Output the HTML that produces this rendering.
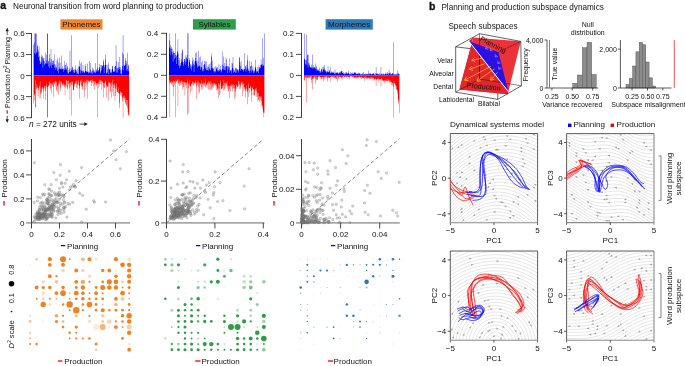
<!DOCTYPE html>
<html><head><meta charset="utf-8"><style>
html,body{margin:0;padding:0;background:#fff;width:685px;height:366px;overflow:hidden}
svg{display:block;will-change:transform}
text{font-family:"Liberation Sans",sans-serif}
</style></head><body>
<svg width="685" height="366" viewBox="0 0 685 366">
<text x="0.20" y="9.40" font-size="10.5" text-anchor="start" fill="#141414" font-weight="bold" stroke="#141414" stroke-width="0.35">a</text>
<text x="13.00" y="9.30" font-size="8.2" text-anchor="start" fill="#141414" >Neuronal transition from word planning to production</text>
<g>
<line x1="31.50" y1="33.10" x2="31.50" y2="118.10" stroke="#2a2a2a" stroke-width="0.9" />
<line x1="26.00" y1="33.50" x2="31.50" y2="33.50" stroke="#2a2a2a" stroke-width="0.85" />
<text x="24.70" y="36.40" font-size="8" text-anchor="end" fill="#141414" >0.6</text>
<line x1="26.00" y1="54.55" x2="31.50" y2="54.55" stroke="#2a2a2a" stroke-width="0.85" />
<text x="24.70" y="57.45" font-size="8" text-anchor="end" fill="#141414" >0.3</text>
<line x1="26.00" y1="75.60" x2="31.50" y2="75.60" stroke="#2a2a2a" stroke-width="0.85" />
<text x="24.70" y="78.50" font-size="8" text-anchor="end" fill="#141414" >0</text>
<line x1="26.00" y1="96.65" x2="31.50" y2="96.65" stroke="#2a2a2a" stroke-width="0.85" />
<text x="24.70" y="99.55" font-size="8" text-anchor="end" fill="#141414" >0.3</text>
<line x1="26.00" y1="117.70" x2="31.50" y2="117.70" stroke="#2a2a2a" stroke-width="0.85" />
<text x="24.70" y="120.60" font-size="8" text-anchor="end" fill="#141414" >0.6</text>
<rect x="60.4" y="19.3" width="42.10" height="10.20" fill="#f0852d"/>
<text x="81.45" y="26.90" font-size="8" text-anchor="middle" fill="#141414" >Phonemes</text>
<path d="M33.60 75.6h0.351v-30.8h-0.351zM33.95 75.6h0.351v-33.2h-0.351zM34.30 75.6h0.351v-42.0h-0.351zM34.65 75.6h0.351v-22.5h-0.351zM35.01 75.6h0.351v-42.0h-0.351zM35.36 75.6h0.351v-21.2h-0.351zM35.71 75.6h0.351v-42.0h-0.351zM36.06 75.6h0.351v-42.1h-0.351zM36.41 75.6h0.351v-23.6h-0.351zM36.76 75.6h0.351v-22.3h-0.351zM37.11 75.6h0.351v-30.9h-0.351zM37.47 75.6h0.351v-29.0h-0.351zM37.82 75.6h0.351v-26.2h-0.351zM38.17 75.6h0.351v-18.5h-0.351zM38.52 75.6h0.351v-24.0h-0.351zM38.87 75.6h0.351v-29.4h-0.351zM39.22 75.6h0.351v-15.0h-0.351zM39.58 75.6h0.351v-19.4h-0.351zM39.93 75.6h0.351v-11.9h-0.351zM40.28 75.6h0.351v-14.1h-0.351zM40.63 75.6h0.351v-11.5h-0.351zM40.98 75.6h0.351v-18.8h-0.351zM41.33 75.6h0.351v-13.1h-0.351zM41.68 75.6h0.351v-21.0h-0.351zM42.04 75.6h0.351v-19.8h-0.351zM42.39 75.6h0.351v-17.4h-0.351zM42.74 75.6h0.351v-8.0h-0.351zM43.09 75.6h0.351v-15.0h-0.351zM43.44 75.6h0.351v-17.4h-0.351zM43.79 75.6h0.351v-18.0h-0.351zM44.14 75.6h0.351v-10.3h-0.351zM44.50 75.6h0.351v-14.3h-0.351zM44.85 75.6h0.351v-11.9h-0.351zM45.20 75.6h0.351v-12.4h-0.351zM45.55 75.6h0.351v-22.8h-0.351zM45.90 75.6h0.351v-11.9h-0.351zM46.25 75.6h0.351v-15.3h-0.351zM46.60 75.6h0.351v-20.5h-0.351zM46.96 75.6h0.351v-12.2h-0.351zM47.31 75.6h0.351v-42.0h-0.351zM47.66 75.6h0.351v-42.0h-0.351zM48.01 75.6h0.351v-14.5h-0.351zM48.36 75.6h0.351v-9.2h-0.351zM48.71 75.6h0.351v-14.1h-0.351zM49.06 75.6h0.351v-21.7h-0.351zM49.42 75.6h0.351v-7.7h-0.351zM49.77 75.6h0.351v-17.6h-0.351zM50.12 75.6h0.351v-13.4h-0.351zM50.47 75.6h0.351v-10.0h-0.351zM50.82 75.6h0.351v-26.5h-0.351zM51.17 75.6h0.351v-16.5h-0.351zM51.52 75.6h0.351v-7.6h-0.351zM51.88 75.6h0.351v-12.3h-0.351zM52.23 75.6h0.351v-14.9h-0.351zM52.58 75.6h0.351v-10.7h-0.351zM52.93 75.6h0.351v-15.3h-0.351zM53.28 75.6h0.351v-10.9h-0.351zM53.63 75.6h0.351v-14.9h-0.351zM53.99 75.6h0.351v-21.0h-0.351zM54.34 75.6h0.351v-7.9h-0.351zM54.69 75.6h0.351v-11.6h-0.351zM55.04 75.6h0.351v-8.3h-0.351zM55.39 75.6h0.351v-10.9h-0.351zM55.74 75.6h0.351v-5.6h-0.351zM56.09 75.6h0.351v-7.4h-0.351zM56.45 75.6h0.351v-8.8h-0.351zM56.80 75.6h0.351v-15.2h-0.351zM57.15 75.6h0.351v-17.3h-0.351zM57.50 75.6h0.351v-4.5h-0.351zM57.85 75.6h0.351v-5.9h-0.351zM58.20 75.6h0.351v-13.0h-0.351zM58.55 75.6h0.351v-2.9h-0.351zM58.91 75.6h0.351v-6.7h-0.351zM59.26 75.6h0.351v-8.2h-0.351zM59.61 75.6h0.351v-18.1h-0.351zM59.96 75.6h0.351v-12.8h-0.351zM60.31 75.6h0.351v-6.8h-0.351zM60.66 75.6h0.351v-6.6h-0.351zM61.01 75.6h0.351v-7.0h-0.351zM61.37 75.6h0.351v-20.0h-0.351zM61.72 75.6h0.351v-6.1h-0.351zM62.07 75.6h0.351v-6.5h-0.351zM62.42 75.6h0.351v-9.4h-0.351zM62.77 75.6h0.351v-7.0h-0.351zM63.12 75.6h0.351v-6.6h-0.351zM63.47 75.6h0.351v-3.8h-0.351zM63.83 75.6h0.351v-7.3h-0.351zM64.18 75.6h0.351v-5.6h-0.351zM64.53 75.6h0.351v-14.6h-0.351zM64.88 75.6h0.351v-10.6h-0.351zM65.23 75.6h0.351v-7.0h-0.351zM65.58 75.6h0.351v-10.6h-0.351zM65.94 75.6h0.351v-5.7h-0.351zM66.29 75.6h0.351v-13.1h-0.351zM66.64 75.6h0.351v-6.8h-0.351zM66.99 75.6h0.351v-9.7h-0.351zM67.34 75.6h0.351v-3.1h-0.351zM67.69 75.6h0.351v-8.3h-0.351zM68.04 75.6h0.351v-2.4h-0.351zM68.40 75.6h0.351v-1.9h-0.351zM68.75 75.6h0.351v-5.4h-0.351zM69.10 75.6h0.351v-3.7h-0.351zM69.45 75.6h0.351v-7.1h-0.351zM69.80 75.6h0.351v-25.2h-0.351zM70.15 75.6h0.351v-3.8h-0.351zM70.50 75.6h0.351v-4.2h-0.351zM70.86 75.6h0.351v-7.0h-0.351zM71.21 75.6h0.351v-40.5h-0.351zM71.56 75.6h0.351v-5.4h-0.351zM71.91 75.6h0.351v-5.3h-0.351zM72.26 75.6h0.351v-9.1h-0.351zM72.61 75.6h0.351v-8.1h-0.351zM72.96 75.6h0.351v-3.1h-0.351zM73.32 75.6h0.351v-5.5h-0.351zM73.67 75.6h0.351v-5.8h-0.351zM74.02 75.6h0.351v-2.9h-0.351zM74.37 75.6h0.351v-6.6h-0.351zM74.72 75.6h0.351v-3.2h-0.351zM75.07 75.6h0.351v-10.1h-0.351zM75.42 75.6h0.351v-6.2h-0.351zM75.78 75.6h0.351v-5.8h-0.351zM76.13 75.6h0.351v-3.8h-0.351zM76.48 75.6h0.351v-5.1h-0.351zM76.83 75.6h0.351v-1.6h-0.351zM77.18 75.6h0.351v-2.7h-0.351zM77.53 75.6h0.351v-6.9h-0.351zM77.89 75.6h0.351v-1.5h-0.351zM78.24 75.6h0.351v-9.3h-0.351zM78.59 75.6h0.351v-1.8h-0.351zM78.94 75.6h0.351v-8.8h-0.351zM79.29 75.6h0.351v-15.0h-0.351zM79.64 75.6h0.351v-9.0h-0.351zM79.99 75.6h0.351v-6.0h-0.351zM80.35 75.6h0.351v-2.1h-0.351zM80.70 75.6h0.351v-12.0h-0.351zM81.05 75.6h0.351v-13.5h-0.351zM81.40 75.6h0.351v-5.2h-0.351zM81.75 75.6h0.351v-4.5h-0.351zM82.10 75.6h0.351v-4.9h-0.351zM82.45 75.6h0.351v-2.9h-0.351zM82.81 75.6h0.351v-10.7h-0.351zM83.16 75.6h0.351v-3.8h-0.351zM83.51 75.6h0.351v-5.1h-0.351zM83.86 75.6h0.351v-3.2h-0.351zM84.21 75.6h0.351v-3.5h-0.351zM84.56 75.6h0.351v-2.3h-0.351zM84.91 75.6h0.351v-11.7h-0.351zM85.27 75.6h0.351v-4.7h-0.351zM85.62 75.6h0.351v-9.6h-0.351zM85.97 75.6h0.351v-5.2h-0.351zM86.32 75.6h0.351v-3.3h-0.351zM86.67 75.6h0.351v-4.2h-0.351zM87.02 75.6h0.351v-3.6h-0.351zM87.38 75.6h0.351v-12.0h-0.351zM87.73 75.6h0.351v-4.0h-0.351zM88.08 75.6h0.351v-4.2h-0.351zM88.43 75.6h0.351v-2.1h-0.351zM88.78 75.6h0.351v-3.0h-0.351zM89.13 75.6h0.351v-14.6h-0.351zM89.48 75.6h0.351v-3.3h-0.351zM89.84 75.6h0.351v-2.5h-0.351zM90.19 75.6h0.351v-6.2h-0.351zM90.54 75.6h0.351v-12.5h-0.351zM90.89 75.6h0.351v-2.0h-0.351zM91.24 75.6h0.351v-4.4h-0.351zM91.59 75.6h0.351v-3.4h-0.351zM91.94 75.6h0.351v-1.6h-0.351zM92.30 75.6h0.351v-8.2h-0.351zM92.65 75.6h0.351v-5.1h-0.351zM93.00 75.6h0.351v-5.4h-0.351zM93.35 75.6h0.351v-3.2h-0.351zM93.70 75.6h0.351v-7.0h-0.351zM94.05 75.6h0.351v-3.7h-0.351zM94.40 75.6h0.351v-4.8h-0.351zM94.76 75.6h0.351v-2.6h-0.351zM95.11 75.6h0.351v-2.4h-0.351zM95.46 75.6h0.351v-12.6h-0.351zM95.81 75.6h0.351v-3.8h-0.351zM96.16 75.6h0.351v-6.4h-0.351zM96.51 75.6h0.351v-5.2h-0.351zM96.86 75.6h0.351v-4.0h-0.351zM97.22 75.6h0.351v-42.0h-0.351zM97.57 75.6h0.351v-8.1h-0.351zM97.92 75.6h0.351v-4.4h-0.351zM98.27 75.6h0.351v-4.9h-0.351zM98.62 75.6h0.351v-5.5h-0.351zM98.97 75.6h0.351v-11.8h-0.351zM99.32 75.6h0.351v-8.6h-0.351zM99.68 75.6h0.351v-7.1h-0.351zM100.03 75.6h0.351v-3.8h-0.351zM100.38 75.6h0.351v-2.2h-0.351zM100.73 75.6h0.351v-10.5h-0.351zM101.08 75.6h0.351v-10.6h-0.351zM101.43 75.6h0.351v-5.2h-0.351zM101.79 75.6h0.351v-8.1h-0.351zM102.14 75.6h0.351v-9.6h-0.351zM102.49 75.6h0.351v-10.0h-0.351zM102.84 75.6h0.351v-10.7h-0.351zM103.19 75.6h0.351v-14.0h-0.351zM103.54 75.6h0.351v-16.0h-0.351zM103.89 75.6h0.351v-2.6h-0.351zM104.25 75.6h0.351v-10.5h-0.351zM104.60 75.6h0.351v-8.3h-0.351zM104.95 75.6h0.351v-10.8h-0.351zM105.30 75.6h0.351v-21.1h-0.351zM105.65 75.6h0.351v-16.4h-0.351zM106.00 75.6h0.351v-2.9h-0.351zM106.35 75.6h0.351v-2.0h-0.351zM106.71 75.6h0.351v-10.7h-0.351zM107.06 75.6h0.351v-3.2h-0.351zM107.41 75.6h0.351v-6.2h-0.351zM107.76 75.6h0.351v-11.0h-0.351zM108.11 75.6h0.351v-13.0h-0.351zM108.46 75.6h0.351v-1.5h-0.351zM108.81 75.6h0.351v-7.6h-0.351zM109.17 75.6h0.351v-6.6h-0.351zM109.52 75.6h0.351v-5.5h-0.351zM109.87 75.6h0.351v-6.7h-0.351zM110.22 75.6h0.351v-3.7h-0.351zM110.57 75.6h0.351v-2.4h-0.351zM110.92 75.6h0.351v-6.0h-0.351zM111.28 75.6h0.351v-3.5h-0.351zM111.63 75.6h0.351v-2.3h-0.351zM111.98 75.6h0.351v-9.8h-0.351zM112.33 75.6h0.351v-6.7h-0.351zM112.68 75.6h0.351v-9.3h-0.351zM113.03 75.6h0.351v-3.7h-0.351zM113.38 75.6h0.351v-4.6h-0.351zM113.74 75.6h0.351v-3.7h-0.351zM114.09 75.6h0.351v-4.0h-0.351zM114.44 75.6h0.351v-8.5h-0.351zM114.79 75.6h0.351v-4.4h-0.351zM115.14 75.6h0.351v-9.6h-0.351zM115.49 75.6h0.351v-9.6h-0.351zM115.84 75.6h0.351v-30.6h-0.351zM116.20 75.6h0.351v-3.0h-0.351zM116.55 75.6h0.351v-14.4h-0.351zM116.90 75.6h0.351v-7.4h-0.351zM117.25 75.6h0.351v-7.9h-0.351zM117.60 75.6h0.351v-3.0h-0.351zM117.95 75.6h0.351v-5.9h-0.351zM118.30 75.6h0.351v-13.6h-0.351zM118.66 75.6h0.351v-7.8h-0.351zM119.01 75.6h0.351v-8.8h-0.351zM119.36 75.6h0.351v-6.9h-0.351zM119.71 75.6h0.351v-18.7h-0.351zM120.06 75.6h0.351v-8.4h-0.351zM120.41 75.6h0.351v-1.9h-0.351zM120.76 75.6h0.351v-5.5h-0.351zM121.12 75.6h0.351v-2.3h-0.351zM121.47 75.6h0.351v-1.0h-0.351zM121.82 75.6h0.351v-6.3h-0.351zM122.17 75.6h0.351v-23.1h-0.351zM122.52 75.6h0.351v-9.6h-0.351zM122.87 75.6h0.351v-40.6h-0.351zM123.22 75.6h0.351v-5.0h-0.351zM123.58 75.6h0.351v-21.1h-0.351zM123.93 75.6h0.351v-10.9h-0.351zM124.28 75.6h0.351v-10.2h-0.351zM124.63 75.6h0.351v-9.6h-0.351zM124.98 75.6h0.351v-10.3h-0.351zM125.33 75.6h0.351v-17.7h-0.351zM125.69 75.6h0.351v-15.0h-0.351zM126.04 75.6h0.351v-12.0h-0.351zM126.39 75.6h0.351v-5.0h-0.351zM126.74 75.6h0.351v-14.9h-0.351zM127.09 75.6h0.351v-6.5h-0.351zM127.44 75.6h0.351v-22.8h-0.351zM127.79 75.6h0.351v-4.4h-0.351zM128.15 75.6h0.351v-9.8h-0.351zM128.50 75.6h0.351v-10.8h-0.351zM128.85 75.6h0.351v-4.3h-0.351z" fill="#0000ff"/>
<path d="M33.60 75.6h0.351v27.8h-0.351zM33.95 75.6h0.351v24.8h-0.351zM34.30 75.6h0.351v20.0h-0.351zM34.65 75.6h0.351v18.5h-0.351zM35.01 75.6h0.351v32.0h-0.351zM35.36 75.6h0.351v4.7h-0.351zM35.71 75.6h0.351v32.0h-0.351zM36.06 75.6h0.351v12.9h-0.351zM36.41 75.6h0.351v13.5h-0.351zM36.76 75.6h0.351v8.4h-0.351zM37.11 75.6h0.351v11.5h-0.351zM37.47 75.6h0.351v11.9h-0.351zM37.82 75.6h0.351v20.3h-0.351zM38.17 75.6h0.351v14.3h-0.351zM38.52 75.6h0.351v12.4h-0.351zM38.87 75.6h0.351v22.7h-0.351zM39.22 75.6h0.351v9.8h-0.351zM39.58 75.6h0.351v10.3h-0.351zM39.93 75.6h0.351v5.8h-0.351zM40.28 75.6h0.351v22.6h-0.351zM40.63 75.6h0.351v17.9h-0.351zM40.98 75.6h0.351v17.7h-0.351zM41.33 75.6h0.351v16.1h-0.351zM41.68 75.6h0.351v12.9h-0.351zM42.04 75.6h0.351v13.6h-0.351zM42.39 75.6h0.351v11.3h-0.351zM42.74 75.6h0.351v11.6h-0.351zM43.09 75.6h0.351v12.9h-0.351zM43.44 75.6h0.351v23.3h-0.351zM43.79 75.6h0.351v16.0h-0.351zM44.14 75.6h0.351v12.6h-0.351zM44.50 75.6h0.351v10.3h-0.351zM44.85 75.6h0.351v10.1h-0.351zM45.20 75.6h0.351v24.3h-0.351zM45.55 75.6h0.351v15.4h-0.351zM45.90 75.6h0.351v12.7h-0.351zM46.25 75.6h0.351v10.6h-0.351zM46.60 75.6h0.351v7.7h-0.351zM46.96 75.6h0.351v11.4h-0.351zM47.31 75.6h0.351v42.0h-0.351zM47.66 75.6h0.351v42.0h-0.351zM48.01 75.6h0.351v10.1h-0.351zM48.36 75.6h0.351v10.0h-0.351zM48.71 75.6h0.351v11.1h-0.351zM49.06 75.6h0.351v5.5h-0.351zM49.42 75.6h0.351v9.3h-0.351zM49.77 75.6h0.351v7.1h-0.351zM50.12 75.6h0.351v14.2h-0.351zM50.47 75.6h0.351v7.3h-0.351zM50.82 75.6h0.351v12.4h-0.351zM51.17 75.6h0.351v18.0h-0.351zM51.52 75.6h0.351v8.6h-0.351zM51.88 75.6h0.351v7.6h-0.351zM52.23 75.6h0.351v10.4h-0.351zM52.58 75.6h0.351v9.6h-0.351zM52.93 75.6h0.351v6.4h-0.351zM53.28 75.6h0.351v11.4h-0.351zM53.63 75.6h0.351v21.1h-0.351zM53.99 75.6h0.351v8.5h-0.351zM54.34 75.6h0.351v8.6h-0.351zM54.69 75.6h0.351v6.1h-0.351zM55.04 75.6h0.351v10.5h-0.351zM55.39 75.6h0.351v5.6h-0.351zM55.74 75.6h0.351v5.9h-0.351zM56.09 75.6h0.351v15.1h-0.351zM56.45 75.6h0.351v6.3h-0.351zM56.80 75.6h0.351v13.8h-0.351zM57.15 75.6h0.351v16.4h-0.351zM57.50 75.6h0.351v9.8h-0.351zM57.85 75.6h0.351v11.0h-0.351zM58.20 75.6h0.351v19.1h-0.351zM58.55 75.6h0.351v8.0h-0.351zM58.91 75.6h0.351v6.8h-0.351zM59.26 75.6h0.351v5.0h-0.351zM59.61 75.6h0.351v8.7h-0.351zM59.96 75.6h0.351v15.4h-0.351zM60.31 75.6h0.351v12.6h-0.351zM60.66 75.6h0.351v5.9h-0.351zM61.01 75.6h0.351v6.2h-0.351zM61.37 75.6h0.351v7.1h-0.351zM61.72 75.6h0.351v9.9h-0.351zM62.07 75.6h0.351v8.1h-0.351zM62.42 75.6h0.351v9.7h-0.351zM62.77 75.6h0.351v10.1h-0.351zM63.12 75.6h0.351v8.0h-0.351zM63.47 75.6h0.351v8.9h-0.351zM63.83 75.6h0.351v9.9h-0.351zM64.18 75.6h0.351v8.9h-0.351zM64.53 75.6h0.351v11.3h-0.351zM64.88 75.6h0.351v19.6h-0.351zM65.23 75.6h0.351v11.8h-0.351zM65.58 75.6h0.351v9.6h-0.351zM65.94 75.6h0.351v4.8h-0.351zM66.29 75.6h0.351v11.1h-0.351zM66.64 75.6h0.351v4.4h-0.351zM66.99 75.6h0.351v5.4h-0.351zM67.34 75.6h0.351v13.6h-0.351zM67.69 75.6h0.351v12.8h-0.351zM68.04 75.6h0.351v9.2h-0.351zM68.40 75.6h0.351v4.9h-0.351zM68.75 75.6h0.351v8.5h-0.351zM69.10 75.6h0.351v7.5h-0.351zM69.45 75.6h0.351v12.8h-0.351zM69.80 75.6h0.351v24.7h-0.351zM70.15 75.6h0.351v10.9h-0.351zM70.50 75.6h0.351v7.2h-0.351zM70.86 75.6h0.351v6.2h-0.351zM71.21 75.6h0.351v40.0h-0.351zM71.56 75.6h0.351v9.1h-0.351zM71.91 75.6h0.351v6.1h-0.351zM72.26 75.6h0.351v10.1h-0.351zM72.61 75.6h0.351v6.0h-0.351zM72.96 75.6h0.351v14.9h-0.351zM73.32 75.6h0.351v14.5h-0.351zM73.67 75.6h0.351v14.5h-0.351zM74.02 75.6h0.351v7.8h-0.351zM74.37 75.6h0.351v11.4h-0.351zM74.72 75.6h0.351v8.8h-0.351zM75.07 75.6h0.351v7.9h-0.351zM75.42 75.6h0.351v8.0h-0.351zM75.78 75.6h0.351v5.4h-0.351zM76.13 75.6h0.351v5.1h-0.351zM76.48 75.6h0.351v12.4h-0.351zM76.83 75.6h0.351v8.3h-0.351zM77.18 75.6h0.351v9.7h-0.351zM77.53 75.6h0.351v13.2h-0.351zM77.89 75.6h0.351v4.4h-0.351zM78.24 75.6h0.351v6.4h-0.351zM78.59 75.6h0.351v9.3h-0.351zM78.94 75.6h0.351v10.1h-0.351zM79.29 75.6h0.351v23.0h-0.351zM79.64 75.6h0.351v12.9h-0.351zM79.99 75.6h0.351v9.2h-0.351zM80.35 75.6h0.351v5.2h-0.351zM80.70 75.6h0.351v5.8h-0.351zM81.05 75.6h0.351v11.5h-0.351zM81.40 75.6h0.351v9.9h-0.351zM81.75 75.6h0.351v3.8h-0.351zM82.10 75.6h0.351v14.0h-0.351zM82.45 75.6h0.351v10.3h-0.351zM82.81 75.6h0.351v13.8h-0.351zM83.16 75.6h0.351v6.9h-0.351zM83.51 75.6h0.351v7.1h-0.351zM83.86 75.6h0.351v5.0h-0.351zM84.21 75.6h0.351v21.6h-0.351zM84.56 75.6h0.351v7.3h-0.351zM84.91 75.6h0.351v14.6h-0.351zM85.27 75.6h0.351v5.9h-0.351zM85.62 75.6h0.351v8.1h-0.351zM85.97 75.6h0.351v3.9h-0.351zM86.32 75.6h0.351v6.5h-0.351zM86.67 75.6h0.351v11.1h-0.351zM87.02 75.6h0.351v4.5h-0.351zM87.38 75.6h0.351v23.0h-0.351zM87.73 75.6h0.351v8.4h-0.351zM88.08 75.6h0.351v4.8h-0.351zM88.43 75.6h0.351v5.9h-0.351zM88.78 75.6h0.351v6.0h-0.351zM89.13 75.6h0.351v7.0h-0.351zM89.48 75.6h0.351v5.7h-0.351zM89.84 75.6h0.351v5.0h-0.351zM90.19 75.6h0.351v6.2h-0.351zM90.54 75.6h0.351v4.7h-0.351zM90.89 75.6h0.351v4.3h-0.351zM91.24 75.6h0.351v7.1h-0.351zM91.59 75.6h0.351v10.3h-0.351zM91.94 75.6h0.351v4.0h-0.351zM92.30 75.6h0.351v7.4h-0.351zM92.65 75.6h0.351v5.7h-0.351zM93.00 75.6h0.351v5.1h-0.351zM93.35 75.6h0.351v10.6h-0.351zM93.70 75.6h0.351v6.2h-0.351zM94.05 75.6h0.351v13.9h-0.351zM94.40 75.6h0.351v5.6h-0.351zM94.76 75.6h0.351v9.0h-0.351zM95.11 75.6h0.351v7.1h-0.351zM95.46 75.6h0.351v5.8h-0.351zM95.81 75.6h0.351v10.0h-0.351zM96.16 75.6h0.351v7.5h-0.351zM96.51 75.6h0.351v10.2h-0.351zM96.86 75.6h0.351v7.9h-0.351zM97.22 75.6h0.351v42.0h-0.351zM97.57 75.6h0.351v7.8h-0.351zM97.92 75.6h0.351v8.4h-0.351zM98.27 75.6h0.351v12.1h-0.351zM98.62 75.6h0.351v5.8h-0.351zM98.97 75.6h0.351v8.2h-0.351zM99.32 75.6h0.351v4.2h-0.351zM99.68 75.6h0.351v11.0h-0.351zM100.03 75.6h0.351v5.6h-0.351zM100.38 75.6h0.351v4.2h-0.351zM100.73 75.6h0.351v8.6h-0.351zM101.08 75.6h0.351v13.8h-0.351zM101.43 75.6h0.351v4.9h-0.351zM101.79 75.6h0.351v5.9h-0.351zM102.14 75.6h0.351v6.8h-0.351zM102.49 75.6h0.351v5.9h-0.351zM102.84 75.6h0.351v10.9h-0.351zM103.19 75.6h0.351v22.0h-0.351zM103.54 75.6h0.351v7.2h-0.351zM103.89 75.6h0.351v12.3h-0.351zM104.25 75.6h0.351v7.3h-0.351zM104.60 75.6h0.351v11.8h-0.351zM104.95 75.6h0.351v6.8h-0.351zM105.30 75.6h0.351v6.2h-0.351zM105.65 75.6h0.351v4.9h-0.351zM106.00 75.6h0.351v21.8h-0.351zM106.35 75.6h0.351v9.2h-0.351zM106.71 75.6h0.351v11.6h-0.351zM107.06 75.6h0.351v10.5h-0.351zM107.41 75.6h0.351v11.5h-0.351zM107.76 75.6h0.351v11.1h-0.351zM108.11 75.6h0.351v25.0h-0.351zM108.46 75.6h0.351v7.3h-0.351zM108.81 75.6h0.351v6.0h-0.351zM109.17 75.6h0.351v7.5h-0.351zM109.52 75.6h0.351v6.7h-0.351zM109.87 75.6h0.351v15.5h-0.351zM110.22 75.6h0.351v16.3h-0.351zM110.57 75.6h0.351v8.1h-0.351zM110.92 75.6h0.351v7.0h-0.351zM111.28 75.6h0.351v10.7h-0.351zM111.63 75.6h0.351v21.9h-0.351zM111.98 75.6h0.351v4.1h-0.351zM112.33 75.6h0.351v16.1h-0.351zM112.68 75.6h0.351v8.6h-0.351zM113.03 75.6h0.351v20.4h-0.351zM113.38 75.6h0.351v8.9h-0.351zM113.74 75.6h0.351v12.4h-0.351zM114.09 75.6h0.351v7.7h-0.351zM114.44 75.6h0.351v9.7h-0.351zM114.79 75.6h0.351v25.2h-0.351zM115.14 75.6h0.351v20.4h-0.351zM115.49 75.6h0.351v12.9h-0.351zM115.84 75.6h0.351v11.1h-0.351zM116.20 75.6h0.351v7.8h-0.351zM116.55 75.6h0.351v13.9h-0.351zM116.90 75.6h0.351v16.2h-0.351zM117.25 75.6h0.351v16.2h-0.351zM117.60 75.6h0.351v16.5h-0.351zM117.95 75.6h0.351v11.9h-0.351zM118.30 75.6h0.351v17.3h-0.351zM118.66 75.6h0.351v17.7h-0.351zM119.01 75.6h0.351v27.3h-0.351zM119.36 75.6h0.351v32.7h-0.351zM119.71 75.6h0.351v18.1h-0.351zM120.06 75.6h0.351v15.5h-0.351zM120.41 75.6h0.351v19.5h-0.351zM120.76 75.6h0.351v17.2h-0.351zM121.12 75.6h0.351v17.1h-0.351zM121.47 75.6h0.351v21.0h-0.351zM121.82 75.6h0.351v16.8h-0.351zM122.17 75.6h0.351v25.9h-0.351zM122.52 75.6h0.351v22.2h-0.351zM122.87 75.6h0.351v42.0h-0.351zM123.22 75.6h0.351v22.8h-0.351zM123.58 75.6h0.351v20.6h-0.351zM123.93 75.6h0.351v20.1h-0.351zM124.28 75.6h0.351v24.0h-0.351zM124.63 75.6h0.351v22.9h-0.351zM124.98 75.6h0.351v27.8h-0.351zM125.33 75.6h0.351v27.7h-0.351zM125.69 75.6h0.351v22.1h-0.351zM126.04 75.6h0.351v30.4h-0.351zM126.39 75.6h0.351v24.3h-0.351zM126.74 75.6h0.351v29.0h-0.351zM127.09 75.6h0.351v31.9h-0.351zM127.44 75.6h0.351v24.3h-0.351zM127.79 75.6h0.351v36.5h-0.351zM128.15 75.6h0.351v39.1h-0.351zM128.50 75.6h0.351v39.5h-0.351zM128.85 75.6h0.351v40.1h-0.351z" fill="#ff0000"/>
<line x1="166.50" y1="32.90" x2="166.50" y2="117.70" stroke="#2a2a2a" stroke-width="0.9" />
<line x1="161.00" y1="33.30" x2="166.50" y2="33.30" stroke="#2a2a2a" stroke-width="0.85" />
<text x="158.10" y="36.20" font-size="8" text-anchor="end" fill="#141414" >0.4</text>
<line x1="161.00" y1="54.30" x2="166.50" y2="54.30" stroke="#2a2a2a" stroke-width="0.85" />
<text x="158.10" y="57.20" font-size="8" text-anchor="end" fill="#141414" >0.2</text>
<line x1="161.00" y1="75.30" x2="166.50" y2="75.30" stroke="#2a2a2a" stroke-width="0.85" />
<text x="158.10" y="78.20" font-size="8" text-anchor="end" fill="#141414" >0</text>
<line x1="161.00" y1="96.30" x2="166.50" y2="96.30" stroke="#2a2a2a" stroke-width="0.85" />
<text x="158.10" y="99.20" font-size="8" text-anchor="end" fill="#141414" >0.2</text>
<line x1="161.00" y1="117.30" x2="166.50" y2="117.30" stroke="#2a2a2a" stroke-width="0.85" />
<text x="158.10" y="120.20" font-size="8" text-anchor="end" fill="#141414" >0.4</text>
<rect x="193" y="19.2" width="42.80" height="10.40" fill="#2f9e4a"/>
<text x="214.40" y="27.00" font-size="8" text-anchor="middle" fill="#141414" >Syllables</text>
<path d="M169.00 75.3h0.351v-35.1h-0.351zM169.35 75.3h0.351v-27.9h-0.351zM169.70 75.3h0.351v-42.0h-0.351zM170.05 75.3h0.351v-27.0h-0.351zM170.40 75.3h0.351v-30.4h-0.351zM170.75 75.3h0.351v-20.6h-0.351zM171.10 75.3h0.351v-28.6h-0.351zM171.46 75.3h0.351v-26.5h-0.351zM171.81 75.3h0.351v-23.2h-0.351zM172.16 75.3h0.351v-20.8h-0.351zM172.51 75.3h0.351v-26.6h-0.351zM172.86 75.3h0.351v-14.1h-0.351zM173.21 75.3h0.351v-24.6h-0.351zM173.56 75.3h0.351v-22.6h-0.351zM173.91 75.3h0.351v-22.2h-0.351zM174.26 75.3h0.351v-22.2h-0.351zM174.61 75.3h0.351v-16.1h-0.351zM174.96 75.3h0.351v-17.5h-0.351zM175.31 75.3h0.351v-42.0h-0.351zM175.66 75.3h0.351v-20.8h-0.351zM176.01 75.3h0.351v-19.2h-0.351zM176.37 75.3h0.351v-11.3h-0.351zM176.72 75.3h0.351v-20.5h-0.351zM177.07 75.3h0.351v-24.5h-0.351zM177.42 75.3h0.351v-23.0h-0.351zM177.77 75.3h0.351v-36.0h-0.351zM178.12 75.3h0.351v-10.1h-0.351zM178.47 75.3h0.351v-21.5h-0.351zM178.82 75.3h0.351v-15.1h-0.351zM179.17 75.3h0.351v-7.0h-0.351zM179.52 75.3h0.351v-17.2h-0.351zM179.87 75.3h0.351v-9.3h-0.351zM180.22 75.3h0.351v-9.8h-0.351zM180.57 75.3h0.351v-12.1h-0.351zM180.93 75.3h0.351v-22.4h-0.351zM181.28 75.3h0.351v-13.0h-0.351zM181.63 75.3h0.351v-16.0h-0.351zM181.98 75.3h0.351v-26.0h-0.351zM182.33 75.3h0.351v-24.7h-0.351zM182.68 75.3h0.351v-13.9h-0.351zM183.03 75.3h0.351v-13.2h-0.351zM183.38 75.3h0.351v-9.3h-0.351zM183.73 75.3h0.351v-11.2h-0.351zM184.08 75.3h0.351v-16.4h-0.351zM184.43 75.3h0.351v-16.2h-0.351zM184.78 75.3h0.351v-14.6h-0.351zM185.13 75.3h0.351v-19.8h-0.351zM185.48 75.3h0.351v-10.6h-0.351zM185.84 75.3h0.351v-13.6h-0.351zM186.19 75.3h0.351v-18.1h-0.351zM186.54 75.3h0.351v-17.1h-0.351zM186.89 75.3h0.351v-20.5h-0.351zM187.24 75.3h0.351v-16.0h-0.351zM187.59 75.3h0.351v-42.0h-0.351zM187.94 75.3h0.351v-42.0h-0.351zM188.29 75.3h0.351v-9.3h-0.351zM188.64 75.3h0.351v-7.2h-0.351zM188.99 75.3h0.351v-17.1h-0.351zM189.34 75.3h0.351v-13.3h-0.351zM189.69 75.3h0.351v-15.3h-0.351zM190.04 75.3h0.351v-6.8h-0.351zM190.39 75.3h0.351v-11.3h-0.351zM190.75 75.3h0.351v-10.1h-0.351zM191.10 75.3h0.351v-8.9h-0.351zM191.45 75.3h0.351v-4.9h-0.351zM191.80 75.3h0.351v-10.7h-0.351zM192.15 75.3h0.351v-17.7h-0.351zM192.50 75.3h0.351v-14.0h-0.351zM192.85 75.3h0.351v-9.0h-0.351zM193.20 75.3h0.351v-11.4h-0.351zM193.55 75.3h0.351v-15.7h-0.351zM193.90 75.3h0.351v-3.3h-0.351zM194.25 75.3h0.351v-10.3h-0.351zM194.60 75.3h0.351v-13.6h-0.351zM194.95 75.3h0.351v-14.2h-0.351zM195.31 75.3h0.351v-22.4h-0.351zM195.66 75.3h0.351v-17.2h-0.351zM196.01 75.3h0.351v-11.7h-0.351zM196.36 75.3h0.351v-23.0h-0.351zM196.71 75.3h0.351v-14.4h-0.351zM197.06 75.3h0.351v-7.6h-0.351zM197.41 75.3h0.351v-9.5h-0.351zM197.76 75.3h0.351v-14.9h-0.351zM198.11 75.3h0.351v-24.5h-0.351zM198.46 75.3h0.351v-8.7h-0.351zM198.81 75.3h0.351v-9.1h-0.351zM199.16 75.3h0.351v-10.1h-0.351zM199.51 75.3h0.351v-17.7h-0.351zM199.86 75.3h0.351v-8.9h-0.351zM200.22 75.3h0.351v-18.7h-0.351zM200.57 75.3h0.351v-5.5h-0.351zM200.92 75.3h0.351v-8.1h-0.351zM201.27 75.3h0.351v-8.0h-0.351zM201.62 75.3h0.351v-13.1h-0.351zM201.97 75.3h0.351v-14.8h-0.351zM202.32 75.3h0.351v-4.1h-0.351zM202.67 75.3h0.351v-5.5h-0.351zM203.02 75.3h0.351v-10.3h-0.351zM203.37 75.3h0.351v-6.2h-0.351zM203.72 75.3h0.351v-4.0h-0.351zM204.07 75.3h0.351v-14.5h-0.351zM204.42 75.3h0.351v-11.0h-0.351zM204.77 75.3h0.351v-10.9h-0.351zM205.13 75.3h0.351v-6.6h-0.351zM205.48 75.3h0.351v-14.0h-0.351zM205.83 75.3h0.351v-7.3h-0.351zM206.18 75.3h0.351v-14.1h-0.351zM206.53 75.3h0.351v-5.0h-0.351zM206.88 75.3h0.351v-5.1h-0.351zM207.23 75.3h0.351v-8.6h-0.351zM207.58 75.3h0.351v-5.4h-0.351zM207.93 75.3h0.351v-10.7h-0.351zM208.28 75.3h0.351v-8.5h-0.351zM208.63 75.3h0.351v-4.6h-0.351zM208.98 75.3h0.351v-7.5h-0.351zM209.33 75.3h0.351v-6.0h-0.351zM209.69 75.3h0.351v-11.2h-0.351zM210.04 75.3h0.351v-5.1h-0.351zM210.39 75.3h0.351v-5.6h-0.351zM210.74 75.3h0.351v-12.8h-0.351zM211.09 75.3h0.351v-21.5h-0.351zM211.44 75.3h0.351v-18.9h-0.351zM211.79 75.3h0.351v-7.0h-0.351zM212.14 75.3h0.351v-7.6h-0.351zM212.49 75.3h0.351v-14.7h-0.351zM212.84 75.3h0.351v-6.3h-0.351zM213.19 75.3h0.351v-4.0h-0.351zM213.54 75.3h0.351v-7.0h-0.351zM213.89 75.3h0.351v-8.3h-0.351zM214.24 75.3h0.351v-4.3h-0.351zM214.60 75.3h0.351v-2.8h-0.351zM214.95 75.3h0.351v-3.1h-0.351zM215.30 75.3h0.351v-9.1h-0.351zM215.65 75.3h0.351v-4.4h-0.351zM216.00 75.3h0.351v-6.0h-0.351zM216.35 75.3h0.351v-7.2h-0.351zM216.70 75.3h0.351v-8.9h-0.351zM217.05 75.3h0.351v-5.5h-0.351zM217.40 75.3h0.351v-8.4h-0.351zM217.75 75.3h0.351v-4.1h-0.351zM218.10 75.3h0.351v-5.4h-0.351zM218.45 75.3h0.351v-3.8h-0.351zM218.80 75.3h0.351v-11.6h-0.351zM219.16 75.3h0.351v-6.4h-0.351zM219.51 75.3h0.351v-4.4h-0.351zM219.86 75.3h0.351v-5.4h-0.351zM220.21 75.3h0.351v-5.8h-0.351zM220.56 75.3h0.351v-9.3h-0.351zM220.91 75.3h0.351v-2.9h-0.351zM221.26 75.3h0.351v-3.8h-0.351zM221.61 75.3h0.351v-5.3h-0.351zM221.96 75.3h0.351v-24.1h-0.351zM222.31 75.3h0.351v-10.7h-0.351zM222.66 75.3h0.351v-6.1h-0.351zM223.01 75.3h0.351v-9.4h-0.351zM223.36 75.3h0.351v-18.9h-0.351zM223.71 75.3h0.351v-5.8h-0.351zM224.07 75.3h0.351v-5.4h-0.351zM224.42 75.3h0.351v-12.2h-0.351zM224.77 75.3h0.351v-8.4h-0.351zM225.12 75.3h0.351v-9.2h-0.351zM225.47 75.3h0.351v-5.0h-0.351zM225.82 75.3h0.351v-17.7h-0.351zM226.17 75.3h0.351v-15.8h-0.351zM226.52 75.3h0.351v-8.7h-0.351zM226.87 75.3h0.351v-9.3h-0.351zM227.22 75.3h0.351v-2.3h-0.351zM227.57 75.3h0.351v-9.1h-0.351zM227.92 75.3h0.351v-5.9h-0.351zM228.27 75.3h0.351v-8.2h-0.351zM228.62 75.3h0.351v-9.3h-0.351zM228.98 75.3h0.351v-17.0h-0.351zM229.33 75.3h0.351v-2.7h-0.351zM229.68 75.3h0.351v-7.9h-0.351zM230.03 75.3h0.351v-4.4h-0.351zM230.38 75.3h0.351v-5.5h-0.351zM230.73 75.3h0.351v-4.7h-0.351zM231.08 75.3h0.351v-5.4h-0.351zM231.43 75.3h0.351v-1.9h-0.351zM231.78 75.3h0.351v-12.3h-0.351zM232.13 75.3h0.351v-7.4h-0.351zM232.48 75.3h0.351v-11.7h-0.351zM232.83 75.3h0.351v-18.4h-0.351zM233.18 75.3h0.351v-6.6h-0.351zM233.54 75.3h0.351v-2.5h-0.351zM233.89 75.3h0.351v-4.1h-0.351zM234.24 75.3h0.351v-3.4h-0.351zM234.59 75.3h0.351v-5.0h-0.351zM234.94 75.3h0.351v-6.8h-0.351zM235.29 75.3h0.351v-2.3h-0.351zM235.64 75.3h0.351v-7.8h-0.351zM235.99 75.3h0.351v-2.9h-0.351zM236.34 75.3h0.351v-7.6h-0.351zM236.69 75.3h0.351v-6.1h-0.351zM237.04 75.3h0.351v-5.5h-0.351zM237.39 75.3h0.351v-6.3h-0.351zM237.74 75.3h0.351v-4.9h-0.351zM238.09 75.3h0.351v-4.7h-0.351zM238.45 75.3h0.351v-2.7h-0.351zM238.80 75.3h0.351v-6.4h-0.351zM239.15 75.3h0.351v-17.3h-0.351zM239.50 75.3h0.351v-18.6h-0.351zM239.85 75.3h0.351v-13.1h-0.351zM240.20 75.3h0.351v-9.5h-0.351zM240.55 75.3h0.351v-4.5h-0.351zM240.90 75.3h0.351v-14.0h-0.351zM241.25 75.3h0.351v-6.3h-0.351zM241.60 75.3h0.351v-6.3h-0.351zM241.95 75.3h0.351v-5.6h-0.351zM242.30 75.3h0.351v-6.8h-0.351zM242.65 75.3h0.351v-5.2h-0.351zM243.01 75.3h0.351v-6.2h-0.351zM243.36 75.3h0.351v-3.6h-0.351zM243.71 75.3h0.351v-5.3h-0.351zM244.06 75.3h0.351v-22.0h-0.351zM244.41 75.3h0.351v-6.3h-0.351zM244.76 75.3h0.351v-5.7h-0.351zM245.11 75.3h0.351v-8.6h-0.351zM245.46 75.3h0.351v-9.5h-0.351zM245.81 75.3h0.351v-3.6h-0.351zM246.16 75.3h0.351v-5.8h-0.351zM246.51 75.3h0.351v-10.6h-0.351zM246.86 75.3h0.351v-7.5h-0.351zM247.21 75.3h0.351v-20.0h-0.351zM247.56 75.3h0.351v-15.0h-0.351zM247.92 75.3h0.351v-4.5h-0.351zM248.27 75.3h0.351v-6.8h-0.351zM248.62 75.3h0.351v-4.9h-0.351zM248.97 75.3h0.351v-14.5h-0.351zM249.32 75.3h0.351v-2.3h-0.351zM249.67 75.3h0.351v-4.5h-0.351zM250.02 75.3h0.351v-4.9h-0.351zM250.37 75.3h0.351v-9.3h-0.351zM250.72 75.3h0.351v-9.0h-0.351zM251.07 75.3h0.351v-13.8h-0.351zM251.42 75.3h0.351v-2.8h-0.351zM251.77 75.3h0.351v-9.8h-0.351zM252.12 75.3h0.351v-5.5h-0.351zM252.47 75.3h0.351v-4.5h-0.351zM252.83 75.3h0.351v-8.7h-0.351zM253.18 75.3h0.351v-3.9h-0.351zM253.53 75.3h0.351v-2.1h-0.351zM253.88 75.3h0.351v-5.3h-0.351zM254.23 75.3h0.351v-2.9h-0.351zM254.58 75.3h0.351v-4.6h-0.351zM254.93 75.3h0.351v-8.0h-0.351zM255.28 75.3h0.351v-7.8h-0.351zM255.63 75.3h0.351v-15.6h-0.351zM255.98 75.3h0.351v-5.9h-0.351zM256.33 75.3h0.351v-2.9h-0.351zM256.68 75.3h0.351v-4.4h-0.351zM257.03 75.3h0.351v-4.1h-0.351zM257.39 75.3h0.351v-3.5h-0.351zM257.74 75.3h0.351v-8.6h-0.351zM258.09 75.3h0.351v-4.8h-0.351zM258.44 75.3h0.351v-2.3h-0.351zM258.79 75.3h0.351v-10.1h-0.351zM259.14 75.3h0.351v-6.5h-0.351zM259.49 75.3h0.351v-8.5h-0.351zM259.84 75.3h0.351v-7.4h-0.351zM260.19 75.3h0.351v-10.4h-0.351zM260.54 75.3h0.351v-7.9h-0.351zM260.89 75.3h0.351v-15.9h-0.351zM261.24 75.3h0.351v-10.6h-0.351zM261.59 75.3h0.351v-10.9h-0.351zM261.94 75.3h0.351v-11.4h-0.351zM262.30 75.3h0.351v-37.0h-0.351zM262.65 75.3h0.351v-9.0h-0.351zM263.00 75.3h0.351v-10.3h-0.351zM263.35 75.3h0.351v-17.5h-0.351zM263.70 75.3h0.351v-9.2h-0.351zM264.05 75.3h0.351v-42.0h-0.351z" fill="#0000ff"/>
<path d="M169.00 75.3h0.351v8.3h-0.351zM169.35 75.3h0.351v5.1h-0.351zM169.70 75.3h0.351v42.0h-0.351zM170.05 75.3h0.351v7.2h-0.351zM170.40 75.3h0.351v7.7h-0.351zM170.75 75.3h0.351v6.1h-0.351zM171.10 75.3h0.351v8.3h-0.351zM171.46 75.3h0.351v6.3h-0.351zM171.81 75.3h0.351v9.9h-0.351zM172.16 75.3h0.351v6.1h-0.351zM172.51 75.3h0.351v7.9h-0.351zM172.86 75.3h0.351v11.6h-0.351zM173.21 75.3h0.351v21.2h-0.351zM173.56 75.3h0.351v5.5h-0.351zM173.91 75.3h0.351v6.7h-0.351zM174.26 75.3h0.351v5.8h-0.351zM174.61 75.3h0.351v10.8h-0.351zM174.96 75.3h0.351v5.2h-0.351zM175.31 75.3h0.351v42.0h-0.351zM175.66 75.3h0.351v7.9h-0.351zM176.01 75.3h0.351v5.5h-0.351zM176.37 75.3h0.351v5.6h-0.351zM176.72 75.3h0.351v6.7h-0.351zM177.07 75.3h0.351v3.6h-0.351zM177.42 75.3h0.351v4.6h-0.351zM177.77 75.3h0.351v31.0h-0.351zM178.12 75.3h0.351v8.5h-0.351zM178.47 75.3h0.351v7.5h-0.351zM178.82 75.3h0.351v4.1h-0.351zM179.17 75.3h0.351v6.7h-0.351zM179.52 75.3h0.351v10.8h-0.351zM179.87 75.3h0.351v9.9h-0.351zM180.22 75.3h0.351v7.8h-0.351zM180.57 75.3h0.351v5.7h-0.351zM180.93 75.3h0.351v10.1h-0.351zM181.28 75.3h0.351v6.4h-0.351zM181.63 75.3h0.351v5.2h-0.351zM181.98 75.3h0.351v5.9h-0.351zM182.33 75.3h0.351v13.8h-0.351zM182.68 75.3h0.351v8.7h-0.351zM183.03 75.3h0.351v12.3h-0.351zM183.38 75.3h0.351v6.7h-0.351zM183.73 75.3h0.351v11.4h-0.351zM184.08 75.3h0.351v6.4h-0.351zM184.43 75.3h0.351v7.5h-0.351zM184.78 75.3h0.351v20.2h-0.351zM185.13 75.3h0.351v10.7h-0.351zM185.48 75.3h0.351v6.6h-0.351zM185.84 75.3h0.351v7.8h-0.351zM186.19 75.3h0.351v9.0h-0.351zM186.54 75.3h0.351v12.6h-0.351zM186.89 75.3h0.351v6.7h-0.351zM187.24 75.3h0.351v4.2h-0.351zM187.59 75.3h0.351v40.0h-0.351zM187.94 75.3h0.351v38.0h-0.351zM188.29 75.3h0.351v8.3h-0.351zM188.64 75.3h0.351v13.0h-0.351zM188.99 75.3h0.351v9.0h-0.351zM189.34 75.3h0.351v10.8h-0.351zM189.69 75.3h0.351v5.3h-0.351zM190.04 75.3h0.351v11.0h-0.351zM190.39 75.3h0.351v17.4h-0.351zM190.75 75.3h0.351v10.7h-0.351zM191.10 75.3h0.351v8.8h-0.351zM191.45 75.3h0.351v8.5h-0.351zM191.80 75.3h0.351v15.5h-0.351zM192.15 75.3h0.351v5.7h-0.351zM192.50 75.3h0.351v7.7h-0.351zM192.85 75.3h0.351v9.5h-0.351zM193.20 75.3h0.351v10.5h-0.351zM193.55 75.3h0.351v6.8h-0.351zM193.90 75.3h0.351v9.0h-0.351zM194.25 75.3h0.351v7.2h-0.351zM194.60 75.3h0.351v8.4h-0.351zM194.95 75.3h0.351v7.6h-0.351zM195.31 75.3h0.351v5.3h-0.351zM195.66 75.3h0.351v7.9h-0.351zM196.01 75.3h0.351v11.1h-0.351zM196.36 75.3h0.351v24.0h-0.351zM196.71 75.3h0.351v7.3h-0.351zM197.06 75.3h0.351v10.2h-0.351zM197.41 75.3h0.351v5.4h-0.351zM197.76 75.3h0.351v8.6h-0.351zM198.11 75.3h0.351v5.4h-0.351zM198.46 75.3h0.351v12.1h-0.351zM198.81 75.3h0.351v18.7h-0.351zM199.16 75.3h0.351v16.8h-0.351zM199.51 75.3h0.351v7.4h-0.351zM199.86 75.3h0.351v10.5h-0.351zM200.22 75.3h0.351v8.4h-0.351zM200.57 75.3h0.351v8.4h-0.351zM200.92 75.3h0.351v14.4h-0.351zM201.27 75.3h0.351v5.1h-0.351zM201.62 75.3h0.351v12.2h-0.351zM201.97 75.3h0.351v8.2h-0.351zM202.32 75.3h0.351v14.0h-0.351zM202.67 75.3h0.351v9.0h-0.351zM203.02 75.3h0.351v6.6h-0.351zM203.37 75.3h0.351v9.4h-0.351zM203.72 75.3h0.351v11.2h-0.351zM204.07 75.3h0.351v8.8h-0.351zM204.42 75.3h0.351v10.4h-0.351zM204.77 75.3h0.351v7.2h-0.351zM205.13 75.3h0.351v4.0h-0.351zM205.48 75.3h0.351v12.3h-0.351zM205.83 75.3h0.351v11.5h-0.351zM206.18 75.3h0.351v9.4h-0.351zM206.53 75.3h0.351v9.2h-0.351zM206.88 75.3h0.351v13.2h-0.351zM207.23 75.3h0.351v7.7h-0.351zM207.58 75.3h0.351v7.1h-0.351zM207.93 75.3h0.351v8.6h-0.351zM208.28 75.3h0.351v14.3h-0.351zM208.63 75.3h0.351v5.6h-0.351zM208.98 75.3h0.351v14.4h-0.351zM209.33 75.3h0.351v7.5h-0.351zM209.69 75.3h0.351v6.4h-0.351zM210.04 75.3h0.351v15.0h-0.351zM210.39 75.3h0.351v9.2h-0.351zM210.74 75.3h0.351v6.0h-0.351zM211.09 75.3h0.351v8.4h-0.351zM211.44 75.3h0.351v13.5h-0.351zM211.79 75.3h0.351v14.9h-0.351zM212.14 75.3h0.351v8.3h-0.351zM212.49 75.3h0.351v11.3h-0.351zM212.84 75.3h0.351v12.6h-0.351zM213.19 75.3h0.351v7.7h-0.351zM213.54 75.3h0.351v11.2h-0.351zM213.89 75.3h0.351v9.7h-0.351zM214.24 75.3h0.351v8.1h-0.351zM214.60 75.3h0.351v8.3h-0.351zM214.95 75.3h0.351v10.2h-0.351zM215.30 75.3h0.351v10.1h-0.351zM215.65 75.3h0.351v8.1h-0.351zM216.00 75.3h0.351v8.6h-0.351zM216.35 75.3h0.351v15.0h-0.351zM216.70 75.3h0.351v10.9h-0.351zM217.05 75.3h0.351v13.9h-0.351zM217.40 75.3h0.351v15.6h-0.351zM217.75 75.3h0.351v12.6h-0.351zM218.10 75.3h0.351v23.0h-0.351zM218.45 75.3h0.351v7.6h-0.351zM218.80 75.3h0.351v13.7h-0.351zM219.16 75.3h0.351v9.2h-0.351zM219.51 75.3h0.351v20.1h-0.351zM219.86 75.3h0.351v19.0h-0.351zM220.21 75.3h0.351v5.1h-0.351zM220.56 75.3h0.351v7.3h-0.351zM220.91 75.3h0.351v13.2h-0.351zM221.26 75.3h0.351v13.9h-0.351zM221.61 75.3h0.351v13.6h-0.351zM221.96 75.3h0.351v10.2h-0.351zM222.31 75.3h0.351v12.4h-0.351zM222.66 75.3h0.351v13.3h-0.351zM223.01 75.3h0.351v10.3h-0.351zM223.36 75.3h0.351v15.3h-0.351zM223.71 75.3h0.351v4.8h-0.351zM224.07 75.3h0.351v13.4h-0.351zM224.42 75.3h0.351v7.4h-0.351zM224.77 75.3h0.351v15.1h-0.351zM225.12 75.3h0.351v9.9h-0.351zM225.47 75.3h0.351v7.9h-0.351zM225.82 75.3h0.351v12.4h-0.351zM226.17 75.3h0.351v7.9h-0.351zM226.52 75.3h0.351v7.9h-0.351zM226.87 75.3h0.351v6.3h-0.351zM227.22 75.3h0.351v10.8h-0.351zM227.57 75.3h0.351v13.1h-0.351zM227.92 75.3h0.351v15.8h-0.351zM228.27 75.3h0.351v10.5h-0.351zM228.62 75.3h0.351v16.0h-0.351zM228.98 75.3h0.351v23.0h-0.351zM229.33 75.3h0.351v10.8h-0.351zM229.68 75.3h0.351v13.7h-0.351zM230.03 75.3h0.351v16.3h-0.351zM230.38 75.3h0.351v9.9h-0.351zM230.73 75.3h0.351v10.3h-0.351zM231.08 75.3h0.351v10.6h-0.351zM231.43 75.3h0.351v11.6h-0.351zM231.78 75.3h0.351v8.2h-0.351zM232.13 75.3h0.351v16.3h-0.351zM232.48 75.3h0.351v9.9h-0.351zM232.83 75.3h0.351v13.4h-0.351zM233.18 75.3h0.351v8.6h-0.351zM233.54 75.3h0.351v13.0h-0.351zM233.89 75.3h0.351v13.2h-0.351zM234.24 75.3h0.351v9.9h-0.351zM234.59 75.3h0.351v23.6h-0.351zM234.94 75.3h0.351v13.2h-0.351zM235.29 75.3h0.351v21.7h-0.351zM235.64 75.3h0.351v16.3h-0.351zM235.99 75.3h0.351v9.3h-0.351zM236.34 75.3h0.351v10.2h-0.351zM236.69 75.3h0.351v13.7h-0.351zM237.04 75.3h0.351v12.0h-0.351zM237.39 75.3h0.351v12.0h-0.351zM237.74 75.3h0.351v10.7h-0.351zM238.09 75.3h0.351v6.3h-0.351zM238.45 75.3h0.351v11.0h-0.351zM238.80 75.3h0.351v5.5h-0.351zM239.15 75.3h0.351v13.6h-0.351zM239.50 75.3h0.351v9.3h-0.351zM239.85 75.3h0.351v9.3h-0.351zM240.20 75.3h0.351v11.2h-0.351zM240.55 75.3h0.351v13.3h-0.351zM240.90 75.3h0.351v7.5h-0.351zM241.25 75.3h0.351v6.8h-0.351zM241.60 75.3h0.351v8.7h-0.351zM241.95 75.3h0.351v6.4h-0.351zM242.30 75.3h0.351v9.1h-0.351zM242.65 75.3h0.351v21.0h-0.351zM243.01 75.3h0.351v9.0h-0.351zM243.36 75.3h0.351v15.6h-0.351zM243.71 75.3h0.351v8.3h-0.351zM244.06 75.3h0.351v14.1h-0.351zM244.41 75.3h0.351v11.7h-0.351zM244.76 75.3h0.351v12.8h-0.351zM245.11 75.3h0.351v15.5h-0.351zM245.46 75.3h0.351v22.0h-0.351zM245.81 75.3h0.351v14.0h-0.351zM246.16 75.3h0.351v13.7h-0.351zM246.51 75.3h0.351v10.1h-0.351zM246.86 75.3h0.351v15.8h-0.351zM247.21 75.3h0.351v29.0h-0.351zM247.56 75.3h0.351v17.0h-0.351zM247.92 75.3h0.351v13.5h-0.351zM248.27 75.3h0.351v21.7h-0.351zM248.62 75.3h0.351v8.2h-0.351zM248.97 75.3h0.351v12.8h-0.351zM249.32 75.3h0.351v17.4h-0.351zM249.67 75.3h0.351v12.8h-0.351zM250.02 75.3h0.351v11.6h-0.351zM250.37 75.3h0.351v13.4h-0.351zM250.72 75.3h0.351v10.4h-0.351zM251.07 75.3h0.351v15.2h-0.351zM251.42 75.3h0.351v26.5h-0.351zM251.77 75.3h0.351v19.8h-0.351zM252.12 75.3h0.351v12.0h-0.351zM252.47 75.3h0.351v12.8h-0.351zM252.83 75.3h0.351v14.5h-0.351zM253.18 75.3h0.351v19.9h-0.351zM253.53 75.3h0.351v13.6h-0.351zM253.88 75.3h0.351v14.2h-0.351zM254.23 75.3h0.351v20.0h-0.351zM254.58 75.3h0.351v20.1h-0.351zM254.93 75.3h0.351v15.9h-0.351zM255.28 75.3h0.351v14.1h-0.351zM255.63 75.3h0.351v13.3h-0.351zM255.98 75.3h0.351v16.0h-0.351zM256.33 75.3h0.351v12.5h-0.351zM256.68 75.3h0.351v21.4h-0.351zM257.03 75.3h0.351v17.3h-0.351zM257.39 75.3h0.351v21.1h-0.351zM257.74 75.3h0.351v26.5h-0.351zM258.09 75.3h0.351v24.4h-0.351zM258.44 75.3h0.351v18.0h-0.351zM258.79 75.3h0.351v24.7h-0.351zM259.14 75.3h0.351v26.3h-0.351zM259.49 75.3h0.351v21.2h-0.351zM259.84 75.3h0.351v21.4h-0.351zM260.19 75.3h0.351v24.4h-0.351zM260.54 75.3h0.351v21.2h-0.351zM260.89 75.3h0.351v30.9h-0.351zM261.24 75.3h0.351v21.4h-0.351zM261.59 75.3h0.351v25.9h-0.351zM261.94 75.3h0.351v29.7h-0.351zM262.30 75.3h0.351v31.2h-0.351zM262.65 75.3h0.351v33.8h-0.351zM263.00 75.3h0.351v36.4h-0.351zM263.35 75.3h0.351v37.8h-0.351zM263.70 75.3h0.351v42.0h-0.351zM264.05 75.3h0.351v37.4h-0.351z" fill="#ff0000"/>
<line x1="301.50" y1="33.00" x2="301.50" y2="117.80" stroke="#2a2a2a" stroke-width="0.9" />
<line x1="296.00" y1="33.40" x2="301.50" y2="33.40" stroke="#2a2a2a" stroke-width="0.85" />
<text x="294.00" y="36.30" font-size="8" text-anchor="end" fill="#141414" >0.2</text>
<line x1="296.00" y1="54.40" x2="301.50" y2="54.40" stroke="#2a2a2a" stroke-width="0.85" />
<text x="294.00" y="57.30" font-size="8" text-anchor="end" fill="#141414" >0.1</text>
<line x1="296.00" y1="75.40" x2="301.50" y2="75.40" stroke="#2a2a2a" stroke-width="0.85" />
<text x="294.00" y="78.30" font-size="8" text-anchor="end" fill="#141414" >0</text>
<line x1="296.00" y1="96.40" x2="301.50" y2="96.40" stroke="#2a2a2a" stroke-width="0.85" />
<text x="294.00" y="99.30" font-size="8" text-anchor="end" fill="#141414" >0.1</text>
<line x1="296.00" y1="117.40" x2="301.50" y2="117.40" stroke="#2a2a2a" stroke-width="0.85" />
<text x="294.00" y="120.30" font-size="8" text-anchor="end" fill="#141414" >0.2</text>
<rect x="325.6" y="19.2" width="47.20" height="10.40" fill="#2b7bba"/>
<text x="349.20" y="27.00" font-size="8" text-anchor="middle" fill="#141414" >Morphemes</text>
<path d="M304.00 75.4h0.351v-16.6h-0.351zM304.35 75.4h0.351v-42.0h-0.351zM304.70 75.4h0.351v-15.8h-0.351zM305.05 75.4h0.351v-15.4h-0.351zM305.40 75.4h0.351v-11.0h-0.351zM305.75 75.4h0.351v-11.2h-0.351zM306.10 75.4h0.351v-15.6h-0.351zM306.46 75.4h0.351v-41.0h-0.351zM306.81 75.4h0.351v-10.2h-0.351zM307.16 75.4h0.351v-20.1h-0.351zM307.51 75.4h0.351v-21.1h-0.351zM307.86 75.4h0.351v-7.6h-0.351zM308.21 75.4h0.351v-11.8h-0.351zM308.56 75.4h0.351v-20.6h-0.351zM308.91 75.4h0.351v-12.7h-0.351zM309.26 75.4h0.351v-10.6h-0.351zM309.61 75.4h0.351v-9.2h-0.351zM309.96 75.4h0.351v-8.2h-0.351zM310.31 75.4h0.351v-8.7h-0.351zM310.66 75.4h0.351v-7.8h-0.351zM311.01 75.4h0.351v-10.9h-0.351zM311.37 75.4h0.351v-7.8h-0.351zM311.72 75.4h0.351v-7.6h-0.351zM312.07 75.4h0.351v-21.0h-0.351zM312.42 75.4h0.351v-8.1h-0.351zM312.77 75.4h0.351v-6.3h-0.351zM313.12 75.4h0.351v-7.5h-0.351zM313.47 75.4h0.351v-10.3h-0.351zM313.82 75.4h0.351v-8.3h-0.351zM314.17 75.4h0.351v-8.4h-0.351zM314.52 75.4h0.351v-7.9h-0.351zM314.87 75.4h0.351v-7.1h-0.351zM315.22 75.4h0.351v-12.0h-0.351zM315.57 75.4h0.351v-6.2h-0.351zM315.93 75.4h0.351v-8.2h-0.351zM316.28 75.4h0.351v-4.8h-0.351zM316.63 75.4h0.351v-9.4h-0.351zM316.98 75.4h0.351v-6.3h-0.351zM317.33 75.4h0.351v-4.9h-0.351zM317.68 75.4h0.351v-5.2h-0.351zM318.03 75.4h0.351v-4.8h-0.351zM318.38 75.4h0.351v-6.1h-0.351zM318.73 75.4h0.351v-4.6h-0.351zM319.08 75.4h0.351v-7.8h-0.351zM319.43 75.4h0.351v-4.3h-0.351zM319.78 75.4h0.351v-2.7h-0.351zM320.13 75.4h0.351v-4.2h-0.351zM320.48 75.4h0.351v-2.8h-0.351zM320.84 75.4h0.351v-5.1h-0.351zM321.19 75.4h0.351v-7.0h-0.351zM321.54 75.4h0.351v-6.1h-0.351zM321.89 75.4h0.351v-3.2h-0.351zM322.24 75.4h0.351v-3.8h-0.351zM322.59 75.4h0.351v-8.5h-0.351zM322.94 75.4h0.351v-5.3h-0.351zM323.29 75.4h0.351v-9.0h-0.351zM323.64 75.4h0.351v-6.6h-0.351zM323.99 75.4h0.351v-10.3h-0.351zM324.34 75.4h0.351v-7.0h-0.351zM324.69 75.4h0.351v-4.7h-0.351zM325.04 75.4h0.351v-5.0h-0.351zM325.39 75.4h0.351v-5.4h-0.351zM325.75 75.4h0.351v-3.5h-0.351zM326.10 75.4h0.351v-2.9h-0.351zM326.45 75.4h0.351v-4.3h-0.351zM326.80 75.4h0.351v-2.9h-0.351zM327.15 75.4h0.351v-4.0h-0.351zM327.50 75.4h0.351v-4.1h-0.351zM327.85 75.4h0.351v-9.1h-0.351zM328.20 75.4h0.351v-2.8h-0.351zM328.55 75.4h0.351v-3.7h-0.351zM328.90 75.4h0.351v-3.5h-0.351zM329.25 75.4h0.351v-4.3h-0.351zM329.60 75.4h0.351v-5.4h-0.351zM329.95 75.4h0.351v-8.5h-0.351zM330.31 75.4h0.351v-2.6h-0.351zM330.66 75.4h0.351v-1.9h-0.351zM331.01 75.4h0.351v-2.4h-0.351zM331.36 75.4h0.351v-4.2h-0.351zM331.71 75.4h0.351v-3.5h-0.351zM332.06 75.4h0.351v-2.3h-0.351zM332.41 75.4h0.351v-2.9h-0.351zM332.76 75.4h0.351v-3.3h-0.351zM333.11 75.4h0.351v-4.0h-0.351zM333.46 75.4h0.351v-2.5h-0.351zM333.81 75.4h0.351v-2.9h-0.351zM334.16 75.4h0.351v-1.5h-0.351zM334.51 75.4h0.351v-2.0h-0.351zM334.86 75.4h0.351v-6.0h-0.351zM335.22 75.4h0.351v-1.2h-0.351zM335.57 75.4h0.351v-2.6h-0.351zM335.92 75.4h0.351v-3.3h-0.351zM336.27 75.4h0.351v-2.5h-0.351zM336.62 75.4h0.351v-2.1h-0.351zM336.97 75.4h0.351v-2.8h-0.351zM337.32 75.4h0.351v-2.8h-0.351zM337.67 75.4h0.351v-2.7h-0.351zM338.02 75.4h0.351v-1.2h-0.351zM338.37 75.4h0.351v-2.6h-0.351zM338.72 75.4h0.351v-1.9h-0.351zM339.07 75.4h0.351v-2.1h-0.351zM339.42 75.4h0.351v-2.9h-0.351zM339.77 75.4h0.351v-3.5h-0.351zM340.13 75.4h0.351v-3.9h-0.351zM340.48 75.4h0.351v-2.0h-0.351zM340.83 75.4h0.351v-3.8h-0.351zM341.18 75.4h0.351v-4.3h-0.351zM341.53 75.4h0.351v-4.2h-0.351zM341.88 75.4h0.351v-4.6h-0.351zM342.23 75.4h0.351v-2.3h-0.351zM342.58 75.4h0.351v-2.2h-0.351zM342.93 75.4h0.351v-3.5h-0.351zM343.28 75.4h0.351v-1.3h-0.351zM343.63 75.4h0.351v-2.6h-0.351zM343.98 75.4h0.351v-1.8h-0.351zM344.33 75.4h0.351v-1.9h-0.351zM344.69 75.4h0.351v-1.0h-0.351zM345.04 75.4h0.351v-1.5h-0.351zM345.39 75.4h0.351v-2.2h-0.351zM345.74 75.4h0.351v-3.3h-0.351zM346.09 75.4h0.351v-3.4h-0.351zM346.44 75.4h0.351v-2.1h-0.351zM346.79 75.4h0.351v-1.9h-0.351zM347.14 75.4h0.351v-1.4h-0.351zM347.49 75.4h0.351v-2.5h-0.351zM347.84 75.4h0.351v-1.8h-0.351zM348.19 75.4h0.351v-2.7h-0.351zM348.54 75.4h0.351v-4.5h-0.351zM348.89 75.4h0.351v-1.9h-0.351zM349.24 75.4h0.351v-1.0h-0.351zM349.60 75.4h0.351v-1.3h-0.351zM349.95 75.4h0.351v-1.0h-0.351zM350.30 75.4h0.351v-1.1h-0.351zM350.65 75.4h0.351v-3.4h-0.351zM351.00 75.4h0.351v-2.0h-0.351zM351.35 75.4h0.351v-0.9h-0.351zM351.70 75.4h0.351v-2.5h-0.351zM352.05 75.4h0.351v-3.2h-0.351zM352.40 75.4h0.351v-1.5h-0.351zM352.75 75.4h0.351v-1.3h-0.351zM353.10 75.4h0.351v-1.5h-0.351zM353.45 75.4h0.351v-2.0h-0.351zM353.80 75.4h0.351v-2.3h-0.351zM354.16 75.4h0.351v-2.9h-0.351zM354.51 75.4h0.351v-3.0h-0.351zM354.86 75.4h0.351v-2.9h-0.351zM355.21 75.4h0.351v-3.1h-0.351zM355.56 75.4h0.351v-2.2h-0.351zM355.91 75.4h0.351v-0.8h-0.351zM356.26 75.4h0.351v-1.5h-0.351zM356.61 75.4h0.351v-1.8h-0.351zM356.96 75.4h0.351v-1.3h-0.351zM357.31 75.4h0.351v-2.4h-0.351zM357.66 75.4h0.351v-1.3h-0.351zM358.01 75.4h0.351v-1.0h-0.351zM358.36 75.4h0.351v-3.0h-0.351zM358.71 75.4h0.351v-2.0h-0.351zM359.07 75.4h0.351v-1.6h-0.351zM359.42 75.4h0.351v-2.2h-0.351zM359.77 75.4h0.351v-2.3h-0.351zM360.12 75.4h0.351v-1.6h-0.351zM360.47 75.4h0.351v-0.4h-0.351zM360.82 75.4h0.351v-1.0h-0.351zM361.17 75.4h0.351v-1.1h-0.351zM361.52 75.4h0.351v-0.8h-0.351zM361.87 75.4h0.351v-1.5h-0.351zM362.22 75.4h0.351v-2.4h-0.351zM362.57 75.4h0.351v-1.0h-0.351zM362.92 75.4h0.351v-0.8h-0.351zM363.27 75.4h0.351v-3.5h-0.351zM363.62 75.4h0.351v-1.0h-0.351zM363.98 75.4h0.351v-0.7h-0.351zM364.33 75.4h0.351v-1.4h-0.351zM364.68 75.4h0.351v-1.5h-0.351zM365.03 75.4h0.351v-0.9h-0.351zM365.38 75.4h0.351v-1.8h-0.351zM365.73 75.4h0.351v-1.0h-0.351zM366.08 75.4h0.351v-0.8h-0.351zM366.43 75.4h0.351v-1.3h-0.351zM366.78 75.4h0.351v-1.7h-0.351zM367.13 75.4h0.351v-0.9h-0.351zM367.48 75.4h0.351v-1.4h-0.351zM367.83 75.4h0.351v-1.1h-0.351zM368.18 75.4h0.351v-4.7h-0.351zM368.54 75.4h0.351v-0.8h-0.351zM368.89 75.4h0.351v-2.3h-0.351zM369.24 75.4h0.351v-1.1h-0.351zM369.59 75.4h0.351v-1.0h-0.351zM369.94 75.4h0.351v-1.6h-0.351zM370.29 75.4h0.351v-1.7h-0.351zM370.64 75.4h0.351v-2.1h-0.351zM370.99 75.4h0.351v-1.3h-0.351zM371.34 75.4h0.351v-0.8h-0.351zM371.69 75.4h0.351v-0.8h-0.351zM372.04 75.4h0.351v-1.4h-0.351zM372.39 75.4h0.351v-1.4h-0.351zM372.74 75.4h0.351v-2.2h-0.351zM373.09 75.4h0.351v-1.3h-0.351zM373.45 75.4h0.351v-1.8h-0.351zM373.80 75.4h0.351v-2.3h-0.351zM374.15 75.4h0.351v-1.1h-0.351zM374.50 75.4h0.351v-0.5h-0.351zM374.85 75.4h0.351v-0.6h-0.351zM375.20 75.4h0.351v-0.5h-0.351zM375.55 75.4h0.351v-2.3h-0.351zM375.90 75.4h0.351v-8.5h-0.351zM376.25 75.4h0.351v-1.9h-0.351zM376.60 75.4h0.351v-1.4h-0.351zM376.95 75.4h0.351v-2.5h-0.351zM377.30 75.4h0.351v-1.7h-0.351zM377.65 75.4h0.351v-1.0h-0.351zM378.01 75.4h0.351v-0.9h-0.351zM378.36 75.4h0.351v-1.1h-0.351zM378.71 75.4h0.351v-1.1h-0.351zM379.06 75.4h0.351v-0.8h-0.351zM379.41 75.4h0.351v-1.0h-0.351zM379.76 75.4h0.351v-2.3h-0.351zM380.11 75.4h0.351v-0.4h-0.351zM380.46 75.4h0.351v-1.2h-0.351zM380.81 75.4h0.351v-8.5h-0.351zM381.16 75.4h0.351v-1.2h-0.351zM381.51 75.4h0.351v-1.7h-0.351zM381.86 75.4h0.351v-1.0h-0.351zM382.21 75.4h0.351v-1.6h-0.351zM382.56 75.4h0.351v-0.5h-0.351zM382.92 75.4h0.351v-2.0h-0.351zM383.27 75.4h0.351v-0.8h-0.351zM383.62 75.4h0.351v-1.6h-0.351zM383.97 75.4h0.351v-1.3h-0.351zM384.32 75.4h0.351v-0.3h-0.351zM384.67 75.4h0.351v-0.8h-0.351zM385.02 75.4h0.351v-1.4h-0.351zM385.37 75.4h0.351v-2.8h-0.351zM385.72 75.4h0.351v-1.4h-0.351zM386.07 75.4h0.351v-1.4h-0.351zM386.42 75.4h0.351v-0.6h-0.351zM386.77 75.4h0.351v-2.7h-0.351zM387.12 75.4h0.351v-3.4h-0.351zM387.47 75.4h0.351v-1.3h-0.351zM387.83 75.4h0.351v-1.2h-0.351zM388.18 75.4h0.351v-0.6h-0.351zM388.53 75.4h0.351v-2.2h-0.351zM388.88 75.4h0.351v-5.7h-0.351zM389.23 75.4h0.351v-2.0h-0.351zM389.58 75.4h0.351v-2.7h-0.351zM389.93 75.4h0.351v-1.9h-0.351zM390.28 75.4h0.351v-0.8h-0.351zM390.63 75.4h0.351v-2.9h-0.351zM390.98 75.4h0.351v-0.7h-0.351zM391.33 75.4h0.351v-1.3h-0.351zM391.68 75.4h0.351v-1.7h-0.351zM392.03 75.4h0.351v-2.3h-0.351zM392.39 75.4h0.351v-1.8h-0.351zM392.74 75.4h0.351v-1.8h-0.351zM393.09 75.4h0.351v-33.0h-0.351zM393.44 75.4h0.351v-0.7h-0.351zM393.79 75.4h0.351v-1.5h-0.351zM394.14 75.4h0.351v-1.0h-0.351zM394.49 75.4h0.351v-0.7h-0.351zM394.84 75.4h0.351v-0.8h-0.351zM395.19 75.4h0.351v-1.2h-0.351zM395.54 75.4h0.351v-0.6h-0.351zM395.89 75.4h0.351v-0.7h-0.351zM396.24 75.4h0.351v-0.6h-0.351zM396.59 75.4h0.351v-1.7h-0.351zM396.94 75.4h0.351v-1.9h-0.351zM397.30 75.4h0.351v-4.7h-0.351zM397.65 75.4h0.351v-0.7h-0.351zM398.00 75.4h0.351v-1.1h-0.351zM398.35 75.4h0.351v-2.6h-0.351zM398.70 75.4h0.351v-1.4h-0.351zM399.05 75.4h0.351v-1.3h-0.351z" fill="#0000ff"/>
<path d="M304.00 75.4h0.351v5.1h-0.351zM304.35 75.4h0.351v5.0h-0.351zM304.70 75.4h0.351v1.1h-0.351zM305.05 75.4h0.351v1.0h-0.351zM305.40 75.4h0.351v2.4h-0.351zM305.75 75.4h0.351v2.3h-0.351zM306.10 75.4h0.351v0.9h-0.351zM306.46 75.4h0.351v27.0h-0.351zM306.81 75.4h0.351v2.7h-0.351zM307.16 75.4h0.351v2.7h-0.351zM307.51 75.4h0.351v1.4h-0.351zM307.86 75.4h0.351v2.8h-0.351zM308.21 75.4h0.351v2.7h-0.351zM308.56 75.4h0.351v0.8h-0.351zM308.91 75.4h0.351v1.7h-0.351zM309.26 75.4h0.351v2.5h-0.351zM309.61 75.4h0.351v1.4h-0.351zM309.96 75.4h0.351v0.6h-0.351zM310.31 75.4h0.351v1.7h-0.351zM310.66 75.4h0.351v2.9h-0.351zM311.01 75.4h0.351v4.5h-0.351zM311.37 75.4h0.351v0.6h-0.351zM311.72 75.4h0.351v7.8h-0.351zM312.07 75.4h0.351v14.0h-0.351zM312.42 75.4h0.351v3.2h-0.351zM312.77 75.4h0.351v3.7h-0.351zM313.12 75.4h0.351v3.3h-0.351zM313.47 75.4h0.351v2.1h-0.351zM313.82 75.4h0.351v1.1h-0.351zM314.17 75.4h0.351v2.7h-0.351zM314.52 75.4h0.351v1.3h-0.351zM314.87 75.4h0.351v0.5h-0.351zM315.22 75.4h0.351v8.5h-0.351zM315.57 75.4h0.351v2.8h-0.351zM315.93 75.4h0.351v5.0h-0.351zM316.28 75.4h0.351v1.2h-0.351zM316.63 75.4h0.351v4.1h-0.351zM316.98 75.4h0.351v4.4h-0.351zM317.33 75.4h0.351v4.3h-0.351zM317.68 75.4h0.351v1.9h-0.351zM318.03 75.4h0.351v1.0h-0.351zM318.38 75.4h0.351v1.8h-0.351zM318.73 75.4h0.351v0.6h-0.351zM319.08 75.4h0.351v0.8h-0.351zM319.43 75.4h0.351v2.0h-0.351zM319.78 75.4h0.351v1.2h-0.351zM320.13 75.4h0.351v1.8h-0.351zM320.48 75.4h0.351v1.8h-0.351zM320.84 75.4h0.351v5.1h-0.351zM321.19 75.4h0.351v3.7h-0.351zM321.54 75.4h0.351v1.9h-0.351zM321.89 75.4h0.351v3.5h-0.351zM322.24 75.4h0.351v1.3h-0.351zM322.59 75.4h0.351v1.6h-0.351zM322.94 75.4h0.351v3.0h-0.351zM323.29 75.4h0.351v6.0h-0.351zM323.64 75.4h0.351v1.6h-0.351zM323.99 75.4h0.351v1.0h-0.351zM324.34 75.4h0.351v2.0h-0.351zM324.69 75.4h0.351v4.3h-0.351zM325.04 75.4h0.351v1.3h-0.351zM325.39 75.4h0.351v2.1h-0.351zM325.75 75.4h0.351v1.2h-0.351zM326.10 75.4h0.351v1.1h-0.351zM326.45 75.4h0.351v1.0h-0.351zM326.80 75.4h0.351v3.8h-0.351zM327.15 75.4h0.351v6.0h-0.351zM327.50 75.4h0.351v2.4h-0.351zM327.85 75.4h0.351v1.3h-0.351zM328.20 75.4h0.351v2.6h-0.351zM328.55 75.4h0.351v1.6h-0.351zM328.90 75.4h0.351v2.8h-0.351zM329.25 75.4h0.351v2.1h-0.351zM329.60 75.4h0.351v2.1h-0.351zM329.95 75.4h0.351v6.5h-0.351zM330.31 75.4h0.351v1.4h-0.351zM330.66 75.4h0.351v1.5h-0.351zM331.01 75.4h0.351v0.8h-0.351zM331.36 75.4h0.351v1.5h-0.351zM331.71 75.4h0.351v0.9h-0.351zM332.06 75.4h0.351v1.7h-0.351zM332.41 75.4h0.351v1.2h-0.351zM332.76 75.4h0.351v1.9h-0.351zM333.11 75.4h0.351v2.3h-0.351zM333.46 75.4h0.351v0.9h-0.351zM333.81 75.4h0.351v1.2h-0.351zM334.16 75.4h0.351v1.2h-0.351zM334.51 75.4h0.351v2.6h-0.351zM334.86 75.4h0.351v4.1h-0.351zM335.22 75.4h0.351v2.7h-0.351zM335.57 75.4h0.351v1.5h-0.351zM335.92 75.4h0.351v3.6h-0.351zM336.27 75.4h0.351v0.9h-0.351zM336.62 75.4h0.351v3.7h-0.351zM336.97 75.4h0.351v1.3h-0.351zM337.32 75.4h0.351v0.5h-0.351zM337.67 75.4h0.351v6.3h-0.351zM338.02 75.4h0.351v3.8h-0.351zM338.37 75.4h0.351v1.1h-0.351zM338.72 75.4h0.351v2.0h-0.351zM339.07 75.4h0.351v1.6h-0.351zM339.42 75.4h0.351v1.9h-0.351zM339.77 75.4h0.351v0.9h-0.351zM340.13 75.4h0.351v1.3h-0.351zM340.48 75.4h0.351v2.2h-0.351zM340.83 75.4h0.351v1.9h-0.351zM341.18 75.4h0.351v3.0h-0.351zM341.53 75.4h0.351v1.8h-0.351zM341.88 75.4h0.351v5.0h-0.351zM342.23 75.4h0.351v1.2h-0.351zM342.58 75.4h0.351v1.9h-0.351zM342.93 75.4h0.351v0.7h-0.351zM343.28 75.4h0.351v0.9h-0.351zM343.63 75.4h0.351v2.9h-0.351zM343.98 75.4h0.351v1.0h-0.351zM344.33 75.4h0.351v2.0h-0.351zM344.69 75.4h0.351v1.5h-0.351zM345.04 75.4h0.351v1.0h-0.351zM345.39 75.4h0.351v1.3h-0.351zM345.74 75.4h0.351v1.2h-0.351zM346.09 75.4h0.351v1.2h-0.351zM346.44 75.4h0.351v2.0h-0.351zM346.79 75.4h0.351v1.9h-0.351zM347.14 75.4h0.351v1.1h-0.351zM347.49 75.4h0.351v1.0h-0.351zM347.84 75.4h0.351v1.6h-0.351zM348.19 75.4h0.351v1.3h-0.351zM348.54 75.4h0.351v2.1h-0.351zM348.89 75.4h0.351v4.0h-0.351zM349.24 75.4h0.351v1.9h-0.351zM349.60 75.4h0.351v1.3h-0.351zM349.95 75.4h0.351v1.2h-0.351zM350.30 75.4h0.351v0.9h-0.351zM350.65 75.4h0.351v0.9h-0.351zM351.00 75.4h0.351v0.9h-0.351zM351.35 75.4h0.351v1.2h-0.351zM351.70 75.4h0.351v1.2h-0.351zM352.05 75.4h0.351v1.9h-0.351zM352.40 75.4h0.351v1.2h-0.351zM352.75 75.4h0.351v1.3h-0.351zM353.10 75.4h0.351v0.9h-0.351zM353.45 75.4h0.351v2.7h-0.351zM353.80 75.4h0.351v1.8h-0.351zM354.16 75.4h0.351v2.9h-0.351zM354.51 75.4h0.351v2.0h-0.351zM354.86 75.4h0.351v2.6h-0.351zM355.21 75.4h0.351v1.4h-0.351zM355.56 75.4h0.351v2.0h-0.351zM355.91 75.4h0.351v4.0h-0.351zM356.26 75.4h0.351v1.1h-0.351zM356.61 75.4h0.351v2.4h-0.351zM356.96 75.4h0.351v2.9h-0.351zM357.31 75.4h0.351v1.9h-0.351zM357.66 75.4h0.351v2.2h-0.351zM358.01 75.4h0.351v2.6h-0.351zM358.36 75.4h0.351v1.4h-0.351zM358.71 75.4h0.351v2.0h-0.351zM359.07 75.4h0.351v1.3h-0.351zM359.42 75.4h0.351v1.4h-0.351zM359.77 75.4h0.351v1.5h-0.351zM360.12 75.4h0.351v1.8h-0.351zM360.47 75.4h0.351v2.0h-0.351zM360.82 75.4h0.351v2.2h-0.351zM361.17 75.4h0.351v1.3h-0.351zM361.52 75.4h0.351v3.6h-0.351zM361.87 75.4h0.351v2.9h-0.351zM362.22 75.4h0.351v2.6h-0.351zM362.57 75.4h0.351v1.9h-0.351zM362.92 75.4h0.351v2.1h-0.351zM363.27 75.4h0.351v2.6h-0.351zM363.62 75.4h0.351v2.5h-0.351zM363.98 75.4h0.351v1.4h-0.351zM364.33 75.4h0.351v2.9h-0.351zM364.68 75.4h0.351v5.5h-0.351zM365.03 75.4h0.351v1.4h-0.351zM365.38 75.4h0.351v3.2h-0.351zM365.73 75.4h0.351v2.7h-0.351zM366.08 75.4h0.351v2.4h-0.351zM366.43 75.4h0.351v3.8h-0.351zM366.78 75.4h0.351v1.8h-0.351zM367.13 75.4h0.351v2.7h-0.351zM367.48 75.4h0.351v4.0h-0.351zM367.83 75.4h0.351v2.5h-0.351zM368.18 75.4h0.351v2.4h-0.351zM368.54 75.4h0.351v2.9h-0.351zM368.89 75.4h0.351v2.5h-0.351zM369.24 75.4h0.351v4.4h-0.351zM369.59 75.4h0.351v2.2h-0.351zM369.94 75.4h0.351v3.7h-0.351zM370.29 75.4h0.351v2.1h-0.351zM370.64 75.4h0.351v3.6h-0.351zM370.99 75.4h0.351v2.9h-0.351zM371.34 75.4h0.351v1.5h-0.351zM371.69 75.4h0.351v3.1h-0.351zM372.04 75.4h0.351v2.3h-0.351zM372.39 75.4h0.351v2.8h-0.351zM372.74 75.4h0.351v4.9h-0.351zM373.09 75.4h0.351v2.4h-0.351zM373.45 75.4h0.351v2.5h-0.351zM373.80 75.4h0.351v4.9h-0.351zM374.15 75.4h0.351v3.5h-0.351zM374.50 75.4h0.351v5.2h-0.351zM374.85 75.4h0.351v3.8h-0.351zM375.20 75.4h0.351v2.8h-0.351zM375.55 75.4h0.351v3.5h-0.351zM375.90 75.4h0.351v10.5h-0.351zM376.25 75.4h0.351v4.6h-0.351zM376.60 75.4h0.351v3.6h-0.351zM376.95 75.4h0.351v3.7h-0.351zM377.30 75.4h0.351v3.6h-0.351zM377.65 75.4h0.351v3.2h-0.351zM378.01 75.4h0.351v6.3h-0.351zM378.36 75.4h0.351v3.8h-0.351zM378.71 75.4h0.351v2.9h-0.351zM379.06 75.4h0.351v3.5h-0.351zM379.41 75.4h0.351v4.8h-0.351zM379.76 75.4h0.351v4.7h-0.351zM380.11 75.4h0.351v3.9h-0.351zM380.46 75.4h0.351v3.5h-0.351zM380.81 75.4h0.351v11.0h-0.351zM381.16 75.4h0.351v2.8h-0.351zM381.51 75.4h0.351v3.1h-0.351zM381.86 75.4h0.351v5.4h-0.351zM382.21 75.4h0.351v4.0h-0.351zM382.56 75.4h0.351v5.0h-0.351zM382.92 75.4h0.351v6.2h-0.351zM383.27 75.4h0.351v5.5h-0.351zM383.62 75.4h0.351v4.8h-0.351zM383.97 75.4h0.351v8.1h-0.351zM384.32 75.4h0.351v5.8h-0.351zM384.67 75.4h0.351v4.6h-0.351zM385.02 75.4h0.351v6.0h-0.351zM385.37 75.4h0.351v5.7h-0.351zM385.72 75.4h0.351v4.3h-0.351zM386.07 75.4h0.351v5.5h-0.351zM386.42 75.4h0.351v5.3h-0.351zM386.77 75.4h0.351v3.5h-0.351zM387.12 75.4h0.351v5.5h-0.351zM387.47 75.4h0.351v5.4h-0.351zM387.83 75.4h0.351v5.3h-0.351zM388.18 75.4h0.351v4.1h-0.351zM388.53 75.4h0.351v5.6h-0.351zM388.88 75.4h0.351v6.2h-0.351zM389.23 75.4h0.351v6.5h-0.351zM389.58 75.4h0.351v4.9h-0.351zM389.93 75.4h0.351v7.6h-0.351zM390.28 75.4h0.351v5.2h-0.351zM390.63 75.4h0.351v6.7h-0.351zM390.98 75.4h0.351v9.8h-0.351zM391.33 75.4h0.351v6.4h-0.351zM391.68 75.4h0.351v6.9h-0.351zM392.03 75.4h0.351v10.1h-0.351zM392.39 75.4h0.351v7.5h-0.351zM392.74 75.4h0.351v7.9h-0.351zM393.09 75.4h0.351v42.0h-0.351zM393.44 75.4h0.351v11.5h-0.351zM393.79 75.4h0.351v5.8h-0.351zM394.14 75.4h0.351v8.2h-0.351zM394.49 75.4h0.351v8.2h-0.351zM394.84 75.4h0.351v8.3h-0.351zM395.19 75.4h0.351v9.3h-0.351zM395.54 75.4h0.351v10.0h-0.351zM395.89 75.4h0.351v13.5h-0.351zM396.24 75.4h0.351v11.0h-0.351zM396.59 75.4h0.351v14.4h-0.351zM396.94 75.4h0.351v16.4h-0.351zM397.30 75.4h0.351v14.5h-0.351zM397.65 75.4h0.351v19.1h-0.351zM398.00 75.4h0.351v28.6h-0.351zM398.35 75.4h0.351v24.1h-0.351zM398.70 75.4h0.351v26.6h-0.351zM399.05 75.4h0.351v37.6h-0.351z" fill="#ff0000"/>
</g>
<text transform="translate(9.60,50.70) rotate(-90)" font-size="7" text-anchor="middle" fill="#141414" >Planning</text>
<text transform="translate(9.60,69.30) rotate(-90)" font-size="7" text-anchor="middle" fill="#141414" ><tspan font-style="italic">D</tspan><tspan font-size="4.5" dy="-2.6">2</tspan></text>
<text transform="translate(9.60,91.20) rotate(-90)" font-size="7" text-anchor="middle" fill="#141414" >Production</text>
<line x1="7.20" y1="110.30" x2="7.20" y2="113.70" stroke="#ff0000" stroke-width="1.2" />
<line x1="7.20" y1="35.20" x2="7.20" y2="30.00" stroke="#141414" stroke-width="0.7" />
<path d="M5.6 31.2 L7.2 27.5 L8.8 31.2 Z" fill="#231f20"/>
<line x1="7.20" y1="115.70" x2="7.20" y2="120.50" stroke="#141414" stroke-width="0.7" />
<path d="M5.6 119.3 L7.2 123 L8.8 119.3 Z" fill="#231f20"/>
<text x="29.00" y="126.90" font-size="8.3" text-anchor="start" fill="#141414" ><tspan font-style="italic">n</tspan> = 272 units</text>
<line x1="79.50" y1="124.10" x2="86.00" y2="124.10" stroke="#141414" stroke-width="0.75" />
<path d="M84.3 122.3 L87.8 124.1 L84.3 125.9 Z" fill="#231f20"/>
<line x1="26.00" y1="222.90" x2="130.10" y2="222.90" stroke="#a8a8a8" stroke-width="1.7" />
<line x1="31.50" y1="139.00" x2="31.50" y2="228.50" stroke="#2a2a2a" stroke-width="0.9" />
<text x="24.50" y="225.80" font-size="8" text-anchor="end" fill="#141414" >0</text>
<line x1="26.00" y1="198.90" x2="31.50" y2="198.90" stroke="#2a2a2a" stroke-width="0.85" />
<text x="24.50" y="201.80" font-size="8" text-anchor="end" fill="#141414" >0.2</text>
<line x1="26.00" y1="174.90" x2="31.50" y2="174.90" stroke="#2a2a2a" stroke-width="0.85" />
<text x="24.50" y="177.80" font-size="8" text-anchor="end" fill="#141414" >0.4</text>
<line x1="26.00" y1="150.90" x2="31.50" y2="150.90" stroke="#2a2a2a" stroke-width="0.85" />
<text x="24.50" y="153.80" font-size="8" text-anchor="end" fill="#141414" >0.6</text>
<text x="31.50" y="237.10" font-size="8" text-anchor="middle" fill="#141414" >0</text>
<line x1="59.50" y1="222.90" x2="59.50" y2="228.50" stroke="#2a2a2a" stroke-width="0.85" />
<text x="59.50" y="237.10" font-size="8" text-anchor="middle" fill="#141414" >0.2</text>
<line x1="87.50" y1="222.90" x2="87.50" y2="228.50" stroke="#2a2a2a" stroke-width="0.85" />
<text x="87.50" y="237.10" font-size="8" text-anchor="middle" fill="#141414" >0.4</text>
<line x1="115.50" y1="222.90" x2="115.50" y2="228.50" stroke="#2a2a2a" stroke-width="0.85" />
<text x="115.50" y="237.10" font-size="8" text-anchor="middle" fill="#141414" >0.6</text>
<line x1="31.50" y1="222.90" x2="129.50" y2="138.90" stroke="#767676" stroke-width="0.85" stroke-dasharray="3.6,2.5"/>
<g fill="#8a8a8a" fill-opacity="0.38" stroke="#555" stroke-opacity="0.45" stroke-width="0.35"><circle cx="53.8" cy="201.7" r="1.3"/><circle cx="62.6" cy="204.3" r="1.3"/><circle cx="53.6" cy="206.2" r="1.3"/><circle cx="38.5" cy="214.9" r="1.3"/><circle cx="64.5" cy="207.6" r="1.3"/><circle cx="55.4" cy="195.1" r="1.3"/><circle cx="43.5" cy="214.9" r="1.3"/><circle cx="57.8" cy="211.1" r="1.3"/><circle cx="54.1" cy="204.4" r="1.3"/><circle cx="53.0" cy="200.7" r="1.3"/><circle cx="49.4" cy="210.1" r="1.3"/><circle cx="57.2" cy="211.2" r="1.3"/><circle cx="42.0" cy="209.1" r="1.3"/><circle cx="47.1" cy="218.3" r="1.3"/><circle cx="44.0" cy="217.0" r="1.3"/><circle cx="58.1" cy="202.3" r="1.3"/><circle cx="49.5" cy="216.4" r="1.3"/><circle cx="45.8" cy="210.5" r="1.3"/><circle cx="41.6" cy="213.9" r="1.3"/><circle cx="46.1" cy="201.5" r="1.3"/><circle cx="49.1" cy="214.5" r="1.3"/><circle cx="45.9" cy="214.4" r="1.3"/><circle cx="74.8" cy="186.6" r="1.3"/><circle cx="66.9" cy="217.1" r="1.3"/><circle cx="34.1" cy="202.6" r="1.3"/><circle cx="36.2" cy="219.6" r="1.3"/><circle cx="47.0" cy="214.5" r="1.3"/><circle cx="44.5" cy="203.8" r="1.3"/><circle cx="51.8" cy="207.1" r="1.3"/><circle cx="51.9" cy="217.3" r="1.3"/><circle cx="39.5" cy="210.0" r="1.3"/><circle cx="44.9" cy="214.0" r="1.3"/><circle cx="59.0" cy="195.2" r="1.3"/><circle cx="59.3" cy="210.8" r="1.3"/><circle cx="43.7" cy="208.9" r="1.3"/><circle cx="37.0" cy="216.5" r="1.3"/><circle cx="51.2" cy="212.4" r="1.3"/><circle cx="50.4" cy="216.3" r="1.3"/><circle cx="38.9" cy="216.6" r="1.3"/><circle cx="42.3" cy="217.1" r="1.3"/><circle cx="48.1" cy="197.7" r="1.3"/><circle cx="40.5" cy="213.7" r="1.3"/><circle cx="47.8" cy="201.1" r="1.3"/><circle cx="50.2" cy="206.4" r="1.3"/><circle cx="49.4" cy="205.7" r="1.3"/><circle cx="43.8" cy="216.1" r="1.3"/><circle cx="58.0" cy="192.9" r="1.3"/><circle cx="53.4" cy="208.6" r="1.3"/><circle cx="41.4" cy="216.5" r="1.3"/><circle cx="60.7" cy="203.2" r="1.3"/><circle cx="43.8" cy="214.8" r="1.3"/><circle cx="63.9" cy="207.4" r="1.3"/><circle cx="39.8" cy="214.3" r="1.3"/><circle cx="64.7" cy="202.7" r="1.3"/><circle cx="48.8" cy="189.1" r="1.3"/><circle cx="38.8" cy="215.7" r="1.3"/><circle cx="45.5" cy="208.2" r="1.3"/><circle cx="49.7" cy="196.6" r="1.3"/><circle cx="52.7" cy="208.9" r="1.3"/><circle cx="40.3" cy="203.2" r="1.3"/><circle cx="39.6" cy="217.6" r="1.3"/><circle cx="51.6" cy="213.0" r="1.3"/><circle cx="44.1" cy="214.0" r="1.3"/><circle cx="52.1" cy="207.6" r="1.3"/><circle cx="61.3" cy="213.4" r="1.3"/><circle cx="37.0" cy="217.3" r="1.3"/><circle cx="52.4" cy="216.8" r="1.3"/><circle cx="45.7" cy="211.3" r="1.3"/><circle cx="41.4" cy="216.7" r="1.3"/><circle cx="61.1" cy="210.2" r="1.3"/><circle cx="52.4" cy="209.7" r="1.3"/><circle cx="64.3" cy="202.1" r="1.3"/><circle cx="45.2" cy="216.6" r="1.3"/><circle cx="37.7" cy="219.3" r="1.3"/><circle cx="47.7" cy="210.8" r="1.3"/><circle cx="44.3" cy="214.7" r="1.3"/><circle cx="61.6" cy="183.8" r="1.3"/><circle cx="51.5" cy="191.1" r="1.3"/><circle cx="37.1" cy="217.1" r="1.3"/><circle cx="39.1" cy="213.1" r="1.3"/><circle cx="64.0" cy="212.3" r="1.3"/><circle cx="59.7" cy="192.0" r="1.3"/><circle cx="42.7" cy="213.0" r="1.3"/><circle cx="49.0" cy="203.7" r="1.3"/><circle cx="55.8" cy="218.1" r="1.3"/><circle cx="63.8" cy="195.4" r="1.3"/><circle cx="52.4" cy="214.3" r="1.3"/><circle cx="47.9" cy="203.4" r="1.3"/><circle cx="46.1" cy="217.2" r="1.3"/><circle cx="68.1" cy="203.6" r="1.3"/><circle cx="35.1" cy="218.3" r="1.3"/><circle cx="47.4" cy="203.6" r="1.3"/><circle cx="49.4" cy="207.6" r="1.3"/><circle cx="38.0" cy="218.9" r="1.3"/><circle cx="53.6" cy="210.5" r="1.3"/><circle cx="42.6" cy="205.9" r="1.3"/><circle cx="63.5" cy="199.6" r="1.3"/><circle cx="47.5" cy="218.0" r="1.3"/><circle cx="59.5" cy="188.2" r="1.3"/><circle cx="72.6" cy="186.3" r="1.3"/><circle cx="54.4" cy="192.8" r="1.3"/><circle cx="41.0" cy="215.7" r="1.3"/><circle cx="37.6" cy="212.8" r="1.3"/><circle cx="47.7" cy="203.9" r="1.3"/><circle cx="42.3" cy="215.6" r="1.3"/><circle cx="50.9" cy="199.5" r="1.3"/><circle cx="46.8" cy="199.2" r="1.3"/><circle cx="63.3" cy="208.0" r="1.3"/><circle cx="49.4" cy="208.7" r="1.3"/><circle cx="49.2" cy="208.0" r="1.3"/><circle cx="42.1" cy="203.2" r="1.3"/><circle cx="55.8" cy="194.2" r="1.3"/><circle cx="40.0" cy="219.0" r="1.3"/><circle cx="59.4" cy="195.4" r="1.3"/><circle cx="37.5" cy="201.0" r="1.3"/><circle cx="34.6" cy="221.6" r="1.3"/><circle cx="58.5" cy="208.2" r="1.3"/><circle cx="40.2" cy="219.3" r="1.3"/><circle cx="38.8" cy="219.4" r="1.3"/><circle cx="57.9" cy="195.6" r="1.3"/><circle cx="41.2" cy="206.3" r="1.3"/><circle cx="43.8" cy="215.6" r="1.3"/><circle cx="45.2" cy="206.5" r="1.3"/><circle cx="56.9" cy="202.1" r="1.3"/><circle cx="44.7" cy="194.4" r="1.3"/><circle cx="52.8" cy="206.1" r="1.3"/><circle cx="47.0" cy="199.3" r="1.3"/><circle cx="41.2" cy="217.7" r="1.3"/><circle cx="45.5" cy="212.1" r="1.3"/><circle cx="40.5" cy="214.9" r="1.3"/><circle cx="49.1" cy="194.3" r="1.3"/><circle cx="39.5" cy="212.0" r="1.3"/><circle cx="39.6" cy="217.9" r="1.3"/><circle cx="48.4" cy="200.7" r="1.3"/><circle cx="48.4" cy="209.8" r="1.3"/><circle cx="56.5" cy="206.5" r="1.3"/><circle cx="44.5" cy="212.8" r="1.3"/><circle cx="46.4" cy="218.3" r="1.3"/><circle cx="55.1" cy="202.4" r="1.3"/><circle cx="52.8" cy="203.5" r="1.3"/><circle cx="39.3" cy="218.4" r="1.3"/><circle cx="62.9" cy="187.0" r="1.3"/><circle cx="43.1" cy="218.4" r="1.3"/><circle cx="39.9" cy="217.2" r="1.3"/><circle cx="40.8" cy="216.4" r="1.3"/><circle cx="44.8" cy="184.8" r="1.3"/><circle cx="86.2" cy="209.2" r="1.3"/><circle cx="39.2" cy="212.5" r="1.3"/><circle cx="51.1" cy="195.2" r="1.3"/><circle cx="35.4" cy="217.4" r="1.3"/><circle cx="49.0" cy="193.7" r="1.3"/><circle cx="64.3" cy="209.8" r="1.3"/><circle cx="46.3" cy="219.7" r="1.3"/><circle cx="42.8" cy="206.9" r="1.3"/><circle cx="52.1" cy="214.9" r="1.3"/><circle cx="60.1" cy="205.4" r="1.3"/><circle cx="59.3" cy="212.6" r="1.3"/><circle cx="51.8" cy="195.7" r="1.3"/><circle cx="43.1" cy="216.2" r="1.3"/><circle cx="47.5" cy="199.8" r="1.3"/><circle cx="48.1" cy="208.0" r="1.3"/><circle cx="50.4" cy="208.8" r="1.3"/><circle cx="48.6" cy="208.2" r="1.3"/><circle cx="51.3" cy="208.8" r="1.3"/><circle cx="36.9" cy="214.7" r="1.3"/><circle cx="62.8" cy="195.3" r="1.3"/><circle cx="43.2" cy="214.4" r="1.3"/><circle cx="39.2" cy="209.2" r="1.3"/><circle cx="58.8" cy="208.6" r="1.3"/><circle cx="75.5" cy="187.1" r="1.3"/><circle cx="56.2" cy="198.5" r="1.3"/><circle cx="51.1" cy="184.6" r="1.3"/><circle cx="40.6" cy="216.6" r="1.3"/><circle cx="63.9" cy="196.7" r="1.3"/><circle cx="39.4" cy="216.1" r="1.3"/><circle cx="41.6" cy="216.7" r="1.3"/><circle cx="50.1" cy="201.4" r="1.3"/><circle cx="37.4" cy="216.7" r="1.3"/><circle cx="51.2" cy="214.7" r="1.3"/><circle cx="44.2" cy="217.2" r="1.3"/><circle cx="72.8" cy="202.4" r="1.3"/><circle cx="65.8" cy="206.4" r="1.3"/><circle cx="34.1" cy="216.8" r="1.3"/><circle cx="49.5" cy="189.3" r="1.3"/><circle cx="37.1" cy="213.1" r="1.3"/><circle cx="69.6" cy="189.7" r="1.3"/><circle cx="51.2" cy="210.7" r="1.3"/><circle cx="57.2" cy="202.7" r="1.3"/><circle cx="39.8" cy="209.4" r="1.3"/><circle cx="39.8" cy="216.2" r="1.3"/><circle cx="54.2" cy="204.7" r="1.3"/><circle cx="42.4" cy="215.5" r="1.3"/><circle cx="48.7" cy="214.0" r="1.3"/><circle cx="38.7" cy="216.6" r="1.3"/><circle cx="40.4" cy="197.7" r="1.3"/><circle cx="45.7" cy="210.3" r="1.3"/><circle cx="56.4" cy="179.8" r="1.3"/><circle cx="42.6" cy="194.0" r="1.3"/><circle cx="46.3" cy="209.7" r="1.3"/><circle cx="43.3" cy="195.3" r="1.3"/><circle cx="47.4" cy="202.4" r="1.3"/><circle cx="39.2" cy="217.1" r="1.3"/><circle cx="44.4" cy="209.7" r="1.3"/><circle cx="46.6" cy="209.9" r="1.3"/><circle cx="45.4" cy="212.5" r="1.3"/><circle cx="49.7" cy="209.7" r="1.3"/><circle cx="45.8" cy="209.6" r="1.3"/><circle cx="61.1" cy="194.4" r="1.3"/><circle cx="45.5" cy="215.8" r="1.3"/><circle cx="47.4" cy="209.6" r="1.3"/><circle cx="42.5" cy="218.9" r="1.3"/><circle cx="43.6" cy="210.4" r="1.3"/><circle cx="38.7" cy="212.6" r="1.3"/><circle cx="56.7" cy="201.7" r="1.3"/><circle cx="39.4" cy="213.9" r="1.3"/><circle cx="41.9" cy="209.4" r="1.3"/><circle cx="54.0" cy="211.1" r="1.3"/><circle cx="54.7" cy="207.3" r="1.3"/><circle cx="44.7" cy="207.3" r="1.3"/><circle cx="35.8" cy="214.4" r="1.3"/><circle cx="55.0" cy="199.8" r="1.3"/><circle cx="38.0" cy="216.7" r="1.3"/><circle cx="61.5" cy="182.5" r="1.3"/><circle cx="42.2" cy="202.1" r="1.3"/><circle cx="39.5" cy="215.8" r="1.3"/><circle cx="50.2" cy="213.6" r="1.3"/><circle cx="46.9" cy="216.5" r="1.3"/><circle cx="51.7" cy="205.1" r="1.3"/><circle cx="37.2" cy="211.5" r="1.3"/><circle cx="43.0" cy="211.5" r="1.3"/><circle cx="37.5" cy="218.1" r="1.3"/><circle cx="58.5" cy="194.4" r="1.3"/><circle cx="45.2" cy="219.6" r="1.3"/><circle cx="52.1" cy="205.2" r="1.3"/><circle cx="49.3" cy="216.2" r="1.3"/><circle cx="38.2" cy="217.6" r="1.3"/><circle cx="38.1" cy="214.2" r="1.3"/><circle cx="39.7" cy="206.7" r="1.3"/><circle cx="39.1" cy="214.0" r="1.3"/><circle cx="69.6" cy="204.3" r="1.3"/><circle cx="40.9" cy="215.9" r="1.3"/><circle cx="59.4" cy="199.4" r="1.3"/><circle cx="57.9" cy="214.6" r="1.3"/><circle cx="52.5" cy="204.8" r="1.3"/><circle cx="38.5" cy="215.2" r="1.3"/><circle cx="42.9" cy="215.6" r="1.3"/><circle cx="38.6" cy="215.2" r="1.3"/><circle cx="41.3" cy="217.4" r="1.3"/><circle cx="47.1" cy="215.0" r="1.3"/><circle cx="110.5" cy="140.1" r="1.3"/><circle cx="113.7" cy="150.9" r="1.3"/><circle cx="126.4" cy="151.6" r="1.3"/><circle cx="116.1" cy="159.7" r="1.3"/><circle cx="120.3" cy="168.8" r="1.3"/><circle cx="34.4" cy="162.7" r="1.3"/><circle cx="60.5" cy="164.6" r="1.3"/><circle cx="81.6" cy="167.6" r="1.3"/><circle cx="53.9" cy="172.5" r="1.3"/><circle cx="69.3" cy="171.3" r="1.3"/><circle cx="60.1" cy="175.3" r="1.3"/><circle cx="66.6" cy="179.8" r="1.3"/><circle cx="76.0" cy="180.7" r="1.3"/><circle cx="79.7" cy="193.4" r="1.3"/><circle cx="82.6" cy="195.3" r="1.3"/><circle cx="93.7" cy="200.8" r="1.3"/><circle cx="94.5" cy="202.3" r="1.3"/><circle cx="105.6" cy="202.0" r="1.3"/><circle cx="81.6" cy="221.9" r="1.3"/><circle cx="37.7" cy="197.3" r="1.3"/><circle cx="73.5" cy="184.5" r="1.3"/><circle cx="70.7" cy="186.9" r="1.3"/><circle cx="65.1" cy="183.3" r="1.3"/></g>
<line x1="60.90" y1="245.60" x2="65.30" y2="245.60" stroke="#0000ff" stroke-width="1.3" />
<text x="67.10" y="248.50" font-size="8" text-anchor="start" fill="#141414" >Planning</text>
<text transform="translate(6.90,178.50) rotate(-90)" font-size="8" text-anchor="middle" fill="#141414" >Production</text>
<line x1="4.00" y1="201.00" x2="4.00" y2="205.50" stroke="#ff0000" stroke-width="1.3" />
<line x1="161.00" y1="222.90" x2="264.50" y2="222.90" stroke="#a8a8a8" stroke-width="1.7" />
<line x1="166.50" y1="139.00" x2="166.50" y2="228.50" stroke="#2a2a2a" stroke-width="0.9" />
<text x="159.50" y="225.80" font-size="8" text-anchor="end" fill="#141414" >0</text>
<line x1="161.00" y1="181.10" x2="166.50" y2="181.10" stroke="#2a2a2a" stroke-width="0.85" />
<text x="159.50" y="184.00" font-size="8" text-anchor="end" fill="#141414" >0.2</text>
<line x1="161.00" y1="139.30" x2="166.50" y2="139.30" stroke="#2a2a2a" stroke-width="0.85" />
<text x="159.50" y="142.20" font-size="8" text-anchor="end" fill="#141414" >0.4</text>
<text x="166.50" y="237.10" font-size="8" text-anchor="middle" fill="#141414" >0</text>
<line x1="214.90" y1="222.90" x2="214.90" y2="228.50" stroke="#2a2a2a" stroke-width="0.85" />
<text x="214.90" y="237.10" font-size="8" text-anchor="middle" fill="#141414" >0.2</text>
<line x1="263.30" y1="222.90" x2="263.30" y2="228.50" stroke="#2a2a2a" stroke-width="0.85" />
<text x="263.30" y="237.10" font-size="8" text-anchor="middle" fill="#141414" >0.4</text>
<line x1="166.50" y1="222.90" x2="263.30" y2="139.30" stroke="#767676" stroke-width="0.85" stroke-dasharray="3.6,2.5"/>
<g fill="#8a8a8a" fill-opacity="0.38" stroke="#555" stroke-opacity="0.45" stroke-width="0.35"><circle cx="182.2" cy="214.6" r="1.3"/><circle cx="176.9" cy="213.6" r="1.3"/><circle cx="177.5" cy="214.5" r="1.3"/><circle cx="169.9" cy="219.1" r="1.3"/><circle cx="193.8" cy="195.5" r="1.3"/><circle cx="178.1" cy="214.3" r="1.3"/><circle cx="188.5" cy="211.0" r="1.3"/><circle cx="183.0" cy="208.8" r="1.3"/><circle cx="176.7" cy="216.9" r="1.3"/><circle cx="191.2" cy="201.3" r="1.3"/><circle cx="178.2" cy="216.1" r="1.3"/><circle cx="178.1" cy="212.6" r="1.3"/><circle cx="175.4" cy="216.2" r="1.3"/><circle cx="184.8" cy="210.6" r="1.3"/><circle cx="179.8" cy="215.8" r="1.3"/><circle cx="185.8" cy="215.2" r="1.3"/><circle cx="176.4" cy="215.6" r="1.3"/><circle cx="181.6" cy="212.7" r="1.3"/><circle cx="174.9" cy="213.9" r="1.3"/><circle cx="189.4" cy="205.3" r="1.3"/><circle cx="182.2" cy="194.8" r="1.3"/><circle cx="183.5" cy="201.7" r="1.3"/><circle cx="184.3" cy="209.5" r="1.3"/><circle cx="174.3" cy="209.1" r="1.3"/><circle cx="188.6" cy="210.6" r="1.3"/><circle cx="171.9" cy="212.2" r="1.3"/><circle cx="171.6" cy="218.5" r="1.3"/><circle cx="172.4" cy="210.8" r="1.3"/><circle cx="189.4" cy="198.3" r="1.3"/><circle cx="181.6" cy="218.8" r="1.3"/><circle cx="192.7" cy="209.8" r="1.3"/><circle cx="187.8" cy="209.6" r="1.3"/><circle cx="182.4" cy="216.9" r="1.3"/><circle cx="183.0" cy="213.9" r="1.3"/><circle cx="179.2" cy="214.6" r="1.3"/><circle cx="189.7" cy="201.3" r="1.3"/><circle cx="173.8" cy="211.9" r="1.3"/><circle cx="177.5" cy="184.3" r="1.3"/><circle cx="182.7" cy="210.9" r="1.3"/><circle cx="206.4" cy="185.0" r="1.3"/><circle cx="175.5" cy="211.8" r="1.3"/><circle cx="174.0" cy="211.8" r="1.3"/><circle cx="176.6" cy="216.2" r="1.3"/><circle cx="191.1" cy="215.4" r="1.3"/><circle cx="178.7" cy="214.1" r="1.3"/><circle cx="196.8" cy="195.2" r="1.3"/><circle cx="171.2" cy="207.1" r="1.3"/><circle cx="193.5" cy="198.6" r="1.3"/><circle cx="192.1" cy="200.3" r="1.3"/><circle cx="172.7" cy="216.8" r="1.3"/><circle cx="181.8" cy="195.0" r="1.3"/><circle cx="194.9" cy="188.1" r="1.3"/><circle cx="181.3" cy="212.1" r="1.3"/><circle cx="191.6" cy="205.4" r="1.3"/><circle cx="183.0" cy="194.9" r="1.3"/><circle cx="178.4" cy="208.1" r="1.3"/><circle cx="175.5" cy="212.7" r="1.3"/><circle cx="186.9" cy="203.5" r="1.3"/><circle cx="179.0" cy="207.5" r="1.3"/><circle cx="179.2" cy="212.3" r="1.3"/><circle cx="179.7" cy="215.5" r="1.3"/><circle cx="187.0" cy="213.8" r="1.3"/><circle cx="174.1" cy="218.4" r="1.3"/><circle cx="172.3" cy="212.3" r="1.3"/><circle cx="169.9" cy="205.0" r="1.3"/><circle cx="194.6" cy="214.1" r="1.3"/><circle cx="181.1" cy="208.4" r="1.3"/><circle cx="200.2" cy="198.0" r="1.3"/><circle cx="180.5" cy="214.3" r="1.3"/><circle cx="175.6" cy="211.1" r="1.3"/><circle cx="185.0" cy="213.5" r="1.3"/><circle cx="179.9" cy="200.4" r="1.3"/><circle cx="173.3" cy="215.8" r="1.3"/><circle cx="174.9" cy="212.1" r="1.3"/><circle cx="205.6" cy="192.5" r="1.3"/><circle cx="183.7" cy="210.7" r="1.3"/><circle cx="184.4" cy="216.2" r="1.3"/><circle cx="178.5" cy="213.2" r="1.3"/><circle cx="175.9" cy="207.5" r="1.3"/><circle cx="190.0" cy="206.2" r="1.3"/><circle cx="179.7" cy="208.5" r="1.3"/><circle cx="175.5" cy="216.3" r="1.3"/><circle cx="179.5" cy="209.2" r="1.3"/><circle cx="174.8" cy="208.6" r="1.3"/><circle cx="182.2" cy="208.5" r="1.3"/><circle cx="175.1" cy="213.3" r="1.3"/><circle cx="198.6" cy="210.2" r="1.3"/><circle cx="176.0" cy="217.6" r="1.3"/><circle cx="181.8" cy="199.4" r="1.3"/><circle cx="175.1" cy="212.7" r="1.3"/><circle cx="178.8" cy="203.1" r="1.3"/><circle cx="180.9" cy="206.2" r="1.3"/><circle cx="177.4" cy="198.4" r="1.3"/><circle cx="175.8" cy="203.6" r="1.3"/><circle cx="176.0" cy="213.6" r="1.3"/><circle cx="175.2" cy="211.0" r="1.3"/><circle cx="172.1" cy="209.1" r="1.3"/><circle cx="178.6" cy="215.8" r="1.3"/><circle cx="184.2" cy="194.0" r="1.3"/><circle cx="190.3" cy="192.9" r="1.3"/><circle cx="186.9" cy="197.8" r="1.3"/><circle cx="183.4" cy="206.1" r="1.3"/><circle cx="177.3" cy="215.8" r="1.3"/><circle cx="208.1" cy="199.3" r="1.3"/><circle cx="174.1" cy="215.3" r="1.3"/><circle cx="191.1" cy="204.5" r="1.3"/><circle cx="174.6" cy="214.8" r="1.3"/><circle cx="183.7" cy="206.1" r="1.3"/><circle cx="171.0" cy="210.1" r="1.3"/><circle cx="190.1" cy="213.3" r="1.3"/><circle cx="179.3" cy="203.5" r="1.3"/><circle cx="174.5" cy="218.8" r="1.3"/><circle cx="203.7" cy="214.7" r="1.3"/><circle cx="188.4" cy="207.1" r="1.3"/><circle cx="180.9" cy="209.3" r="1.3"/><circle cx="175.6" cy="209.7" r="1.3"/><circle cx="180.2" cy="216.6" r="1.3"/><circle cx="179.3" cy="210.5" r="1.3"/><circle cx="187.9" cy="205.4" r="1.3"/><circle cx="188.8" cy="193.2" r="1.3"/><circle cx="176.0" cy="212.4" r="1.3"/><circle cx="176.7" cy="208.4" r="1.3"/><circle cx="176.8" cy="215.5" r="1.3"/><circle cx="172.9" cy="214.6" r="1.3"/><circle cx="176.5" cy="213.7" r="1.3"/><circle cx="179.8" cy="205.0" r="1.3"/><circle cx="187.5" cy="212.4" r="1.3"/><circle cx="196.7" cy="209.4" r="1.3"/><circle cx="175.3" cy="209.2" r="1.3"/><circle cx="185.8" cy="187.8" r="1.3"/><circle cx="177.3" cy="208.9" r="1.3"/><circle cx="213.3" cy="194.9" r="1.3"/><circle cx="180.1" cy="211.6" r="1.3"/><circle cx="185.3" cy="197.6" r="1.3"/><circle cx="174.7" cy="209.9" r="1.3"/><circle cx="175.3" cy="199.8" r="1.3"/><circle cx="182.3" cy="206.4" r="1.3"/><circle cx="177.7" cy="215.1" r="1.3"/><circle cx="183.7" cy="211.4" r="1.3"/><circle cx="172.2" cy="217.4" r="1.3"/><circle cx="187.1" cy="213.7" r="1.3"/><circle cx="174.8" cy="204.7" r="1.3"/><circle cx="204.6" cy="191.2" r="1.3"/><circle cx="178.4" cy="215.9" r="1.3"/><circle cx="193.0" cy="181.9" r="1.3"/><circle cx="172.7" cy="212.9" r="1.3"/><circle cx="184.5" cy="213.1" r="1.3"/><circle cx="174.9" cy="210.6" r="1.3"/><circle cx="177.1" cy="211.6" r="1.3"/><circle cx="180.7" cy="213.4" r="1.3"/><circle cx="178.2" cy="217.8" r="1.3"/><circle cx="182.9" cy="208.2" r="1.3"/><circle cx="188.2" cy="204.0" r="1.3"/><circle cx="187.0" cy="217.8" r="1.3"/><circle cx="179.8" cy="206.2" r="1.3"/><circle cx="172.9" cy="211.0" r="1.3"/><circle cx="175.3" cy="214.3" r="1.3"/><circle cx="179.0" cy="209.6" r="1.3"/><circle cx="170.6" cy="216.5" r="1.3"/><circle cx="188.2" cy="211.5" r="1.3"/><circle cx="178.7" cy="212.3" r="1.3"/><circle cx="178.6" cy="200.1" r="1.3"/><circle cx="190.8" cy="213.7" r="1.3"/><circle cx="187.2" cy="204.8" r="1.3"/><circle cx="182.5" cy="207.4" r="1.3"/><circle cx="174.4" cy="215.6" r="1.3"/><circle cx="183.3" cy="210.9" r="1.3"/><circle cx="183.7" cy="215.0" r="1.3"/><circle cx="174.9" cy="215.8" r="1.3"/><circle cx="192.2" cy="204.7" r="1.3"/><circle cx="185.3" cy="204.9" r="1.3"/><circle cx="171.0" cy="217.9" r="1.3"/><circle cx="173.2" cy="215.7" r="1.3"/><circle cx="193.6" cy="203.2" r="1.3"/><circle cx="188.9" cy="207.7" r="1.3"/><circle cx="173.9" cy="214.8" r="1.3"/><circle cx="174.9" cy="204.3" r="1.3"/><circle cx="181.4" cy="211.8" r="1.3"/><circle cx="178.7" cy="200.1" r="1.3"/><circle cx="200.5" cy="188.1" r="1.3"/><circle cx="188.1" cy="212.5" r="1.3"/><circle cx="178.4" cy="203.3" r="1.3"/><circle cx="186.1" cy="211.1" r="1.3"/><circle cx="170.8" cy="197.5" r="1.3"/><circle cx="183.3" cy="210.6" r="1.3"/><circle cx="189.7" cy="211.6" r="1.3"/><circle cx="179.2" cy="217.5" r="1.3"/><circle cx="175.8" cy="216.8" r="1.3"/><circle cx="186.0" cy="210.8" r="1.3"/><circle cx="210.2" cy="207.8" r="1.3"/><circle cx="182.3" cy="214.7" r="1.3"/><circle cx="173.8" cy="215.8" r="1.3"/><circle cx="199.0" cy="204.4" r="1.3"/><circle cx="171.2" cy="208.0" r="1.3"/><circle cx="185.3" cy="215.7" r="1.3"/><circle cx="176.5" cy="214.1" r="1.3"/><circle cx="190.6" cy="211.5" r="1.3"/><circle cx="175.1" cy="217.6" r="1.3"/><circle cx="196.7" cy="211.8" r="1.3"/><circle cx="183.2" cy="213.2" r="1.3"/><circle cx="171.7" cy="211.7" r="1.3"/><circle cx="171.0" cy="216.0" r="1.3"/><circle cx="178.2" cy="213.3" r="1.3"/><circle cx="196.2" cy="197.3" r="1.3"/><circle cx="181.6" cy="207.2" r="1.3"/><circle cx="181.1" cy="210.6" r="1.3"/><circle cx="178.7" cy="208.1" r="1.3"/><circle cx="188.0" cy="211.5" r="1.3"/><circle cx="184.0" cy="203.1" r="1.3"/><circle cx="183.0" cy="205.0" r="1.3"/><circle cx="174.4" cy="214.5" r="1.3"/><circle cx="194.5" cy="212.0" r="1.3"/><circle cx="197.4" cy="183.5" r="1.3"/><circle cx="173.1" cy="213.3" r="1.3"/><circle cx="187.8" cy="210.6" r="1.3"/><circle cx="177.1" cy="205.9" r="1.3"/><circle cx="171.2" cy="216.6" r="1.3"/><circle cx="187.0" cy="204.8" r="1.3"/><circle cx="185.9" cy="200.0" r="1.3"/><circle cx="176.4" cy="215.0" r="1.3"/><circle cx="171.5" cy="215.3" r="1.3"/><circle cx="193.4" cy="203.0" r="1.3"/><circle cx="176.5" cy="211.0" r="1.3"/><circle cx="177.2" cy="207.6" r="1.3"/><circle cx="214.7" cy="186.8" r="1.3"/><circle cx="190.9" cy="203.0" r="1.3"/><circle cx="177.3" cy="212.9" r="1.3"/><circle cx="187.0" cy="213.2" r="1.3"/><circle cx="170.2" cy="217.9" r="1.3"/><circle cx="181.4" cy="212.0" r="1.3"/><circle cx="175.5" cy="208.3" r="1.3"/><circle cx="173.2" cy="215.1" r="1.3"/><circle cx="172.1" cy="218.1" r="1.3"/><circle cx="185.5" cy="202.3" r="1.3"/><circle cx="181.3" cy="213.3" r="1.3"/><circle cx="181.9" cy="213.0" r="1.3"/><circle cx="189.4" cy="207.5" r="1.3"/><circle cx="175.1" cy="210.0" r="1.3"/><circle cx="173.4" cy="219.7" r="1.3"/><circle cx="171.5" cy="218.1" r="1.3"/><circle cx="178.1" cy="209.8" r="1.3"/><circle cx="188.3" cy="208.7" r="1.3"/><circle cx="179.4" cy="214.2" r="1.3"/><circle cx="186.9" cy="210.3" r="1.3"/><circle cx="197.8" cy="206.0" r="1.3"/><circle cx="177.3" cy="213.1" r="1.3"/><circle cx="187.7" cy="208.4" r="1.3"/><circle cx="188.7" cy="201.0" r="1.3"/><circle cx="177.3" cy="209.6" r="1.3"/><circle cx="184.7" cy="199.1" r="1.3"/><circle cx="177.3" cy="201.9" r="1.3"/><circle cx="176.4" cy="208.8" r="1.3"/><circle cx="170.1" cy="161.0" r="1.3"/><circle cx="183.2" cy="164.6" r="1.3"/><circle cx="182.7" cy="171.9" r="1.3"/><circle cx="188.0" cy="171.5" r="1.3"/><circle cx="215.1" cy="171.9" r="1.3"/><circle cx="249.0" cy="168.8" r="1.3"/><circle cx="183.2" cy="183.0" r="1.3"/><circle cx="190.0" cy="181.3" r="1.3"/><circle cx="202.8" cy="180.1" r="1.3"/><circle cx="209.1" cy="182.6" r="1.3"/><circle cx="220.0" cy="182.6" r="1.3"/><circle cx="244.2" cy="186.1" r="1.3"/><circle cx="170.9" cy="188.0" r="1.3"/><circle cx="186.8" cy="186.7" r="1.3"/><circle cx="213.9" cy="192.8" r="1.3"/><circle cx="222.9" cy="200.7" r="1.3"/><circle cx="217.6" cy="201.6" r="1.3"/><circle cx="229.9" cy="210.6" r="1.3"/><circle cx="244.7" cy="208.9" r="1.3"/><circle cx="213.9" cy="218.7" r="1.3"/></g>
<line x1="195.90" y1="245.60" x2="200.30" y2="245.60" stroke="#0000ff" stroke-width="1.3" />
<text x="202.10" y="248.50" font-size="8" text-anchor="start" fill="#141414" >Planning</text>
<text transform="translate(141.90,178.50) rotate(-90)" font-size="8" text-anchor="middle" fill="#141414" >Production</text>
<line x1="139.00" y1="201.00" x2="139.00" y2="205.50" stroke="#ff0000" stroke-width="1.3" />
<line x1="296.00" y1="222.90" x2="399.70" y2="222.90" stroke="#a8a8a8" stroke-width="1.7" />
<line x1="301.50" y1="139.00" x2="301.50" y2="228.50" stroke="#2a2a2a" stroke-width="0.9" />
<text x="294.50" y="225.80" font-size="8" text-anchor="end" fill="#141414" >0</text>
<line x1="296.00" y1="189.30" x2="301.50" y2="189.30" stroke="#2a2a2a" stroke-width="0.85" />
<text x="294.50" y="192.20" font-size="8" text-anchor="end" fill="#141414" >0.02</text>
<line x1="296.00" y1="155.70" x2="301.50" y2="155.70" stroke="#2a2a2a" stroke-width="0.85" />
<text x="294.50" y="158.60" font-size="8" text-anchor="end" fill="#141414" >0.04</text>
<text x="301.50" y="237.10" font-size="8" text-anchor="middle" fill="#141414" >0</text>
<line x1="340.60" y1="222.90" x2="340.60" y2="228.50" stroke="#2a2a2a" stroke-width="0.85" />
<text x="340.60" y="237.10" font-size="8" text-anchor="middle" fill="#141414" >0.02</text>
<line x1="379.70" y1="222.90" x2="379.70" y2="228.50" stroke="#2a2a2a" stroke-width="0.85" />
<text x="379.70" y="237.10" font-size="8" text-anchor="middle" fill="#141414" >0.04</text>
<line x1="301.50" y1="222.90" x2="399.25" y2="138.90" stroke="#767676" stroke-width="0.85" stroke-dasharray="3.6,2.5"/>
<g fill="#8a8a8a" fill-opacity="0.38" stroke="#555" stroke-opacity="0.45" stroke-width="0.35"><circle cx="302.1" cy="222.8" r="1.3"/><circle cx="306.5" cy="210.8" r="1.3"/><circle cx="303.6" cy="220.8" r="1.3"/><circle cx="329.5" cy="217.8" r="1.3"/><circle cx="305.9" cy="216.2" r="1.3"/><circle cx="304.8" cy="222.3" r="1.3"/><circle cx="307.0" cy="204.0" r="1.3"/><circle cx="301.6" cy="214.3" r="1.3"/><circle cx="314.2" cy="213.5" r="1.3"/><circle cx="302.3" cy="220.7" r="1.3"/><circle cx="307.2" cy="222.9" r="1.3"/><circle cx="344.0" cy="188.9" r="1.3"/><circle cx="303.7" cy="201.7" r="1.3"/><circle cx="302.6" cy="220.6" r="1.3"/><circle cx="308.1" cy="222.4" r="1.3"/><circle cx="303.2" cy="204.4" r="1.3"/><circle cx="302.7" cy="220.0" r="1.3"/><circle cx="320.4" cy="218.4" r="1.3"/><circle cx="305.2" cy="216.1" r="1.3"/><circle cx="303.8" cy="218.0" r="1.3"/><circle cx="303.7" cy="222.5" r="1.3"/><circle cx="316.3" cy="200.9" r="1.3"/><circle cx="312.9" cy="218.0" r="1.3"/><circle cx="317.0" cy="212.0" r="1.3"/><circle cx="301.9" cy="221.8" r="1.3"/><circle cx="302.1" cy="198.6" r="1.3"/><circle cx="309.0" cy="195.8" r="1.3"/><circle cx="308.9" cy="205.6" r="1.3"/><circle cx="302.7" cy="221.9" r="1.3"/><circle cx="328.9" cy="221.8" r="1.3"/><circle cx="319.5" cy="200.0" r="1.3"/><circle cx="302.3" cy="219.9" r="1.3"/><circle cx="320.0" cy="222.1" r="1.3"/><circle cx="340.4" cy="222.8" r="1.3"/><circle cx="302.7" cy="195.1" r="1.3"/><circle cx="311.3" cy="221.7" r="1.3"/><circle cx="303.1" cy="220.7" r="1.3"/><circle cx="317.1" cy="220.3" r="1.3"/><circle cx="328.5" cy="222.5" r="1.3"/><circle cx="313.0" cy="209.9" r="1.3"/><circle cx="318.7" cy="222.2" r="1.3"/><circle cx="316.2" cy="195.5" r="1.3"/><circle cx="311.1" cy="220.8" r="1.3"/><circle cx="324.0" cy="220.0" r="1.3"/><circle cx="306.4" cy="216.8" r="1.3"/><circle cx="302.3" cy="221.6" r="1.3"/><circle cx="302.2" cy="220.5" r="1.3"/><circle cx="304.0" cy="221.8" r="1.3"/><circle cx="301.7" cy="222.0" r="1.3"/><circle cx="310.6" cy="210.9" r="1.3"/><circle cx="302.7" cy="216.4" r="1.3"/><circle cx="304.1" cy="217.7" r="1.3"/><circle cx="341.3" cy="207.0" r="1.3"/><circle cx="303.1" cy="212.6" r="1.3"/><circle cx="320.1" cy="194.5" r="1.3"/><circle cx="309.3" cy="222.5" r="1.3"/><circle cx="333.5" cy="210.4" r="1.3"/><circle cx="316.2" cy="216.9" r="1.3"/><circle cx="303.4" cy="219.5" r="1.3"/><circle cx="303.9" cy="208.4" r="1.3"/><circle cx="303.5" cy="211.6" r="1.3"/><circle cx="307.1" cy="219.4" r="1.3"/><circle cx="336.3" cy="214.7" r="1.3"/><circle cx="315.6" cy="211.4" r="1.3"/><circle cx="308.5" cy="219.3" r="1.3"/><circle cx="302.5" cy="221.6" r="1.3"/><circle cx="302.5" cy="222.8" r="1.3"/><circle cx="315.4" cy="221.3" r="1.3"/><circle cx="311.7" cy="212.2" r="1.3"/><circle cx="302.5" cy="214.3" r="1.3"/><circle cx="303.4" cy="222.1" r="1.3"/><circle cx="303.8" cy="211.0" r="1.3"/><circle cx="305.5" cy="190.1" r="1.3"/><circle cx="303.8" cy="210.9" r="1.3"/><circle cx="302.2" cy="221.3" r="1.3"/><circle cx="304.0" cy="221.9" r="1.3"/><circle cx="332.4" cy="193.0" r="1.3"/><circle cx="314.7" cy="215.3" r="1.3"/><circle cx="323.1" cy="214.6" r="1.3"/><circle cx="301.8" cy="219.4" r="1.3"/><circle cx="302.6" cy="221.8" r="1.3"/><circle cx="313.6" cy="216.5" r="1.3"/><circle cx="303.5" cy="215.4" r="1.3"/><circle cx="302.1" cy="219.3" r="1.3"/><circle cx="303.7" cy="222.2" r="1.3"/><circle cx="303.0" cy="210.6" r="1.3"/><circle cx="313.3" cy="220.2" r="1.3"/><circle cx="303.8" cy="203.1" r="1.3"/><circle cx="307.1" cy="222.0" r="1.3"/><circle cx="302.6" cy="211.2" r="1.3"/><circle cx="302.7" cy="222.3" r="1.3"/><circle cx="303.7" cy="201.2" r="1.3"/><circle cx="311.1" cy="222.1" r="1.3"/><circle cx="308.2" cy="219.4" r="1.3"/><circle cx="320.0" cy="212.5" r="1.3"/><circle cx="315.6" cy="219.0" r="1.3"/><circle cx="301.7" cy="208.2" r="1.3"/><circle cx="314.2" cy="222.5" r="1.3"/><circle cx="302.4" cy="221.8" r="1.3"/><circle cx="303.7" cy="210.8" r="1.3"/><circle cx="309.2" cy="222.8" r="1.3"/><circle cx="337.1" cy="218.1" r="1.3"/><circle cx="315.9" cy="220.3" r="1.3"/><circle cx="332.8" cy="219.6" r="1.3"/><circle cx="339.5" cy="217.7" r="1.3"/><circle cx="316.9" cy="187.5" r="1.3"/><circle cx="307.2" cy="221.7" r="1.3"/><circle cx="306.7" cy="222.4" r="1.3"/><circle cx="308.6" cy="221.3" r="1.3"/><circle cx="303.5" cy="222.3" r="1.3"/><circle cx="328.1" cy="198.8" r="1.3"/><circle cx="303.2" cy="215.1" r="1.3"/><circle cx="301.7" cy="218.1" r="1.3"/><circle cx="313.3" cy="216.1" r="1.3"/><circle cx="323.3" cy="222.6" r="1.3"/><circle cx="316.7" cy="217.7" r="1.3"/><circle cx="301.8" cy="221.6" r="1.3"/><circle cx="312.0" cy="216.3" r="1.3"/><circle cx="316.9" cy="221.4" r="1.3"/><circle cx="319.7" cy="189.7" r="1.3"/><circle cx="303.9" cy="221.5" r="1.3"/><circle cx="305.3" cy="222.5" r="1.3"/><circle cx="301.6" cy="221.9" r="1.3"/><circle cx="309.2" cy="218.9" r="1.3"/><circle cx="305.6" cy="221.8" r="1.3"/><circle cx="306.3" cy="188.7" r="1.3"/><circle cx="302.7" cy="199.3" r="1.3"/><circle cx="321.9" cy="210.3" r="1.3"/><circle cx="302.9" cy="221.7" r="1.3"/><circle cx="304.0" cy="216.7" r="1.3"/><circle cx="351.6" cy="213.8" r="1.3"/><circle cx="309.5" cy="216.6" r="1.3"/><circle cx="317.3" cy="210.5" r="1.3"/><circle cx="310.9" cy="217.5" r="1.3"/><circle cx="307.5" cy="201.5" r="1.3"/><circle cx="302.7" cy="214.1" r="1.3"/><circle cx="305.4" cy="217.0" r="1.3"/><circle cx="305.8" cy="221.7" r="1.3"/><circle cx="303.6" cy="219.0" r="1.3"/><circle cx="321.2" cy="188.6" r="1.3"/><circle cx="303.1" cy="221.0" r="1.3"/><circle cx="303.0" cy="221.5" r="1.3"/><circle cx="315.2" cy="214.9" r="1.3"/><circle cx="303.2" cy="210.2" r="1.3"/><circle cx="302.7" cy="221.6" r="1.3"/><circle cx="324.3" cy="219.1" r="1.3"/><circle cx="302.9" cy="199.9" r="1.3"/><circle cx="302.7" cy="222.7" r="1.3"/><circle cx="315.3" cy="221.9" r="1.3"/><circle cx="304.8" cy="197.6" r="1.3"/><circle cx="317.5" cy="202.5" r="1.3"/><circle cx="305.0" cy="217.1" r="1.3"/><circle cx="326.7" cy="220.4" r="1.3"/><circle cx="339.2" cy="222.2" r="1.3"/><circle cx="317.3" cy="209.6" r="1.3"/><circle cx="302.1" cy="221.4" r="1.3"/><circle cx="303.0" cy="210.4" r="1.3"/><circle cx="301.7" cy="222.6" r="1.3"/><circle cx="314.6" cy="197.2" r="1.3"/><circle cx="301.7" cy="219.2" r="1.3"/><circle cx="318.9" cy="222.6" r="1.3"/><circle cx="303.0" cy="221.7" r="1.3"/><circle cx="307.5" cy="220.5" r="1.3"/><circle cx="302.0" cy="216.1" r="1.3"/><circle cx="302.5" cy="217.6" r="1.3"/><circle cx="315.0" cy="217.0" r="1.3"/><circle cx="319.1" cy="220.2" r="1.3"/><circle cx="313.5" cy="222.4" r="1.3"/><circle cx="303.0" cy="222.7" r="1.3"/><circle cx="310.5" cy="213.6" r="1.3"/><circle cx="302.7" cy="222.4" r="1.3"/><circle cx="302.9" cy="218.1" r="1.3"/><circle cx="323.9" cy="219.5" r="1.3"/><circle cx="310.1" cy="220.1" r="1.3"/><circle cx="317.2" cy="215.1" r="1.3"/><circle cx="301.5" cy="219.3" r="1.3"/><circle cx="307.2" cy="216.1" r="1.3"/><circle cx="302.1" cy="209.4" r="1.3"/><circle cx="311.2" cy="211.6" r="1.3"/><circle cx="311.5" cy="220.5" r="1.3"/><circle cx="326.1" cy="218.2" r="1.3"/><circle cx="349.8" cy="222.5" r="1.3"/><circle cx="332.5" cy="204.6" r="1.3"/><circle cx="302.1" cy="212.6" r="1.3"/><circle cx="305.0" cy="206.7" r="1.3"/><circle cx="301.8" cy="210.7" r="1.3"/><circle cx="307.6" cy="197.4" r="1.3"/><circle cx="345.6" cy="216.9" r="1.3"/><circle cx="312.6" cy="221.3" r="1.3"/><circle cx="328.6" cy="222.0" r="1.3"/><circle cx="303.1" cy="221.8" r="1.3"/><circle cx="303.2" cy="221.4" r="1.3"/><circle cx="324.4" cy="222.5" r="1.3"/><circle cx="322.9" cy="210.4" r="1.3"/><circle cx="329.0" cy="221.2" r="1.3"/><circle cx="316.4" cy="218.9" r="1.3"/><circle cx="301.8" cy="215.5" r="1.3"/><circle cx="312.8" cy="219.3" r="1.3"/><circle cx="302.1" cy="222.0" r="1.3"/><circle cx="303.1" cy="218.2" r="1.3"/><circle cx="320.2" cy="209.3" r="1.3"/><circle cx="301.8" cy="217.6" r="1.3"/><circle cx="302.9" cy="217.2" r="1.3"/><circle cx="305.2" cy="222.5" r="1.3"/><circle cx="302.4" cy="210.8" r="1.3"/><circle cx="302.2" cy="201.4" r="1.3"/><circle cx="314.9" cy="221.7" r="1.3"/><circle cx="315.2" cy="221.4" r="1.3"/><circle cx="314.8" cy="216.4" r="1.3"/><circle cx="303.5" cy="216.7" r="1.3"/><circle cx="302.1" cy="210.2" r="1.3"/><circle cx="325.2" cy="221.4" r="1.3"/><circle cx="319.5" cy="208.9" r="1.3"/><circle cx="303.0" cy="222.7" r="1.3"/><circle cx="315.0" cy="221.6" r="1.3"/><circle cx="322.1" cy="204.3" r="1.3"/><circle cx="302.8" cy="211.8" r="1.3"/><circle cx="303.9" cy="211.6" r="1.3"/><circle cx="318.0" cy="222.4" r="1.3"/><circle cx="367.0" cy="139.7" r="1.3"/><circle cx="366.4" cy="145.5" r="1.3"/><circle cx="376.4" cy="141.6" r="1.3"/><circle cx="342.4" cy="149.7" r="1.3"/><circle cx="347.8" cy="155.7" r="1.3"/><circle cx="330.0" cy="160.7" r="1.3"/><circle cx="305.0" cy="162.6" r="1.3"/><circle cx="309.3" cy="162.6" r="1.3"/><circle cx="314.2" cy="163.1" r="1.3"/><circle cx="346.1" cy="163.6" r="1.3"/><circle cx="335.5" cy="167.6" r="1.3"/><circle cx="317.7" cy="168.1" r="1.3"/><circle cx="313.4" cy="169.8" r="1.3"/><circle cx="306.0" cy="171.8" r="1.3"/><circle cx="327.7" cy="171.0" r="1.3"/><circle cx="328.1" cy="174.2" r="1.3"/><circle cx="317.7" cy="174.2" r="1.3"/><circle cx="378.1" cy="171.8" r="1.3"/><circle cx="386.5" cy="173.0" r="1.3"/><circle cx="381.3" cy="178.4" r="1.3"/><circle cx="399.2" cy="182.4" r="1.3"/><circle cx="337.5" cy="180.9" r="1.3"/><circle cx="305.4" cy="181.6" r="1.3"/><circle cx="308.0" cy="182.7" r="1.3"/><circle cx="321.4" cy="182.7" r="1.3"/><circle cx="336.3" cy="185.3" r="1.3"/><circle cx="367.4" cy="185.3" r="1.3"/><circle cx="314.6" cy="186.9" r="1.3"/><circle cx="320.7" cy="187.8" r="1.3"/><circle cx="330.0" cy="188.3" r="1.3"/><circle cx="344.3" cy="191.5" r="1.3"/><circle cx="364.6" cy="190.6" r="1.3"/><circle cx="369.9" cy="193.2" r="1.3"/><circle cx="308.3" cy="195.2" r="1.3"/><circle cx="312.8" cy="195.7" r="1.3"/><circle cx="317.7" cy="194.7" r="1.3"/><circle cx="327.7" cy="196.4" r="1.3"/><circle cx="322.6" cy="198.0" r="1.3"/><circle cx="309.1" cy="201.2" r="1.3"/><circle cx="306.6" cy="202.9" r="1.3"/><circle cx="341.8" cy="200.1" r="1.3"/><circle cx="364.6" cy="202.9" r="1.3"/><circle cx="336.3" cy="204.4" r="1.3"/><circle cx="352.7" cy="206.1" r="1.3"/><circle cx="324.0" cy="204.9" r="1.3"/><circle cx="349.8" cy="211.1" r="1.3"/><circle cx="365.0" cy="212.3" r="1.3"/><circle cx="368.2" cy="214.8" r="1.3"/><circle cx="380.5" cy="216.0" r="1.3"/><circle cx="392.8" cy="210.3" r="1.3"/><circle cx="396.5" cy="212.8" r="1.3"/><circle cx="397.7" cy="216.0" r="1.3"/><circle cx="342.4" cy="214.3" r="1.3"/></g>
<line x1="330.90" y1="245.60" x2="335.30" y2="245.60" stroke="#0000ff" stroke-width="1.3" />
<text x="337.10" y="248.50" font-size="8" text-anchor="start" fill="#141414" >Planning</text>
<text transform="translate(276.90,178.50) rotate(-90)" font-size="8" text-anchor="middle" fill="#141414" >Production</text>
<line x1="274.00" y1="201.00" x2="274.00" y2="205.50" stroke="#ff0000" stroke-width="1.3" />
<g fill="#f3801f"><circle cx="36.61" cy="259.20" r="1.20" fill-opacity="0.50"/><circle cx="49.83" cy="259.20" r="2.10"/><circle cx="63.05" cy="259.20" r="3.00"/><circle cx="69.66" cy="259.20" r="0.90"/><circle cx="82.88" cy="259.20" r="1.80" fill-opacity="0.60"/><circle cx="89.49" cy="259.20" r="2.00"/><circle cx="96.10" cy="259.20" r="1.60" fill-opacity="0.20"/><circle cx="115.93" cy="259.20" r="2.10"/><circle cx="129.15" cy="259.20" r="1.90" fill-opacity="0.25"/><circle cx="30.00" cy="264.86" r="1.00" fill-opacity="0.10"/><circle cx="49.83" cy="264.86" r="1.90"/><circle cx="63.05" cy="264.86" r="2.00"/><circle cx="122.54" cy="264.86" r="2.40"/><circle cx="129.15" cy="264.86" r="2.20"/><circle cx="49.83" cy="270.52" r="1.80" fill-opacity="0.10"/><circle cx="63.05" cy="270.52" r="1.80" fill-opacity="0.35"/><circle cx="76.27" cy="270.52" r="1.90"/><circle cx="82.88" cy="270.52" r="1.60" fill-opacity="0.40"/><circle cx="102.71" cy="270.52" r="1.70"/><circle cx="109.32" cy="270.52" r="1.90"/><circle cx="115.93" cy="270.52" r="1.00" fill-opacity="0.25"/><circle cx="129.15" cy="270.52" r="2.10"/><circle cx="49.83" cy="276.18" r="1.90"/><circle cx="56.44" cy="276.18" r="1.10"/><circle cx="89.49" cy="276.18" r="1.60" fill-opacity="0.30"/><circle cx="115.93" cy="276.18" r="1.80"/><circle cx="129.15" cy="276.18" r="2.20"/><circle cx="43.22" cy="281.84" r="1.60" fill-opacity="0.35"/><circle cx="56.44" cy="281.84" r="1.80" fill-opacity="0.50"/><circle cx="76.27" cy="281.84" r="1.90"/><circle cx="82.88" cy="281.84" r="2.20" fill-opacity="0.70"/><circle cx="89.49" cy="281.84" r="1.10"/><circle cx="102.71" cy="281.84" r="1.40"/><circle cx="109.32" cy="281.84" r="2.60"/><circle cx="115.93" cy="281.84" r="2.40"/><circle cx="122.54" cy="281.84" r="1.60" fill-opacity="0.35"/><circle cx="129.15" cy="281.84" r="2.00"/><circle cx="36.61" cy="287.50" r="1.90"/><circle cx="43.22" cy="287.50" r="1.60"/><circle cx="49.83" cy="287.50" r="1.80"/><circle cx="63.05" cy="287.50" r="1.80"/><circle cx="76.27" cy="287.50" r="1.40"/><circle cx="82.88" cy="287.50" r="2.20"/><circle cx="96.10" cy="287.50" r="1.40"/><circle cx="102.71" cy="287.50" r="2.50"/><circle cx="109.32" cy="287.50" r="2.20"/><circle cx="115.93" cy="287.50" r="2.20"/><circle cx="122.54" cy="287.50" r="0.90"/><circle cx="129.15" cy="287.50" r="1.50"/><circle cx="36.61" cy="293.16" r="0.80" fill-opacity="0.10"/><circle cx="43.22" cy="293.16" r="1.60" fill-opacity="0.30"/><circle cx="56.44" cy="293.16" r="1.80"/><circle cx="63.05" cy="293.16" r="2.80"/><circle cx="69.66" cy="293.16" r="1.00" fill-opacity="0.50"/><circle cx="76.27" cy="293.16" r="2.40"/><circle cx="82.88" cy="293.16" r="1.80"/><circle cx="89.49" cy="293.16" r="0.90"/><circle cx="96.10" cy="293.16" r="1.90"/><circle cx="102.71" cy="293.16" r="1.00"/><circle cx="122.54" cy="293.16" r="2.30"/><circle cx="129.15" cy="293.16" r="0.90"/><circle cx="36.61" cy="298.82" r="1.00"/><circle cx="43.22" cy="298.82" r="1.50" fill-opacity="0.30"/><circle cx="49.83" cy="298.82" r="1.00"/><circle cx="56.44" cy="298.82" r="1.00" fill-opacity="0.60"/><circle cx="69.66" cy="298.82" r="1.00" fill-opacity="0.80"/><circle cx="76.27" cy="298.82" r="1.40"/><circle cx="82.88" cy="298.82" r="1.80"/><circle cx="89.49" cy="298.82" r="1.20"/><circle cx="96.10" cy="298.82" r="1.40"/><circle cx="102.71" cy="298.82" r="1.40"/><circle cx="115.93" cy="298.82" r="1.90"/><circle cx="122.54" cy="298.82" r="2.10" fill-opacity="0.40"/><circle cx="129.15" cy="298.82" r="1.00" fill-opacity="0.50"/><circle cx="43.22" cy="304.48" r="2.70"/><circle cx="49.83" cy="304.48" r="1.20" fill-opacity="0.30"/><circle cx="63.05" cy="304.48" r="1.20"/><circle cx="69.66" cy="304.48" r="3.20"/><circle cx="82.88" cy="304.48" r="1.30"/><circle cx="89.49" cy="304.48" r="2.80"/><circle cx="96.10" cy="304.48" r="1.40"/><circle cx="102.71" cy="304.48" r="1.00" fill-opacity="0.50"/><circle cx="115.93" cy="304.48" r="1.80" fill-opacity="0.60"/><circle cx="129.15" cy="304.48" r="1.40"/><circle cx="63.05" cy="310.14" r="0.90" fill-opacity="0.15"/><circle cx="69.66" cy="310.14" r="1.00"/><circle cx="76.27" cy="310.14" r="3.20"/><circle cx="82.88" cy="310.14" r="1.10"/><circle cx="96.10" cy="310.14" r="1.30"/><circle cx="102.71" cy="310.14" r="2.00"/><circle cx="109.32" cy="310.14" r="1.20"/><circle cx="115.93" cy="310.14" r="1.40"/><circle cx="122.54" cy="310.14" r="1.40"/><circle cx="129.15" cy="310.14" r="1.10"/><circle cx="30.00" cy="315.80" r="1.00" fill-opacity="0.35"/><circle cx="56.44" cy="315.80" r="1.80" fill-opacity="0.70"/><circle cx="63.05" cy="315.80" r="1.10"/><circle cx="76.27" cy="315.80" r="1.60" fill-opacity="0.50"/><circle cx="89.49" cy="315.80" r="1.10"/><circle cx="102.71" cy="315.80" r="1.80" fill-opacity="0.40"/><circle cx="122.54" cy="315.80" r="1.80"/><circle cx="129.15" cy="315.80" r="2.70"/><circle cx="30.00" cy="321.46" r="1.40" fill-opacity="0.50"/><circle cx="43.22" cy="321.46" r="1.00" fill-opacity="0.15"/><circle cx="56.44" cy="321.46" r="1.50"/><circle cx="63.05" cy="321.46" r="1.30" fill-opacity="0.60"/><circle cx="89.49" cy="321.46" r="1.40" fill-opacity="0.30"/><circle cx="102.71" cy="321.46" r="1.30" fill-opacity="0.50"/><circle cx="109.32" cy="321.46" r="2.30" fill-opacity="0.35"/><circle cx="115.93" cy="321.46" r="1.10"/><circle cx="122.54" cy="321.46" r="1.20"/><circle cx="129.15" cy="321.46" r="2.20"/><circle cx="63.05" cy="327.12" r="1.30"/><circle cx="76.27" cy="327.12" r="1.60"/><circle cx="96.10" cy="327.12" r="3.20" fill-opacity="0.15"/><circle cx="102.71" cy="327.12" r="3.00" fill-opacity="0.60"/><circle cx="109.32" cy="327.12" r="1.00" fill-opacity="0.20"/><circle cx="115.93" cy="327.12" r="1.90"/><circle cx="122.54" cy="327.12" r="0.90"/><circle cx="129.15" cy="327.12" r="2.50" fill-opacity="0.40"/><circle cx="30.00" cy="332.78" r="1.00" fill-opacity="0.50"/><circle cx="69.66" cy="332.78" r="1.30"/><circle cx="76.27" cy="332.78" r="1.00"/><circle cx="129.15" cy="332.78" r="2.20"/><circle cx="30.00" cy="338.44" r="1.00" fill-opacity="0.50"/><circle cx="69.66" cy="338.44" r="0.90"/><circle cx="76.27" cy="338.44" r="1.20" fill-opacity="0.80"/><circle cx="82.88" cy="338.44" r="1.00"/><circle cx="89.49" cy="338.44" r="1.30"/><circle cx="122.54" cy="338.44" r="1.40"/><circle cx="30.00" cy="344.10" r="1.00"/><circle cx="36.61" cy="344.10" r="1.30"/><circle cx="96.10" cy="344.10" r="1.50"/><circle cx="129.15" cy="344.10" r="1.00" fill-opacity="0.30"/><circle cx="96.10" cy="349.76" r="1.00" fill-opacity="0.60"/><circle cx="129.15" cy="349.76" r="1.90"/></g>
<g fill="#2e9e45"><circle cx="165.30" cy="259.20" r="1.20" fill-opacity="0.50"/><circle cx="171.87" cy="259.20" r="1.10" fill-opacity="0.25"/><circle cx="185.01" cy="259.20" r="1.10" fill-opacity="0.20"/><circle cx="217.86" cy="259.20" r="1.60"/><circle cx="231.00" cy="259.20" r="0.90" fill-opacity="0.30"/><circle cx="165.30" cy="264.86" r="1.40"/><circle cx="171.87" cy="264.86" r="1.60" fill-opacity="0.60"/><circle cx="178.44" cy="264.86" r="1.60"/><circle cx="204.72" cy="264.86" r="1.70" fill-opacity="0.90"/><circle cx="171.87" cy="270.52" r="1.60" fill-opacity="0.40"/><circle cx="178.44" cy="270.52" r="1.10" fill-opacity="0.25"/><circle cx="191.58" cy="270.52" r="1.10" fill-opacity="0.20"/><circle cx="198.15" cy="270.52" r="1.20" fill-opacity="0.30"/><circle cx="217.86" cy="270.52" r="1.40"/><circle cx="224.43" cy="270.52" r="1.20" fill-opacity="0.15"/><circle cx="231.00" cy="270.52" r="1.70" fill-opacity="0.70"/><circle cx="224.43" cy="276.18" r="1.50" fill-opacity="0.80"/><circle cx="244.14" cy="276.18" r="1.30" fill-opacity="0.35"/><circle cx="250.71" cy="276.18" r="1.30" fill-opacity="0.35"/><circle cx="178.44" cy="281.84" r="1.10" fill-opacity="0.25"/><circle cx="198.15" cy="281.84" r="1.10" fill-opacity="0.30"/><circle cx="204.72" cy="281.84" r="1.30" fill-opacity="0.25"/><circle cx="211.29" cy="281.84" r="1.60"/><circle cx="217.86" cy="281.84" r="2.00"/><circle cx="244.14" cy="281.84" r="1.80" fill-opacity="0.30"/><circle cx="250.71" cy="281.84" r="1.80" fill-opacity="0.45"/><circle cx="263.85" cy="281.84" r="1.80" fill-opacity="0.50"/><circle cx="178.44" cy="287.50" r="1.50"/><circle cx="198.15" cy="287.50" r="1.60" fill-opacity="0.60"/><circle cx="204.72" cy="287.50" r="1.30" fill-opacity="0.50"/><circle cx="224.43" cy="287.50" r="1.00" fill-opacity="0.10"/><circle cx="244.14" cy="287.50" r="1.80" fill-opacity="0.45"/><circle cx="250.71" cy="287.50" r="1.90" fill-opacity="0.65"/><circle cx="185.01" cy="293.16" r="0.80" fill-opacity="0.10"/><circle cx="250.71" cy="293.16" r="1.00" fill-opacity="0.10"/><circle cx="257.28" cy="293.16" r="1.30" fill-opacity="0.15"/><circle cx="165.30" cy="298.82" r="1.30"/><circle cx="178.44" cy="298.82" r="1.10" fill-opacity="0.50"/><circle cx="191.58" cy="298.82" r="1.30" fill-opacity="0.80"/><circle cx="198.15" cy="298.82" r="1.80"/><circle cx="204.72" cy="298.82" r="0.90" fill-opacity="0.20"/><circle cx="217.86" cy="298.82" r="1.40" fill-opacity="0.15"/><circle cx="250.71" cy="298.82" r="1.60"/><circle cx="185.01" cy="304.48" r="1.50"/><circle cx="191.58" cy="304.48" r="1.20"/><circle cx="237.57" cy="304.48" r="1.00" fill-opacity="0.10"/><circle cx="257.28" cy="304.48" r="1.60" fill-opacity="0.50"/><circle cx="171.87" cy="310.14" r="1.50" fill-opacity="0.40"/><circle cx="178.44" cy="310.14" r="1.50"/><circle cx="185.01" cy="310.14" r="1.20"/><circle cx="191.58" cy="310.14" r="1.20"/><circle cx="198.15" cy="310.14" r="1.40"/><circle cx="237.57" cy="310.14" r="1.60" fill-opacity="0.30"/><circle cx="250.71" cy="310.14" r="1.40" fill-opacity="0.45"/><circle cx="178.44" cy="315.80" r="1.50"/><circle cx="185.01" cy="315.80" r="1.00"/><circle cx="191.58" cy="315.80" r="1.60"/><circle cx="198.15" cy="315.80" r="1.00"/><circle cx="204.72" cy="315.80" r="1.20"/><circle cx="224.43" cy="315.80" r="1.20"/><circle cx="237.57" cy="315.80" r="1.60"/><circle cx="250.71" cy="315.80" r="1.30" fill-opacity="0.40"/><circle cx="263.85" cy="315.80" r="2.10"/><circle cx="178.44" cy="321.46" r="1.30"/><circle cx="185.01" cy="321.46" r="1.40"/><circle cx="191.58" cy="321.46" r="1.50"/><circle cx="198.15" cy="321.46" r="1.10"/><circle cx="204.72" cy="321.46" r="1.60"/><circle cx="211.29" cy="321.46" r="1.40"/><circle cx="224.43" cy="321.46" r="1.50"/><circle cx="231.00" cy="321.46" r="0.80" fill-opacity="0.20"/><circle cx="237.57" cy="321.46" r="1.30" fill-opacity="0.25"/><circle cx="244.14" cy="321.46" r="2.10"/><circle cx="250.71" cy="321.46" r="1.10"/><circle cx="263.85" cy="321.46" r="1.80" fill-opacity="0.45"/><circle cx="171.87" cy="327.12" r="0.70"/><circle cx="178.44" cy="327.12" r="1.10"/><circle cx="185.01" cy="327.12" r="1.50"/><circle cx="224.43" cy="327.12" r="1.10" fill-opacity="0.30"/><circle cx="231.00" cy="327.12" r="3.00"/><circle cx="237.57" cy="327.12" r="3.00"/><circle cx="244.14" cy="327.12" r="1.10" fill-opacity="0.30"/><circle cx="257.28" cy="327.12" r="0.90" fill-opacity="0.40"/><circle cx="263.85" cy="327.12" r="2.00"/><circle cx="178.44" cy="332.78" r="1.20"/><circle cx="185.01" cy="332.78" r="1.20"/><circle cx="191.58" cy="332.78" r="1.00"/><circle cx="198.15" cy="332.78" r="1.10"/><circle cx="224.43" cy="332.78" r="1.00"/><circle cx="237.57" cy="332.78" r="1.00"/><circle cx="257.28" cy="332.78" r="2.30"/><circle cx="165.30" cy="338.44" r="1.20" fill-opacity="0.30"/><circle cx="185.01" cy="338.44" r="1.20"/><circle cx="191.58" cy="338.44" r="1.00"/><circle cx="198.15" cy="338.44" r="1.20" fill-opacity="0.30"/><circle cx="204.72" cy="338.44" r="0.90"/><circle cx="237.57" cy="338.44" r="1.70"/><circle cx="244.14" cy="338.44" r="1.30"/><circle cx="250.71" cy="338.44" r="2.00"/><circle cx="257.28" cy="338.44" r="1.30"/><circle cx="263.85" cy="338.44" r="2.80"/><circle cx="171.87" cy="344.10" r="1.30" fill-opacity="0.80"/><circle cx="178.44" cy="344.10" r="1.30" fill-opacity="0.50"/><circle cx="185.01" cy="344.10" r="1.40"/><circle cx="191.58" cy="344.10" r="1.60"/><circle cx="198.15" cy="344.10" r="0.90"/><circle cx="204.72" cy="344.10" r="2.10"/><circle cx="211.29" cy="344.10" r="2.20"/><circle cx="217.86" cy="344.10" r="1.30"/><circle cx="224.43" cy="344.10" r="1.00" fill-opacity="0.30"/><circle cx="237.57" cy="344.10" r="1.40"/><circle cx="244.14" cy="344.10" r="1.30"/><circle cx="250.71" cy="344.10" r="1.30"/><circle cx="257.28" cy="344.10" r="1.40" fill-opacity="0.15"/><circle cx="263.85" cy="344.10" r="1.00"/><circle cx="171.87" cy="349.76" r="1.40"/><circle cx="178.44" cy="349.76" r="1.40"/><circle cx="185.01" cy="349.76" r="1.60"/><circle cx="191.58" cy="349.76" r="1.40"/><circle cx="198.15" cy="349.76" r="1.60"/><circle cx="204.72" cy="349.76" r="1.00"/><circle cx="211.29" cy="349.76" r="1.20"/><circle cx="217.86" cy="349.76" r="1.00"/><circle cx="224.43" cy="349.76" r="1.00"/><circle cx="231.00" cy="349.76" r="1.00"/><circle cx="237.57" cy="349.76" r="1.60"/><circle cx="244.14" cy="349.76" r="1.40"/><circle cx="250.71" cy="349.76" r="1.30"/><circle cx="257.28" cy="349.76" r="1.00"/><circle cx="263.85" cy="349.76" r="1.80" fill-opacity="0.60"/></g>
<g fill="#2b7bba"><circle cx="300.70" cy="259.20" r="0.50" fill-opacity="0.30"/><circle cx="307.29" cy="259.20" r="0.50" fill-opacity="0.40"/><circle cx="313.88" cy="259.20" r="0.60" fill-opacity="0.20"/><circle cx="320.47" cy="259.20" r="0.50" fill-opacity="0.30"/><circle cx="327.06" cy="259.20" r="0.50" fill-opacity="0.30"/><circle cx="346.83" cy="259.20" r="0.50" fill-opacity="0.20"/><circle cx="366.60" cy="259.20" r="0.40" fill-opacity="0.15"/><circle cx="373.19" cy="259.20" r="0.50" fill-opacity="0.30"/><circle cx="379.78" cy="259.20" r="1.30"/><circle cx="392.96" cy="259.20" r="1.30"/><circle cx="399.55" cy="259.20" r="0.70"/><circle cx="307.29" cy="264.86" r="1.00"/><circle cx="313.88" cy="264.86" r="0.70" fill-opacity="0.15"/><circle cx="327.06" cy="264.86" r="0.40" fill-opacity="0.20"/><circle cx="340.24" cy="264.86" r="0.60" fill-opacity="0.50"/><circle cx="346.83" cy="264.86" r="1.20"/><circle cx="353.42" cy="264.86" r="0.80" fill-opacity="0.70"/><circle cx="360.01" cy="264.86" r="0.70" fill-opacity="0.50"/><circle cx="366.60" cy="264.86" r="0.90"/><circle cx="373.19" cy="264.86" r="1.00"/><circle cx="379.78" cy="264.86" r="1.10"/><circle cx="386.37" cy="264.86" r="0.70" fill-opacity="0.60"/><circle cx="300.70" cy="270.52" r="0.60" fill-opacity="0.50"/><circle cx="307.29" cy="270.52" r="0.80"/><circle cx="313.88" cy="270.52" r="0.40" fill-opacity="0.20"/><circle cx="320.47" cy="270.52" r="1.10"/><circle cx="327.06" cy="270.52" r="1.10"/><circle cx="333.65" cy="270.52" r="0.60" fill-opacity="0.60"/><circle cx="340.24" cy="270.52" r="0.40" fill-opacity="0.30"/><circle cx="353.42" cy="270.52" r="0.40" fill-opacity="0.30"/><circle cx="360.01" cy="270.52" r="0.40" fill-opacity="0.20"/><circle cx="366.60" cy="270.52" r="0.70"/><circle cx="386.37" cy="270.52" r="0.40" fill-opacity="0.30"/><circle cx="392.96" cy="270.52" r="0.80" fill-opacity="0.70"/><circle cx="307.29" cy="276.18" r="0.70" fill-opacity="0.70"/><circle cx="313.88" cy="276.18" r="1.00"/><circle cx="333.65" cy="276.18" r="0.50" fill-opacity="0.30"/><circle cx="340.24" cy="276.18" r="0.40" fill-opacity="0.20"/><circle cx="346.83" cy="276.18" r="0.50" fill-opacity="0.20"/><circle cx="353.42" cy="276.18" r="0.40" fill-opacity="0.30"/><circle cx="360.01" cy="276.18" r="0.50" fill-opacity="0.30"/><circle cx="366.60" cy="276.18" r="0.40" fill-opacity="0.20"/><circle cx="373.19" cy="276.18" r="1.20"/><circle cx="379.78" cy="276.18" r="0.60" fill-opacity="0.50"/><circle cx="392.96" cy="276.18" r="1.50"/><circle cx="300.70" cy="281.84" r="0.60" fill-opacity="0.20"/><circle cx="307.29" cy="281.84" r="1.00"/><circle cx="313.88" cy="281.84" r="0.90" fill-opacity="0.50"/><circle cx="320.47" cy="281.84" r="0.40" fill-opacity="0.30"/><circle cx="327.06" cy="281.84" r="0.50" fill-opacity="0.20"/><circle cx="333.65" cy="281.84" r="0.40" fill-opacity="0.20"/><circle cx="340.24" cy="281.84" r="0.40" fill-opacity="0.20"/><circle cx="366.60" cy="281.84" r="2.30"/><circle cx="392.96" cy="281.84" r="0.70" fill-opacity="0.30"/><circle cx="300.70" cy="287.50" r="1.30"/><circle cx="313.88" cy="287.50" r="0.50" fill-opacity="0.15"/><circle cx="320.47" cy="287.50" r="0.40" fill-opacity="0.30"/><circle cx="327.06" cy="287.50" r="0.60" fill-opacity="0.50"/><circle cx="340.24" cy="287.50" r="0.60" fill-opacity="0.60"/><circle cx="360.01" cy="287.50" r="0.50" fill-opacity="0.50"/><circle cx="366.60" cy="287.50" r="0.90" fill-opacity="0.60"/><circle cx="300.70" cy="293.16" r="0.70" fill-opacity="0.70"/><circle cx="307.29" cy="293.16" r="0.40" fill-opacity="0.30"/><circle cx="313.88" cy="293.16" r="0.50" fill-opacity="0.20"/><circle cx="320.47" cy="293.16" r="0.50" fill-opacity="0.40"/><circle cx="340.24" cy="293.16" r="0.50" fill-opacity="0.40"/><circle cx="379.78" cy="293.16" r="0.40" fill-opacity="0.30"/><circle cx="386.37" cy="293.16" r="0.40" fill-opacity="0.30"/><circle cx="307.29" cy="298.82" r="0.40" fill-opacity="0.10"/><circle cx="313.88" cy="298.82" r="0.50" fill-opacity="0.10"/><circle cx="327.06" cy="298.82" r="0.40" fill-opacity="0.10"/><circle cx="340.24" cy="298.82" r="0.40" fill-opacity="0.15"/><circle cx="346.83" cy="298.82" r="0.60" fill-opacity="0.15"/><circle cx="379.78" cy="298.82" r="0.50" fill-opacity="0.20"/><circle cx="392.96" cy="298.82" r="0.50" fill-opacity="0.15"/><circle cx="399.55" cy="298.82" r="0.80"/><circle cx="300.70" cy="304.48" r="0.60" fill-opacity="0.60"/><circle cx="307.29" cy="304.48" r="0.50" fill-opacity="0.60"/><circle cx="346.83" cy="304.48" r="1.20"/><circle cx="373.19" cy="304.48" r="0.40" fill-opacity="0.30"/><circle cx="379.78" cy="304.48" r="0.40" fill-opacity="0.20"/><circle cx="386.37" cy="304.48" r="0.60" fill-opacity="0.80"/><circle cx="392.96" cy="304.48" r="0.60" fill-opacity="0.60"/><circle cx="300.70" cy="310.14" r="0.70" fill-opacity="0.60"/><circle cx="307.29" cy="310.14" r="0.50" fill-opacity="0.60"/><circle cx="360.01" cy="310.14" r="0.60" fill-opacity="0.60"/><circle cx="392.96" cy="310.14" r="0.40" fill-opacity="0.20"/><circle cx="300.70" cy="315.80" r="0.40" fill-opacity="0.10"/><circle cx="307.29" cy="315.80" r="0.70" fill-opacity="0.80"/><circle cx="333.65" cy="315.80" r="0.40" fill-opacity="0.10"/><circle cx="346.83" cy="315.80" r="1.20"/><circle cx="353.42" cy="315.80" r="1.30"/><circle cx="366.60" cy="315.80" r="0.40" fill-opacity="0.30"/><circle cx="379.78" cy="315.80" r="0.50" fill-opacity="0.35"/><circle cx="386.37" cy="315.80" r="0.50" fill-opacity="0.60"/><circle cx="399.55" cy="315.80" r="1.40" fill-opacity="0.70"/><circle cx="300.70" cy="321.46" r="0.40" fill-opacity="0.20"/><circle cx="307.29" cy="321.46" r="0.60"/><circle cx="353.42" cy="321.46" r="0.50" fill-opacity="0.60"/><circle cx="360.01" cy="321.46" r="1.00"/><circle cx="366.60" cy="321.46" r="0.60" fill-opacity="0.80"/><circle cx="373.19" cy="321.46" r="0.50" fill-opacity="0.50"/><circle cx="300.70" cy="327.12" r="0.40" fill-opacity="0.20"/><circle cx="313.88" cy="327.12" r="0.70" fill-opacity="0.60"/><circle cx="327.06" cy="327.12" r="0.60" fill-opacity="0.80"/><circle cx="333.65" cy="327.12" r="0.90"/><circle cx="340.24" cy="327.12" r="0.40" fill-opacity="0.30"/><circle cx="353.42" cy="327.12" r="0.50" fill-opacity="0.50"/><circle cx="360.01" cy="327.12" r="0.80"/><circle cx="379.78" cy="327.12" r="0.50" fill-opacity="0.35"/><circle cx="300.70" cy="332.78" r="0.70" fill-opacity="0.40"/><circle cx="307.29" cy="332.78" r="0.80"/><circle cx="353.42" cy="332.78" r="0.40" fill-opacity="0.20"/><circle cx="366.60" cy="332.78" r="0.50" fill-opacity="0.35"/><circle cx="379.78" cy="332.78" r="0.70" fill-opacity="0.35"/><circle cx="386.37" cy="332.78" r="0.40" fill-opacity="0.20"/><circle cx="399.55" cy="332.78" r="0.50" fill-opacity="0.30"/><circle cx="300.70" cy="338.44" r="0.50" fill-opacity="0.50"/><circle cx="307.29" cy="338.44" r="0.40" fill-opacity="0.30"/><circle cx="313.88" cy="338.44" r="0.50" fill-opacity="0.15"/><circle cx="333.65" cy="338.44" r="0.90"/><circle cx="340.24" cy="338.44" r="0.50" fill-opacity="0.60"/><circle cx="366.60" cy="338.44" r="0.60"/><circle cx="313.88" cy="344.10" r="0.60" fill-opacity="0.20"/><circle cx="360.01" cy="344.10" r="0.40" fill-opacity="0.15"/><circle cx="373.19" cy="344.10" r="0.30" fill-opacity="0.15"/><circle cx="392.96" cy="344.10" r="0.50" fill-opacity="0.30"/><circle cx="300.70" cy="349.76" r="0.60" fill-opacity="0.20"/></g>
<line x1="58.00" y1="361.00" x2="62.40" y2="361.00" stroke="#ff0000" stroke-width="1.3" />
<text x="64.20" y="363.80" font-size="8" text-anchor="start" fill="#141414" >Production</text>
<line x1="195.20" y1="361.00" x2="200.50" y2="361.00" stroke="#ff0000" stroke-width="1.3" />
<text x="201.50" y="363.80" font-size="8" text-anchor="start" fill="#141414" >Production</text>
<line x1="328.00" y1="361.00" x2="333.00" y2="361.00" stroke="#ff0000" stroke-width="1.3" />
<text x="333.60" y="363.80" font-size="8" text-anchor="start" fill="#141414" >Production</text>
<text transform="translate(13.60,334.30) rotate(-90)" font-size="7.7" text-anchor="middle" fill="#141414" ><tspan font-style="italic">D</tspan><tspan font-size="4.6" dy="-2.8">2</tspan><tspan dy="2.8"> scale</tspan></text>
<circle cx="11.5" cy="311.5" r="0.85" fill="#111"/>
<text transform="translate(13.60,298.20) rotate(-90)" font-size="7.4" text-anchor="middle" fill="#141414" >0.1</text>
<circle cx="11.5" cy="283.7" r="2.75" fill="#000"/>
<text transform="translate(13.60,269.70) rotate(-90)" font-size="7.4" text-anchor="middle" fill="#141414" >0.8</text>
<text x="429.10" y="9.70" font-size="10.5" text-anchor="start" fill="#141414" font-weight="bold" stroke="#141414" stroke-width="0.35">b</text>
<text x="441.40" y="9.70" font-size="8.2" text-anchor="start" fill="#141414" >Planning and production subspace dynamics</text>
<text x="448.40" y="28.60" font-size="8.2" text-anchor="start" fill="#141414" >Speech subspaces</text>
<path d="M455.70 46.80 L498.50 52.20" fill="none" stroke="#111111" stroke-width="0.65" />
<path d="M498.50 52.20 L497.70 99.40" fill="none" stroke="#111111" stroke-width="0.65" />
<polygon points="473.3,37.4 520.8,41.4 507.7,94.2 459.4,89.5" fill="#ec3238"/>
<polygon points="473.3,37.4 468.8,41.1 508.3,91.6 507.7,94.2 459.4,89.5" fill="#e3262d"/>
<path d="M479.50 33.70 L479.50 79.00" fill="none" stroke="#4a0808" stroke-width="0.55" />
<path d="M455.70 92.10 L479.50 79.00 L521.40 85.80" fill="none" stroke="#4a0808" stroke-width="0.55" />
<polygon points="468.8,41.1 498.5,52.2 508.3,91.6" fill="#2b10e6"/>
<path d="M479.50 55.50 L479.50 79.00" fill="none" stroke="#1a0a60" stroke-width="0.5" />
<line x1="468.8" y1="41.1" x2="508.3" y2="91.6" stroke="#fff" stroke-width="1.0"/>
<line x1="482.5" y1="58.2" x2="471.8" y2="60.4" stroke="#f6a31e" stroke-width="0.9"/>
<path d="M475.30 61.87 L471.8 60.4 L474.44 57.67" fill="none" stroke="#f6a31e" stroke-width="1.0" stroke-linejoin="miter"/>
<line x1="484.5" y1="63.8" x2="469.3" y2="69.4" stroke="#f6a31e" stroke-width="0.9"/>
<path d="M472.98 70.33 L469.3 69.4 L471.50 66.30" fill="none" stroke="#f6a31e" stroke-width="1.0" stroke-linejoin="miter"/>
<line x1="490.7" y1="66.4" x2="464.6" y2="80.2" stroke="#f6a31e" stroke-width="0.9"/>
<path d="M468.38 80.63 L464.6 80.2 L466.37 76.84" fill="none" stroke="#f6a31e" stroke-width="1.0" stroke-linejoin="miter"/>
<line x1="494.5" y1="68.9" x2="476.9" y2="81.0" stroke="#f6a31e" stroke-width="0.9"/>
<path d="M480.70 80.99 L476.9 81.0 L478.27 77.46" fill="none" stroke="#f6a31e" stroke-width="1.0" stroke-linejoin="miter"/>
<line x1="497.4" y1="72.4" x2="490.7" y2="80.3" stroke="#f6a31e" stroke-width="0.9"/>
<path d="M494.36 79.30 L490.7 80.3 L491.09 76.52" fill="none" stroke="#f6a31e" stroke-width="1.0" stroke-linejoin="miter"/>
<line x1="488" y1="47.5" x2="485.5" y2="48.8" stroke="#a383d8" stroke-width="0.6"/>
<path d="M488.23 49.41 L485.5 48.8 L486.57 46.21" fill="none" stroke="#a383d8" stroke-width="0.7" stroke-linejoin="miter"/>
<line x1="492.5" y1="49" x2="490" y2="50.5" stroke="#a383d8" stroke-width="0.6"/>
<path d="M492.76 50.94 L490 50.5 L490.91 47.85" fill="none" stroke="#a383d8" stroke-width="0.7" stroke-linejoin="miter"/>
<line x1="497" y1="55" x2="495.2" y2="57" stroke="#a383d8" stroke-width="0.6"/>
<path d="M497.97 56.61 L495.2 57 L495.29 54.20" fill="none" stroke="#a383d8" stroke-width="0.7" stroke-linejoin="miter"/>
<line x1="499.5" y1="61.5" x2="497.8" y2="63.5" stroke="#a383d8" stroke-width="0.6"/>
<path d="M500.56 63.04 L497.8 63.5 L497.81 60.70" fill="none" stroke="#a383d8" stroke-width="0.7" stroke-linejoin="miter"/>
<line x1="500.5" y1="67" x2="498.8" y2="69.2" stroke="#a383d8" stroke-width="0.6"/>
<path d="M501.54 68.61 L498.8 69.2 L498.68 66.40" fill="none" stroke="#a383d8" stroke-width="0.7" stroke-linejoin="miter"/>
<path d="M455.70 46.80 L479.50 33.70 L520.80 41.40 L521.40 85.80 L497.70 99.40 L455.70 92.10 L455.70 46.80" fill="none" stroke="#111111" stroke-width="0.65" />
<path d="M498.50 52.20 L520.80 41.40" fill="none" stroke="#1a0505" stroke-width="0.6" stroke-dasharray="1.1,0.7"/>
<text transform="translate(479.6,40.6) rotate(27)" font-size="7.2" fill="#111">Planning</text>
<text transform="translate(466.6,87.6) rotate(5)" font-size="7.1" fill="#111">Production</text>
<text x="452.70" y="63.10" font-size="6.8" text-anchor="end" fill="#141414" >Velar</text>
<text x="453.70" y="76.00" font-size="6.8" text-anchor="end" fill="#141414" >Alveolar</text>
<text x="453.00" y="89.00" font-size="6.8" text-anchor="end" fill="#141414" >Dental</text>
<text x="438.90" y="101.70" font-size="6.8" text-anchor="start" fill="#141414" >Labiodental</text>
<text x="478.00" y="106.10" font-size="6.8" text-anchor="start" fill="#141414" >Bilabial</text>
<line x1="547.00" y1="40.00" x2="547.00" y2="88.00" stroke="#141414" stroke-width="0.7" />
<line x1="544.50" y1="40.00" x2="547.00" y2="40.00" stroke="#141414" stroke-width="0.7" />
<text x="543.50" y="42.50" font-size="7" text-anchor="end" fill="#141414" >4,000</text>
<line x1="544.50" y1="88.00" x2="547.00" y2="88.00" stroke="#141414" stroke-width="0.7" />
<text x="543.50" y="90.50" font-size="7" text-anchor="end" fill="#141414" >0</text>
<rect x="572.80" y="83.30" width="4.60" height="4.70" fill="#8c8c8c" stroke="#4d4d4d" stroke-width="0.4"/>
<rect x="577.40" y="75.00" width="4.90" height="13.00" fill="#8c8c8c" stroke="#4d4d4d" stroke-width="0.4"/>
<rect x="582.30" y="47.70" width="4.70" height="40.30" fill="#8c8c8c" stroke="#4d4d4d" stroke-width="0.4"/>
<rect x="587.00" y="42.30" width="4.70" height="45.70" fill="#8c8c8c" stroke="#4d4d4d" stroke-width="0.4"/>
<rect x="591.70" y="74.50" width="4.50" height="13.50" fill="#8c8c8c" stroke="#4d4d4d" stroke-width="0.4"/>
<line x1="547.00" y1="88.00" x2="598.20" y2="88.00" stroke="#141414" stroke-width="0.7" />
<line x1="551.90" y1="88.00" x2="551.90" y2="90.50" stroke="#141414" stroke-width="0.7" />
<text x="551.90" y="98.80" font-size="7" text-anchor="middle" fill="#141414" >0.25</text>
<line x1="572.20" y1="88.00" x2="572.20" y2="90.50" stroke="#141414" stroke-width="0.7" />
<text x="572.20" y="98.80" font-size="7" text-anchor="middle" fill="#141414" >0.50</text>
<line x1="592.70" y1="88.00" x2="592.70" y2="90.50" stroke="#141414" stroke-width="0.7" />
<text x="592.70" y="98.80" font-size="7" text-anchor="middle" fill="#141414" >0.75</text>
<line x1="549.50" y1="40.00" x2="549.50" y2="88.00" stroke="#e8262b" stroke-width="0.8" />
<text x="572.30" y="107.20" font-size="7" text-anchor="middle" fill="#141414" >Variance recovered</text>
<line x1="620.40" y1="40.00" x2="620.40" y2="88.00" stroke="#141414" stroke-width="0.7" />
<line x1="617.90" y1="49.10" x2="620.40" y2="49.10" stroke="#141414" stroke-width="0.7" />
<text x="616.90" y="51.60" font-size="7" text-anchor="end" fill="#141414" >2,000</text>
<line x1="617.90" y1="88.00" x2="620.40" y2="88.00" stroke="#141414" stroke-width="0.7" />
<text x="616.90" y="90.50" font-size="7" text-anchor="end" fill="#141414" >0</text>
<rect x="626.00" y="84.40" width="3.30" height="3.60" fill="#8c8c8c" stroke="#4d4d4d" stroke-width="0.4"/>
<rect x="629.30" y="78.40" width="3.30" height="9.60" fill="#8c8c8c" stroke="#4d4d4d" stroke-width="0.4"/>
<rect x="632.60" y="66.00" width="3.30" height="22.00" fill="#8c8c8c" stroke="#4d4d4d" stroke-width="0.4"/>
<rect x="635.90" y="51.80" width="3.30" height="36.20" fill="#8c8c8c" stroke="#4d4d4d" stroke-width="0.4"/>
<rect x="639.20" y="42.30" width="3.30" height="45.70" fill="#8c8c8c" stroke="#4d4d4d" stroke-width="0.4"/>
<rect x="642.50" y="44.70" width="3.30" height="43.30" fill="#8c8c8c" stroke="#4d4d4d" stroke-width="0.4"/>
<rect x="645.80" y="62.00" width="3.30" height="26.00" fill="#8c8c8c" stroke="#4d4d4d" stroke-width="0.4"/>
<rect x="649.10" y="77.80" width="3.30" height="10.20" fill="#8c8c8c" stroke="#4d4d4d" stroke-width="0.4"/>
<rect x="652.40" y="86.00" width="3.30" height="2.00" fill="#8c8c8c" stroke="#4d4d4d" stroke-width="0.4"/>
<line x1="620.40" y1="88.00" x2="671.50" y2="88.00" stroke="#141414" stroke-width="0.7" />
<line x1="632.00" y1="88.00" x2="632.00" y2="90.50" stroke="#141414" stroke-width="0.7" />
<text x="632.00" y="98.80" font-size="7" text-anchor="middle" fill="#141414" >0.25</text>
<line x1="647.50" y1="88.00" x2="647.50" y2="90.50" stroke="#141414" stroke-width="0.7" />
<text x="647.50" y="98.80" font-size="7" text-anchor="middle" fill="#141414" >0.50</text>
<line x1="662.80" y1="88.00" x2="662.80" y2="90.50" stroke="#141414" stroke-width="0.7" />
<text x="662.80" y="98.80" font-size="7" text-anchor="middle" fill="#141414" >0.75</text>
<line x1="674.30" y1="40.00" x2="674.30" y2="88.00" stroke="#e8262b" stroke-width="0.8" />
<text x="648.50" y="107.20" font-size="7" text-anchor="middle" fill="#141414" >Subspace misalignment</text>
<text transform="translate(527.80,64.70) rotate(-90)" font-size="7" text-anchor="middle" fill="#141414" >Frequency</text>
<text transform="translate(557.00,64.00) rotate(-90)" font-size="7" text-anchor="middle" fill="#141414" >True value</text>
<text x="587.80" y="26.60" font-size="7" text-anchor="middle" fill="#141414" >Null</text>
<text x="587.80" y="35.40" font-size="7" text-anchor="middle" fill="#141414" >distribution</text>
<text x="450.00" y="127.40" font-size="8.1" text-anchor="start" fill="#141414" >Dynamical systems model</text>
<rect x="568" y="123.6" width="3.4" height="3.4" fill="#0000ff"/>
<text x="573.60" y="127.40" font-size="8.1" text-anchor="start" fill="#141414" >Planning</text>
<rect x="610.6" y="123.6" width="3.4" height="3.4" fill="#ff0000"/>
<text x="616.60" y="127.40" font-size="8.1" text-anchor="start" fill="#141414" >Production</text>
<clipPath id="cp0"><rect x="450.3" y="133.5" width="87.30000000000001" height="89.30000000000001"/></clipPath>
<g clip-path="url(#cp0)"><path d="M490.0 225.7L491.6 225.5L493.2 225.3L494.7 225.2L496.3 225.1L497.9 225.1L499.4 225.2L501.0 225.4L502.6 225.6 M480.6 225.2L482.2 224.6L483.8 224.0L485.3 223.5L486.9 223.1L488.5 222.7L490.0 222.4L491.6 222.2L493.2 222.0L494.7 221.9L496.3 221.8L497.9 221.8L499.4 221.9L501.0 222.1L502.6 222.3L504.1 222.6L505.7 222.9L507.3 223.4L508.9 223.9L510.4 224.4L512.0 225.0L513.6 225.7 M474.3 225.2L475.9 224.3L477.5 223.4L479.0 222.6L480.6 221.9L482.2 221.3L483.8 220.7L485.3 220.2L486.9 219.8L488.5 219.4L490.0 219.1L491.6 218.8L493.2 218.7L494.7 218.6L496.3 218.5L497.9 218.5L499.4 218.6L501.0 218.8L502.6 219.0L504.1 219.3L505.7 219.6L507.3 220.1L508.9 220.5L510.4 221.1L512.0 221.7L513.6 222.4L515.1 223.2L516.7 224.0L518.3 224.9 M469.6 225.0L471.2 223.9L472.8 222.8L474.3 221.9L475.9 221.0L477.5 220.1L479.0 219.3L480.6 218.6L482.2 218.0L483.8 217.4L485.3 216.9L486.9 216.5L488.5 216.1L490.0 215.8L491.6 215.5L493.2 215.4L494.7 215.3L496.3 215.2L497.9 215.2L499.4 215.3L501.0 215.5L502.6 215.7L504.1 216.0L505.7 216.3L507.3 216.8L508.9 217.2L510.4 217.8L512.0 218.4L513.6 219.1L515.1 219.8L516.7 220.7L518.3 221.5L519.8 222.5L521.4 223.5L523.0 224.6L524.5 225.7 M464.9 225.4L466.5 224.1L468.1 222.8L469.6 221.7L471.2 220.6L472.8 219.5L474.3 218.6L475.9 217.7L477.5 216.8L479.0 216.0L480.6 215.3L482.2 214.7L483.8 214.1L485.3 213.6L486.9 213.2L488.5 212.8L490.0 212.5L491.6 212.2L493.2 212.1L494.7 212.0L496.3 211.9L497.9 211.9L499.4 212.0L501.0 212.2L502.6 212.4L504.1 212.7L505.7 213.0L507.3 213.5L508.9 213.9L510.4 214.5L512.0 215.1L513.6 215.8L515.1 216.5L516.7 217.4L518.3 218.2L519.8 219.2L521.4 220.2L523.0 221.3L524.5 222.4L526.1 223.7L527.7 224.9 M461.8 224.9L463.4 223.5L464.9 222.1L466.5 220.8L468.1 219.5L469.6 218.4L471.2 217.3L472.8 216.2L474.3 215.3L475.9 214.4L477.5 213.5L479.0 212.7L480.6 212.0L482.2 211.4L483.8 210.8L485.3 210.3L486.9 209.9L488.5 209.5L490.0 209.2L491.6 208.9L493.2 208.8L494.7 208.6L496.3 208.6L497.9 208.6L499.4 208.7L501.0 208.9L502.6 209.1L504.1 209.4L505.7 209.7L507.3 210.1L508.9 210.6L510.4 211.2L512.0 211.8L513.6 212.5L515.1 213.2L516.7 214.1L518.3 214.9L519.8 215.9L521.4 216.9L523.0 218.0L524.5 219.1L526.1 220.4L527.7 221.6L529.2 223.0L530.8 224.4 M458.7 224.7L460.2 223.1L461.8 221.6L463.4 220.2L464.9 218.8L466.5 217.5L468.1 216.2L469.6 215.1L471.2 214.0L472.8 212.9L474.3 212.0L475.9 211.0L477.5 210.2L479.0 209.4L480.6 208.7L482.2 208.1L483.8 207.5L485.3 207.0L486.9 206.6L488.5 206.2L490.0 205.9L491.6 205.6L493.2 205.5L494.7 205.3L496.3 205.3L497.9 205.3L499.4 205.4L501.0 205.6L502.6 205.8L504.1 206.1L505.7 206.4L507.3 206.8L508.9 207.3L510.4 207.9L512.0 208.5L513.6 209.2L515.1 209.9L516.7 210.8L518.3 211.6L519.8 212.6L521.4 213.6L523.0 214.7L524.5 215.8L526.1 217.1L527.7 218.3L529.2 219.7L530.8 221.1L532.4 222.6L533.9 224.1L535.5 225.7 M455.5 224.8L457.1 223.1L458.7 221.4L460.2 219.9L461.8 218.4L463.4 217.0L464.9 215.6L466.5 214.3L468.1 213.1L469.6 211.9L471.2 210.8L472.8 209.8L474.3 208.8L475.9 207.9L477.5 207.0L479.0 206.3L480.6 205.5L482.2 204.9L483.8 204.3L485.3 203.8L486.9 203.3L488.5 203.0L490.0 202.6L491.6 202.4L493.2 202.2L494.7 202.1L496.3 202.0L497.9 202.0L499.4 202.1L501.0 202.2L502.6 202.4L504.1 202.7L505.7 203.0L507.3 203.4L508.9 203.9L510.4 204.4L512.0 205.0L513.6 205.6L515.1 206.3L516.7 207.1L518.3 208.0L519.8 208.9L521.4 209.9L523.0 210.9L524.5 212.0L526.1 213.2L527.7 214.4L529.2 215.7L530.8 217.1L532.4 218.6L533.9 220.1L535.5 221.6L537.1 223.3L538.7 224.9 M452.4 225.1L454.0 223.3L455.5 221.5L457.1 219.8L458.7 218.2L460.2 216.7L461.8 215.2L463.4 213.8L464.9 212.4L466.5 211.1L468.1 209.9L469.6 208.7L471.2 207.6L472.8 206.6L474.3 205.6L475.9 204.7L477.5 203.9L479.0 203.1L480.6 202.4L482.2 201.7L483.8 201.1L485.3 200.6L486.9 200.1L488.5 199.7L490.0 199.4L491.6 199.1L493.2 198.9L494.7 198.8L496.3 198.7L497.9 198.7L499.4 198.7L501.0 198.8L502.6 199.0L504.1 199.3L505.7 199.6L507.3 199.9L508.9 200.4L510.4 200.9L512.0 201.4L513.6 202.0L515.1 202.7L516.7 203.5L518.3 204.3L519.8 205.2L521.4 206.1L523.0 207.1L524.5 208.2L526.1 209.3L527.7 210.5L529.2 211.8L530.8 213.1L532.4 214.5L533.9 215.9L535.5 217.4L537.1 219.0L538.7 220.7L540.2 222.4 M449.2 225.5L450.8 223.6L452.4 221.8L454.0 220.0L455.5 218.3L457.1 216.6L458.7 215.0L460.2 213.5L461.8 212.0L463.4 210.6L464.9 209.2L466.5 208.0L468.1 206.7L469.6 205.6L471.2 204.5L472.8 203.4L474.3 202.5L475.9 201.6L477.5 200.7L479.0 199.9L480.6 199.2L482.2 198.5L483.8 197.9L485.3 197.4L486.9 196.9L488.5 196.5L490.0 196.2L491.6 195.9L493.2 195.7L494.7 195.5L496.3 195.4L497.9 195.4L499.4 195.4L501.0 195.5L502.6 195.7L504.1 195.9L505.7 196.1L507.3 196.5L508.9 196.9L510.4 197.4L512.0 197.9L513.6 198.5L515.1 199.1L516.7 199.8L518.3 200.6L519.8 201.4L521.4 202.4L523.0 203.3L524.5 204.3L526.1 205.4L527.7 206.6L529.2 207.8L530.8 209.1L532.4 210.4L533.9 211.8L535.5 213.3L537.1 214.8L538.7 216.4L540.2 218.0 M447.7 224.1L449.2 222.2L450.8 220.3L452.4 218.4L454.0 216.7L455.5 215.0L457.1 213.3L458.7 211.7L460.2 210.2L461.8 208.8L463.4 207.4L464.9 206.0L466.5 204.8L468.1 203.5L469.6 202.4L471.2 201.3L472.8 200.3L474.3 199.3L475.9 198.4L477.5 197.5L479.0 196.8L480.6 196.0L482.2 195.4L483.8 194.8L485.3 194.2L486.9 193.7L488.5 193.3L490.0 193.0L491.6 192.7L493.2 192.4L494.7 192.3L496.3 192.1L497.9 192.1L499.4 192.1L501.0 192.2L502.6 192.3L504.1 192.5L505.7 192.7L507.3 193.0L508.9 193.4L510.4 193.9L512.0 194.4L513.6 194.9L515.1 195.5L516.7 196.2L518.3 197.0L519.8 197.8L521.4 198.6L523.0 199.5L524.5 200.5L526.1 201.6L527.7 202.7L529.2 203.9L530.8 205.1L532.4 206.4L533.9 207.7L535.5 209.1L537.1 210.6L538.7 212.1L540.2 213.7 M447.7 220.7L449.2 218.8L450.8 216.9L452.4 215.1L454.0 213.4L455.5 211.7L457.1 210.1L458.7 208.5L460.2 207.0L461.8 205.5L463.4 204.2L464.9 202.8L466.5 201.6L468.1 200.4L469.6 199.2L471.2 198.1L472.8 197.1L474.3 196.1L475.9 195.2L477.5 194.4L479.0 193.6L480.6 192.9L482.2 192.2L483.8 191.6L485.3 191.0L486.9 190.5L488.5 190.1L490.0 189.7L491.6 189.4L493.2 189.2L494.7 189.0L496.3 188.9L497.9 188.8L499.4 188.8L501.0 188.8L502.6 188.9L504.1 189.1L505.7 189.3L507.3 189.6L508.9 190.0L510.4 190.4L512.0 190.8L513.6 191.4L515.1 192.0L516.7 192.6L518.3 193.3L519.8 194.1L521.4 194.9L523.0 195.8L524.5 196.7L526.1 197.7L527.7 198.8L529.2 199.9L530.8 201.1L532.4 202.4L533.9 203.7L535.5 205.0L537.1 206.5L538.7 207.9L540.2 209.5 M447.7 217.3L449.2 215.4L450.8 213.5L452.4 211.8L454.0 210.0L455.5 208.4L457.1 206.8L458.7 205.2L460.2 203.7L461.8 202.3L463.4 200.9L464.9 199.6L466.5 198.3L468.1 197.1L469.6 196.0L471.2 194.9L472.8 193.9L474.3 192.9L475.9 192.0L477.5 191.2L479.0 190.4L480.6 189.7L482.2 189.0L483.8 188.4L485.3 187.8L486.9 187.3L488.5 186.9L490.0 186.5L491.6 186.2L493.2 185.9L494.7 185.7L496.3 185.6L497.9 185.5L499.4 185.5L501.0 185.5L502.6 185.6L504.1 185.7L505.7 185.9L507.3 186.2L508.9 186.5L510.4 186.9L512.0 187.3L513.6 187.8L515.1 188.4L516.7 189.0L518.3 189.7L519.8 190.4L521.4 191.2L523.0 192.1L524.5 193.0L526.1 193.9L527.7 195.0L529.2 196.0L530.8 197.2L532.4 198.4L533.9 199.6L535.5 200.9L537.1 202.3L538.7 203.8L540.2 205.2 M447.7 213.8L449.2 212.0L450.8 210.1L452.4 208.4L454.0 206.7L455.5 205.0L457.1 203.4L458.7 201.9L460.2 200.4L461.8 199.0L463.4 197.7L464.9 196.4L466.5 195.1L468.1 193.9L469.6 192.8L471.2 191.7L472.8 190.7L474.3 189.8L475.9 188.9L477.5 188.0L479.0 187.2L480.6 186.5L482.2 185.8L483.8 185.2L485.3 184.6L486.9 184.1L488.5 183.7L490.0 183.3L491.6 183.0L493.2 182.7L494.7 182.5L496.3 182.3L497.9 182.2L499.4 182.2L501.0 182.2L502.6 182.3L504.1 182.4L505.7 182.6L507.3 182.8L508.9 183.1L510.4 183.5L512.0 183.9L513.6 184.3L515.1 184.9L516.7 185.4L518.3 186.1L519.8 186.8L521.4 187.5L523.0 188.3L524.5 189.2L526.1 190.1L527.7 191.1L529.2 192.2L530.8 193.3L532.4 194.4L533.9 195.6L535.5 196.9L537.1 198.2L538.7 199.6L540.2 201.0 M447.7 210.4L449.2 208.5L450.8 206.7L452.4 205.0L454.0 203.3L455.5 201.7L457.1 200.1L458.7 198.6L460.2 197.2L461.8 195.8L463.4 194.4L464.9 193.1L466.5 191.9L468.1 190.7L469.6 189.6L471.2 188.5L472.8 187.5L474.3 186.6L475.9 185.7L477.5 184.8L479.0 184.0L480.6 183.3L482.2 182.6L483.8 182.0L485.3 181.4L486.9 180.9L488.5 180.5L490.0 180.1L491.6 179.7L493.2 179.5L494.7 179.2L496.3 179.1L497.9 178.9L499.4 178.9L501.0 178.9L502.6 178.9L504.1 179.0L505.7 179.2L507.3 179.4L508.9 179.7L510.4 180.0L512.0 180.4L513.6 180.8L515.1 181.3L516.7 181.9L518.3 182.5L519.8 183.1L521.4 183.9L523.0 184.6L524.5 185.5L526.1 186.4L527.7 187.3L529.2 188.3L530.8 189.4L532.4 190.5L533.9 191.6L535.5 192.8L537.1 194.1L538.7 195.5L540.2 196.8 M447.7 206.9L449.2 205.1L450.8 203.3L452.4 201.6L454.0 199.9L455.5 198.3L457.1 196.8L458.7 195.3L460.2 193.8L461.8 192.5L463.4 191.1L464.9 189.9L466.5 188.6L468.1 187.5L469.6 186.4L471.2 185.3L472.8 184.3L474.3 183.4L475.9 182.5L477.5 181.6L479.0 180.8L480.6 180.1L482.2 179.4L483.8 178.8L485.3 178.2L486.9 177.7L488.5 177.3L490.0 176.9L491.6 176.5L493.2 176.2L494.7 176.0L496.3 175.8L497.9 175.7L499.4 175.6L501.0 175.6L502.6 175.6L504.1 175.7L505.7 175.8L507.3 176.0L508.9 176.3L510.4 176.6L512.0 176.9L513.6 177.3L515.1 177.8L516.7 178.3L518.3 178.9L519.8 179.5L521.4 180.2L523.0 181.0L524.5 181.8L526.1 182.6L527.7 183.5L529.2 184.5L530.8 185.5L532.4 186.5L533.9 187.7L535.5 188.8L537.1 190.1L538.7 191.3L540.2 192.7 M447.7 203.4L449.2 201.6L450.8 199.8L452.4 198.1L454.0 196.5L455.5 194.9L457.1 193.4L458.7 191.9L460.2 190.5L461.8 189.2L463.4 187.8L464.9 186.6L466.5 185.4L468.1 184.2L469.6 183.1L471.2 182.1L472.8 181.1L474.3 180.1L475.9 179.2L477.5 178.4L479.0 177.6L480.6 176.9L482.2 176.2L483.8 175.6L485.3 175.0L486.9 174.5L488.5 174.1L490.0 173.6L491.6 173.3L493.2 173.0L494.7 172.7L496.3 172.5L497.9 172.4L499.4 172.3L501.0 172.3L502.6 172.3L504.1 172.3L505.7 172.5L507.3 172.6L508.9 172.9L510.4 173.1L512.0 173.5L513.6 173.9L515.1 174.3L516.7 174.8L518.3 175.3L519.8 175.9L521.4 176.6L523.0 177.3L524.5 178.1L526.1 178.9L527.7 179.7L529.2 180.6L530.8 181.6L532.4 182.6L533.9 183.7L535.5 184.8L537.1 186.0L538.7 187.3L540.2 188.6 M447.7 199.8L449.2 198.1L450.8 196.4L452.4 194.7L454.0 193.1L455.5 191.5L457.1 190.0L458.7 188.6L460.2 187.2L461.8 185.8L463.4 184.5L464.9 183.3L466.5 182.1L468.1 181.0L469.6 179.9L471.2 178.8L472.8 177.8L474.3 176.9L475.9 176.0L477.5 175.2L479.0 174.4L480.6 173.7L482.2 173.0L483.8 172.4L485.3 171.8L486.9 171.3L488.5 170.8L490.0 170.4L491.6 170.1L493.2 169.7L494.7 169.5L496.3 169.3L497.9 169.1L499.4 169.0L501.0 169.0L502.6 169.0L504.1 169.0L505.7 169.1L507.3 169.3L508.9 169.5L510.4 169.7L512.0 170.0L513.6 170.4L515.1 170.8L516.7 171.3L518.3 171.8L519.8 172.4L521.4 173.0L523.0 173.6L524.5 174.4L526.1 175.1L527.7 176.0L529.2 176.8L530.8 177.8L532.4 178.8L533.9 179.8L535.5 180.9L537.1 182.0L538.7 183.2L540.2 184.4 M447.7 196.3L449.2 194.5L450.8 192.9L452.4 191.2L454.0 189.6L455.5 188.1L457.1 186.6L458.7 185.2L460.2 183.8L461.8 182.5L463.4 181.2L464.9 180.0L466.5 178.8L468.1 177.7L469.6 176.6L471.2 175.6L472.8 174.6L474.3 173.7L475.9 172.8L477.5 172.0L479.0 171.2L480.6 170.5L482.2 169.8L483.8 169.2L485.3 168.6L486.9 168.1L488.5 167.6L490.0 167.2L491.6 166.8L493.2 166.5L494.7 166.2L496.3 166.0L497.9 165.9L499.4 165.7L501.0 165.7L502.6 165.6L504.1 165.7L505.7 165.8L507.3 165.9L508.9 166.1L510.4 166.3L512.0 166.6L513.6 166.9L515.1 167.3L516.7 167.8L518.3 168.2L519.8 168.8L521.4 169.4L523.0 170.0L524.5 170.7L526.1 171.4L527.7 172.2L529.2 173.1L530.8 174.0L532.4 174.9L533.9 175.9L535.5 176.9L537.1 178.0L538.7 179.2L540.2 180.4 M447.7 192.7L449.2 191.0L450.8 189.3L452.4 187.7L454.0 186.2L455.5 184.7L457.1 183.2L458.7 181.8L460.2 180.4L461.8 179.1L463.4 177.9L464.9 176.7L466.5 175.5L468.1 174.4L469.6 173.3L471.2 172.3L472.8 171.4L474.3 170.4L475.9 169.6L477.5 168.8L479.0 168.0L480.6 167.3L482.2 166.6L483.8 166.0L485.3 165.4L486.9 164.9L488.5 164.4L490.0 164.0L491.6 163.6L493.2 163.3L494.7 163.0L496.3 162.8L497.9 162.6L499.4 162.5L501.0 162.4L502.6 162.3L504.1 162.4L505.7 162.4L507.3 162.5L508.9 162.7L510.4 162.9L512.0 163.2L513.6 163.5L515.1 163.9L516.7 164.3L518.3 164.7L519.8 165.2L521.4 165.8L523.0 166.4L524.5 167.1L526.1 167.8L527.7 168.5L529.2 169.3L530.8 170.2L532.4 171.1L533.9 172.0L535.5 173.0L537.1 174.1L538.7 175.2L540.2 176.3 M447.7 189.1L449.2 187.4L450.8 185.8L452.4 184.2L454.0 182.7L455.5 181.2L457.1 179.8L458.7 178.4L460.2 177.1L461.8 175.8L463.4 174.5L464.9 173.3L466.5 172.2L468.1 171.1L469.6 170.0L471.2 169.0L472.8 168.1L474.3 167.2L475.9 166.3L477.5 165.5L479.0 164.8L480.6 164.0L482.2 163.4L483.8 162.7L485.3 162.2L486.9 161.7L488.5 161.2L490.0 160.8L491.6 160.4L493.2 160.0L494.7 159.8L496.3 159.5L497.9 159.3L499.4 159.2L501.0 159.1L502.6 159.0L504.1 159.0L505.7 159.1L507.3 159.2L508.9 159.3L510.4 159.5L512.0 159.8L513.6 160.1L515.1 160.4L516.7 160.8L518.3 161.2L519.8 161.7L521.4 162.2L523.0 162.8L524.5 163.4L526.1 164.1L527.7 164.8L529.2 165.6L530.8 166.4L532.4 167.2L533.9 168.2L535.5 169.1L537.1 170.1L538.7 171.2L540.2 172.3 M447.7 185.4L449.2 183.8L450.8 182.2L452.4 180.7L454.0 179.2L455.5 177.7L457.1 176.3L458.7 175.0L460.2 173.6L461.8 172.4L463.4 171.2L464.9 170.0L466.5 168.9L468.1 167.8L469.6 166.7L471.2 165.8L472.8 164.8L474.3 163.9L475.9 163.1L477.5 162.3L479.0 161.5L480.6 160.8L482.2 160.1L483.8 159.5L485.3 159.0L486.9 158.4L488.5 158.0L490.0 157.5L491.6 157.1L493.2 156.8L494.7 156.5L496.3 156.3L497.9 156.1L499.4 155.9L501.0 155.8L502.6 155.7L504.1 155.7L505.7 155.8L507.3 155.9L508.9 156.0L510.4 156.2L512.0 156.4L513.6 156.6L515.1 156.9L516.7 157.3L518.3 157.7L519.8 158.2L521.4 158.7L523.0 159.2L524.5 159.8L526.1 160.4L527.7 161.1L529.2 161.9L530.8 162.6L532.4 163.5L533.9 164.3L535.5 165.2L537.1 166.2L538.7 167.2L540.2 168.3 M447.7 181.8L449.2 180.2L450.8 178.6L452.4 177.1L454.0 175.6L455.5 174.2L457.1 172.8L458.7 171.5L460.2 170.2L461.8 169.0L463.4 167.8L464.9 166.6L466.5 165.5L468.1 164.4L469.6 163.4L471.2 162.5L472.8 161.5L474.3 160.6L475.9 159.8L477.5 159.0L479.0 158.3L480.6 157.6L482.2 156.9L483.8 156.3L485.3 155.7L486.9 155.2L488.5 154.7L490.0 154.3L491.6 153.9L493.2 153.6L494.7 153.3L496.3 153.0L497.9 152.8L499.4 152.6L501.0 152.5L502.6 152.5L504.1 152.4L505.7 152.5L507.3 152.5L508.9 152.6L510.4 152.8L512.0 153.0L513.6 153.2L515.1 153.5L516.7 153.8L518.3 154.2L519.8 154.7L521.4 155.1L523.0 155.6L524.5 156.2L526.1 156.8L527.7 157.5L529.2 158.1L530.8 158.9L532.4 159.7L533.9 160.5L535.5 161.4L537.1 162.3L538.7 163.3L540.2 164.3 M447.7 178.1L449.2 176.5L450.8 175.0L452.4 173.5L454.0 172.1L455.5 170.7L457.1 169.3L458.7 168.0L460.2 166.8L461.8 165.5L463.4 164.4L464.9 163.2L466.5 162.1L468.1 161.1L469.6 160.1L471.2 159.1L472.8 158.2L474.3 157.4L475.9 156.5L477.5 155.7L479.0 155.0L480.6 154.3L482.2 153.7L483.8 153.1L485.3 152.5L486.9 152.0L488.5 151.5L490.0 151.1L491.6 150.7L493.2 150.3L494.7 150.0L496.3 149.8L497.9 149.5L499.4 149.4L501.0 149.3L502.6 149.2L504.1 149.1L505.7 149.1L507.3 149.2L508.9 149.3L510.4 149.4L512.0 149.6L513.6 149.8L515.1 150.1L516.7 150.4L518.3 150.8L519.8 151.1L521.4 151.6L523.0 152.1L524.5 152.6L526.1 153.2L527.7 153.8L529.2 154.5L530.8 155.2L532.4 155.9L533.9 156.7L535.5 157.5L537.1 158.4L538.7 159.4L540.2 160.3 M447.7 174.4L449.2 172.9L450.8 171.4L452.4 169.9L454.0 168.5L455.5 167.1L457.1 165.8L458.7 164.5L460.2 163.3L461.8 162.1L463.4 160.9L464.9 159.8L466.5 158.8L468.1 157.7L469.6 156.8L471.2 155.8L472.8 154.9L474.3 154.1L475.9 153.2L477.5 152.5L479.0 151.7L480.6 151.1L482.2 150.4L483.8 149.8L485.3 149.2L486.9 148.7L488.5 148.3L490.0 147.8L491.6 147.4L493.2 147.1L494.7 146.8L496.3 146.5L497.9 146.3L499.4 146.1L501.0 146.0L502.6 145.9L504.1 145.8L505.7 145.8L507.3 145.9L508.9 145.9L510.4 146.1L512.0 146.2L513.6 146.4L515.1 146.7L516.7 147.0L518.3 147.3L519.8 147.7L521.4 148.1L523.0 148.5L524.5 149.0L526.1 149.6L527.7 150.2L529.2 150.8L530.8 151.5L532.4 152.2L533.9 152.9L535.5 153.7L537.1 154.6L538.7 155.5L540.2 156.4 M447.7 170.7L449.2 169.2L450.8 167.7L452.4 166.3L454.0 164.9L455.5 163.6L457.1 162.3L458.7 161.0L460.2 159.8L461.8 158.6L463.4 157.5L464.9 156.4L466.5 155.4L468.1 154.4L469.6 153.4L471.2 152.5L472.8 151.6L474.3 150.7L475.9 149.9L477.5 149.2L479.0 148.5L480.6 147.8L482.2 147.1L483.8 146.6L485.3 146.0L486.9 145.5L488.5 145.0L490.0 144.6L491.6 144.2L493.2 143.8L494.7 143.5L496.3 143.3L497.9 143.0L499.4 142.8L501.0 142.7L502.6 142.6L504.1 142.5L505.7 142.5L507.3 142.5L508.9 142.6L510.4 142.7L512.0 142.8L513.6 143.0L515.1 143.3L516.7 143.5L518.3 143.8L519.8 144.2L521.4 144.6L523.0 145.0L524.5 145.5L526.1 146.0L527.7 146.5L529.2 147.1L530.8 147.8L532.4 148.5L533.9 149.2L535.5 149.9L537.1 150.7L538.7 151.6L540.2 152.5 M447.7 166.9L449.2 165.4L450.8 164.0L452.4 162.6L454.0 161.3L455.5 160.0L457.1 158.7L458.7 157.5L460.2 156.3L461.8 155.2L463.4 154.1L464.9 153.0L466.5 152.0L468.1 151.0L469.6 150.0L471.2 149.1L472.8 148.3L474.3 147.4L475.9 146.6L477.5 145.9L479.0 145.2L480.6 144.5L482.2 143.9L483.8 143.3L485.3 142.7L486.9 142.2L488.5 141.8L490.0 141.3L491.6 140.9L493.2 140.6L494.7 140.3L496.3 140.0L497.9 139.8L499.4 139.6L501.0 139.4L502.6 139.3L504.1 139.2L505.7 139.2L507.3 139.2L508.9 139.3L510.4 139.4L512.0 139.5L513.6 139.7L515.1 139.9L516.7 140.1L518.3 140.4L519.8 140.7L521.4 141.1L523.0 141.5L524.5 141.9L526.1 142.4L527.7 142.9L529.2 143.5L530.8 144.1L532.4 144.8L533.9 145.4L535.5 146.2L537.1 146.9L538.7 147.7L540.2 148.6 M447.7 163.1L449.2 161.7L450.8 160.3L452.4 159.0L454.0 157.6L455.5 156.4L457.1 155.1L458.7 153.9L460.2 152.8L461.8 151.7L463.4 150.6L464.9 149.5L466.5 148.5L468.1 147.6L469.6 146.6L471.2 145.7L472.8 144.9L474.3 144.1L475.9 143.3L477.5 142.6L479.0 141.9L480.6 141.2L482.2 140.6L483.8 140.0L485.3 139.5L486.9 139.0L488.5 138.5L490.0 138.1L491.6 137.7L493.2 137.3L494.7 137.0L496.3 136.8L497.9 136.5L499.4 136.3L501.0 136.2L502.6 136.0L504.1 136.0L505.7 135.9L507.3 135.9L508.9 135.9L510.4 136.0L512.0 136.1L513.6 136.3L515.1 136.5L516.7 136.7L518.3 137.0L519.8 137.3L521.4 137.6L523.0 138.0L524.5 138.4L526.1 138.9L527.7 139.4L529.2 139.9L530.8 140.5L532.4 141.1L533.9 141.7L535.5 142.4L537.1 143.1L538.7 143.9L540.2 144.7 M447.7 159.4L449.2 158.0L450.8 156.7L452.4 155.4L454.0 154.1L455.5 152.8L457.1 151.6L458.7 150.4L460.2 149.3L461.8 148.2L463.4 147.1L464.9 146.1L466.5 145.1L468.1 144.2L469.6 143.3L471.2 142.4L472.8 141.6L474.3 140.8L475.9 140.0L477.5 139.3L479.0 138.6L480.6 137.9L482.2 137.3L483.8 136.7L485.3 136.2L486.9 135.7L488.5 135.2L490.0 134.8L491.6 134.4L493.2 134.1L494.7 133.8L496.3 133.5L497.9 133.2L499.4 133.0L501.0 132.9L502.6 132.8L504.1 132.7L505.7 132.6L507.3 132.6L508.9 132.6L510.4 132.7L512.0 132.8L513.6 132.9L515.1 133.1L516.7 133.3L518.3 133.6L519.8 133.9L521.4 134.2L523.0 134.5L524.5 134.9L526.1 135.4L527.7 135.8L529.2 136.4L530.8 136.9L532.4 137.5L533.9 138.1L535.5 138.8L537.1 139.5L538.7 140.2L540.2 141.0 M447.7 156.1L449.2 154.7L450.8 153.4L452.4 152.1L454.0 150.8L455.5 149.5L457.1 148.3L458.7 147.1L460.2 146.0L461.8 144.9L463.4 143.8L464.9 142.8L466.5 141.8L468.1 140.9L469.6 140.0L471.2 139.1L472.8 138.2L474.3 137.4L475.9 136.7L477.5 136.0L479.0 135.3L480.6 134.6L482.2 134.0L483.8 133.4L485.3 132.9L486.9 132.4L488.5 131.9L490.0 131.5L491.6 131.1L493.2 130.8 M519.8 130.5L521.4 130.9L523.0 131.2L524.5 131.6L526.1 132.1L527.7 132.5L529.2 133.1L530.8 133.6L532.4 134.2L533.9 134.8L535.5 135.5L537.1 136.2L538.7 136.9L540.2 137.7 M447.7 152.8L449.2 151.4L450.8 150.1L452.4 148.8L454.0 147.5L455.5 146.2L457.1 145.0L458.7 143.8L460.2 142.7L461.8 141.6L463.4 140.5L464.9 139.5L466.5 138.5L468.1 137.6L469.6 136.7L471.2 135.8L472.8 134.9L474.3 134.1L475.9 133.4L477.5 132.7L479.0 132.0L480.6 131.3L482.2 130.7 M532.4 130.9L533.9 131.5L535.5 132.2L537.1 132.9L538.7 133.6L540.2 134.4 M447.7 149.5L449.2 148.1L450.8 146.8L452.4 145.4L454.0 144.2L455.5 142.9L457.1 141.7L458.7 140.5L460.2 139.4L461.8 138.3L463.4 137.2L464.9 136.2L466.5 135.2L468.1 134.3L469.6 133.4L471.2 132.5L472.8 131.6L474.3 130.8 M447.7 146.2L449.2 144.8L450.8 143.5L452.4 142.1L454.0 140.9L455.5 139.6L457.1 138.4L458.7 137.2L460.2 136.1L461.8 135.0L463.4 133.9L464.9 132.9L466.5 131.9L468.1 131.0 M447.7 142.9L449.2 141.5L450.8 140.2L452.4 138.8L454.0 137.6L455.5 136.3L457.1 135.1L458.7 133.9L460.2 132.8L461.8 131.7L463.4 130.6 M447.7 139.6L449.2 138.2L450.8 136.9L452.4 135.5L454.0 134.2L455.5 133.0L457.1 131.8L458.7 130.6 M447.7 136.3L449.2 134.9L450.8 133.6L452.4 132.2L454.0 130.9 M447.7 133.0L449.2 131.6" fill="none" stroke="#c3c3c3" stroke-width="0.42"/><path d="M485.2 220.3L487.3 218.6L487.9 220.6ZM508.7 217.2L511.5 217.1L510.8 219.0ZM511.9 215.1L514.7 215.1L513.8 217.1ZM492.9 212.1L495.4 210.8L495.6 212.9ZM508.7 210.6L511.5 210.4L510.8 212.4ZM472.8 216.2L474.4 214.0L475.5 215.7ZM477.4 210.2L479.3 208.2L480.2 210.0ZM504.0 206.0L506.7 205.6L506.2 207.6ZM462.0 221.4L463.2 218.9L464.6 220.4ZM499.2 202.1L501.9 201.2L501.7 203.3ZM499.2 202.1L501.9 201.2L501.7 203.3ZM500.8 202.2L503.5 201.5L503.2 203.5ZM516.7 203.5L519.4 203.7L518.5 205.6ZM494.5 198.8L497.0 197.6L497.1 199.7ZM511.9 201.4L514.7 201.3L513.9 203.3ZM460.5 213.2L461.6 210.7L463.1 212.2ZM492.9 195.7L495.4 194.4L495.6 196.5ZM460.5 210.0L461.6 207.5L463.1 209.0ZM516.6 196.2L519.4 196.3L518.5 198.2ZM460.5 210.0L461.6 207.5L463.1 209.0ZM491.4 189.5L493.8 188.0L494.1 190.1ZM468.2 200.3L469.6 197.9L470.9 199.6ZM486.7 187.4L488.9 185.7L489.5 187.7ZM534.1 199.8L536.8 200.6L535.4 202.2ZM526.2 194.0L528.9 194.5L527.7 196.2ZM483.6 185.2L485.7 183.4L486.4 185.4ZM488.3 183.7L490.5 182.1L491.0 184.1ZM477.4 188.0L479.3 185.9L480.2 187.8ZM518.2 182.4L520.9 182.5L520.1 184.4ZM524.5 185.5L527.3 185.8L526.3 187.6ZM491.4 179.8L493.7 178.3L494.1 180.4ZM518.2 178.9L520.9 178.8L520.1 180.8ZM532.5 186.6L535.2 187.2L534.0 189.0ZM508.7 176.2L511.4 175.7L511.0 177.7ZM510.2 173.1L513.0 172.6L512.5 174.7ZM483.6 175.6L485.7 173.8L486.4 175.8ZM534.1 183.8L536.7 184.4L535.5 186.1ZM482.1 173.1L484.1 171.1L484.9 173.1ZM505.5 169.1L508.1 168.3L507.9 170.4ZM460.4 187.0L461.7 184.5L463.1 186.1ZM503.9 165.7L506.5 164.8L506.4 166.9ZM503.9 165.7L506.5 164.8L506.4 166.9ZM465.1 179.9L466.5 177.5L467.7 179.2ZM455.8 184.4L456.9 181.9L458.4 183.5ZM521.3 165.7L524.1 165.7L523.3 167.7ZM472.8 171.3L474.5 169.1L475.5 171.0ZM522.9 162.8L525.6 162.7L524.9 164.7ZM505.5 159.1L508.1 158.2L508.0 160.3ZM458.9 178.2L460.1 175.8L461.5 177.4ZM460.4 173.5L461.7 171.1L463.1 172.7ZM521.3 158.6L524.0 158.5L523.3 160.5ZM489.8 154.3L492.1 152.7L492.6 154.7ZM455.7 174.0L457.0 171.5L458.4 173.1ZM468.1 164.4L469.7 162.1L470.9 163.9ZM494.5 150.1L496.9 148.6L497.2 150.7ZM519.7 151.1L522.4 150.8L521.8 152.8ZM496.1 149.8L498.5 148.4L498.8 150.5ZM503.9 145.8L506.5 144.8L506.5 146.9ZM468.1 157.7L469.7 155.5L470.8 157.2ZM519.7 147.6L522.4 147.3L521.9 149.3ZM532.3 148.4L535.1 148.5L534.2 150.4ZM485.2 146.0L487.3 144.2L487.9 146.2ZM479.0 148.5L480.9 146.5L481.7 148.4ZM526.0 142.4L528.7 142.2L528.1 144.2ZM493.0 140.6L495.3 139.1L495.7 141.2ZM508.6 139.3L511.2 138.4L511.1 140.5ZM524.4 138.4L527.1 138.1L526.5 140.1ZM483.6 140.1L485.7 138.2L486.4 140.2ZM505.5 135.9L508.0 134.9L508.0 137.0ZM482.1 137.4L484.1 135.5L484.8 137.5ZM472.7 141.6L474.5 139.5L475.5 141.3ZM457.2 148.2L458.6 145.8L459.9 147.5ZM460.3 145.9L461.8 143.6L463.0 145.3ZM532.3 134.1L535.0 134.1L534.3 136.1ZM451.0 149.9L452.3 147.5L453.6 149.1Z" fill="#a8a8a8"/></g>
<path d="M450.3 225.0V133.5H537.6V225.0" fill="none" stroke="#2a2a2a" stroke-width="0.75"/>
<line x1="450.30" y1="222.80" x2="537.60" y2="222.80" stroke="#8c8c8c" stroke-width="1.1" />
<line x1="447.70" y1="213.87" x2="450.30" y2="213.87" stroke="#141414" stroke-width="0.7" />
<text x="446.30" y="216.67" font-size="8" text-anchor="end" fill="#141414" >−4</text>
<line x1="447.70" y1="178.15" x2="450.30" y2="178.15" stroke="#141414" stroke-width="0.7" />
<text x="446.30" y="180.95" font-size="8" text-anchor="end" fill="#141414" >0</text>
<line x1="447.70" y1="142.43" x2="450.30" y2="142.43" stroke="#141414" stroke-width="0.7" />
<text x="446.30" y="145.23" font-size="8" text-anchor="end" fill="#141414" >4</text>
<line x1="493.95" y1="222.80" x2="493.95" y2="225.20" stroke="#141414" stroke-width="0.75" />
<text x="450.30" y="233.40" font-size="8" text-anchor="middle" fill="#141414" >−5</text>
<text x="493.95" y="233.40" font-size="8" text-anchor="middle" fill="#141414" >0</text>
<text x="537.60" y="233.40" font-size="8" text-anchor="middle" fill="#141414" >5</text>
<text x="493.95" y="243.10" font-size="8" text-anchor="middle" fill="#141414" >PC1</text>
<text transform="translate(437.00,178.15) rotate(-90)" font-size="8" text-anchor="middle" fill="#141414" >PC2</text>
<clipPath id="cp1"><rect x="566.6" y="133.6" width="87.39999999999998" height="89.0"/></clipPath>
<g clip-path="url(#cp1)"><path d="M564.9 222.7L567.2 222.8L569.5 223.0L571.8 223.5L574.2 224.2L576.5 225.0 M564.9 219.2L567.2 219.3L569.5 219.6L571.8 220.2L574.2 220.9L576.5 221.9L578.8 223.0L581.2 224.3 M564.9 215.6L567.2 215.9L569.5 216.3L571.8 216.9L574.2 217.7L576.5 218.7L578.8 219.9L581.2 221.3L583.5 222.7L585.8 224.3 M564.9 212.1L567.2 212.4L569.5 212.9L571.8 213.6L574.2 214.5L576.5 215.6L578.8 216.9L581.2 218.3L583.5 219.8L585.8 221.4L588.2 222.9L590.5 224.5 M564.9 208.7L567.2 209.1L569.5 209.6L571.8 210.4L574.2 211.4L576.5 212.6L578.8 213.9L581.2 215.3L583.5 216.9L585.8 218.4L588.2 220.0L590.5 221.5L592.8 222.9L595.2 224.2L597.5 225.3 M564.9 205.2L567.2 205.7L569.5 206.4L571.8 207.2L574.2 208.3L576.5 209.5L578.8 210.9L581.2 212.4L583.5 213.9L585.8 215.5L588.2 217.1L590.5 218.5L592.8 219.9L595.2 221.1L597.5 222.1L599.8 223.0L602.1 223.6L604.5 224.0L606.8 224.3L609.1 224.4L611.5 224.3L613.8 224.1L616.1 223.9L618.5 223.7L620.8 223.5L623.1 223.3L625.4 223.3L627.8 223.5L630.1 223.8L632.4 224.3L634.8 225.0 M564.9 201.8L567.2 202.4L569.5 203.1L571.8 204.1L574.2 205.2L576.5 206.5L578.8 207.9L581.2 209.5L583.5 211.0L585.8 212.6L588.2 214.1L590.5 215.5L592.8 216.8L595.2 218.0L597.5 218.9L599.8 219.7L602.1 220.3L604.5 220.6L606.8 220.8L609.1 220.8L611.5 220.7L613.8 220.5L616.1 220.2L618.5 220.0L620.8 219.8L623.1 219.7L625.4 219.8L627.8 220.0L630.1 220.4L632.4 221.0L634.8 221.8L637.1 222.8L639.4 224.0L641.8 225.3 M564.9 198.5L567.2 199.1L569.5 199.9L571.8 201.0L574.2 202.2L576.5 203.5L578.8 205.0L581.2 206.5L583.5 208.1L585.8 209.7L588.2 211.1L590.5 212.5L592.8 213.8L595.2 214.8L597.5 215.7L599.8 216.4L602.1 216.9L604.5 217.1L606.8 217.2L609.1 217.2L611.5 217.0L613.8 216.8L616.1 216.6L618.5 216.4L620.8 216.2L623.1 216.2L625.4 216.3L627.8 216.6L630.1 217.1L632.4 217.7L634.8 218.6L637.1 219.7L639.4 221.0L641.8 222.3L644.1 223.8L646.4 225.4 M564.9 195.1L567.2 195.9L569.5 196.8L571.8 197.9L574.2 199.1L576.5 200.5L578.8 202.0L581.2 203.6L583.5 205.2L585.8 206.7L588.2 208.2L590.5 209.5L592.8 210.7L595.2 211.7L597.5 212.4L599.8 213.0L602.1 213.4L604.5 213.6L606.8 213.7L609.1 213.6L611.5 213.4L613.8 213.2L616.1 212.9L618.5 212.7L620.8 212.6L623.1 212.6L625.4 212.8L627.8 213.2L630.1 213.7L632.4 214.5L634.8 215.5L637.1 216.6L639.4 217.9L641.8 219.4L644.1 220.9L646.4 222.5L648.8 224.0L651.1 225.5 M564.9 191.8L567.2 192.6L569.5 193.6L571.8 194.8L574.2 196.1L576.5 197.6L578.8 199.1L581.2 200.7L583.5 202.2L585.8 203.7L588.2 205.2L590.5 206.4L592.8 207.5L595.2 208.4L597.5 209.1L599.8 209.7L602.1 210.0L604.5 210.1L606.8 210.1L609.1 209.9L611.5 209.7L613.8 209.5L616.1 209.3L618.5 209.1L620.8 209.0L623.1 209.1L625.4 209.4L627.8 209.8L630.1 210.5L632.4 211.3L634.8 212.4L637.1 213.6L639.4 214.9L641.8 216.4L644.1 218.0L646.4 219.5L648.8 221.1L651.1 222.6L653.4 223.9L655.7 225.2 M564.9 188.6L567.2 189.5L569.5 190.5L571.8 191.8L574.2 193.1L576.5 194.6L578.8 196.2L581.2 197.8L583.5 199.3L585.8 200.8L588.2 202.1L590.5 203.3L592.8 204.4L595.2 205.2L597.5 205.8L599.8 206.2L602.1 206.5L604.5 206.5L606.8 206.5L609.1 206.3L611.5 206.1L613.8 205.8L616.1 205.6L618.5 205.5L620.8 205.5L623.1 205.6L625.4 206.0L627.8 206.5L630.1 207.2L632.4 208.2L634.8 209.3L637.1 210.6L639.4 212.0L641.8 213.5L644.1 215.0L646.4 216.6L648.8 218.1L651.1 219.6L653.4 220.9L655.7 222.1 M564.9 185.3L567.2 186.3L569.5 187.4L571.8 188.7L574.2 190.2L576.5 191.7L578.8 193.3L581.2 194.8L583.5 196.3L585.8 197.8L588.2 199.1L590.5 200.2L592.8 201.2L595.2 201.9L597.5 202.4L599.8 202.8L602.1 203.0L604.5 203.0L606.8 202.8L609.1 202.6L611.5 202.4L613.8 202.2L616.1 202.0L618.5 201.9L620.8 202.0L623.1 202.2L625.4 202.6L627.8 203.2L630.1 204.0L632.4 205.0L634.8 206.2L637.1 207.6L639.4 209.0L641.8 210.6L644.1 212.1L646.4 213.7L648.8 215.2L651.1 216.6L653.4 217.8L655.7 218.9 M564.9 182.2L567.2 183.2L569.5 184.4L571.8 185.8L574.2 187.2L576.5 188.8L578.8 190.3L581.2 191.9L583.5 193.4L585.8 194.8L588.2 196.0L590.5 197.1L592.8 197.9L595.2 198.6L597.5 199.0L599.8 199.3L602.1 199.4L604.5 199.4L606.8 199.2L609.1 199.0L611.5 198.7L613.8 198.5L616.1 198.4L618.5 198.4L620.8 198.5L623.1 198.8L625.4 199.3L627.8 199.9L630.1 200.8L632.4 201.9L634.8 203.2L637.1 204.6L639.4 206.1L641.8 207.6L644.1 209.2L646.4 210.7L648.8 212.2L651.1 213.5L653.4 214.7L655.7 215.7 M564.9 179.0L567.2 180.1L569.5 181.4L571.8 182.8L574.2 184.3L576.5 185.8L578.8 187.4L581.2 188.9L583.5 190.4L585.8 191.7L588.2 192.9L590.5 193.9L592.8 194.7L595.2 195.2L597.5 195.6L599.8 195.8L602.1 195.8L604.5 195.7L606.8 195.6L609.1 195.3L611.5 195.1L613.8 194.9L616.1 194.8L618.5 194.8L620.8 195.0L623.1 195.4L625.4 195.9L627.8 196.7L630.1 197.7L632.4 198.9L634.8 200.2L637.1 201.6L639.4 203.1L641.8 204.7L644.1 206.3L646.4 207.8L648.8 209.2L651.1 210.5L653.4 211.6L655.7 212.5 M564.9 175.9L567.2 177.0L569.5 178.4L571.8 179.8L574.2 181.4L576.5 182.9L578.8 184.5L581.2 186.0L583.5 187.4L585.8 188.6L588.2 189.7L590.5 190.6L592.8 191.4L595.2 191.8L597.5 192.2L599.8 192.3L602.1 192.3L604.5 192.1L606.8 191.9L609.1 191.7L611.5 191.4L613.8 191.3L616.1 191.2L618.5 191.3L620.8 191.6L623.1 192.0L625.4 192.7L627.8 193.5L630.1 194.6L632.4 195.8L634.8 197.2L637.1 198.7L639.4 200.2L641.8 201.8L644.1 203.3L646.4 204.8L648.8 206.2L651.1 207.4L653.4 208.4L655.7 209.3 M564.9 172.7L567.2 174.0L569.5 175.4L571.8 176.9L574.2 178.4L576.5 180.0L578.8 181.5L581.2 183.0L583.5 184.4L585.8 185.6L588.2 186.6L590.5 187.4L592.8 188.0L595.2 188.4L597.5 188.7L599.8 188.7L602.1 188.6L604.5 188.5L606.8 188.2L609.1 188.0L611.5 187.8L613.8 187.7L616.1 187.7L618.5 187.8L620.8 188.2L623.1 188.7L625.4 189.4L627.8 190.4L630.1 191.5L632.4 192.8L634.8 194.2L637.1 195.7L639.4 197.3L641.8 198.9L644.1 200.4L646.4 201.8L648.8 203.1L651.1 204.3L653.4 205.2L655.7 206.0 M564.9 169.7L567.2 171.0L569.5 172.4L571.8 173.9L574.2 175.5L576.5 177.1L578.8 178.6L581.2 180.0L583.5 181.3L585.8 182.4L588.2 183.4L590.5 184.1L592.8 184.6L595.2 185.0L597.5 185.1L599.8 185.1L602.1 185.0L604.5 184.8L606.8 184.6L609.1 184.3L611.5 184.2L613.8 184.1L616.1 184.2L618.5 184.4L620.8 184.8L623.1 185.4L625.4 186.2L627.8 187.3L630.1 188.4L632.4 189.8L634.8 191.3L637.1 192.8L639.4 194.4L641.8 195.9L644.1 197.4L646.4 198.8L648.8 200.1L651.1 201.1L653.4 202.0L655.7 202.7 M564.9 166.6L567.2 168.0L569.5 169.5L571.8 171.0L574.2 172.6L576.5 174.1L578.8 175.6L581.2 177.0L583.5 178.2L585.8 179.3L588.2 180.1L590.5 180.8L592.8 181.2L595.2 181.5L597.5 181.6L599.8 181.5L602.1 181.4L604.5 181.2L606.8 180.9L609.1 180.7L611.5 180.6L613.8 180.5L616.1 180.7L618.5 181.0L620.8 181.5L623.1 182.2L625.4 183.1L627.8 184.2L630.1 185.4L632.4 186.8L634.8 188.3L637.1 189.9L639.4 191.4L641.8 193.0L644.1 194.4L646.4 195.8L648.8 197.0L651.1 198.0L653.4 198.8L655.7 199.4 M564.9 163.6L567.2 165.0L569.5 166.5L571.8 168.1L574.2 169.7L576.5 171.2L578.8 172.6L581.2 173.9L583.5 175.1L585.8 176.1L588.2 176.9L590.5 177.4L592.8 177.8L595.2 178.0L597.5 178.0L599.8 177.9L602.1 177.7L604.5 177.5L606.8 177.3L609.1 177.1L611.5 177.0L613.8 177.0L616.1 177.2L618.5 177.6L620.8 178.2L623.1 178.9L625.4 179.9L627.8 181.1L630.1 182.4L632.4 183.9L634.8 185.4L637.1 187.0L639.4 188.5L641.8 190.0L644.1 191.4L646.4 192.7L648.8 193.8L651.1 194.7L653.4 195.5L655.7 196.0 M564.9 160.6L567.2 162.1L569.5 163.6L571.8 165.2L574.2 166.7L576.5 168.2L578.8 169.6L581.2 170.9L583.5 172.0L585.8 172.9L588.2 173.6L590.5 174.0L592.8 174.3L595.2 174.5L597.5 174.4L599.8 174.3L602.1 174.1L604.5 173.8L606.8 173.6L609.1 173.5L611.5 173.4L613.8 173.5L616.1 173.8L618.5 174.2L620.8 174.9L623.1 175.8L625.4 176.8L627.8 178.0L630.1 179.4L632.4 180.9L634.8 182.5L637.1 184.0L639.4 185.6L641.8 187.0L644.1 188.4L646.4 189.6L648.8 190.7L651.1 191.5L653.4 192.1L655.7 192.6 M564.9 157.6L567.2 159.1L569.5 160.7L571.8 162.2L574.2 163.8L576.5 165.2L578.8 166.6L581.2 167.8L583.5 168.8L585.8 169.6L588.2 170.2L590.5 170.6L592.8 170.8L595.2 170.9L597.5 170.8L599.8 170.6L602.1 170.4L604.5 170.2L606.8 170.0L609.1 169.9L611.5 169.9L613.8 170.0L616.1 170.4L618.5 170.9L620.8 171.7L623.1 172.6L625.4 173.7L627.8 175.0L630.1 176.5L632.4 178.0L634.8 179.5L637.1 181.1L639.4 182.6L641.8 184.1L644.1 185.4L646.4 186.5L648.8 187.5L651.1 188.2L653.4 188.8L655.7 189.1 M564.9 154.7L567.2 156.2L569.5 157.7L571.8 159.3L574.2 160.8L576.5 162.2L578.8 163.5L581.2 164.6L583.5 165.6L585.8 166.3L588.2 166.8L590.5 167.2L592.8 167.3L595.2 167.3L597.5 167.2L599.8 167.0L602.1 166.7L604.5 166.5L606.8 166.3L609.1 166.3L611.5 166.3L613.8 166.6L616.1 167.0L618.5 167.6L620.8 168.4L623.1 169.5L625.4 170.7L627.8 172.0L630.1 173.5L632.4 175.0L634.8 176.6L637.1 178.2L639.4 179.7L641.8 181.0L644.1 182.3L646.4 183.3L648.8 184.2L651.1 184.9L653.4 185.4L655.7 185.7 M564.9 151.7L567.2 153.3L569.5 154.8L571.8 156.4L574.2 157.9L576.5 159.2L578.8 160.4L581.2 161.5L583.5 162.3L585.8 163.0L588.2 163.4L590.5 163.7L592.8 163.8L595.2 163.7L597.5 163.6L599.8 163.3L602.1 163.1L604.5 162.9L606.8 162.7L609.1 162.7L611.5 162.8L613.8 163.2L616.1 163.7L618.5 164.4L620.8 165.3L623.1 166.4L625.4 167.6L627.8 169.1L630.1 170.6L632.4 172.1L634.8 173.7L637.1 175.2L639.4 176.7L641.8 178.0L644.1 179.2L646.4 180.2L648.8 181.0L651.1 181.6L653.4 181.9L655.7 182.1 M564.9 148.8L567.2 150.3L569.5 151.9L571.8 153.4L574.2 154.9L576.5 156.2L578.8 157.3L581.2 158.3L583.5 159.1L585.8 159.6L588.2 160.0L590.5 160.2L592.8 160.2L595.2 160.1L597.5 159.9L599.8 159.7L602.1 159.4L604.5 159.2L606.8 159.1L609.1 159.2L611.5 159.4L613.8 159.8L616.1 160.4L618.5 161.2L620.8 162.1L623.1 163.3L625.4 164.6L627.8 166.1L630.1 167.6L632.4 169.2L634.8 170.8L637.1 172.3L639.4 173.7L641.8 174.9L644.1 176.0L646.4 177.0L648.8 177.7L651.1 178.2L653.4 178.5L655.7 178.6 M564.9 145.8L567.2 147.4L569.5 149.0L571.8 150.5L574.2 151.8L576.5 153.1L578.8 154.2L581.2 155.1L583.5 155.8L585.8 156.2L588.2 156.5L590.5 156.6L592.8 156.6L595.2 156.5L597.5 156.2L599.8 156.0L602.1 155.8L604.5 155.6L606.8 155.6L609.1 155.7L611.5 156.0L613.8 156.4L616.1 157.1L618.5 158.0L620.8 159.0L623.1 160.3L625.4 161.7L627.8 163.1L630.1 164.7L632.4 166.3L634.8 167.8L637.1 169.3L639.4 170.6L641.8 171.8L644.1 172.9L646.4 173.7L648.8 174.3L651.1 174.8L653.4 175.0L655.7 175.1 M564.9 142.9L567.2 144.5L569.5 146.0L571.8 147.5L574.2 148.8L576.5 150.0L578.8 151.0L581.2 151.8L583.5 152.4L585.8 152.8L588.2 153.0L590.5 153.1L592.8 153.0L595.2 152.8L597.5 152.6L599.8 152.3L602.1 152.1L604.5 152.0L606.8 152.0L609.1 152.2L611.5 152.6L613.8 153.1L616.1 153.9L618.5 154.8L620.8 156.0L623.1 157.3L625.4 158.7L627.8 160.2L630.1 161.8L632.4 163.3L634.8 164.9L637.1 166.3L639.4 167.6L641.8 168.7L644.1 169.7L646.4 170.4L648.8 171.0L651.1 171.3L653.4 171.5L655.7 171.5 M564.9 140.0L567.2 141.6L569.5 143.1L571.8 144.5L574.2 145.8L576.5 146.9L578.8 147.8L581.2 148.5L583.5 149.0L585.8 149.4L588.2 149.5L590.5 149.5L592.8 149.4L595.2 149.2L597.5 148.9L599.8 148.7L602.1 148.5L604.5 148.5L606.8 148.5L609.1 148.8L611.5 149.2L613.8 149.8L616.1 150.7L618.5 151.7L620.8 152.9L623.1 154.3L625.4 155.7L627.8 157.3L630.1 158.9L632.4 160.4L634.8 161.9L637.1 163.3L639.4 164.5L641.8 165.6L644.1 166.4L646.4 167.1L648.8 167.6L651.1 167.8L653.4 167.9L655.7 167.9 M564.9 137.1L567.2 138.6L569.5 140.1L571.8 141.5L574.2 142.7L576.5 143.7L578.8 144.5L581.2 145.2L583.5 145.6L585.8 145.9L588.2 146.0L590.5 145.9L592.8 145.7L595.2 145.5L597.5 145.3L599.8 145.0L602.1 144.9L604.5 144.9L606.8 145.0L609.1 145.4L611.5 145.9L613.8 146.6L616.1 147.5L618.5 148.6L620.8 149.9L623.1 151.3L625.4 152.8L627.8 154.4L630.1 155.9L632.4 157.5L634.8 158.9L637.1 160.2L639.4 161.4L641.8 162.4L644.1 163.2L646.4 163.8L648.8 164.1L651.1 164.3L653.4 164.4L655.7 164.3 M564.9 134.1L567.2 135.7L569.5 137.1L571.8 138.4L574.2 139.5L576.5 140.5L578.8 141.3L581.2 141.8L583.5 142.2L585.8 142.4L588.2 142.4L590.5 142.3L592.8 142.1L595.2 141.8L597.5 141.6L599.8 141.4L602.1 141.3L604.5 141.4L606.8 141.6L609.1 142.0L611.5 142.6L613.8 143.4L616.1 144.4L618.5 145.5L620.8 146.9L623.1 148.3L625.4 149.9L627.8 151.4L630.1 153.0L632.4 154.5L634.8 155.9L637.1 157.2L639.4 158.3L641.8 159.2L644.1 159.9L646.4 160.4L648.8 160.7L651.1 160.8L653.4 160.8L655.7 160.6 M564.9 131.2L567.2 132.7L569.5 134.1L571.8 135.3L574.2 136.4L576.5 137.3L578.8 138.0L581.2 138.4L583.5 138.7L585.8 138.8L588.2 138.8L590.5 138.6L592.8 138.4L595.2 138.2L597.5 138.0L599.8 137.8L602.1 137.8L604.5 137.9L606.8 138.2L609.1 138.6L611.5 139.3L613.8 140.2L616.1 141.3L618.5 142.5L620.8 143.9L623.1 145.4L625.4 146.9L627.8 148.5L630.1 150.1L632.4 151.5L634.8 152.9L637.1 154.1L639.4 155.1L641.8 155.9L644.1 156.5L646.4 157.0L648.8 157.2L651.1 157.2L653.4 157.2L655.7 157.0 M569.5 131.0L571.8 132.2L574.2 133.2L576.5 134.0L578.8 134.6L581.2 135.0L583.5 135.2L585.8 135.3L588.2 135.2L590.5 135.0L592.8 134.7L595.2 134.5L597.5 134.3L599.8 134.2L602.1 134.2L604.5 134.4L606.8 134.8L609.1 135.3L611.5 136.1L613.8 137.0L616.1 138.2L618.5 139.5L620.8 140.9L623.1 142.5L625.4 144.0L627.8 145.6L630.1 147.1L632.4 148.5L634.8 149.8L637.1 150.9L639.4 151.9L641.8 152.6L644.1 153.2L646.4 153.5L648.8 153.7L651.1 153.7L653.4 153.5L655.7 153.3 M576.5 130.7L578.8 131.2L581.2 131.5L583.5 131.7L585.8 131.7L588.2 131.5L590.5 131.3L592.8 131.1L595.2 130.9L597.5 130.7L599.8 130.6L602.1 130.7L604.5 131.0L606.8 131.4L609.1 132.0L611.5 132.9L613.8 133.9L616.1 135.1L618.5 136.5L620.8 138.0L623.1 139.5L625.4 141.1L627.8 142.6L630.1 144.1L632.4 145.5L634.8 146.7L637.1 147.8L639.4 148.6L641.8 149.3L644.1 149.8L646.4 150.0L648.8 150.1L651.1 150.1L653.4 149.9L655.7 149.7 M613.8 130.8L616.1 132.1L618.5 133.5L620.8 135.0L623.1 136.6L625.4 138.2L627.8 139.7L630.1 141.1L632.4 142.5L634.8 143.6L637.1 144.6L639.4 145.4L641.8 146.0L644.1 146.3L646.4 146.5L648.8 146.5L651.1 146.4L653.4 146.3L655.7 146.0 M620.8 132.1L623.1 133.7L625.4 135.2L627.8 136.7L630.1 138.1L632.4 139.4L634.8 140.5L637.1 141.4L639.4 142.1L641.8 142.6L644.1 142.9L646.4 143.0L648.8 143.0L651.1 142.8L653.4 142.6L655.7 142.4 M623.1 130.8L625.4 132.3L627.8 133.8L630.1 135.1L632.4 136.3L634.8 137.3L637.1 138.1L639.4 138.7L641.8 139.1L644.1 139.4L646.4 139.4L648.8 139.3L651.1 139.2L653.4 138.9L655.7 138.7 M627.8 130.8L630.1 132.0L632.4 133.2L634.8 134.1L637.1 134.8L639.4 135.4L641.8 135.7L644.1 135.8L646.4 135.8L648.8 135.7L651.1 135.5L653.4 135.3L655.7 135.0 M634.8 130.9L637.1 131.5L639.4 132.0L641.8 132.2L644.1 132.3L646.4 132.2L648.8 132.1L651.1 131.8L653.4 131.6L655.7 131.4" fill="none" stroke="#c3c3c3" stroke-width="0.42"/><path d="M574.9 218.0L577.6 218.1L576.8 220.0ZM570.1 213.1L572.9 212.9L572.3 214.9ZM605.0 220.6L607.6 219.8L607.5 221.9ZM621.3 219.8L623.8 218.7L623.9 220.8ZM607.3 220.8L609.9 219.7L609.9 221.8ZM595.8 215.1L598.6 215.0L597.8 217.0ZM616.7 216.5L619.1 215.2L619.3 217.3ZM609.7 217.2L612.2 215.9L612.3 218.0ZM572.6 198.3L575.3 198.6L574.3 200.4ZM598.1 212.6L600.8 212.2L600.3 214.2ZM595.8 211.9L598.5 211.7L597.9 213.7ZM570.2 194.0L573.0 194.2L572.1 196.1ZM570.2 194.0L573.0 194.2L572.1 196.1ZM588.9 205.6L591.7 205.9L590.7 207.7ZM586.6 201.2L589.3 201.6L588.3 203.4ZM637.9 211.0L640.6 211.5L639.5 213.3ZM642.6 214.0L645.3 214.6L644.1 216.3ZM635.5 206.7L638.3 207.0L637.2 208.9ZM607.3 202.8L609.8 201.5L610.0 203.6ZM623.7 202.3L626.4 201.7L626.0 203.8ZM623.7 198.9L626.4 198.4L626.0 200.4ZM605.0 199.3L607.5 198.1L607.6 200.2ZM602.7 199.4L605.2 198.3L605.3 200.4ZM647.2 208.3L650.0 208.7L648.9 210.5ZM605.0 195.7L607.5 194.4L607.7 196.5ZM637.9 202.2L640.6 202.7L639.5 204.4ZM600.3 192.3L602.9 191.2L602.9 193.3ZM586.5 189.0L589.3 189.1L588.4 191.0ZM637.9 199.2L640.7 199.8L639.5 201.5ZM614.3 187.7L616.9 186.6L616.9 188.7ZM614.3 187.7L616.9 186.6L616.9 188.7ZM647.2 202.2L649.9 202.6L648.9 204.4ZM575.0 176.1L577.7 176.6L576.6 178.4ZM633.2 190.3L636.0 190.8L634.9 192.6ZM584.2 181.6L587.0 181.8L586.1 183.7ZM598.0 181.6L600.6 180.5L600.6 182.6ZM637.9 190.4L640.7 191.0L639.5 192.7ZM605.0 181.1L607.5 179.8L607.7 181.9ZM581.9 174.3L584.7 174.5L583.7 176.4ZM609.7 177.0L612.2 175.9L612.3 178.0ZM630.9 182.9L633.6 183.4L632.5 185.2ZM642.5 187.5L645.3 187.9L644.2 189.7ZM575.0 167.2L577.7 167.7L576.6 169.5ZM626.2 177.2L628.9 177.5L628.0 179.3ZM633.3 178.5L636.0 179.1L634.8 180.8ZM600.4 170.6L602.8 169.3L603.0 171.4ZM586.4 169.8L589.2 169.4L588.6 171.4ZM605.0 166.5L607.5 165.2L607.6 167.3ZM581.8 164.9L584.6 164.9L583.8 166.8ZM575.0 161.3L577.7 161.7L576.6 163.5ZM588.7 163.5L591.4 162.7L591.1 164.8ZM607.3 162.7L609.9 161.7L609.9 163.8ZM621.5 165.6L624.3 165.8L623.4 167.7ZM586.4 159.7L589.1 159.1L588.8 161.2ZM591.0 160.2L593.6 159.2L593.6 161.3ZM574.9 155.3L577.7 155.6L576.7 157.5ZM607.3 155.6L609.9 154.7L609.9 156.8ZM574.9 152.2L577.7 152.5L576.7 154.4ZM593.4 156.6L595.8 155.4L596.0 157.5ZM584.1 152.5L586.8 151.9L586.4 154.0ZM568.0 145.0L570.7 145.6L569.6 147.3ZM626.3 159.2L629.0 159.7L627.8 161.5ZM568.0 142.1L570.7 142.6L569.6 144.4ZM581.7 148.6L584.5 148.2L584.0 150.2ZM598.0 148.9L600.5 147.6L600.7 149.7ZM614.5 146.8L617.2 146.8L616.5 148.8ZM649.3 164.2L651.9 163.3L651.8 165.4ZM616.8 147.8L619.6 148.0L618.7 149.9ZM593.4 142.0L595.8 140.7L596.0 142.8ZM647.0 160.4L649.7 159.7L649.4 161.8ZM628.6 152.0L631.3 152.5L630.2 154.3ZM605.0 137.9L607.7 137.2L607.4 139.3ZM600.3 137.8L602.9 136.7L602.9 138.8ZM630.9 150.6L633.6 151.0L632.5 152.8ZM621.6 138.5L624.3 139.1L623.2 140.8ZM649.3 150.1L651.8 149.0L651.9 151.1ZM619.3 134.1L622.0 134.6L620.9 136.3ZM644.6 146.4L647.3 145.5L647.1 147.6ZM642.3 142.6L645.0 141.9L644.7 144.0Z" fill="#a8a8a8"/></g>
<path d="M566.6 224.79999999999998V133.6H654.0" fill="none" stroke="#2a2a2a" stroke-width="0.75"/>
<line x1="654.00" y1="133.60" x2="654.00" y2="224.80" stroke="#8c8c8c" stroke-width="1.1" />
<line x1="566.60" y1="222.60" x2="654.00" y2="222.60" stroke="#8c8c8c" stroke-width="1.1" />
<line x1="564.00" y1="213.70" x2="566.60" y2="213.70" stroke="#141414" stroke-width="0.7" />
<text x="562.60" y="216.50" font-size="8" text-anchor="end" fill="#141414" >−4</text>
<line x1="564.00" y1="178.10" x2="566.60" y2="178.10" stroke="#141414" stroke-width="0.7" />
<text x="562.60" y="180.90" font-size="8" text-anchor="end" fill="#141414" >0</text>
<line x1="564.00" y1="142.50" x2="566.60" y2="142.50" stroke="#141414" stroke-width="0.7" />
<text x="562.60" y="145.30" font-size="8" text-anchor="end" fill="#141414" >4</text>
<line x1="610.30" y1="222.60" x2="610.30" y2="225.00" stroke="#141414" stroke-width="0.75" />
<text x="566.60" y="233.20" font-size="8" text-anchor="middle" fill="#141414" >−5</text>
<text x="610.30" y="233.20" font-size="8" text-anchor="middle" fill="#141414" >0</text>
<text x="654.00" y="233.20" font-size="8" text-anchor="middle" fill="#141414" >5</text>
<text x="610.30" y="242.90" font-size="8" text-anchor="middle" fill="#141414" >PC1</text>
<text transform="translate(553.30,178.10) rotate(-90)" font-size="8" text-anchor="middle" fill="#141414" >PC3</text>
<clipPath id="cp2"><rect x="450.3" y="251.0" width="87.30000000000001" height="89.19999999999999"/></clipPath>
<g clip-path="url(#cp2)"><path d="M499.6 343.0L499.5 342.8L499.5 342.6L499.4 342.5L499.3 342.3L499.2 342.1L499.1 341.9L499.0 341.7L498.8 341.6L498.7 341.4L498.6 341.3L498.5 341.1L498.3 341.0L498.2 340.8L498.0 340.7L497.9 340.6L497.8 340.5L497.6 340.4L497.4 340.3L497.3 340.2L497.1 340.1L497.0 340.1L496.8 340.0L496.6 339.9L496.5 339.9L496.3 339.9L496.1 339.8L496.0 339.8L495.8 339.8L495.6 339.8L495.4 339.8L495.3 339.8L495.1 339.9L494.9 339.9L494.8 339.9L494.6 340.0L494.4 340.1L494.3 340.1L494.1 340.2L493.9 340.3L493.8 340.4L493.6 340.5L493.5 340.6L493.3 340.7L493.2 340.8L493.1 341.0L492.9 341.1L492.8 341.3L492.7 341.4L492.6 341.6L492.4 341.7L492.3 341.9L492.2 342.1L492.1 342.3L492.0 342.5L491.9 342.6L491.8 342.8L491.8 343.0 M503.0 343.1L503.0 342.7L502.9 342.4L502.8 342.0L502.7 341.7L502.5 341.3L502.4 341.0L502.2 340.7L502.1 340.3L501.9 340.0L501.8 339.7L501.6 339.4L501.4 339.1L501.2 338.8L501.0 338.6L500.7 338.3L500.5 338.1L500.3 337.8L500.0 337.6L499.8 337.4L499.5 337.2L499.3 337.0L499.0 336.8L498.7 336.7L498.5 336.5L498.2 336.4L497.9 336.3L497.6 336.2L497.3 336.1L497.0 336.0L496.7 336.0L496.4 335.9L496.1 335.9L495.8 335.9L495.5 335.9L495.2 335.9L495.0 335.9L494.7 336.0L494.4 336.0L494.1 336.1L493.8 336.2L493.5 336.3L493.2 336.4L492.9 336.5L492.7 336.7L492.4 336.8L492.1 337.0L491.9 337.2L491.6 337.4L491.4 337.6L491.1 337.8L490.9 338.1L490.7 338.3L490.4 338.6L490.2 338.8L490.0 339.1L489.8 339.4L489.6 339.7L489.5 340.0L489.3 340.3L489.1 340.7L489.0 341.0L488.9 341.3L488.7 341.7L488.6 342.0L488.5 342.4L488.4 342.7L488.3 343.1 M506.4 343.2L506.3 342.7L506.2 342.2L506.1 341.7L505.9 341.2L505.8 340.7L505.6 340.2L505.4 339.7L505.2 339.2L505.0 338.8L504.8 338.3L504.6 337.9L504.3 337.5L504.1 337.0L503.8 336.6L503.5 336.3L503.2 335.9L502.9 335.5L502.6 335.2L502.2 334.9L501.9 334.5L501.5 334.2L501.2 334.0L500.8 333.7L500.4 333.5L500.0 333.3L499.6 333.1L499.2 332.9L498.8 332.7L498.4 332.6L498.0 332.4L497.6 332.3L497.2 332.3L496.8 332.2L496.3 332.2L495.9 332.1L495.5 332.1L495.1 332.2L494.6 332.2L494.2 332.3L493.8 332.3L493.4 332.4L493.0 332.6L492.6 332.7L492.2 332.9L491.8 333.1L491.4 333.3L491.0 333.5L490.6 333.7L490.2 334.0L489.9 334.2L489.5 334.5L489.2 334.9L488.8 335.2L488.5 335.5L488.2 335.9L487.9 336.3L487.6 336.6L487.3 337.0L487.1 337.5L486.8 337.9L486.6 338.3L486.4 338.8L486.2 339.2L486.0 339.7L485.8 340.2L485.6 340.7L485.5 341.2L485.3 341.7L485.2 342.2L485.1 342.7L485.0 343.2 M509.5 342.6L509.4 341.9L509.3 341.3L509.1 340.6L509.0 340.0L508.8 339.4L508.6 338.7L508.3 338.1L508.1 337.5L507.8 337.0L507.5 336.4L507.2 335.8L506.9 335.3L506.6 334.8L506.2 334.3L505.8 333.8L505.4 333.3L505.0 332.8L504.6 332.4L504.2 332.0L503.7 331.6L503.3 331.2L502.8 330.9L502.3 330.6L501.8 330.3L501.3 330.0L500.8 329.7L500.3 329.5L499.8 329.3L499.2 329.1L498.7 328.9L498.2 328.8L497.6 328.7L497.1 328.6L496.5 328.6L496.0 328.6L495.4 328.6L494.9 328.6L494.3 328.6L493.8 328.7L493.2 328.8L492.7 328.9L492.1 329.1L491.6 329.3L491.1 329.5L490.6 329.7L490.1 330.0L489.6 330.3L489.1 330.6L488.6 330.9L488.1 331.2L487.7 331.6L487.2 332.0L486.8 332.4L486.4 332.8L486.0 333.3L485.6 333.8L485.2 334.3L484.8 334.8L484.5 335.3L484.2 335.8L483.9 336.4L483.6 337.0L483.3 337.5L483.1 338.1L482.8 338.7L482.6 339.4L482.4 340.0L482.2 340.6L482.1 341.3L482.0 341.9L481.9 342.6 M512.8 342.7L512.7 341.9L512.6 341.2L512.4 340.4L512.2 339.6L512.0 338.8L511.8 338.1L511.5 337.3L511.2 336.6L510.9 335.9L510.6 335.2L510.3 334.5L509.9 333.8L509.5 333.2L509.1 332.6L508.6 332.0L508.2 331.4L507.7 330.8L507.2 330.3L506.7 329.7L506.1 329.2L505.6 328.8L505.0 328.3L504.4 327.9L503.8 327.5L503.2 327.1L502.6 326.8L502.0 326.5L501.4 326.2L500.7 326.0L500.1 325.8L499.4 325.6L498.7 325.4L498.1 325.3L497.4 325.2L496.7 325.1L496.0 325.1L495.4 325.1L494.7 325.1L494.0 325.2L493.3 325.3L492.7 325.4L492.0 325.6L491.3 325.8L490.7 326.0L490.0 326.2L489.4 326.5L488.8 326.8L488.2 327.1L487.5 327.5L487.0 327.9L486.4 328.3L485.8 328.8L485.3 329.2L484.7 329.7L484.2 330.3L483.7 330.8L483.2 331.4L482.8 332.0L482.3 332.6L481.9 333.2L481.5 333.8L481.1 334.5L480.8 335.2L480.5 335.9L480.1 336.6L479.9 337.3L479.6 338.1L479.4 338.8L479.2 339.6L479.0 340.4L478.8 341.2L478.7 341.9L478.6 342.7 M516.0 342.3L515.9 341.4L515.7 340.4L515.5 339.5L515.3 338.6L515.1 337.7L514.8 336.9L514.5 336.0L514.2 335.1L513.8 334.3L513.4 333.5L513.0 332.7L512.5 331.9L512.1 331.2L511.6 330.4L511.0 329.7L510.5 329.0L509.9 328.4L509.3 327.7L508.7 327.1L508.1 326.6L507.4 326.0L506.8 325.5L506.1 325.0L505.4 324.5L504.6 324.1L503.9 323.7L503.2 323.4L502.4 323.0L501.6 322.7L500.9 322.5L500.1 322.3L499.3 322.1L498.5 321.9L497.7 321.8L496.9 321.8L496.1 321.7L495.3 321.7L494.5 321.8L493.7 321.8L492.9 321.9L492.1 322.1L491.3 322.3L490.5 322.5L489.7 322.7L489.0 323.0L488.2 323.4L487.5 323.7L486.7 324.1L486.0 324.5L485.3 325.0L484.6 325.5L484.0 326.0L483.3 326.6L482.7 327.1L482.1 327.7L481.5 328.4L480.9 329.0L480.4 329.7L479.8 330.4L479.3 331.2L478.9 331.9L478.4 332.7L478.0 333.5L477.6 334.3L477.2 335.1L476.9 336.0L476.6 336.9L476.3 337.7L476.1 338.6L475.8 339.5L475.7 340.4L475.5 341.4L475.4 342.3 M519.3 342.9L519.2 341.8L519.1 340.8L518.9 339.7L518.7 338.7L518.4 337.7L518.1 336.7L517.8 335.7L517.4 334.7L517.1 333.7L516.6 332.8L516.2 331.8L515.7 330.9L515.2 330.0L514.6 329.2L514.0 328.3L513.4 327.5L512.8 326.7L512.2 326.0L511.5 325.3L510.8 324.6L510.0 323.9L509.3 323.3L508.5 322.7L507.7 322.2L506.9 321.6L506.1 321.1L505.2 320.7L504.3 320.3L503.5 319.9L502.6 319.6L501.7 319.3L500.8 319.1L499.9 318.9L498.9 318.7L498.0 318.6L497.1 318.5L496.2 318.4L495.2 318.4L494.3 318.5L493.4 318.6L492.4 318.7L491.5 318.9L490.6 319.1L489.7 319.3L488.8 319.6L487.9 319.9L487.0 320.3L486.2 320.7L485.3 321.1L484.5 321.6L483.7 322.2L482.9 322.7L482.1 323.3L481.4 323.9L480.6 324.6L479.9 325.3L479.2 326.0L478.6 326.7L477.9 327.5L477.3 328.3L476.8 329.2L476.2 330.0L475.7 330.9L475.2 331.8L474.8 332.8L474.3 333.7L473.9 334.7L473.6 335.7L473.3 336.7L473.0 337.7L472.7 338.7L472.5 339.7L472.3 340.8L472.2 341.8L472.1 342.9 M522.5 342.6L522.4 341.4L522.3 340.2L522.0 339.0L521.8 337.9L521.5 336.7L521.2 335.6L520.8 334.5L520.4 333.4L520.0 332.3L519.5 331.2L519.0 330.2L518.4 329.2L517.8 328.2L517.2 327.2L516.5 326.3L515.9 325.4L515.1 324.5L514.4 323.7L513.6 322.8L512.8 322.1L512.0 321.3L511.1 320.6L510.2 320.0L509.3 319.4L508.4 318.8L507.5 318.2L506.5 317.7L505.5 317.3L504.5 316.9L503.5 316.5L502.5 316.2L501.5 315.9L500.4 315.7L499.4 315.5L498.3 315.3L497.3 315.2L496.2 315.2L495.2 315.2L494.1 315.2L493.1 315.3L492.0 315.5L491.0 315.7L489.9 315.9L488.9 316.2L487.9 316.5L486.9 316.9L485.9 317.3L484.9 317.7L483.9 318.2L483.0 318.8L482.1 319.4L481.2 320.0L480.3 320.6L479.4 321.3L478.6 322.1L477.8 322.8L477.0 323.7L476.3 324.5L475.5 325.4L474.8 326.3L474.2 327.2L473.6 328.2L473.0 329.2L472.4 330.2L471.9 331.2L471.4 332.3L471.0 333.4L470.6 334.5L470.2 335.6L469.9 336.7L469.6 337.9L469.3 339.0L469.1 340.2L469.0 341.4L468.9 342.6 M525.8 342.2L525.6 340.9L525.4 339.6L525.2 338.3L524.9 337.1L524.6 335.8L524.2 334.5L523.8 333.3L523.4 332.1L522.9 330.9L522.3 329.7L521.8 328.6L521.1 327.4L520.5 326.4L519.8 325.3L519.0 324.3L518.3 323.2L517.5 322.3L516.6 321.3L515.8 320.5L514.9 319.6L513.9 318.8L513.0 318.0L512.0 317.3L511.0 316.6L509.9 315.9L508.9 315.3L507.8 314.8L506.7 314.3L505.6 313.8L504.5 313.4L503.3 313.1L502.2 312.8L501.0 312.5L499.8 312.3L498.7 312.1L497.5 312.0L496.3 312.0L495.1 312.0L493.9 312.0L492.7 312.1L491.6 312.3L490.4 312.5L489.2 312.8L488.1 313.1L486.9 313.4L485.8 313.8L484.7 314.3L483.6 314.8L482.5 315.3L481.5 315.9L480.4 316.6L479.4 317.3L478.4 318.0L477.5 318.8L476.5 319.6L475.6 320.5L474.8 321.3L473.9 322.3L473.1 323.2L472.4 324.3L471.6 325.3L470.9 326.4L470.3 327.4L469.6 328.6L469.1 329.7L468.5 330.9L468.0 332.1L467.6 333.3L467.2 334.5L466.8 335.8L466.5 337.1L466.2 338.3L466.0 339.6L465.8 340.9L465.6 342.2 M529.0 341.9L528.8 340.5L528.6 339.1L528.4 337.7L528.0 336.3L527.7 334.9L527.3 333.5L526.8 332.1L526.3 330.8L525.8 329.5L525.2 328.2L524.5 327.0L523.9 325.7L523.1 324.5L522.4 323.4L521.5 322.2L520.7 321.1L519.8 320.1L518.9 319.1L517.9 318.1L516.9 317.1L515.9 316.2L514.8 315.4L513.7 314.6L512.6 313.8L511.5 313.1L510.3 312.5L509.1 311.9L507.9 311.3L506.6 310.8L505.4 310.4L504.1 310.0L502.9 309.7L501.6 309.4L500.3 309.2L499.0 309.0L497.7 308.9L496.4 308.8L495.0 308.8L493.7 308.9L492.4 309.0L491.1 309.2L489.8 309.4L488.5 309.7L487.3 310.0L486.0 310.4L484.7 310.8L483.5 311.3L482.3 311.9L481.1 312.5L479.9 313.1L478.8 313.8L477.7 314.6L476.6 315.4L475.5 316.2L474.5 317.1L473.5 318.1L472.5 319.1L471.6 320.1L470.7 321.1L469.9 322.2L469.0 323.4L468.3 324.5L467.5 325.7L466.9 327.0L466.2 328.2L465.6 329.5L465.1 330.8L464.6 332.1L464.1 333.5L463.7 334.9L463.3 336.3L463.0 337.7L462.8 339.1L462.6 340.5L462.4 341.9 M532.3 343.2L532.2 341.6L532.0 340.1L531.8 338.5L531.5 337.0L531.2 335.5L530.8 334.0L530.3 332.5L529.8 331.0L529.3 329.5L528.7 328.1L528.0 326.7L527.3 325.4L526.6 324.0L525.8 322.7L524.9 321.5L524.0 320.2L523.1 319.0L522.1 317.9L521.1 316.8L520.0 315.7L519.0 314.7L517.8 313.7L516.7 312.8L515.5 311.9L514.2 311.1L513.0 310.4L511.7 309.6L510.4 309.0L509.1 308.4L507.7 307.8L506.3 307.4L505.0 306.9L503.6 306.6L502.1 306.3L500.7 306.0L499.3 305.8L497.9 305.7L496.4 305.7L495.0 305.7L493.5 305.7L492.1 305.8L490.7 306.0L489.3 306.3L487.8 306.6L486.4 306.9L485.1 307.4L483.7 307.8L482.3 308.4L481.0 309.0L479.7 309.6L478.4 310.4L477.2 311.1L475.9 311.9L474.7 312.8L473.6 313.7L472.4 314.7L471.3 315.7L470.3 316.8L469.3 317.9L468.3 319.0L467.4 320.2L466.5 321.5L465.6 322.7L464.8 324.0L464.1 325.4L463.4 326.7L462.7 328.1L462.1 329.5L461.6 331.0L461.1 332.5L460.6 334.0L460.2 335.5L459.9 337.0L459.6 338.5L459.4 340.1L459.2 341.6L459.1 343.2 M535.5 343.0L535.4 341.3L535.2 339.6L535.0 338.0L534.7 336.3L534.3 334.7L533.9 333.0L533.4 331.4L532.8 329.8L532.2 328.3L531.6 326.8L530.9 325.2L530.1 323.8L529.3 322.3L528.4 320.9L527.5 319.6L526.5 318.2L525.5 316.9L524.5 315.7L523.3 314.5L522.2 313.4L521.0 312.3L519.8 311.2L518.5 310.2L517.2 309.3L515.9 308.4L514.5 307.6L513.1 306.8L511.7 306.1L510.2 305.5L508.8 304.9L507.3 304.3L505.8 303.9L504.2 303.5L502.7 303.2L501.2 302.9L499.6 302.7L498.0 302.6L496.5 302.5L494.9 302.5L493.3 302.6L491.8 302.7L490.2 302.9L488.7 303.2L487.1 303.5L485.6 303.9L484.1 304.3L482.6 304.9L481.2 305.5L479.7 306.1L478.3 306.8L476.9 307.6L475.5 308.4L474.2 309.3L472.9 310.2L471.6 311.2L470.4 312.3L469.2 313.4L468.0 314.5L466.9 315.7L465.9 316.9L464.9 318.2L463.9 319.6L463.0 320.9L462.1 322.3L461.3 323.8L460.5 325.2L459.8 326.8L459.1 328.3L458.5 329.8L458.0 331.4L457.5 333.0L457.1 334.7L456.7 336.3L456.4 338.0L456.2 339.6L456.0 341.3L455.9 343.0 M538.7 342.8L538.6 341.0L538.4 339.2L538.1 337.4L537.8 335.6L537.4 333.9L537.0 332.1L536.4 330.4L535.9 328.7L535.2 327.0L534.5 325.4L533.7 323.8L532.9 322.2L532.0 320.6L531.1 319.1L530.1 317.7L529.0 316.2L527.9 314.9L526.8 313.5L525.6 312.2L524.3 311.0L523.0 309.8L521.7 308.7L520.3 307.6L518.9 306.6L517.5 305.7L516.0 304.8L514.5 304.0L513.0 303.2L511.4 302.5L509.8 301.9L508.2 301.3L506.6 300.8L504.9 300.4L503.3 300.1L501.6 299.8L499.9 299.6L498.2 299.4L496.5 299.4L494.8 299.4L493.2 299.4L491.5 299.6L489.8 299.8L488.1 300.1L486.5 300.4L484.8 300.8L483.2 301.3L481.6 301.9L480.0 302.5L478.4 303.2L476.9 304.0L475.4 304.8L473.9 305.7L472.4 306.6L471.0 307.6L469.7 308.7L468.3 309.8L467.1 311.0L465.8 312.2L464.6 313.5L463.5 314.9L462.4 316.2L461.3 317.7L460.3 319.1L459.4 320.6L458.5 322.2L457.7 323.8L456.9 325.4L456.2 327.0L455.5 328.7L455.0 330.4L454.4 332.1L454.0 333.9L453.6 335.6L453.2 337.4L453.0 339.2L452.8 341.0L452.6 342.8 M540.5 333.1L540.1 331.2L539.5 329.4L538.9 327.6L538.2 325.8L537.4 324.0L536.6 322.3L535.7 320.6L534.7 318.9L533.7 317.3L532.7 315.8L531.5 314.2L530.3 312.8L529.1 311.3L527.8 310.0L526.5 308.7L525.1 307.4L523.7 306.2L522.2 305.1L520.7 304.0L519.1 303.0L517.5 302.0L515.9 301.1L514.3 300.3L512.6 299.6L510.9 298.9L509.1 298.3L507.4 297.8L505.6 297.4L503.8 297.0L502.0 296.7L500.2 296.4L498.4 296.3L496.6 296.2L494.8 296.2L493.0 296.3L491.2 296.4L489.3 296.7L487.5 297.0L485.8 297.4L484.0 297.8L482.2 298.3L480.5 298.9L478.8 299.6L477.1 300.3L475.5 301.1L473.8 302.0L472.3 303.0L470.7 304.0L469.2 305.1L467.7 306.2L466.3 307.4L464.9 308.7L463.6 310.0L462.3 311.3L461.1 312.8L459.9 314.2L458.7 315.8L457.7 317.3L456.7 318.9L455.7 320.6L454.8 322.3L454.0 324.0L453.2 325.8L452.5 327.6L451.9 329.4L451.3 331.2L450.8 333.1L450.4 335.0L450.1 336.9L449.8 338.8L449.6 340.7L449.4 342.6 M540.3 322.6L539.4 320.8L538.5 319.0L537.5 317.2L536.4 315.5L535.2 313.9L534.0 312.2L532.8 310.7L531.4 309.2L530.1 307.7L528.6 306.3L527.1 305.0L525.6 303.7L524.0 302.5L522.4 301.3L520.8 300.3L519.1 299.3L517.3 298.3L515.6 297.5L513.8 296.7L511.9 296.0L510.1 295.3L508.2 294.8L506.3 294.3L504.4 293.9L502.5 293.6L500.6 293.3L498.6 293.1L496.7 293.1L494.7 293.1L492.8 293.1L490.8 293.3L488.9 293.6L487.0 293.9L485.1 294.3L483.2 294.8L481.3 295.3L479.5 296.0L477.6 296.7L475.8 297.5L474.1 298.3L472.3 299.3L470.6 300.3L469.0 301.3L467.3 302.5L465.8 303.7L464.2 305.0L462.8 306.3L461.3 307.7L460.0 309.2L458.6 310.7L457.4 312.2L456.2 313.9L455.0 315.5L453.9 317.2L452.9 319.0L452.0 320.8L451.1 322.6L450.3 324.5L449.5 326.4L448.9 328.3L448.2 330.3L447.7 332.3 M540.2 315.5L539.0 313.7L537.8 312.0L536.5 310.2L535.2 308.6L533.8 307.0L532.3 305.4L530.8 304.0L529.2 302.5L527.6 301.2L525.9 299.9L524.2 298.7L522.4 297.5L520.6 296.5L518.7 295.5L516.9 294.6L514.9 293.7L513.0 293.0L511.0 292.3L509.0 291.7L507.0 291.2L505.0 290.8L502.9 290.4L500.9 290.2L498.8 290.0L496.7 289.9L494.7 289.9L492.6 290.0L490.5 290.2L488.5 290.4L486.4 290.8L484.4 291.2L482.4 291.7L480.4 292.3L478.4 293.0L476.5 293.7L474.5 294.6L472.7 295.5L470.8 296.5L469.0 297.5L467.2 298.7L465.5 299.9L463.8 301.2L462.2 302.5L460.6 304.0L459.1 305.4L457.6 307.0L456.2 308.6L454.9 310.2L453.6 312.0L452.4 313.7L451.2 315.5L450.1 317.4L449.1 319.3L448.2 321.3L447.3 323.2 M540.4 310.1L539.0 308.2L537.6 306.5L536.1 304.8L534.5 303.2L532.9 301.6L531.2 300.1L529.5 298.7L527.7 297.3L525.9 296.0L524.0 294.8L522.1 293.7L520.1 292.6L518.2 291.7L516.1 290.8L514.1 290.0L512.0 289.3L509.8 288.7L507.7 288.1L505.5 287.7L503.4 287.3L501.2 287.0L499.0 286.9L496.8 286.8L494.6 286.8L492.4 286.9L490.2 287.0L488.0 287.3L485.8 287.7L483.7 288.1L481.5 288.7L479.4 289.3L477.3 290.0L475.3 290.8L473.2 291.7L471.2 292.6L469.3 293.7L467.4 294.8L465.5 296.0L463.7 297.3L461.9 298.7L460.1 300.1L458.5 301.6L456.9 303.2L455.3 304.8L453.8 306.5L452.4 308.2L451.0 310.1L449.7 311.9L448.5 313.8L447.3 315.8 M540.0 304.4L538.4 302.6L536.8 300.9L535.1 299.2L533.3 297.6L531.5 296.1L529.6 294.7L527.6 293.4L525.7 292.1L523.6 290.9L521.6 289.8L519.4 288.8L517.3 287.8L515.1 287.0L512.9 286.3L510.7 285.6L508.4 285.0L506.1 284.5L503.8 284.2L501.5 283.9L499.2 283.7L496.9 283.6L494.5 283.6L492.2 283.7L489.9 283.9L487.6 284.2L485.3 284.5L483.0 285.0L480.7 285.6L478.5 286.3L476.3 287.0L474.1 287.8L471.9 288.8L469.8 289.8L467.8 290.9L465.7 292.1L463.7 293.4L461.8 294.7L459.9 296.1L458.1 297.6L456.3 299.2L454.6 300.9L453.0 302.6L451.4 304.4L449.9 306.2L448.4 308.1 M539.0 298.6L537.2 296.9L535.3 295.2L533.4 293.6L531.4 292.1L529.4 290.7L527.3 289.3L525.2 288.1L523.0 286.9L520.7 285.9L518.5 284.9L516.2 284.0L513.8 283.2L511.5 282.5L509.1 281.9L506.7 281.4L504.3 281.0L501.8 280.7L499.4 280.5L496.9 280.4L494.5 280.4L492.0 280.5L489.6 280.7L487.1 281.0L484.7 281.4L482.3 281.9L479.9 282.5L477.6 283.2L475.2 284.0L472.9 284.9L470.7 285.9L468.4 286.9L466.2 288.1L464.1 289.3L462.0 290.7L460.0 292.1L458.0 293.6L456.0 295.2L454.2 296.9L452.4 298.6L450.6 300.4L449.0 302.3L447.4 304.2 M539.4 294.5L537.4 292.7L535.4 291.1L533.3 289.5L531.1 288.0L528.9 286.6L526.7 285.3L524.4 284.1L522.0 283.0L519.6 281.9L517.2 281.0L514.8 280.2L512.3 279.4L509.8 278.8L507.2 278.3L504.7 277.9L502.1 277.6L499.6 277.3L497.0 277.2L494.4 277.2L491.8 277.3L489.3 277.6L486.7 277.9L484.1 278.3L481.6 278.8L479.1 279.4L476.6 280.2L474.2 281.0L471.7 281.9L469.4 283.0L467.0 284.1L464.7 285.3L462.5 286.6L460.3 288.0L458.1 289.5L456.0 291.1L454.0 292.7L452.0 294.5L450.1 296.3L448.3 298.2 M539.4 290.3L537.3 288.5L535.1 286.9L532.9 285.3L530.6 283.8L528.2 282.5L525.8 281.2L523.3 280.0L520.8 279.0L518.3 278.0L515.7 277.1L513.1 276.4L510.5 275.7L507.8 275.2L505.1 274.7L502.5 274.4L499.8 274.2L497.0 274.1L494.3 274.1L491.6 274.2L488.9 274.4L486.2 274.7L483.6 275.2L480.9 275.7L478.3 276.4L475.7 277.1L473.1 278.0L470.6 279.0L468.1 280.0L465.6 281.2L463.2 282.5L460.8 283.8L458.5 285.3L456.3 286.9L454.1 288.5L452.0 290.3L449.9 292.1L447.9 294.0 M539.3 286.0L537.0 284.3L534.6 282.6L532.2 281.1L529.7 279.7L527.2 278.3L524.6 277.1L522.0 276.0L519.3 275.0L516.6 274.1L513.9 273.3L511.2 272.6L508.4 272.0L505.6 271.5L502.8 271.2L499.9 271.0L497.1 270.9L494.3 270.9L491.4 271.0L488.6 271.2L485.8 271.5L483.0 272.0L480.2 272.6L477.5 273.3L474.7 274.1L472.0 275.0L469.4 276.0L466.8 277.1L464.2 278.3L461.7 279.7L459.2 281.1L456.8 282.6L454.4 284.3L452.1 286.0L449.9 287.8L447.7 289.7 M538.8 281.6L536.4 279.9L533.8 278.3L531.2 276.8L528.6 275.4L525.9 274.2L523.2 273.0L520.4 271.9L517.6 271.0L514.7 270.2L511.9 269.4L509.0 268.8L506.0 268.4L503.1 268.0L500.1 267.8L497.2 267.6L494.2 267.6L491.3 267.8L488.3 268.0L485.4 268.4L482.4 268.8L479.5 269.4L476.7 270.2L473.8 271.0L471.0 271.9L468.2 273.0L465.5 274.2L462.8 275.4L460.1 276.8L457.6 278.3L455.0 279.9L452.6 281.6L450.2 283.4L447.9 285.3 M538.1 277.2L535.5 275.5L532.8 274.0L530.0 272.5L527.2 271.2L524.4 270.0L521.5 268.9L518.5 267.9L515.6 267.0L512.5 266.3L509.5 265.7L506.5 265.2L503.4 264.8L500.3 264.6L497.2 264.4L494.2 264.4L491.1 264.6L488.0 264.8L484.9 265.2L481.9 265.7L478.8 266.3L475.8 267.0L472.9 267.9L469.9 268.9L467.0 270.0L464.2 271.2L461.4 272.5L458.6 274.0L455.9 275.5L453.3 277.2L450.7 279.0L448.2 280.9 M539.8 274.5L537.1 272.8L534.3 271.2L531.4 269.6L528.5 268.3L525.5 267.0L522.5 265.8L519.5 264.8L516.4 263.9L513.2 263.2L510.1 262.5L506.9 262.0L503.7 261.6L500.5 261.3L497.3 261.2L494.1 261.2L490.9 261.3L487.7 261.6L484.5 262.0L481.3 262.5L478.2 263.2L475.0 263.9L471.9 264.8L468.9 265.8L465.9 267.0L462.9 268.3L460.0 269.6L457.1 271.2L454.3 272.8L451.6 274.5L448.9 276.3 M538.7 270.0L535.8 268.3L532.8 266.7L529.8 265.3L526.7 264.0L523.6 262.8L520.4 261.7L517.2 260.8L513.9 260.0L510.7 259.3L507.4 258.8L504.0 258.4L500.7 258.1L497.4 258.0L494.0 258.0L490.7 258.1L487.4 258.4L484.0 258.8L480.7 259.3L477.5 260.0L474.2 260.8L471.0 261.7L467.8 262.8L464.7 264.0L461.6 265.3L458.6 266.7L455.6 268.3L452.7 270.0L449.8 271.8 M540.4 267.2L537.3 265.4L534.2 263.8L531.1 262.3L527.9 261.0L524.6 259.7L521.3 258.6L518.0 257.7L514.6 256.8L511.2 256.1L507.8 255.6L504.4 255.2L500.9 254.9L497.4 254.7L494.0 254.7L490.5 254.9L487.0 255.2L483.6 255.6L480.2 256.1L476.8 256.8L473.4 257.7L470.1 258.6L466.8 259.7L463.5 261.0L460.3 262.3L457.1 263.8L454.1 265.4L451.0 267.2L448.1 269.1 M538.9 262.6L535.7 260.9L532.4 259.4L529.1 258.0L525.7 256.7L522.3 255.5L518.8 254.5L515.3 253.7L511.8 253.0L508.2 252.4L504.7 251.9L501.1 251.7L497.5 251.5L493.9 251.5L490.3 251.7L486.7 251.9L483.2 252.4L479.6 253.0L476.1 253.7L472.6 254.5L469.1 255.5L465.7 256.7L462.3 258.0L459.0 259.4L455.7 260.9L452.5 262.6L449.4 264.4 M540.4 259.7L537.1 258.0L533.7 256.4L530.2 254.9L526.8 253.6L523.2 252.4L519.6 251.4L516.0 250.5L512.4 249.8L508.7 249.2L505.0 248.7L501.3 248.4L497.6 248.3L493.8 248.3L490.1 248.4L486.4 248.7L482.7 249.2L479.0 249.8L475.4 250.5L471.8 251.4L468.2 252.4L464.6 253.6L461.1 254.9L457.7 256.4L454.3 258.0L451.0 259.7L447.8 261.6 M538.5 255.1L535.0 253.4L531.4 251.9L527.8 250.5L524.1 249.3L520.4 248.2 M470.9 248.2L467.2 249.3L463.6 250.5L460.0 251.9L456.4 253.4L452.9 255.1L449.5 256.9 M539.9 252.1L536.3 250.4L532.6 248.9 M458.8 248.9L455.1 250.4L451.5 252.1L448.0 254.0" fill="none" stroke="#c3c3c3" stroke-width="0.42"/><path d="M495.5 335.7L493.4 337.4L492.7 335.4ZM502.1 340.0L499.7 338.6L501.3 337.3ZM503.5 336.1L500.9 335.1L502.4 333.6ZM503.2 335.7L500.6 334.8L502.0 333.2ZM489.6 330.2L488.1 332.5L486.9 330.8ZM491.1 329.4L489.4 331.5L488.4 329.7ZM498.9 328.9L496.2 329.6L496.5 327.5ZM504.8 328.1L502.0 327.6L503.1 325.8ZM480.5 335.7L480.6 338.4L478.6 337.7ZM482.9 331.7L482.4 334.4L480.6 333.3ZM493.9 321.8L491.5 323.3L491.1 321.2ZM490.7 322.4L488.6 324.3L487.9 322.3ZM519.0 340.5L517.5 338.2L519.5 337.7ZM513.3 327.4L510.9 326.1L512.4 324.7ZM516.5 332.5L514.4 330.7L516.3 329.8ZM521.0 335.1L519.2 333.0L521.1 332.3ZM503.2 316.4L500.5 316.7L501.0 314.7ZM509.0 319.1L506.3 318.8L507.3 316.9ZM471.2 325.9L470.8 328.6L469.0 327.6ZM474.3 321.9L473.4 324.5L471.8 323.2ZM492.9 308.9L490.5 310.3L490.2 308.2ZM502.0 309.5L499.3 310.1L499.7 308.0ZM464.2 333.1L464.5 335.9L462.5 335.3ZM476.2 311.7L474.7 314.1L473.5 312.4ZM491.0 306.0L488.7 307.4L488.3 305.4ZM458.0 331.3L458.3 334.1L456.3 333.5ZM531.6 326.9L529.6 325.0L531.5 324.1ZM530.2 323.9L528.0 322.2L529.8 321.1ZM489.9 299.8L487.5 301.2L487.2 299.2ZM486.6 300.4L484.3 302.1L483.8 300.0ZM453.6 335.6L454.1 338.4L452.1 338.0ZM467.7 306.2L466.4 308.7L465.0 307.1ZM526.4 308.6L523.8 307.7L525.2 306.1ZM452.5 327.7L452.6 330.4L450.7 329.7ZM473.9 298.4L472.2 300.5L471.2 298.7ZM522.3 301.2L519.6 300.7L520.7 299.0ZM480.1 292.4L478.0 294.2L477.3 292.2ZM453.4 312.2L452.8 315.0L451.1 313.8ZM529.2 298.4L526.5 297.7L527.8 296.0ZM459.8 300.4L458.6 302.9L457.2 301.3ZM474.9 291.0L473.0 292.9L472.1 291.0ZM484.8 284.7L482.5 286.2L482.0 284.1ZM498.7 283.7L496.1 284.6L496.1 282.5ZM526.7 289.0L524.0 288.6L525.0 286.8ZM493.6 277.3L491.1 278.4L491.0 276.3ZM534.7 290.6L532.0 289.9L533.3 288.2ZM498.8 277.3L496.2 278.3L496.3 276.2ZM520.0 278.6L517.2 278.7L517.9 276.7ZM490.7 274.2L488.3 275.5L488.1 273.4ZM499.1 261.3L496.5 262.2L496.6 260.1ZM473.7 264.3L471.5 266.0L470.9 264.0ZM471.8 258.1L469.6 259.9L469.0 257.8ZM471.8 258.1L469.6 259.9L469.0 257.8Z" fill="#a8a8a8"/></g>
<path d="M450.3 342.4V251.0H537.6V342.4" fill="none" stroke="#2a2a2a" stroke-width="0.75"/>
<line x1="450.30" y1="340.20" x2="537.60" y2="340.20" stroke="#8c8c8c" stroke-width="1.1" />
<line x1="447.70" y1="331.28" x2="450.30" y2="331.28" stroke="#141414" stroke-width="0.7" />
<text x="446.30" y="334.08" font-size="8" text-anchor="end" fill="#141414" >−4</text>
<line x1="447.70" y1="295.60" x2="450.30" y2="295.60" stroke="#141414" stroke-width="0.7" />
<text x="446.30" y="298.40" font-size="8" text-anchor="end" fill="#141414" >0</text>
<line x1="447.70" y1="259.92" x2="450.30" y2="259.92" stroke="#141414" stroke-width="0.7" />
<text x="446.30" y="262.72" font-size="8" text-anchor="end" fill="#141414" >4</text>
<line x1="493.95" y1="340.20" x2="493.95" y2="342.60" stroke="#141414" stroke-width="0.75" />
<text x="450.30" y="350.80" font-size="8" text-anchor="middle" fill="#141414" >−5</text>
<text x="493.95" y="350.80" font-size="8" text-anchor="middle" fill="#141414" >0</text>
<text x="537.60" y="350.80" font-size="8" text-anchor="middle" fill="#141414" >5</text>
<text x="493.95" y="360.50" font-size="8" text-anchor="middle" fill="#141414" >PC1</text>
<text transform="translate(437.00,295.60) rotate(-90)" font-size="8" text-anchor="middle" fill="#141414" >PC2</text>
<clipPath id="cp3"><rect x="566.6" y="251.0" width="87.39999999999998" height="89.19999999999999"/></clipPath>
<g clip-path="url(#cp3)"><path d="M653.4 343.1L655.7 342.5 M644.1 343.1L646.4 342.1L648.8 341.2L651.1 340.5L653.4 339.8L655.7 339.3 M637.1 343.2L639.4 341.9L641.8 340.8L644.1 339.7L646.4 338.8L648.8 337.9L651.1 337.2L653.4 336.5L655.7 336.0 M632.4 342.3L634.8 341.0L637.1 339.7L639.4 338.5L641.8 337.4L644.1 336.3L646.4 335.4L648.8 334.6L651.1 333.9L653.4 333.3L655.7 332.8 M625.4 343.0L627.8 341.6L630.1 340.2L632.4 338.8L634.8 337.5L637.1 336.2L639.4 335.0L641.8 333.9L644.1 332.9L646.4 332.1L648.8 331.3L651.1 330.6L653.4 330.1L655.7 329.6 M620.8 342.3L623.1 340.9L625.4 339.5L627.8 338.1L630.1 336.7L632.4 335.3L634.8 334.0L637.1 332.7L639.4 331.6L641.8 330.5L644.1 329.6L646.4 328.7L648.8 328.0L651.1 327.4L653.4 326.9L655.7 326.5 M613.8 342.8L616.1 341.5L618.5 340.2L620.8 338.8L623.1 337.4L625.4 335.9L627.8 334.5L630.1 333.1L632.4 331.8L634.8 330.5L637.1 329.3L639.4 328.2L641.8 327.1L644.1 326.2L646.4 325.4L648.8 324.7L651.1 324.1L653.4 323.7L655.7 323.3 M606.8 342.7L609.1 341.7L611.5 340.5L613.8 339.3L616.1 338.0L618.5 336.6L620.8 335.2L623.1 333.8L625.4 332.4L627.8 331.0L630.1 329.6L632.4 328.3L634.8 327.0L637.1 325.8L639.4 324.7L641.8 323.7L644.1 322.9L646.4 322.1L648.8 321.4L651.1 320.9L653.4 320.5L655.7 320.1 M595.2 343.2L597.5 342.6L599.8 342.0L602.1 341.2L604.5 340.3L606.8 339.3L609.1 338.2L611.5 337.1L613.8 335.8L616.1 334.5L618.5 333.1L620.8 331.7L623.1 330.3L625.4 328.8L627.8 327.4L630.1 326.1L632.4 324.8L634.8 323.5L637.1 322.4L639.4 321.3L641.8 320.4L644.1 319.5L646.4 318.8L648.8 318.2L651.1 317.7L653.4 317.3L655.7 317.0 M564.9 341.8L567.2 341.6L569.5 341.5L571.8 341.5L574.2 341.5L576.5 341.5L578.8 341.5L581.2 341.4L583.5 341.4L585.8 341.3L588.2 341.1L590.5 340.8L592.8 340.4L595.2 340.0L597.5 339.4L599.8 338.7L602.1 337.9L604.5 336.9L606.8 335.9L609.1 334.8L611.5 333.6L613.8 332.3L616.1 330.9L618.5 329.6L620.8 328.1L623.1 326.7L625.4 325.3L627.8 323.9L630.1 322.6L632.4 321.3L634.8 320.1L637.1 318.9L639.4 317.9L641.8 317.0L644.1 316.2L646.4 315.5L648.8 314.9L651.1 314.5L653.4 314.1L655.7 313.8 M564.9 338.7L567.2 338.6L569.5 338.5L571.8 338.4L574.2 338.4L576.5 338.4L578.8 338.4L581.2 338.4L583.5 338.3L585.8 338.2L588.2 337.9L590.5 337.6L592.8 337.2L595.2 336.7L597.5 336.1L599.8 335.4L602.1 334.5L604.5 333.5L606.8 332.5L609.1 331.3L611.5 330.1L613.8 328.8L616.1 327.4L618.5 326.0L620.8 324.6L623.1 323.2L625.4 321.8L627.8 320.4L630.1 319.1L632.4 317.8L634.8 316.6L637.1 315.5L639.4 314.5L641.8 313.7L644.1 312.9L646.4 312.3L648.8 311.7L651.1 311.3L653.4 311.0L655.7 310.7 M564.9 335.6L567.2 335.5L569.5 335.4L571.8 335.4L574.2 335.4L576.5 335.4L578.8 335.4L581.2 335.3L583.5 335.2L585.8 335.0L588.2 334.8L590.5 334.4L592.8 334.0L595.2 333.5L597.5 332.8L599.8 332.0L602.1 331.1L604.5 330.1L606.8 329.0L609.1 327.9L611.5 326.6L613.8 325.3L616.1 323.9L618.5 322.5L620.8 321.0L623.1 319.6L625.4 318.2L627.8 316.9L630.1 315.6L632.4 314.3L634.8 313.2L637.1 312.1L639.4 311.2L641.8 310.3L644.1 309.6L646.4 309.0L648.8 308.5L651.1 308.1L653.4 307.8L655.7 307.6 M564.9 332.5L567.2 332.4L569.5 332.3L571.8 332.3L574.2 332.3L576.5 332.3L578.8 332.3L581.2 332.2L583.5 332.1L585.8 331.9L588.2 331.6L590.5 331.3L592.8 330.8L595.2 330.2L597.5 329.5L599.8 328.7L602.1 327.7L604.5 326.7L606.8 325.6L609.1 324.4L611.5 323.1L613.8 321.7L616.1 320.3L618.5 318.9L620.8 317.5L623.1 316.1L625.4 314.7L627.8 313.3L630.1 312.1L632.4 310.9L634.8 309.7L637.1 308.7L639.4 307.8L641.8 307.0L644.1 306.3L646.4 305.8L648.8 305.3L651.1 304.9L653.4 304.7L655.7 304.5 M564.9 329.4L567.2 329.3L569.5 329.3L571.8 329.3L574.2 329.3L576.5 329.3L578.8 329.2L581.2 329.1L583.5 329.0L585.8 328.8L588.2 328.5L590.5 328.0L592.8 327.5L595.2 326.9L597.5 326.2L599.8 325.3L602.1 324.3L604.5 323.3L606.8 322.1L609.1 320.9L611.5 319.6L613.8 318.2L616.1 316.8L618.5 315.4L620.8 313.9L623.1 312.5L625.4 311.2L627.8 309.8L630.1 308.6L632.4 307.4L634.8 306.3L637.1 305.3L639.4 304.5L641.8 303.7L644.1 303.1L646.4 302.5L648.8 302.1L651.1 301.8L653.4 301.6L655.7 301.4 M564.9 326.3L567.2 326.2L569.5 326.2L571.8 326.2L574.2 326.2L576.5 326.2L578.8 326.1L581.2 326.0L583.5 325.9L585.8 325.6L588.2 325.3L590.5 324.8L592.8 324.3L595.2 323.6L597.5 322.8L599.8 321.9L602.1 320.9L604.5 319.8L606.8 318.6L609.1 317.4L611.5 316.0L613.8 314.7L616.1 313.3L618.5 311.8L620.8 310.4L623.1 309.0L625.4 307.6L627.8 306.3L630.1 305.1L632.4 304.0L634.8 302.9L637.1 302.0L639.4 301.1L641.8 300.4L644.1 299.8L646.4 299.3L648.8 298.9L651.1 298.6L653.4 298.4L655.7 298.3 M564.9 323.2L567.2 323.2L569.5 323.2L571.8 323.2L574.2 323.2L576.5 323.1L578.8 323.1L581.2 322.9L583.5 322.7L585.8 322.5L588.2 322.1L590.5 321.6L592.8 321.0L595.2 320.3L597.5 319.5L599.8 318.5L602.1 317.5L604.5 316.4L606.8 315.2L609.1 313.9L611.5 312.5L613.8 311.1L616.1 309.7L618.5 308.3L620.8 306.9L623.1 305.5L625.4 304.1L627.8 302.9L630.1 301.7L632.4 300.5L634.8 299.5L637.1 298.6L639.4 297.8L641.8 297.2L644.1 296.6L646.4 296.1L648.8 295.8L651.1 295.5L653.4 295.3L655.7 295.2 M564.9 320.1L567.2 320.1L569.5 320.1L571.8 320.1L574.2 320.1L576.5 320.1L578.8 320.0L581.2 319.8L583.5 319.6L585.8 319.3L588.2 318.9L590.5 318.3L592.8 317.7L595.2 317.0L597.5 316.1L599.8 315.1L602.1 314.1L604.5 312.9L606.8 311.7L609.1 310.4L611.5 309.0L613.8 307.6L616.1 306.2L618.5 304.7L620.8 303.3L623.1 302.0L625.4 300.6L627.8 299.4L630.1 298.2L632.4 297.1L634.8 296.2L637.1 295.3L639.4 294.5L641.8 293.9L644.1 293.4L646.4 292.9L648.8 292.6L651.1 292.4L653.4 292.2L655.7 292.1 M564.9 317.1L567.2 317.1L569.5 317.1L571.8 317.1L574.2 317.0L576.5 317.0L578.8 316.9L581.2 316.7L583.5 316.4L585.8 316.1L588.2 315.6L590.5 315.1L592.8 314.4L595.2 313.6L597.5 312.7L599.8 311.7L602.1 310.6L604.5 309.4L606.8 308.2L609.1 306.8L611.5 305.4L613.8 304.0L616.1 302.6L618.5 301.2L620.8 299.8L623.1 298.4L625.4 297.1L627.8 295.9L630.1 294.8L632.4 293.7L634.8 292.8L637.1 292.0L639.4 291.2L641.8 290.6L644.1 290.2L646.4 289.8L648.8 289.5L651.1 289.3L653.4 289.1L655.7 289.1 M564.9 314.0L567.2 314.0L569.5 314.0L571.8 314.0L574.2 314.0L576.5 313.9L578.8 313.8L581.2 313.6L583.5 313.3L585.8 312.9L588.2 312.4L590.5 311.8L592.8 311.1L595.2 310.3L597.5 309.4L599.8 308.3L602.1 307.2L604.5 306.0L606.8 304.7L609.1 303.3L611.5 301.9L613.8 300.5L616.1 299.1L618.5 297.6L620.8 296.3L623.1 294.9L625.4 293.6L627.8 292.5L630.1 291.3L632.4 290.3L634.8 289.4L637.1 288.6L639.4 288.0L641.8 287.4L644.1 287.0L646.4 286.6L648.8 286.3L651.1 286.2L653.4 286.1L655.7 286.0 M564.9 311.0L567.2 310.9L569.5 310.9L571.8 310.9L574.2 310.9L576.5 310.8L578.8 310.7L581.2 310.4L583.5 310.1L585.8 309.7L588.2 309.2L590.5 308.5L592.8 307.8L595.2 306.9L597.5 305.9L599.8 304.9L602.1 303.7L604.5 302.5L606.8 301.1L609.1 299.8L611.5 298.4L613.8 296.9L616.1 295.5L618.5 294.1L620.8 292.7L623.1 291.4L625.4 290.2L627.8 289.0L630.1 287.9L632.4 287.0L634.8 286.1L637.1 285.3L639.4 284.7L641.8 284.2L644.1 283.8L646.4 283.4L648.8 283.2L651.1 283.1L653.4 283.0L655.7 282.9 M564.9 307.9L567.2 307.9L569.5 307.9L571.8 307.9L574.2 307.8L576.5 307.7L578.8 307.5L581.2 307.3L583.5 306.9L585.8 306.5L588.2 305.9L590.5 305.2L592.8 304.4L595.2 303.5L597.5 302.5L599.8 301.4L602.1 300.2L604.5 299.0L606.8 297.6L609.1 296.2L611.5 294.8L613.8 293.4L616.1 292.0L618.5 290.6L620.8 289.2L623.1 287.9L625.4 286.7L627.8 285.6L630.1 284.5L632.4 283.6L634.8 282.8L637.1 282.1L639.4 281.5L641.8 281.0L644.1 280.6L646.4 280.3L648.8 280.1L651.1 280.0L653.4 279.9L655.7 279.9 M564.9 304.8L567.2 304.8L569.5 304.8L571.8 304.8L574.2 304.7L576.5 304.6L578.8 304.4L581.2 304.1L583.5 303.7L585.8 303.2L588.2 302.6L590.5 301.9L592.8 301.1L595.2 300.2L597.5 299.1L599.8 298.0L602.1 296.7L604.5 295.4L606.8 294.1L609.1 292.7L611.5 291.3L613.8 289.8L616.1 288.4L618.5 287.0L620.8 285.7L623.1 284.4L625.4 283.2L627.8 282.1L630.1 281.1L632.4 280.2L634.8 279.5L637.1 278.8L639.4 278.2L641.8 277.8L644.1 277.4L646.4 277.2L648.8 277.0L651.1 276.9L653.4 276.8L655.7 276.8 M564.9 301.8L567.2 301.8L569.5 301.8L571.8 301.7L574.2 301.6L576.5 301.5L578.8 301.3L581.2 300.9L583.5 300.5L585.8 300.0L588.2 299.3L590.5 298.6L592.8 297.7L595.2 296.7L597.5 295.7L599.8 294.5L602.1 293.2L604.5 291.9L606.8 290.6L609.1 289.1L611.5 287.7L613.8 286.3L616.1 284.9L618.5 283.5L620.8 282.2L623.1 281.0L625.4 279.8L627.8 278.7L630.1 277.8L632.4 276.9L634.8 276.2L637.1 275.5L639.4 275.0L641.8 274.6L644.1 274.3L646.4 274.1L648.8 273.9L651.1 273.8L653.4 273.8L655.7 273.8 M564.9 298.7L567.2 298.7L569.5 298.7L571.8 298.7L574.2 298.5L576.5 298.4L578.8 298.1L581.2 297.7L583.5 297.3L585.8 296.7L588.2 296.0L590.5 295.3L592.8 294.3L595.2 293.3L597.5 292.2L599.8 291.0L602.1 289.7L604.5 288.4L606.8 287.0L609.1 285.6L611.5 284.2L613.8 282.8L616.1 281.4L618.5 280.0L620.8 278.7L623.1 277.5L625.4 276.4L627.8 275.3L630.1 274.4L632.4 273.6L634.8 272.9L637.1 272.3L639.4 271.8L641.8 271.4L644.1 271.1L646.4 270.9L648.8 270.8L651.1 270.7L653.4 270.7L655.7 270.7 M564.9 295.7L567.2 295.7L569.5 295.6L571.8 295.6L574.2 295.4L576.5 295.2L578.8 294.9L581.2 294.5L583.5 294.1L585.8 293.4L588.2 292.7L590.5 291.9L592.8 291.0L595.2 289.9L597.5 288.8L599.8 287.5L602.1 286.2L604.5 284.9L606.8 283.5L609.1 282.1L611.5 280.6L613.8 279.2L616.1 277.8L618.5 276.5L620.8 275.2L623.1 274.0L625.4 272.9L627.8 271.9L630.1 271.0L632.4 270.3L634.8 269.6L637.1 269.0L639.4 268.6L641.8 268.3L644.1 268.0L646.4 267.8L648.8 267.7L651.1 267.7L653.4 267.7L655.7 267.7 M564.9 292.6L567.2 292.6L569.5 292.6L571.8 292.5L574.2 292.3L576.5 292.1L578.8 291.8L581.2 291.3L583.5 290.8L585.8 290.2L588.2 289.4L590.5 288.5L592.8 287.5L595.2 286.5L597.5 285.3L599.8 284.0L602.1 282.7L604.5 281.3L606.8 279.9L609.1 278.5L611.5 277.1L613.8 275.7L616.1 274.3L618.5 273.0L620.8 271.8L623.1 270.6L625.4 269.5L627.8 268.6L630.1 267.7L632.4 267.0L634.8 266.3L637.1 265.8L639.4 265.4L641.8 265.1L644.1 264.9L646.4 264.7L648.8 264.7L651.1 264.6L653.4 264.6L655.7 264.6 M564.9 289.6L567.2 289.6L569.5 289.5L571.8 289.4L574.2 289.2L576.5 288.9L578.8 288.6L581.2 288.1L583.5 287.5L585.8 286.9L588.2 286.1L590.5 285.1L592.8 284.1L595.2 283.0L597.5 281.8L599.8 280.5L602.1 279.2L604.5 277.8L606.8 276.4L609.1 275.0L611.5 273.5L613.8 272.1L616.1 270.8L618.5 269.5L620.8 268.3L623.1 267.2L625.4 266.1L627.8 265.2L630.1 264.4L632.4 263.7L634.8 263.1L637.1 262.6L639.4 262.2L641.8 262.0L644.1 261.8L646.4 261.7L648.8 261.6L651.1 261.6L653.4 261.6L655.7 261.6 M564.9 286.5L567.2 286.5L569.5 286.4L571.8 286.3L574.2 286.1L576.5 285.8L578.8 285.4L581.2 284.9L583.5 284.3L585.8 283.5L588.2 282.7L590.5 281.8L592.8 280.7L595.2 279.6L597.5 278.3L599.8 277.0L602.1 275.7L604.5 274.3L606.8 272.8L609.1 271.4L611.5 270.0L613.8 268.6L616.1 267.3L618.5 266.0L620.8 264.8L623.1 263.7L625.4 262.7L627.8 261.9L630.1 261.1L632.4 260.4L634.8 259.9L637.1 259.4L639.4 259.1L641.8 258.8L644.1 258.7L646.4 258.6L648.8 258.5L651.1 258.5L653.4 258.5L655.7 258.5 M564.9 283.5L567.2 283.4L569.5 283.3L571.8 283.2L574.2 282.9L576.5 282.6L578.8 282.2L581.2 281.6L583.5 281.0L585.8 280.2L588.2 279.3L590.5 278.3L592.8 277.3L595.2 276.1L597.5 274.8L599.8 273.5L602.1 272.1L604.5 270.7L606.8 269.3L609.1 267.9L611.5 266.5L613.8 265.1L616.1 263.8L618.5 262.5L620.8 261.4L623.1 260.3L625.4 259.4L627.8 258.5L630.1 257.8L632.4 257.2L634.8 256.7L637.1 256.2L639.4 255.9L641.8 255.7L644.1 255.6L646.4 255.5L648.8 255.5L651.1 255.4L653.4 255.4L655.7 255.4 M564.9 280.4L567.2 280.3L569.5 280.2L571.8 280.0L574.2 279.8L576.5 279.4L578.8 278.9L581.2 278.4L583.5 277.7L585.8 276.9L588.2 275.9L590.5 274.9L592.8 273.8L595.2 272.6L597.5 271.3L599.8 270.0L602.1 268.6L604.5 267.2L606.8 265.7L609.1 264.3L611.5 262.9L613.8 261.6L616.1 260.3L618.5 259.1L620.8 258.0L623.1 256.9L625.4 256.0L627.8 255.2L630.1 254.5L632.4 253.9L634.8 253.4L637.1 253.1L639.4 252.8L641.8 252.6L644.1 252.5L646.4 252.4L648.8 252.4L651.1 252.4L653.4 252.4L655.7 252.4 M564.9 277.3L567.2 277.2L569.5 277.1L571.8 276.9L574.2 276.6L576.5 276.2L578.8 275.7L581.2 275.1L583.5 274.3L585.8 273.5L588.2 272.6L590.5 271.5L592.8 270.3L595.2 269.1L597.5 267.8L599.8 266.4L602.1 265.0L604.5 263.6L606.8 262.2L609.1 260.8L611.5 259.4L613.8 258.1L616.1 256.8L618.5 255.6L620.8 254.5L623.1 253.5L625.4 252.7L627.8 251.9L630.1 251.2L632.4 250.7L634.8 250.3L637.1 249.9L639.4 249.7L641.8 249.5L644.1 249.4L646.4 249.4L648.8 249.3L651.1 249.3L653.4 249.3L655.7 249.3 M564.9 274.2L567.2 274.1L569.5 274.0L571.8 273.7L574.2 273.4L576.5 273.0L578.8 272.4L581.2 271.8L583.5 271.0L585.8 270.1L588.2 269.1L590.5 268.1L592.8 266.9L595.2 265.6L597.5 264.3L599.8 262.9L602.1 261.5L604.5 260.1L606.8 258.7L609.1 257.2L611.5 255.9L613.8 254.6L616.1 253.3L618.5 252.2L620.8 251.1L623.1 250.2L625.4 249.3L627.8 248.6 M564.9 271.2L567.2 271.0L569.5 270.9L571.8 270.6L574.2 270.2L576.5 269.8L578.8 269.2L581.2 268.5L583.5 267.7L585.8 266.8L588.2 265.7L590.5 264.6L592.8 263.4L595.2 262.1L597.5 260.8L599.8 259.4L602.1 258.0L604.5 256.5L606.8 255.1L609.1 253.7L611.5 252.4L613.8 251.1L616.1 249.9L618.5 248.8 M564.9 268.1L567.2 267.9L569.5 267.7L571.8 267.4L574.2 267.0L576.5 266.5L578.8 265.9L581.2 265.2L583.5 264.3L585.8 263.4L588.2 262.3L590.5 261.1L592.8 259.9L595.2 258.6L597.5 257.2L599.8 255.8L602.1 254.4L604.5 253.0L606.8 251.6L609.1 250.2L611.5 248.9 M564.9 265.0L567.2 264.8L569.5 264.6L571.8 264.2L574.2 263.8L576.5 263.3L578.8 262.6L581.2 261.8L583.5 260.9L585.8 259.9L588.2 258.9L590.5 257.7L592.8 256.4L595.2 255.1L597.5 253.7L599.8 252.3L602.1 250.9L604.5 249.4L606.8 248.0 M564.9 261.9L567.2 261.7L569.5 261.4L571.8 261.0L574.2 260.6L576.5 260.0L578.8 259.3L581.2 258.5L583.5 257.6L585.8 256.5L588.2 255.4L590.5 254.2L592.8 252.9L595.2 251.5L597.5 250.2L599.8 248.7 M564.9 258.8L567.2 258.6L569.5 258.2L571.8 257.8L574.2 257.3L576.5 256.7L578.8 256.0L581.2 255.1L583.5 254.2L585.8 253.1L588.2 251.9L590.5 250.7L592.8 249.4L595.2 248.0 M564.9 255.7L567.2 255.4L569.5 255.1L571.8 254.6L574.2 254.1L576.5 253.4L578.8 252.6L581.2 251.7L583.5 250.7L585.8 249.6L588.2 248.5 M564.9 252.5L567.2 252.2L569.5 251.9L571.8 251.4L574.2 250.8L576.5 250.1L578.8 249.3L581.2 248.4 M564.9 249.4L567.2 249.1L569.5 248.7L571.8 248.1" fill="none" stroke="#c3c3c3" stroke-width="0.42"/><path d="M644.8 339.4L646.7 337.5L647.5 339.4ZM649.4 331.1L651.5 329.4L652.1 331.4ZM637.8 332.4L639.7 330.3L640.6 332.2ZM623.9 336.9L625.6 334.6L626.7 336.4ZM621.6 331.2L623.2 329.0L624.3 330.8ZM642.4 316.8L644.5 315.0L645.2 317.0ZM616.9 326.9L618.6 324.7L619.7 326.5ZM619.3 325.5L620.9 323.3L622.0 325.1ZM602.8 334.2L604.8 332.3L605.6 334.2ZM593.4 333.9L595.7 332.3L596.1 334.3ZM593.4 333.9L595.7 332.3L596.1 334.3ZM588.7 334.7L591.1 333.3L591.4 335.4ZM637.8 308.5L639.8 306.6L640.5 308.5ZM605.2 326.4L607.0 324.3L608.0 326.2ZM595.8 330.0L597.9 328.3L598.5 330.3ZM619.3 314.9L620.9 312.7L622.0 314.4ZM595.8 326.7L597.9 324.9L598.5 326.9ZM586.4 328.7L588.8 327.3L589.1 329.4ZM591.1 324.7L593.3 323.1L593.8 325.1ZM577.0 326.2L579.6 325.1L579.6 327.2ZM567.7 326.2L570.3 325.2L570.3 327.3ZM623.9 305.0L625.6 302.8L626.6 304.7ZM642.3 297.0L644.6 295.4L645.1 297.4ZM591.1 321.4L593.3 319.8L593.8 321.8ZM619.2 304.3L620.9 302.0L622.0 303.8ZM637.7 295.1L639.8 293.3L640.5 295.3ZM600.5 314.8L602.4 312.8L603.3 314.7ZM609.9 306.4L611.6 304.2L612.7 306.0ZM644.6 290.1L647.0 288.6L647.4 290.7ZM649.3 289.4L651.8 288.2L651.9 290.3ZM572.4 314.0L574.9 312.9L575.0 315.0ZM581.7 313.5L584.1 312.1L584.4 314.2ZM644.6 286.9L647.0 285.4L647.3 287.5ZM577.0 310.8L579.5 309.6L579.7 311.7ZM626.2 289.8L628.0 287.7L628.9 289.6ZM579.4 310.6L581.8 309.3L582.0 311.4ZM642.3 280.9L644.7 279.4L645.0 281.5ZM649.3 280.1L651.8 278.9L651.9 281.0ZM581.7 307.2L584.1 305.8L584.4 307.8ZM623.8 284.1L625.7 282.0L626.6 283.8ZM612.3 290.8L613.9 288.5L615.0 290.3ZM616.9 288.0L618.6 285.8L619.7 287.6ZM591.1 298.4L593.2 296.5L593.9 298.4ZM595.8 296.4L597.7 294.4L598.6 296.3ZM637.7 275.4L640.0 273.8L640.4 275.9ZM579.4 298.0L581.8 296.6L582.1 298.7ZM644.6 271.1L647.1 269.8L647.3 271.9ZM567.7 298.7L570.3 297.7L570.3 299.8ZM640.0 268.5L642.4 267.1L642.7 269.2ZM633.0 270.1L635.2 268.4L635.8 270.4ZM572.4 295.5L574.9 294.3L575.0 296.4ZM605.3 280.9L606.9 278.6L608.0 280.4ZM609.9 278.0L611.6 275.8L612.7 277.6ZM649.3 264.6L651.8 263.6L651.9 265.7ZM586.5 286.6L588.5 284.8L589.2 286.8ZM567.7 289.5L570.3 288.4L570.3 290.5ZM602.9 278.7L604.6 276.5L605.7 278.3ZM637.7 259.3L640.0 257.9L640.3 260.0ZM588.8 282.4L590.8 280.5L591.6 282.4ZM579.4 285.2L581.7 283.7L582.1 285.7ZM644.6 255.6L647.2 254.4L647.2 256.5ZM649.3 255.5L651.8 254.4L651.9 256.5ZM570.0 283.3L572.5 282.1L572.7 284.2ZM579.4 278.8L581.7 277.2L582.2 279.2ZM600.6 269.5L602.3 267.3L603.3 269.1ZM586.5 276.6L588.5 274.7L589.3 276.6ZM614.5 257.7L616.3 255.5L617.3 257.4ZM605.3 263.1L606.9 260.9L608.0 262.7ZM609.9 256.8L611.6 254.6L612.7 256.4ZM579.4 272.3L581.6 270.6L582.2 272.6ZM607.6 254.6L609.3 252.4L610.3 254.2ZM572.4 267.3L574.8 265.9L575.1 267.9ZM581.8 261.6L583.8 259.7L584.6 261.6ZM581.8 261.6L583.8 259.7L584.6 261.6ZM572.4 260.9L574.7 259.4L575.1 261.4Z" fill="#a8a8a8"/></g>
<path d="M566.6 342.4V251.0H654.0" fill="none" stroke="#2a2a2a" stroke-width="0.75"/>
<line x1="654.00" y1="251.00" x2="654.00" y2="342.40" stroke="#8c8c8c" stroke-width="1.1" />
<line x1="566.60" y1="340.20" x2="654.00" y2="340.20" stroke="#8c8c8c" stroke-width="1.1" />
<line x1="564.00" y1="331.28" x2="566.60" y2="331.28" stroke="#141414" stroke-width="0.7" />
<text x="562.60" y="334.08" font-size="8" text-anchor="end" fill="#141414" >−4</text>
<line x1="564.00" y1="295.60" x2="566.60" y2="295.60" stroke="#141414" stroke-width="0.7" />
<text x="562.60" y="298.40" font-size="8" text-anchor="end" fill="#141414" >0</text>
<line x1="564.00" y1="259.92" x2="566.60" y2="259.92" stroke="#141414" stroke-width="0.7" />
<text x="562.60" y="262.72" font-size="8" text-anchor="end" fill="#141414" >4</text>
<line x1="610.30" y1="340.20" x2="610.30" y2="342.60" stroke="#141414" stroke-width="0.75" />
<text x="566.60" y="350.80" font-size="8" text-anchor="middle" fill="#141414" >−5</text>
<text x="610.30" y="350.80" font-size="8" text-anchor="middle" fill="#141414" >0</text>
<text x="654.00" y="350.80" font-size="8" text-anchor="middle" fill="#141414" >5</text>
<text x="610.30" y="360.50" font-size="8" text-anchor="middle" fill="#141414" >PC1</text>
<text transform="translate(553.30,295.60) rotate(-90)" font-size="8" text-anchor="middle" fill="#141414" >PC3</text>
<path d="M450.30 181.72 L450.67 182.05 L451.15 182.49 L451.71 183.01 L452.35 183.59 L453.03 184.21 L453.74 184.84 L454.45 185.47 L455.15 186.07 L455.81 186.61 L456.41 187.08 L456.96 187.48 L457.47 187.86 L457.96 188.20 L458.44 188.51 L458.92 188.81 L459.41 189.09 L459.91 189.37 L460.45 189.64 L461.02 189.92 L461.65 190.21 L462.33 190.49 L463.07 190.76 L463.84 191.03 L464.65 191.29 L465.47 191.55 L466.30 191.80 L467.13 192.06 L467.95 192.33 L468.74 192.60 L469.51 192.88 L470.27 193.19 L471.07 193.53 L471.89 193.89 L472.70 194.25 L473.49 194.61 L474.24 194.96 L474.94 195.29 L475.55 195.58 L476.08 195.82 L476.49 196.01 M450.30 184.40 L450.61 184.78 L451.01 185.29 L451.49 185.90 L452.02 186.58 L452.59 187.30 L453.19 188.04 L453.80 188.78 L454.41 189.47 L454.99 190.11 L455.54 190.65 L456.06 191.11 L456.59 191.52 L457.11 191.89 L457.63 192.23 L458.16 192.55 L458.68 192.86 L459.20 193.17 L459.73 193.50 L460.25 193.84 L460.78 194.22 L461.30 194.66 L461.81 195.16 L462.32 195.69 L462.83 196.25 L463.34 196.79 L463.86 197.31 L464.38 197.78 L464.91 198.18 L465.45 198.49 L466.01 198.69 L466.62 198.76 L467.28 198.70 L467.98 198.56 L468.69 198.34 L469.40 198.08 L470.08 197.79 L470.71 197.50 L471.28 197.25 L471.76 197.04 L472.12 196.90 M450.30 187.08 L450.60 187.60 L450.98 188.29 L451.43 189.11 L451.93 190.03 L452.48 191.01 L453.07 192.02 L453.67 193.01 L454.29 193.96 L454.92 194.82 L455.54 195.56 L456.17 196.23 L456.84 196.87 L457.53 197.48 L458.25 198.06 L458.98 198.61 L459.71 199.10 L460.44 199.54 L461.15 199.92 L461.85 200.24 L462.52 200.48 L463.17 200.62 L463.81 200.68 L464.45 200.66 L465.07 200.58 L465.69 200.45 L466.29 200.28 L466.89 200.10 L467.48 199.91 L468.06 199.73 L468.63 199.58 L469.22 199.43 L469.82 199.25 L470.43 199.06 L471.04 198.85 L471.63 198.63 L472.19 198.42 L472.71 198.23 L473.17 198.05 L473.56 197.91 L473.87 197.80 M457.28 192.44 L457.55 192.65 L457.89 192.97 L458.30 193.38 L458.76 193.83 L459.25 194.28 L459.76 194.69 L460.27 195.02 L460.76 195.22 L461.23 195.27 L461.65 195.12 L462.03 194.67 L462.40 193.92 L462.76 192.96 L463.11 191.86 L463.45 190.71 L463.79 189.59 L464.12 188.58 L464.46 187.77 L464.80 187.24 L465.14 187.08 L465.49 187.29 L465.83 187.78 L466.16 188.51 L466.50 189.43 L466.83 190.48 L467.17 191.62 L467.52 192.80 L467.88 193.95 L468.25 195.04 L468.63 196.01 L469.05 196.94 L469.52 197.94 L470.02 198.97 L470.53 200.01 L471.03 201.03 L471.52 202.01 L471.98 202.92 L472.39 203.73 L472.73 204.41 L473.00 204.94 M450.30 179.94 L450.56 180.31 L450.88 180.80 L451.26 181.38 L451.69 182.03 L452.16 182.73 L452.65 183.45 L453.15 184.18 L453.67 184.89 L454.17 185.57 L454.67 186.19 L455.15 186.77 L455.66 187.37 L456.17 187.96 L456.70 188.54 L457.23 189.12 L457.77 189.67 L458.30 190.20 L458.84 190.69 L459.38 191.14 L459.90 191.55 L460.42 191.90 L460.94 192.21 L461.45 192.47 L461.96 192.71 L462.47 192.91 L462.98 193.10 L463.51 193.27 L464.04 193.44 L464.58 193.60 L465.14 193.78 L465.74 193.95 L466.41 194.12 L467.10 194.29 L467.82 194.44 L468.52 194.59 L469.21 194.72 L469.84 194.84 L470.41 194.95 L470.88 195.04 L471.25 195.12 M450.30 188.87 L450.84 189.09 L451.54 189.41 L452.39 189.79 L453.33 190.21 L454.34 190.65 L455.37 191.09 L456.39 191.52 L457.37 191.90 L458.26 192.21 L459.03 192.44 L459.69 192.59 L460.27 192.68 L460.80 192.73 L461.29 192.74 L461.76 192.72 L462.21 192.67 L462.68 192.62 L463.16 192.55 L463.69 192.49 L464.27 192.44 L464.93 192.38 L465.66 192.30 L466.45 192.21 L467.27 192.10 L468.09 191.99 L468.88 191.88 L469.62 191.78 L470.27 191.68 L470.83 191.60 L471.25 191.55" fill="none" stroke="#ff0000" stroke-width="0.75" stroke-linejoin="round" stroke-linecap="round"/>
<path d="M466.89 192.44 L467.37 192.42 L468.01 192.42 L468.78 192.42 L469.63 192.42 L470.54 192.41 L471.48 192.38 L472.40 192.34 L473.27 192.26 L474.06 192.15 L474.74 191.99 L475.34 191.82 L475.90 191.66 L476.42 191.49 L476.91 191.30 L477.36 191.07 L477.78 190.79 L478.17 190.45 L478.52 190.02 L478.83 189.50 L479.11 188.87 L479.34 188.13 L479.51 187.29 L479.63 186.38 L479.71 185.38 L479.76 184.32 L479.80 183.19 L479.83 182.00 L479.86 180.76 L479.91 179.47 L479.98 178.15 L480.06 176.73 L480.11 175.16 L480.16 173.48 L480.21 171.74 L480.25 169.97 L480.32 168.22 L480.40 166.51 L480.51 164.89 L480.66 163.40 L480.86 162.08 L481.09 160.89 L481.36 159.77 L481.66 158.73 L481.98 157.77 L482.33 156.89 L482.70 156.08 L483.09 155.34 L483.49 154.68 L483.92 154.10 L484.35 153.59 L484.79 153.18 L485.25 152.86 L485.74 152.64 L486.23 152.50 L486.75 152.42 L487.28 152.40 L487.83 152.43 L488.40 152.50 L488.98 152.59 L489.59 152.70 L490.21 152.83 L490.87 152.99 L491.55 153.19 L492.25 153.42 L492.97 153.70 L493.69 154.03 L494.42 154.40 L495.14 154.82 L495.86 155.30 L496.57 155.82 L497.26 156.41 L497.92 157.05 L498.58 157.73 L499.24 158.47 L499.90 159.26 L500.57 160.09 L501.27 160.97 L501.99 161.89 L502.75 162.86 L503.55 163.86 L504.41 164.94 L505.32 166.12 L506.27 167.37 L507.25 168.67 L508.25 170.00 L509.25 171.34 L510.26 172.67 L511.25 173.96 L512.22 175.20 L513.16 176.36 L514.07 177.48 L514.99 178.61 L515.89 179.72 L516.79 180.81 L517.68 181.86 L518.56 182.87 L519.42 183.82 L520.27 184.69 L521.09 185.49 L521.89 186.19 L522.69 186.78 L523.51 187.29 L524.33 187.72 L525.14 188.07 L525.92 188.36 L526.66 188.61 L527.34 188.82 L527.95 188.99 L528.46 189.16 L528.87 189.31 M469.51 191.55 L469.99 191.63 L470.63 191.77 L471.40 191.94 L472.25 192.14 L473.16 192.33 L474.09 192.49 L475.02 192.60 L475.89 192.65 L476.68 192.60 L477.36 192.44 L477.96 192.19 L478.52 191.90 L479.04 191.54 L479.53 191.13 L479.98 190.65 L480.40 190.10 L480.79 189.48 L481.13 188.77 L481.45 187.97 L481.73 187.08 L481.96 186.07 L482.13 184.92 L482.25 183.65 L482.33 182.30 L482.38 180.88 L482.42 179.43 L482.45 177.96 L482.48 176.49 L482.53 175.06 L482.60 173.69 L482.68 172.32 L482.73 170.91 L482.78 169.47 L482.82 168.03 L482.87 166.60 L482.94 165.20 L483.02 163.85 L483.13 162.57 L483.28 161.38 L483.47 160.29 L483.71 159.29 L483.98 158.33 L484.27 157.43 L484.60 156.60 L484.95 155.82 L485.32 155.12 L485.71 154.50 L486.11 153.96 L486.53 153.51 L486.97 153.15 L487.40 152.89 L487.85 152.75 L488.30 152.71 L488.77 152.75 L489.26 152.87 L489.77 153.04 L490.32 153.26 L490.90 153.50 L491.53 153.77 L492.20 154.04 L492.94 154.32 L493.73 154.65 L494.57 155.00 L495.44 155.40 L496.35 155.82 L497.27 156.29 L498.21 156.79 L499.13 157.33 L500.05 157.90 L500.93 158.50 L501.81 159.15 L502.69 159.84 L503.58 160.57 L504.47 161.33 L505.35 162.13 L506.23 162.96 L507.11 163.82 L507.97 164.70 L508.83 165.61 L509.66 166.54 L510.49 167.51 L511.31 168.54 L512.11 169.62 L512.91 170.72 L513.70 171.84 L514.48 172.97 L515.26 174.09 L516.02 175.19 L516.77 176.25 L517.52 177.26 L518.27 178.25 L519.03 179.26 L519.79 180.26 L520.55 181.26 L521.29 182.22 L522.00 183.15 L522.69 184.02 L523.35 184.83 L523.95 185.56 L524.50 186.19 L525.01 186.72 L525.48 187.17 L525.92 187.53 L526.32 187.84 L526.69 188.08 L527.02 188.29 L527.32 188.46 L527.58 188.60 L527.80 188.73 L528.00 188.87 M473.00 200.48 L473.48 200.39 L474.12 200.32 L474.89 200.24 L475.74 200.15 L476.65 200.03 L477.59 199.87 L478.51 199.67 L479.38 199.42 L480.18 199.09 L480.86 198.69 L481.45 198.22 L482.02 197.70 L482.56 197.14 L483.06 196.52 L483.53 195.84 L483.96 195.11 L484.34 194.32 L484.68 193.46 L484.98 192.54 L485.22 191.55 L485.40 190.47 L485.52 189.31 L485.58 188.07 L485.60 186.77 L485.57 185.41 L485.52 184.00 L485.45 182.56 L485.37 181.10 L485.29 179.63 L485.22 178.15 L485.12 176.61 L484.96 174.96 L484.76 173.24 L484.54 171.48 L484.32 169.72 L484.12 167.99 L483.96 166.33 L483.86 164.76 L483.84 163.33 L483.91 162.08 L484.08 160.96 L484.33 159.95 L484.64 159.02 L485.00 158.19 L485.41 157.44 L485.86 156.78 L486.34 156.20 L486.83 155.70 L487.33 155.28 L487.84 154.93 L488.35 154.68 L488.88 154.52 L489.43 154.47 L490.00 154.50 L490.59 154.60 L491.21 154.76 L491.86 154.98 L492.53 155.23 L493.22 155.52 L493.95 155.82 L494.71 156.16 L495.50 156.55 L496.32 156.99 L497.17 157.48 L498.04 158.00 L498.94 158.57 L499.85 159.17 L500.78 159.81 L501.72 160.48 L502.68 161.18 L503.67 161.93 L504.72 162.73 L505.80 163.57 L506.91 164.45 L508.03 165.37 L509.13 166.31 L510.21 167.26 L511.26 168.21 L512.24 169.17 L513.16 170.11 L514.00 171.07 L514.80 172.05 L515.56 173.05 L516.28 174.06 L516.98 175.08 L517.64 176.09 L518.28 177.09 L518.91 178.07 L519.53 179.02 L520.14 179.94 L520.76 180.85 L521.38 181.79 L522.00 182.73 L522.61 183.67 L523.20 184.57 L523.74 185.42 L524.25 186.21 L524.69 186.91 L525.07 187.50 L525.38 187.97 M467.76 194.22 L468.30 194.35 L469.02 194.55 L469.87 194.80 L470.83 195.07 L471.85 195.34 L472.89 195.60 L473.92 195.81 L474.88 195.97 L475.75 196.04 L476.49 196.01 L477.13 195.94 L477.73 195.88 L478.29 195.81 L478.80 195.70 L479.27 195.51 L479.70 195.22 L480.07 194.79 L480.39 194.21 L480.65 193.43 L480.86 192.44 L480.97 191.17 L480.97 189.62 L480.90 187.84 L480.76 185.90 L480.58 183.84 L480.39 181.72 L480.22 179.59 L480.07 177.51 L479.99 175.52 L479.98 173.69 L480.04 171.92 L480.12 170.13 L480.23 168.33 L480.37 166.55 L480.53 164.81 L480.72 163.14 L480.93 161.56 L481.17 160.10 L481.44 158.77 L481.73 157.61 L482.05 156.61 L482.42 155.75 L482.82 155.02 L483.24 154.40 L483.69 153.87 L484.16 153.43 L484.64 153.06 L485.12 152.75 L485.61 152.49 L486.09 152.25 L486.57 152.07 L487.06 151.95 L487.55 151.89 L488.04 151.90 L488.55 151.97 L489.07 152.10 L489.60 152.29 L490.16 152.52 L490.73 152.81 L491.33 153.15 L491.96 153.53 L492.63 153.98 L493.33 154.49 L494.04 155.05 L494.77 155.66 L495.50 156.32 L496.23 157.02 L496.95 157.78 L497.64 158.57 L498.31 159.40 L498.96 160.29 L499.58 161.25 L500.18 162.28 L500.78 163.36 L501.37 164.48 L501.96 165.61 L502.56 166.76 L503.16 167.90 L503.78 169.02 L504.43 170.11 L505.09 171.21 L505.77 172.34 L506.46 173.50 L507.16 174.66 L507.86 175.81 L508.57 176.93 L509.29 178.01 L510.00 179.03 L510.71 179.97 L511.41 180.83 L512.12 181.60 L512.85 182.30 L513.59 182.94 L514.33 183.53 L515.07 184.07 L515.79 184.56 L516.49 185.01 L517.16 185.43 L517.80 185.82 L518.39 186.19 L518.96 186.52 L519.50 186.80 L520.03 187.04 L520.54 187.24 L521.01 187.41 L521.45 187.56 L521.85 187.68 L522.21 187.79 L522.51 187.88 L522.76 187.97 M471.25 196.01 L472.02 196.04 L473.07 196.12 L474.32 196.24 L475.72 196.35 L477.20 196.46 L478.69 196.52 L480.13 196.54 L481.45 196.47 L482.59 196.30 L483.47 196.01 L484.15 195.63 L484.70 195.21 L485.13 194.73 L485.46 194.18 L485.71 193.55 L485.88 192.84 L485.99 192.02 L486.06 191.09 L486.09 190.05 L486.09 188.87 L486.04 187.50 L485.88 185.92 L485.64 184.18 L485.34 182.32 L485.00 180.38 L484.65 178.41 L484.30 176.44 L483.97 174.52 L483.69 172.70 L483.47 171.01 L483.28 169.39 L483.08 167.76 L482.86 166.15 L482.66 164.56 L482.49 163.02 L482.36 161.55 L482.29 160.17 L482.30 158.89 L482.40 157.73 L482.60 156.72 L482.93 155.84 L483.36 155.08 L483.89 154.43 L484.50 153.88 L485.17 153.43 L485.87 153.05 L486.59 152.76 L487.32 152.53 L488.03 152.37 L488.71 152.25 L489.36 152.22 L490.00 152.29 L490.63 152.45 L491.28 152.68 L491.93 152.98 L492.61 153.32 L493.32 153.71 L494.06 154.11 L494.85 154.52 L495.70 154.93 L496.61 155.35 L497.58 155.79 L498.61 156.26 L499.68 156.75 L500.77 157.28 L501.88 157.83 L502.98 158.40 L504.08 159.00 L505.14 159.63 L506.17 160.29 L507.18 160.98 L508.20 161.71 L509.23 162.48 L510.24 163.27 L511.25 164.09 L512.23 164.92 L513.18 165.77 L514.09 166.62 L514.96 167.48 L515.77 168.33 L516.54 169.18 L517.25 170.06 L517.92 170.94 L518.55 171.83 L519.16 172.74 L519.73 173.64 L520.29 174.55 L520.83 175.46 L521.36 176.36 L521.89 177.26 L522.40 178.17 L522.88 179.13 L523.35 180.10 L523.80 181.09 L524.23 182.06 L524.65 183.00 L525.06 183.90 L525.46 184.74 L525.86 185.51 L526.25 186.19 L526.65 186.78 L527.06 187.30 L527.47 187.76 L527.88 188.17 L528.27 188.53 L528.64 188.84 L528.98 189.12 L529.28 189.36 L529.54 189.57 L529.74 189.76" fill="none" stroke="#0000ff" stroke-width="0.75" stroke-linejoin="round" stroke-linecap="round"/>
<path d="M566.60 178.10 L566.96 177.84 L567.43 177.49 L567.99 177.09 L568.61 176.64 L569.28 176.15 L569.98 175.64 L570.69 175.13 L571.40 174.61 L572.08 174.12 L572.72 173.65 L573.33 173.20 L573.96 172.74 L574.58 172.27 L575.21 171.81 L575.83 171.34 L576.45 170.88 L577.06 170.44 L577.67 170.00 L578.26 169.59 L578.84 169.20 L579.41 168.83 L579.98 168.46 L580.56 168.11 L581.12 167.77 L581.68 167.45 L582.21 167.14 L582.73 166.85 L583.21 166.57 L583.67 166.32 L584.08 166.08 L584.46 165.87 L584.81 165.68 L585.14 165.51 L585.44 165.36 L585.72 165.22 L585.97 165.10 L586.19 165.00 L586.39 164.90 L586.56 164.82 L586.70 164.75 M566.60 175.43 L566.96 175.16 L567.43 174.81 L567.99 174.39 L568.61 173.93 L569.28 173.43 L569.98 172.91 L570.69 172.39 L571.40 171.88 L572.08 171.41 L572.72 170.98 L573.34 170.58 L573.97 170.20 L574.61 169.82 L575.25 169.45 L575.89 169.09 L576.51 168.74 L577.13 168.39 L577.72 168.06 L578.29 167.74 L578.84 167.42 L579.36 167.10 L579.89 166.79 L580.41 166.47 L580.92 166.16 L581.40 165.86 L581.86 165.58 L582.27 165.33 L582.64 165.10 L582.95 164.90 L583.21 164.75 M566.60 172.76 L566.91 172.54 L567.30 172.26 L567.76 171.93 L568.28 171.55 L568.84 171.15 L569.43 170.73 L570.04 170.31 L570.66 169.91 L571.26 169.54 L571.84 169.20 L572.44 168.90 L573.07 168.61 L573.73 168.33 L574.40 168.07 L575.07 167.81 L575.72 167.56 L576.36 167.30 L576.95 167.05 L577.49 166.79 L577.96 166.53 L578.39 166.27 L578.78 166.01 L579.14 165.76 L579.47 165.50 L579.76 165.25 L580.02 164.99 L580.23 164.73 L580.40 164.45 L580.51 164.16 L580.58 163.86 L580.56 163.52 L580.43 163.13 L580.22 162.72 L579.95 162.29 L579.66 161.86 L579.37 161.45 L579.11 161.07 L578.92 160.74 L578.82 160.48 L578.84 160.30 L578.97 160.20 L579.17 160.18 L579.44 160.21 L579.77 160.29 L580.15 160.41 L580.56 160.56 L580.99 160.72 L581.44 160.88 L581.89 161.04 L582.33 161.19 L582.79 161.33 L583.28 161.49 L583.80 161.66 L584.35 161.84 L584.90 162.02 L585.46 162.22 L586.01 162.41 L586.56 162.60 L587.08 162.79 L587.58 162.97 L588.07 163.16 L588.58 163.35 L589.09 163.56 L589.60 163.77 L590.09 163.97 L590.55 164.17 L590.98 164.35 L591.37 164.51 L591.69 164.64 L591.95 164.75 M567.47 178.99 L567.84 178.73 L568.31 178.38 L568.86 177.98 L569.48 177.53 L570.15 177.04 L570.85 176.53 L571.56 176.02 L572.27 175.50 L572.95 175.01 L573.59 174.54 L574.22 174.09 L574.89 173.65 L575.57 173.20 L576.25 172.76 L576.92 172.31 L577.58 171.87 L578.20 171.43 L578.77 170.98 L579.28 170.53 L579.71 170.09 L580.08 169.65 L580.40 169.21 L580.67 168.77 L580.89 168.33 L581.08 167.89 L581.22 167.45 L581.33 167.01 L581.40 166.56 L581.44 166.10 L581.46 165.64 L581.40 165.14 L581.23 164.59 L581.00 164.01 L580.72 163.41 L580.42 162.83 L580.14 162.28 L579.89 161.77 L579.72 161.33 L579.65 160.98 L579.71 160.75 L579.90 160.62 L580.19 160.59 L580.57 160.65 L581.02 160.77 L581.51 160.94 L582.04 161.15 L582.58 161.39 L583.11 161.63 L583.62 161.86 L584.08 162.08 L584.54 162.30 L585.02 162.57 L585.53 162.87 L586.04 163.18 L586.54 163.50 L587.02 163.81 L587.46 164.10 L587.86 164.37 L588.19 164.59 L588.45 164.75 M566.60 176.32 L567.13 175.96 L567.83 175.49 L568.66 174.93 L569.59 174.29 L570.59 173.62 L571.61 172.93 L572.64 172.26 L573.62 171.61 L574.53 171.03 L575.34 170.53 L576.07 170.11 L576.76 169.71 L577.42 169.35 L578.06 169.01 L578.67 168.70 L579.26 168.41 L579.83 168.14 L580.39 167.89 L580.93 167.65 L581.46 167.42 L581.99 167.21 L582.51 167.02 L583.04 166.85 L583.54 166.69 L584.03 166.56 L584.48 166.44 L584.89 166.33 L585.26 166.24 L585.58 166.16 L585.83 166.08 M566.60 174.09 L567.02 173.94 L567.56 173.74 L568.21 173.50 L568.94 173.24 L569.71 172.95 L570.52 172.65 L571.34 172.34 L572.14 172.03 L572.90 171.72 L573.59 171.43 L574.25 171.14 L574.93 170.87 L575.60 170.61 L576.27 170.34 L576.92 170.06 L577.56 169.77 L578.16 169.45 L578.72 169.11 L579.24 168.73 L579.71 168.31 L580.13 167.83 L580.53 167.27 L580.89 166.67 L581.22 166.04 L581.51 165.39 L581.77 164.74 L581.98 164.12 L582.14 163.53 L582.26 162.99 L582.33 162.52 L582.31 162.11 L582.16 161.72 L581.94 161.35 L581.65 161.02 L581.35 160.72 L581.05 160.45 L580.80 160.23 L580.61 160.05 L580.53 159.93 L580.58 159.85 L580.77 159.85 L581.05 159.92 L581.42 160.05 L581.85 160.23 L582.33 160.44 L582.85 160.68 L583.39 160.93 L583.93 161.18 L584.45 161.42 L584.95 161.63 L585.47 161.85 L586.03 162.09 L586.63 162.34 L587.24 162.60 L587.85 162.86 L588.44 163.11 L588.98 163.34 L589.47 163.55 L589.88 163.73 L590.20 163.86" fill="none" stroke="#ff0000" stroke-width="0.75" stroke-linejoin="round" stroke-linecap="round"/>
<path d="M584.95 166.08 L585.27 166.31 L585.68 166.58 L586.17 166.89 L586.72 167.25 L587.30 167.64 L587.91 168.07 L588.52 168.53 L589.12 169.03 L589.69 169.55 L590.20 170.09 L590.68 170.66 L591.15 171.27 L591.61 171.91 L592.07 172.59 L592.52 173.29 L592.96 174.02 L593.38 174.78 L593.79 175.57 L594.19 176.38 L594.57 177.21 L594.93 178.10 L595.28 179.08 L595.62 180.12 L595.95 181.19 L596.26 182.27 L596.56 183.34 L596.85 184.37 L597.12 185.34 L597.38 186.23 L597.63 187.00 L597.86 187.72 L598.08 188.43 L598.29 189.12 L598.48 189.76 L598.66 190.34 L598.83 190.82 L598.99 191.20 L599.13 191.44 L599.26 191.53 L599.38 191.45 L599.46 191.16 L599.50 190.67 L599.51 190.02 L599.50 189.23 L599.48 188.33 L599.48 187.37 L599.50 186.37 L599.55 185.36 L599.65 184.37 L599.81 183.44 L600.02 182.52 L600.26 181.54 L600.53 180.52 L600.82 179.48 L601.15 178.43 L601.51 177.40 L601.91 176.38 L602.34 175.41 L602.80 174.49 L603.31 173.65 L603.86 172.86 L604.47 172.10 L605.12 171.37 L605.81 170.67 L606.53 170.01 L607.27 169.39 L608.03 168.82 L608.79 168.30 L609.55 167.83 L610.30 167.42 L611.05 167.07 L611.82 166.78 L612.60 166.55 L613.38 166.36 L614.18 166.22 L614.98 166.13 L615.78 166.07 L616.58 166.05 L617.38 166.05 L618.17 166.08 L618.96 166.14 L619.75 166.22 L620.55 166.34 L621.35 166.48 L622.15 166.67 L622.95 166.90 L623.74 167.17 L624.51 167.49 L625.28 167.87 L626.03 168.31 L626.77 168.82 L627.50 169.42 L628.22 170.09 L628.93 170.81 L629.64 171.56 L630.33 172.35 L631.02 173.14 L631.70 173.93 L632.36 174.70 L633.02 175.43 L633.68 176.15 L634.32 176.88 L634.95 177.61 L635.58 178.34 L636.19 179.07 L636.80 179.80 L637.40 180.51 L637.99 181.21 L638.57 181.89 L639.14 182.55 L639.73 183.21 L640.33 183.88 L640.94 184.57 L641.55 185.24 L642.15 185.89 L642.71 186.50 L643.23 187.07 L643.69 187.57 L644.08 188.00 L644.39 188.33 M586.70 165.19 L587.07 165.41 L587.53 165.66 L588.09 165.95 L588.71 166.27 L589.38 166.64 L590.08 167.05 L590.79 167.51 L591.50 168.02 L592.18 168.58 L592.82 169.20 L593.44 169.89 L594.07 170.67 L594.71 171.51 L595.35 172.41 L595.99 173.34 L596.62 174.31 L597.23 175.28 L597.83 176.24 L598.40 177.19 L598.94 178.10 L599.45 179.02 L599.95 179.99 L600.43 180.98 L600.90 181.98 L601.34 182.97 L601.77 183.92 L602.18 184.82 L602.57 185.65 L602.95 186.38 L603.31 187.00 L603.64 187.52 L603.96 187.99 L604.25 188.38 L604.52 188.71 L604.78 188.97 L605.03 189.17 L605.26 189.29 L605.49 189.34 L605.71 189.32 L605.93 189.22 L606.16 189.04 L606.39 188.75 L606.63 188.38 L606.86 187.93 L607.08 187.42 L607.27 186.85 L607.44 186.25 L607.57 185.62 L607.65 184.98 L607.68 184.33 L607.61 183.65 L607.44 182.91 L607.19 182.13 L606.89 181.31 L606.59 180.46 L606.29 179.61 L606.05 178.76 L605.89 177.91 L605.84 177.10 L605.93 176.32 L606.16 175.55 L606.49 174.75 L606.91 173.95 L607.40 173.15 L607.95 172.37 L608.55 171.62 L609.19 170.92 L609.85 170.27 L610.51 169.69 L611.17 169.20 L611.85 168.78 L612.57 168.42 L613.31 168.11 L614.09 167.85 L614.89 167.64 L615.70 167.49 L616.53 167.39 L617.37 167.35 L618.21 167.36 L619.04 167.42 L619.89 167.54 L620.76 167.73 L621.65 167.98 L622.56 168.29 L623.46 168.64 L624.37 169.04 L625.26 169.48 L626.13 169.95 L626.97 170.46 L627.78 170.98 L628.55 171.54 L629.29 172.16 L630.01 172.83 L630.70 173.53 L631.39 174.26 L632.06 175.02 L632.73 175.79 L633.40 176.56 L634.08 177.34 L634.77 178.10 L635.50 178.90 L636.28 179.77 L637.09 180.69 L637.90 181.62 L638.71 182.55 L639.47 183.44 L640.18 184.27 L640.81 185.01 L641.35 185.63 L641.76 186.11 M584.08 166.53 L584.51 166.77 L585.07 167.06 L585.75 167.40 L586.50 167.78 L587.30 168.20 L588.13 168.67 L588.95 169.18 L589.73 169.73 L590.45 170.33 L591.07 170.98 L591.63 171.69 L592.16 172.48 L592.67 173.32 L593.16 174.22 L593.61 175.15 L594.04 176.11 L594.44 177.07 L594.81 178.03 L595.14 178.97 L595.44 179.88 L595.70 180.80 L595.89 181.76 L596.05 182.75 L596.17 183.74 L596.26 184.72 L596.34 185.67 L596.42 186.57 L596.51 187.40 L596.62 188.14 L596.75 188.78 L596.92 189.36 L597.11 189.91 L597.31 190.43 L597.53 190.89 L597.74 191.28 L597.94 191.58 L598.12 191.76 L598.28 191.81 L598.41 191.72 L598.50 191.45 L598.53 190.97 L598.49 190.28 L598.41 189.40 L598.29 188.39 L598.17 187.28 L598.06 186.11 L597.97 184.92 L597.93 183.76 L597.96 182.66 L598.06 181.66 L598.24 180.72 L598.46 179.78 L598.71 178.84 L599.01 177.91 L599.35 176.99 L599.72 176.09 L600.13 175.21 L600.57 174.35 L601.05 173.54 L601.56 172.76 L602.11 172.01 L602.71 171.26 L603.35 170.54 L604.02 169.84 L604.73 169.17 L605.46 168.54 L606.22 167.96 L606.99 167.42 L607.77 166.94 L608.55 166.53 L609.35 166.18 L610.17 165.89 L611.02 165.66 L611.88 165.47 L612.76 165.33 L613.65 165.24 L614.55 165.18 L615.46 165.16 L616.37 165.16 L617.29 165.19 L618.23 165.25 L619.19 165.33 L620.17 165.45 L621.16 165.59 L622.15 165.78 L623.14 166.01 L624.12 166.28 L625.08 166.60 L626.01 166.98 L626.91 167.42 L627.78 167.93 L628.63 168.53 L629.48 169.20 L630.30 169.92 L631.11 170.67 L631.90 171.46 L632.66 172.25 L633.39 173.04 L634.10 173.81 L634.77 174.54 L635.41 175.28 L636.02 176.05 L636.59 176.84 L637.14 177.64 L637.67 178.43 L638.17 179.20 L638.65 179.92 L639.12 180.58 L639.57 181.16 L640.02 181.66 L640.45 182.06 L640.88 182.39 L641.30 182.64 L641.71 182.84 L642.09 183.00 L642.45 183.11 L642.78 183.21 L643.06 183.28 L643.31 183.36 L643.51 183.44 M585.83 165.64 L586.21 165.86 L586.71 166.13 L587.31 166.43 L587.98 166.78 L588.70 167.17 L589.43 167.59 L590.14 168.06 L590.82 168.55 L591.43 169.08 L591.95 169.64 L592.39 170.25 L592.80 170.89 L593.18 171.58 L593.54 172.31 L593.86 173.07 L594.15 173.85 L594.41 174.66 L594.64 175.50 L594.84 176.35 L595.00 177.21 L595.12 178.12 L595.17 179.11 L595.16 180.15 L595.12 181.22 L595.06 182.30 L594.99 183.36 L594.94 184.39 L594.91 185.35 L594.93 186.23 L595.00 187.00 L595.13 187.71 L595.30 188.39 L595.49 189.04 L595.70 189.63 L595.93 190.17 L596.18 190.63 L596.43 191.00 L596.69 191.27 L596.94 191.43 L597.19 191.45 L597.45 191.33 L597.73 191.08 L598.03 190.71 L598.33 190.23 L598.64 189.67 L598.93 189.04 L599.20 188.35 L599.45 187.62 L599.65 186.87 L599.81 186.11 L599.89 185.30 L599.87 184.38 L599.78 183.39 L599.67 182.34 L599.54 181.27 L599.43 180.19 L599.38 179.14 L599.41 178.12 L599.54 177.17 L599.81 176.32 L600.22 175.54 L600.73 174.80 L601.34 174.09 L602.02 173.42 L602.76 172.79 L603.55 172.19 L604.36 171.62 L605.18 171.08 L606.00 170.57 L606.80 170.09 L607.61 169.63 L608.44 169.20 L609.30 168.79 L610.17 168.41 L611.06 168.06 L611.96 167.75 L612.87 167.48 L613.77 167.26 L614.66 167.09 L615.54 166.97 L616.42 166.89 L617.29 166.84 L618.17 166.81 L619.04 166.83 L619.91 166.89 L620.79 167.02 L621.66 167.21 L622.54 167.49 L623.41 167.85 L624.28 168.31 L625.18 168.92 L626.12 169.69 L627.07 170.59 L628.03 171.58 L628.98 172.62 L629.91 173.67 L630.79 174.69 L631.61 175.65 L632.36 176.50 L633.02 177.21 L633.60 177.80 L634.11 178.32 L634.57 178.78 L634.97 179.19 L635.32 179.55 L635.63 179.86 L635.89 180.13 L636.13 180.37 L636.34 180.58 L636.52 180.77 M587.58 164.75 L587.95 164.95 L588.44 165.18 L589.02 165.44 L589.67 165.75 L590.36 166.08 L591.08 166.46 L591.79 166.87 L592.48 167.31 L593.13 167.79 L593.69 168.31 L594.22 168.86 L594.74 169.43 L595.24 170.04 L595.74 170.69 L596.21 171.37 L596.65 172.09 L597.07 172.85 L597.44 173.66 L597.78 174.52 L598.06 175.43 L598.29 176.43 L598.46 177.56 L598.58 178.77 L598.67 180.04 L598.72 181.33 L598.76 182.61 L598.79 183.85 L598.82 185.01 L598.87 186.08 L598.94 187.00 L599.02 187.84 L599.10 188.65 L599.17 189.42 L599.25 190.14 L599.32 190.78 L599.40 191.34 L599.49 191.78 L599.58 192.11 L599.69 192.30 L599.81 192.34 L599.95 192.20 L600.09 191.88 L600.24 191.41 L600.41 190.81 L600.58 190.12 L600.76 189.35 L600.94 188.54 L601.14 187.71 L601.35 186.89 L601.56 186.11 L601.76 185.32 L601.94 184.46 L602.12 183.55 L602.29 182.61 L602.49 181.66 L602.71 180.71 L602.98 179.77 L603.31 178.86 L603.70 178.00 L604.18 177.21 L604.75 176.45 L605.39 175.71 L606.10 174.98 L606.87 174.27 L607.68 173.59 L608.52 172.96 L609.39 172.37 L610.28 171.84 L611.17 171.37 L612.05 170.98 L612.95 170.65 L613.89 170.39 L614.86 170.18 L615.85 170.03 L616.86 169.92 L617.86 169.87 L618.85 169.86 L619.82 169.90 L620.76 169.97 L621.66 170.09 L622.52 170.25 L623.36 170.46 L624.18 170.72 L624.98 171.02 L625.76 171.37 L626.53 171.76 L627.29 172.18 L628.04 172.64 L628.78 173.13 L629.53 173.65 L630.27 174.22 L631.00 174.86 L631.72 175.55 L632.43 176.28 L633.13 177.04 L633.83 177.82 L634.51 178.59 L635.19 179.35 L635.86 180.08 L636.52 180.77 L637.19 181.46 L637.90 182.17 L638.61 182.90 L639.32 183.63 L640.02 184.33 L640.67 185.00 L641.28 185.62 L641.82 186.17 L642.28 186.63 L642.64 187.00" fill="none" stroke="#0000ff" stroke-width="0.75" stroke-linejoin="round" stroke-linecap="round"/>
<path d="M473.34 314.67 L473.15 314.15 L472.89 313.49 L472.57 312.73 L472.22 311.87 L471.86 310.93 L471.49 309.92 L471.15 308.85 L470.84 307.76 L470.59 306.64 L470.41 305.51 L470.30 304.32 L470.24 303.04 L470.22 301.67 L470.23 300.25 L470.27 298.81 L470.33 297.37 L470.41 295.96 L470.49 294.61 L470.58 293.33 L470.67 292.17 L470.74 291.09 L470.80 290.08 L470.85 289.11 L470.91 288.19 L470.99 287.31 L471.09 286.47 L471.24 285.67 L471.45 284.91 L471.72 284.17 L472.06 283.45 L472.48 282.76 L472.97 282.09 L473.51 281.46 L474.10 280.85 L474.74 280.29 L475.41 279.76 L476.13 279.27 L476.87 278.82 L477.63 278.43 L478.41 278.08 L479.21 277.78 L480.06 277.54 L480.94 277.34 L481.86 277.18 L482.80 277.07 L483.76 276.99 L484.75 276.95 L485.75 276.94 L486.76 276.96 L487.78 277.00 L488.83 277.06 L489.94 277.14 L491.08 277.24 L492.25 277.38 L493.43 277.55 L494.59 277.76 L495.73 278.01 L496.82 278.32 L497.85 278.68 L498.81 279.10 L499.68 279.59 L500.46 280.16 L501.18 280.79 L501.86 281.48 L502.51 282.21 L503.16 282.96 L503.82 283.73 L504.50 284.50 L505.23 285.27 L506.03 286.01 L506.91 286.73 L507.86 287.46 L508.86 288.20 L509.88 288.94 L510.92 289.69 L511.95 290.45 L512.95 291.22 L513.90 292.01 L514.78 292.81 L515.57 293.63 L516.29 294.49 L516.98 295.41 L517.62 296.36 L518.22 297.33 L518.78 298.30 L519.29 299.26 L519.76 300.19 L520.18 301.07 L520.55 301.89 L520.87 302.63 L521.15 303.29 L521.39 303.87 L521.58 304.40 L521.73 304.88 L521.83 305.33 L521.88 305.76 L521.87 306.18 L521.80 306.60 L521.67 307.04 L521.47 307.50 L521.16 308.00 L520.72 308.53 L520.17 309.08 L519.55 309.63 L518.90 310.16 L518.25 310.68 L517.62 311.15 L517.06 311.58 L516.59 311.94 L516.26 312.22 M474.78 313.88 L474.62 313.22 L474.40 312.36 L474.13 311.35 L473.84 310.21 L473.52 308.98 L473.21 307.70 L472.90 306.41 L472.62 305.12 L472.38 303.89 L472.18 302.73 L472.02 301.64 L471.88 300.54 L471.75 299.44 L471.63 298.35 L471.54 297.26 L471.47 296.18 L471.43 295.10 L471.41 294.04 L471.42 292.98 L471.46 291.93 L471.52 290.86 L471.59 289.76 L471.67 288.65 L471.78 287.53 L471.91 286.44 L472.09 285.38 L472.31 284.38 L472.58 283.44 L472.91 282.59 L473.31 281.84 L473.78 281.21 L474.31 280.68 L474.89 280.23 L475.52 279.85 L476.20 279.52 L476.93 279.23 L477.69 278.97 L478.49 278.71 L479.32 278.45 L480.17 278.16 L481.08 277.85 L482.04 277.54 L483.05 277.23 L484.10 276.94 L485.18 276.66 L486.28 276.41 L487.39 276.18 L488.50 276.00 L489.60 275.85 L490.68 275.76 L491.77 275.70 L492.88 275.65 L494.00 275.62 L495.13 275.61 L496.26 275.66 L497.38 275.75 L498.48 275.91 L499.55 276.14 L500.58 276.46 L501.57 276.88 L502.51 277.41 L503.40 278.08 L504.25 278.84 L505.08 279.69 L505.88 280.59 L506.68 281.52 L507.48 282.46 L508.29 283.39 L509.11 284.28 L509.97 285.11 L510.87 285.89 L511.81 286.65 L512.78 287.40 L513.76 288.14 L514.74 288.88 L515.70 289.62 L516.62 290.37 L517.49 291.14 L518.29 291.92 L519.01 292.72 L519.66 293.57 L520.26 294.47 L520.81 295.41 L521.32 296.37 L521.78 297.32 L522.19 298.25 L522.56 299.15 L522.89 299.99 L523.17 300.76 L523.41 301.44 L523.60 302.00 L523.74 302.47 L523.83 302.85 L523.88 303.18 L523.89 303.47 L523.85 303.75 L523.78 304.04 L523.67 304.36 L523.52 304.73 L523.35 305.18 L523.10 305.71 L522.76 306.33 L522.35 307.01 L521.90 307.71 L521.43 308.42 L520.95 309.12 L520.50 309.77 L520.10 310.35 L519.76 310.84 L519.52 311.21 M471.30 315.50 L471.15 314.94 L470.94 314.25 L470.68 313.44 L470.40 312.52 L470.10 311.53 L469.80 310.46 L469.51 309.35 L469.25 308.21 L469.03 307.07 L468.87 305.93 L468.75 304.74 L468.66 303.45 L468.59 302.10 L468.54 300.71 L468.52 299.29 L468.51 297.89 L468.53 296.52 L468.57 295.21 L468.64 294.00 L468.72 292.89 L468.82 291.90 L468.93 290.99 L469.06 290.15 L469.21 289.36 L469.38 288.62 L469.58 287.91 L469.82 287.23 L470.09 286.56 L470.39 285.89 L470.74 285.21 L471.12 284.52 L471.53 283.82 L471.95 283.13 L472.41 282.45 L472.91 281.80 L473.45 281.17 L474.04 280.58 L474.69 280.04 L475.39 279.55 L476.17 279.13 L477.02 278.76 L477.96 278.43 L478.98 278.13 L480.05 277.88 L481.16 277.68 L482.31 277.53 L483.47 277.43 L484.63 277.39 L485.78 277.41 L486.90 277.50 L488.02 277.67 L489.17 277.94 L490.33 278.28 L491.51 278.68 L492.69 279.13 L493.86 279.61 L495.00 280.12 L496.11 280.62 L497.18 281.12 L498.20 281.60 L499.18 282.06 L500.12 282.50 L501.03 282.95 L501.92 283.41 L502.78 283.88 L503.61 284.37 L504.41 284.90 L505.19 285.46 L505.95 286.06 L506.68 286.72 L507.38 287.45 L508.04 288.24 L508.66 289.09 L509.25 289.98 L509.82 290.89 L510.38 291.82 L510.93 292.74 L511.49 293.64 L512.06 294.50 L512.65 295.32 L513.26 296.09 L513.90 296.84 L514.56 297.57 L515.22 298.28 L515.87 298.98 L516.50 299.68 L517.11 300.37 L517.68 301.06 L518.20 301.76 L518.66 302.46 L519.10 303.19 L519.54 303.95 L519.96 304.72 L520.35 305.50 L520.70 306.27 L520.99 307.02 L521.20 307.74 L521.33 308.41 L521.36 309.03 L521.27 309.58 L521.02 310.07 L520.59 310.51 L520.02 310.91 L519.35 311.27 L518.63 311.60 L517.89 311.88 L517.19 312.14 L516.55 312.36 L516.03 312.56 L515.66 312.73 M475.41 317.58 L475.27 317.02 L475.09 316.32 L474.88 315.50 L474.64 314.58 L474.38 313.57 L474.11 312.49 L473.84 311.36 L473.58 310.20 L473.34 309.03 L473.12 307.86 L472.89 306.64 L472.64 305.32 L472.36 303.93 L472.09 302.49 L471.83 301.03 L471.60 299.57 L471.42 298.15 L471.30 296.79 L471.25 295.51 L471.30 294.34 L471.44 293.27 L471.65 292.26 L471.94 291.30 L472.28 290.39 L472.67 289.53 L473.11 288.72 L473.57 287.94 L474.05 287.19 L474.55 286.47 L475.04 285.77 L475.55 285.10 L476.07 284.46 L476.62 283.85 L477.20 283.28 L477.80 282.74 L478.42 282.23 L479.07 281.77 L479.74 281.34 L480.43 280.95 L481.16 280.59 L481.90 280.28 L482.68 280.00 L483.48 279.75 L484.31 279.55 L485.16 279.38 L486.04 279.25 L486.93 279.16 L487.84 279.11 L488.77 279.10 L489.71 279.13 L490.69 279.21 L491.72 279.34 L492.79 279.51 L493.88 279.72 L494.99 279.96 L496.08 280.25 L497.16 280.57 L498.19 280.93 L499.18 281.31 L500.10 281.73 L500.95 282.17 L501.73 282.65 L502.48 283.16 L503.18 283.70 L503.86 284.27 L504.53 284.89 L505.20 285.53 L505.88 286.22 L506.59 286.94 L507.33 287.70 L508.11 288.52 L508.93 289.41 L509.78 290.36 L510.63 291.36 L511.49 292.38 L512.33 293.41 L513.15 294.43 L513.92 295.43 L514.65 296.40 L515.31 297.32 L515.90 298.20 L516.45 299.10 L516.96 299.98 L517.44 300.85 L517.88 301.71 L518.29 302.53 L518.68 303.32 L519.04 304.06 L519.40 304.75 L519.74 305.39 L520.09 305.95 L520.45 306.44 L520.80 306.87 L521.14 307.26 L521.45 307.61 L521.72 307.95 L521.93 308.28 L522.06 308.62 L522.10 308.97 L522.04 309.36 L521.84 309.80 L521.49 310.27 L521.03 310.76 L520.49 311.26 L519.89 311.76 L519.29 312.23 L518.71 312.67 L518.19 313.06 L517.76 313.40 L517.46 313.65 M476.42 314.92 L476.34 314.26 L476.24 313.41 L476.13 312.41 L475.99 311.29 L475.85 310.08 L475.70 308.81 L475.54 307.50 L475.38 306.20 L475.22 304.93 L475.07 303.72 L474.90 302.52 L474.70 301.27 L474.48 299.98 L474.25 298.68 L474.03 297.38 L473.83 296.10 L473.66 294.86 L473.52 293.68 L473.44 292.57 L473.42 291.55 L473.45 290.63 L473.51 289.78 L473.60 288.99 L473.72 288.26 L473.88 287.57 L474.09 286.91 L474.34 286.28 L474.65 285.66 L475.03 285.04 L475.46 284.41 L475.97 283.77 L476.54 283.11 L477.17 282.45 L477.86 281.81 L478.59 281.19 L479.37 280.60 L480.19 280.07 L481.04 279.60 L481.92 279.20 L482.83 278.89 L483.78 278.67 L484.82 278.55 L485.92 278.51 L487.05 278.53 L488.21 278.60 L489.37 278.70 L490.52 278.81 L491.64 278.93 L492.70 279.04 L493.69 279.12 L494.61 279.17 L495.48 279.21 L496.31 279.24 L497.11 279.27 L497.89 279.31 L498.65 279.39 L499.42 279.49 L500.18 279.64 L500.97 279.85 L501.77 280.12 L502.61 280.46 L503.45 280.84 L504.31 281.27 L505.18 281.75 L506.04 282.26 L506.90 282.81 L507.74 283.39 L508.56 284.00 L509.35 284.63 L510.11 285.29 L510.84 285.98 L511.55 286.73 L512.24 287.51 L512.91 288.33 L513.56 289.17 L514.19 290.03 L514.82 290.89 L515.43 291.76 L516.03 292.61 L516.62 293.45 L517.20 294.29 L517.79 295.15 L518.37 296.02 L518.94 296.90 L519.49 297.77 L520.03 298.63 L520.53 299.48 L521.01 300.31 L521.45 301.11 L521.85 301.88 L522.23 302.63 L522.60 303.36 L522.95 304.09 L523.28 304.79 L523.57 305.48 L523.82 306.13 L524.02 306.77 L524.16 307.36 L524.23 307.93 L524.23 308.45 L524.12 308.94 L523.89 309.40 L523.57 309.83 L523.19 310.23 L522.77 310.60 L522.34 310.93 L521.92 311.23 L521.54 311.50 L521.23 311.73 L521.01 311.92 M472.73 315.12 L472.48 314.34 L472.15 313.33 L471.75 312.13 L471.31 310.79 L470.84 309.35 L470.37 307.85 L469.90 306.34 L469.48 304.85 L469.11 303.44 L468.81 302.15 L468.57 300.92 L468.33 299.69 L468.11 298.45 L467.92 297.24 L467.76 296.04 L467.64 294.87 L467.57 293.74 L467.55 292.65 L467.60 291.62 L467.71 290.66 L467.90 289.77 L468.17 288.96 L468.50 288.22 L468.89 287.52 L469.33 286.86 L469.80 286.21 L470.30 285.57 L470.81 284.91 L471.33 284.23 L471.85 283.50 L472.37 282.70 L472.89 281.85 L473.43 280.95 L473.98 280.04 L474.56 279.13 L475.17 278.25 L475.82 277.43 L476.51 276.69 L477.25 276.04 L478.05 275.51 L478.92 275.10 L479.87 274.77 L480.87 274.51 L481.93 274.33 L483.01 274.21 L484.12 274.15 L485.23 274.14 L486.34 274.18 L487.43 274.26 L488.48 274.37 L489.52 274.53 L490.56 274.75 L491.61 275.03 L492.65 275.36 L493.69 275.73 L494.72 276.15 L495.75 276.59 L496.77 277.06 L497.77 277.55 L498.76 278.06 L499.73 278.59 L500.70 279.16 L501.65 279.77 L502.60 280.40 L503.54 281.06 L504.46 281.74 L505.38 282.44 L506.29 283.15 L507.19 283.87 L508.09 284.59 L508.99 285.32 L509.91 286.08 L510.84 286.86 L511.76 287.66 L512.67 288.47 L513.55 289.28 L514.39 290.09 L515.18 290.89 L515.90 291.68 L516.55 292.45 L517.12 293.20 L517.61 293.95 L518.05 294.69 L518.43 295.43 L518.77 296.16 L519.08 296.89 L519.37 297.60 L519.65 298.31 L519.93 299.01 L520.21 299.70 L520.53 300.38 L520.87 301.07 L521.21 301.76 L521.55 302.43 L521.86 303.10 L522.13 303.75 L522.34 304.38 L522.48 304.98 L522.53 305.55 L522.48 306.09 L522.29 306.60 L521.95 307.10 L521.49 307.58 L520.96 308.04 L520.39 308.47 L519.80 308.87 L519.23 309.23 L518.72 309.55 L518.30 309.83 L518.01 310.05" fill="none" stroke="#ff0000" stroke-width="0.75" stroke-linejoin="round" stroke-linecap="round"/>
<path d="M458.16 310.76 L458.41 310.64 L458.74 310.45 L459.12 310.22 L459.55 309.96 L460.01 309.70 L460.50 309.46 L461.01 309.24 L461.52 309.08 L462.03 308.99 L462.52 308.98 L463.01 309.10 L463.51 309.33 L464.03 309.65 L464.55 310.03 L465.09 310.43 L465.62 310.82 L466.16 311.17 L466.70 311.45 L467.23 311.62 L467.76 311.66 L468.28 311.54 L468.78 311.30 L469.28 310.96 L469.77 310.55 L470.27 310.09 L470.78 309.62 L471.30 309.16 L471.84 308.73 L472.40 308.36 L473.00 308.09 L473.64 307.87 L474.34 307.65 L475.07 307.46 L475.83 307.28 L476.60 307.14 L477.36 307.04 L478.09 306.99 L478.78 306.99 L479.42 307.06 L479.98 307.20 L480.51 307.42 L481.04 307.73 L481.56 308.11 L482.05 308.55 L482.49 309.04 L482.87 309.55 L483.18 310.08 L483.39 310.62 L483.49 311.15 L483.47 311.66 L483.32 312.18 L483.04 312.74 L482.65 313.34 L482.17 313.95 L481.62 314.56 L481.00 315.15 L480.34 315.70 L479.65 316.21 L478.94 316.65 L478.24 317.01 L477.50 317.27 L476.69 317.46 L475.82 317.58 L474.91 317.64 L473.98 317.68 L473.04 317.69 L472.11 317.71 L471.20 317.74 L470.32 317.79 L469.51 317.90 L468.72 318.06 L467.94 318.26 L467.17 318.48 L466.42 318.72 L465.69 318.96 L464.98 319.18 L464.31 319.38 L463.67 319.54 L463.07 319.65 L462.52 319.68 L462.02 319.64 L461.54 319.53 L461.11 319.35 L460.71 319.14 L460.34 318.90 L460.01 318.66 L459.71 318.42 L459.45 318.20 L459.22 318.02 L459.03 317.90 M459.03 313.44 L459.40 313.26 L459.88 313.00 L460.44 312.69 L461.08 312.35 L461.76 311.99 L462.47 311.64 L463.18 311.32 L463.88 311.06 L464.54 310.86 L465.14 310.76 L465.70 310.79 L466.24 310.92 L466.78 311.14 L467.30 311.41 L467.81 311.71 L468.33 312.01 L468.84 312.27 L469.35 312.46 L469.86 312.57 L470.38 312.55 L470.90 312.39 L471.41 312.12 L471.92 311.76 L472.43 311.33 L472.94 310.88 L473.46 310.41 L473.98 309.96 L474.51 309.55 L475.06 309.22 L475.62 308.98 L476.22 308.81 L476.87 308.67 L477.55 308.55 L478.25 308.47 L478.95 308.42 L479.62 308.42 L480.25 308.47 L480.83 308.58 L481.33 308.75 L481.73 308.98 L482.06 309.30 L482.35 309.72 L482.59 310.22 L482.79 310.78 L482.93 311.38 L483.01 312.00 L483.02 312.62 L482.96 313.23 L482.82 313.81 L482.60 314.33 L482.28 314.85 L481.87 315.40 L481.36 315.96 L480.79 316.52 L480.15 317.06 L479.46 317.56 L478.74 318.01 L477.99 318.37 L477.24 318.64 L476.49 318.79 L475.71 318.80 L474.87 318.66 L473.98 318.40 L473.06 318.06 L472.12 317.68 L471.19 317.27 L470.27 316.88 L469.38 316.54 L468.54 316.27 L467.76 316.12 L467.02 316.06 L466.27 316.08 L465.54 316.15 L464.83 316.26 L464.16 316.39 L463.53 316.54 L462.95 316.69 L462.44 316.83 L462.00 316.94 L461.65 317.01 M457.28 308.98 L457.65 308.85 L458.13 308.67 L458.70 308.44 L459.33 308.18 L460.01 307.92 L460.72 307.67 L461.43 307.46 L462.13 307.30 L462.79 307.20 L463.40 307.20 L463.95 307.31 L464.48 307.55 L465.00 307.87 L465.51 308.24 L466.01 308.65 L466.52 309.04 L467.02 309.39 L467.54 309.67 L468.08 309.84 L468.63 309.87 L469.21 309.76 L469.80 309.52 L470.40 309.18 L471.01 308.77 L471.63 308.31 L472.26 307.84 L472.88 307.37 L473.51 306.95 L474.13 306.58 L474.74 306.30 L475.37 306.08 L476.01 305.87 L476.66 305.67 L477.31 305.50 L477.96 305.36 L478.60 305.26 L479.21 305.20 L479.80 305.21 L480.35 305.27 L480.86 305.41 L481.35 305.64 L481.85 305.95 L482.34 306.33 L482.82 306.77 L483.26 307.25 L483.64 307.77 L483.96 308.30 L484.19 308.84 L484.33 309.37 L484.35 309.87 L484.25 310.40 L484.05 310.97 L483.75 311.58 L483.38 312.21 L482.93 312.83 L482.42 313.43 L481.86 313.98 L481.26 314.48 L480.63 314.90 L479.98 315.22 L479.27 315.45 L478.47 315.60 L477.60 315.67 L476.68 315.69 L475.73 315.67 L474.76 315.61 L473.82 315.52 L472.90 315.42 L472.04 315.32 L471.25 315.22 L470.51 315.11 L469.76 314.95 L469.03 314.76 L468.33 314.55 L467.65 314.33 L467.02 314.11 L466.44 313.90 L465.93 313.71 L465.49 313.55 L465.14 313.44 M459.90 315.22 L460.27 315.10 L460.75 314.92 L461.31 314.71 L461.95 314.47 L462.63 314.22 L463.34 313.98 L464.05 313.77 L464.75 313.60 L465.41 313.48 L466.01 313.44 L466.57 313.50 L467.12 313.65 L467.65 313.88 L468.17 314.15 L468.69 314.44 L469.20 314.72 L469.71 314.97 L470.22 315.15 L470.73 315.25 L471.25 315.22 L471.78 315.07 L472.31 314.80 L472.85 314.43 L473.39 314.01 L473.93 313.55 L474.46 313.08 L474.98 312.63 L475.50 312.23 L476.00 311.89 L476.49 311.66 L476.99 311.48 L477.50 311.33 L478.03 311.20 L478.55 311.10 L479.05 311.04 L479.53 311.04 L479.96 311.08 L480.33 311.20 L480.63 311.39 L480.86 311.66 L481.01 312.04 L481.11 312.56 L481.17 313.18 L481.18 313.88 L481.13 314.61 L481.02 315.36 L480.86 316.09 L480.63 316.78 L480.34 317.39 L479.98 317.90 L479.53 318.33 L478.98 318.73 L478.34 319.11 L477.63 319.44 L476.87 319.74 L476.08 320.00 L475.29 320.21 L474.49 320.38 L473.72 320.51 L473.00 320.58 L472.27 320.57 L471.49 320.48 L470.68 320.31 L469.87 320.10 L469.07 319.85 L468.30 319.59 L467.60 319.34 L466.96 319.11 L466.43 318.92 L466.01 318.79 M462.52 308.09 L462.83 308.01 L463.23 307.90 L463.71 307.75 L464.24 307.58 L464.81 307.42 L465.41 307.27 L466.02 307.16 L466.63 307.10 L467.21 307.11 L467.76 307.20 L468.28 307.41 L468.81 307.75 L469.33 308.19 L469.86 308.69 L470.38 309.20 L470.90 309.70 L471.43 310.14 L471.95 310.49 L472.47 310.71 L473.00 310.76 L473.53 310.62 L474.06 310.29 L474.60 309.82 L475.14 309.26 L475.67 308.65 L476.20 308.02 L476.73 307.44 L477.24 306.92 L477.75 306.53 L478.24 306.30 L478.73 306.21 L479.25 306.20 L479.77 306.27 L480.30 306.40 L480.80 306.58 L481.27 306.82 L481.70 307.09 L482.08 307.40 L482.38 307.74 L482.60 308.09 L482.75 308.49 L482.86 308.97 L482.92 309.52 L482.92 310.10 L482.87 310.71 L482.77 311.32 L482.60 311.92 L482.38 312.48 L482.09 313.00 L481.73 313.44 L481.28 313.84 L480.72 314.23 L480.08 314.61 L479.37 314.96 L478.62 315.28 L477.83 315.56 L477.03 315.79 L476.24 315.97 L475.47 316.08 L474.74 316.12 L474.06 316.02 L473.39 315.75 L472.73 315.37 L472.08 314.92 L471.42 314.44 L470.74 314.00 L470.05 313.62 L469.32 313.38 L468.56 313.30 L467.76 313.44 L466.86 313.85 L465.85 314.49 L464.77 315.31 L463.65 316.27 L462.52 317.29 L461.43 318.32 L460.41 319.31 L459.50 320.20 L458.74 320.94 L458.16 321.47" fill="none" stroke="#0000ff" stroke-width="0.75" stroke-linejoin="round" stroke-linecap="round"/>
<path d="M589.46 309.24 L589.28 309.05 L589.03 308.87 L588.75 308.67 L588.42 308.44 L588.08 308.15 L587.72 307.81 L587.36 307.37 L587.01 306.84 L586.69 306.19 L586.40 305.41 L586.11 304.46 L585.80 303.33 L585.49 302.06 L585.17 300.69 L584.88 299.25 L584.61 297.76 L584.38 296.28 L584.20 294.83 L584.09 293.44 L584.06 292.16 L584.12 290.91 L584.27 289.64 L584.48 288.36 L584.75 287.10 L585.05 285.87 L585.38 284.70 L585.72 283.60 L586.06 282.60 L586.37 281.72 L586.65 280.98 L586.89 280.36 L587.09 279.85 L587.26 279.43 L587.44 279.10 L587.62 278.86 L587.83 278.70 L588.07 278.63 L588.38 278.63 L588.75 278.72 L589.20 278.87 L589.74 279.12 L590.36 279.48 L591.04 279.94 L591.77 280.49 L592.55 281.11 L593.35 281.78 L594.18 282.50 L595.02 283.23 L595.86 283.98 L596.69 284.73 L597.52 285.50 L598.38 286.34 L599.25 287.23 L600.14 288.16 L601.04 289.10 L601.95 290.05 L602.86 290.99 L603.78 291.91 L604.70 292.78 L605.62 293.60 L606.56 294.38 L607.51 295.14 L608.49 295.88 L609.47 296.60 L610.45 297.31 L611.42 297.98 L612.38 298.64 L613.31 299.27 L614.20 299.87 L615.05 300.45 L615.86 301.01 L616.62 301.55 L617.34 302.08 L618.04 302.58 L618.72 303.06 L619.39 303.50 L620.07 303.91 L620.75 304.27 L621.46 304.57 L622.20 304.83 L622.97 305.04 L623.76 305.23 L624.58 305.38 L625.40 305.50 L626.23 305.56 L627.05 305.57 L627.87 305.52 L628.66 305.40 L629.44 305.20 L630.18 304.92 L630.91 304.53 L631.65 304.03 L632.38 303.44 L633.09 302.78 L633.79 302.06 L634.46 301.31 L635.10 300.53 L635.70 299.76 L636.25 299.00 L636.75 298.29 L637.21 297.60 L637.62 296.92 L638.01 296.24 L638.35 295.56 L638.66 294.86 L638.93 294.15 L639.16 293.42 L639.34 292.67 L639.48 291.88 L639.58 291.05 L639.61 290.15 L639.56 289.19 L639.45 288.17 L639.28 287.12 L639.09 286.06 L638.89 285.01 L638.68 283.98 L638.50 283.01 L638.36 282.10 L638.27 281.28 L638.22 280.54 L638.20 279.82 L638.20 279.14 L638.22 278.51 L638.25 277.92 L638.28 277.37 L638.32 276.88 L638.35 276.45 L638.38 276.08 L638.39 275.77 M591.55 311.52 L591.36 311.29 L591.10 311.05 L590.81 310.79 L590.47 310.48 L590.11 310.12 L589.74 309.69 L589.36 309.19 L588.99 308.60 L588.64 307.91 L588.32 307.11 L587.99 306.15 L587.63 305.02 L587.26 303.77 L586.88 302.41 L586.52 301.00 L586.18 299.56 L585.90 298.12 L585.67 296.74 L585.52 295.43 L585.46 294.24 L585.50 293.13 L585.65 292.05 L585.87 291.00 L586.15 289.98 L586.48 288.99 L586.83 288.04 L587.19 287.13 L587.55 286.27 L587.88 285.45 L588.16 284.68 L588.40 283.92 L588.61 283.14 L588.80 282.36 L588.98 281.62 L589.17 280.93 L589.38 280.34 L589.62 279.85 L589.91 279.51 L590.26 279.33 L590.68 279.34 L591.16 279.58 L591.69 280.04 L592.26 280.68 L592.87 281.47 L593.53 282.36 L594.22 283.31 L594.95 284.30 L595.72 285.27 L596.52 286.20 L597.35 287.04 L598.24 287.83 L599.20 288.64 L600.21 289.45 L601.26 290.27 L602.34 291.09 L603.43 291.91 L604.52 292.72 L605.59 293.52 L606.63 294.30 L607.63 295.07 L608.59 295.82 L609.54 296.58 L610.49 297.33 L611.42 298.07 L612.33 298.80 L613.24 299.52 L614.12 300.21 L614.99 300.89 L615.84 301.53 L616.67 302.15 L617.48 302.77 L618.25 303.40 L619.01 304.02 L619.75 304.64 L620.47 305.22 L621.18 305.75 L621.89 306.22 L622.59 306.62 L623.29 306.92 L624.00 307.11 L624.70 307.18 L625.39 307.15 L626.07 307.01 L626.75 306.80 L627.42 306.53 L628.09 306.21 L628.78 305.87 L629.47 305.51 L630.17 305.16 L630.89 304.84 L631.65 304.53 L632.46 304.23 L633.30 303.93 L634.15 303.61 L635.00 303.27 L635.83 302.89 L636.62 302.48 L637.36 302.03 L638.04 301.51 L638.62 300.94 L639.13 300.29 L639.59 299.56 L640.00 298.77 L640.36 297.93 L640.67 297.06 L640.95 296.16 L641.18 295.25 L641.37 294.35 L641.54 293.47 L641.67 292.62 L641.75 291.76 L641.78 290.88 L641.75 289.97 L641.69 289.06 L641.59 288.16 L641.47 287.28 L641.34 286.44 L641.20 285.65 L641.07 284.93 L640.94 284.28 L640.81 283.70 L640.65 283.17 L640.47 282.69 L640.29 282.26 L640.09 281.87 L639.91 281.52 L639.73 281.21 L639.57 280.94 L639.44 280.71 L639.34 280.50 M588.61 313.15 L588.36 312.87 L588.02 312.55 L587.62 312.18 L587.17 311.76 L586.69 311.28 L586.21 310.75 L585.74 310.15 L585.31 309.49 L584.93 308.75 L584.63 307.95 L584.38 307.03 L584.17 305.99 L583.98 304.84 L583.83 303.63 L583.70 302.36 L583.60 301.08 L583.52 299.80 L583.47 298.55 L583.44 297.36 L583.44 296.25 L583.46 295.19 L583.52 294.13 L583.61 293.08 L583.72 292.05 L583.86 291.05 L584.02 290.09 L584.19 289.17 L584.38 288.32 L584.58 287.53 L584.78 286.81 L584.99 286.15 L585.19 285.51 L585.39 284.91 L585.60 284.37 L585.84 283.88 L586.10 283.47 L586.41 283.15 L586.75 282.92 L587.15 282.81 L587.62 282.82 L588.14 282.96 L588.71 283.24 L589.32 283.64 L589.99 284.13 L590.69 284.71 L591.42 285.36 L592.20 286.06 L593.01 286.79 L593.84 287.53 L594.70 288.28 L595.62 289.08 L596.62 289.97 L597.67 290.92 L598.76 291.92 L599.87 292.95 L600.99 293.98 L602.09 294.99 L603.16 295.96 L604.18 296.86 L605.13 297.68 L606.00 298.43 L606.83 299.13 L607.62 299.78 L608.38 300.40 L609.12 300.99 L609.85 301.56 L610.58 302.11 L611.32 302.65 L612.08 303.19 L612.88 303.74 L613.70 304.30 L614.54 304.89 L615.40 305.48 L616.27 306.07 L617.14 306.64 L618.01 307.17 L618.87 307.65 L619.72 308.06 L620.56 308.39 L621.38 308.62 L622.17 308.77 L622.94 308.84 L623.69 308.84 L624.43 308.78 L625.17 308.66 L625.90 308.49 L626.65 308.26 L627.41 307.99 L628.19 307.67 L628.99 307.32 L629.86 306.91 L630.80 306.43 L631.78 305.90 L632.79 305.31 L633.79 304.68 L634.76 304.01 L635.67 303.32 L636.50 302.61 L637.22 301.90 L637.80 301.18 L638.26 300.45 L638.61 299.68 L638.88 298.89 L639.06 298.07 L639.18 297.24 L639.25 296.40 L639.27 295.55 L639.26 294.71 L639.24 293.87 L639.21 293.05 L639.14 292.23 L639.01 291.39 L638.82 290.53 L638.60 289.68 L638.35 288.83 L638.09 288.00 L637.83 287.18 L637.58 286.39 L637.37 285.64 L637.19 284.93 L637.05 284.24 L636.91 283.56 L636.79 282.89 L636.67 282.24 L636.57 281.62 L636.47 281.04 L636.39 280.51 L636.31 280.04 L636.25 279.64 L636.19 279.32 M592.01 306.43 L591.62 306.31 L591.07 306.21 L590.42 306.11 L589.69 306.00 L588.92 305.84 L588.16 305.61 L587.45 305.31 L586.82 304.90 L586.32 304.37 L585.98 303.69 L585.80 302.83 L585.75 301.79 L585.80 300.60 L585.93 299.31 L586.11 297.94 L586.33 296.53 L586.57 295.13 L586.79 293.76 L586.99 292.46 L587.13 291.27 L587.22 290.14 L587.30 289.01 L587.36 287.89 L587.42 286.79 L587.49 285.72 L587.56 284.68 L587.65 283.71 L587.77 282.79 L587.93 281.94 L588.12 281.18 L588.35 280.47 L588.59 279.79 L588.85 279.15 L589.13 278.56 L589.44 278.04 L589.78 277.60 L590.15 277.26 L590.55 277.02 L591.00 276.91 L591.48 276.93 L592.02 277.10 L592.61 277.41 L593.24 277.84 L593.91 278.39 L594.61 279.02 L595.34 279.74 L596.07 280.51 L596.81 281.33 L597.55 282.19 L598.28 283.05 L599.01 284.00 L599.73 285.06 L600.47 286.23 L601.21 287.45 L601.96 288.71 L602.73 289.96 L603.50 291.18 L604.29 292.33 L605.10 293.39 L605.92 294.32 L606.76 295.12 L607.62 295.84 L608.50 296.49 L609.39 297.08 L610.29 297.62 L611.21 298.13 L612.13 298.62 L613.06 299.10 L613.99 299.59 L614.93 300.10 L615.89 300.65 L616.89 301.22 L617.91 301.80 L618.94 302.38 L619.97 302.94 L620.99 303.45 L621.98 303.91 L622.93 304.30 L623.83 304.60 L624.66 304.79 L625.42 304.87 L626.11 304.85 L626.74 304.76 L627.33 304.60 L627.89 304.38 L628.45 304.10 L629.02 303.78 L629.61 303.44 L630.23 303.07 L630.92 302.69 L631.68 302.29 L632.52 301.84 L633.41 301.36 L634.33 300.84 L635.25 300.29 L636.15 299.72 L637.00 299.11 L637.77 298.48 L638.45 297.83 L639.01 297.17 L639.45 296.48 L639.79 295.75 L640.05 294.99 L640.23 294.21 L640.37 293.40 L640.46 292.58 L640.53 291.75 L640.58 290.91 L640.64 290.07 L640.71 289.24 L640.79 288.39 L640.86 287.51 L640.91 286.61 L640.95 285.70 L640.97 284.79 L640.97 283.89 L640.94 283.01 L640.89 282.16 L640.82 281.35 L640.71 280.60 L640.56 279.87 L640.34 279.15 L640.09 278.44 L639.81 277.76 L639.51 277.11 L639.21 276.51 L638.93 275.96 L638.67 275.47 L638.46 275.05 L638.31 274.71 M592.45 313.57 L592.13 313.30 L591.68 312.99 L591.13 312.65 L590.52 312.25 L589.88 311.80 L589.25 311.29 L588.66 310.71 L588.14 310.06 L587.72 309.34 L587.45 308.53 L587.31 307.60 L587.30 306.53 L587.38 305.36 L587.53 304.11 L587.72 302.81 L587.93 301.49 L588.14 300.17 L588.33 298.88 L588.46 297.65 L588.52 296.50 L588.50 295.40 L588.41 294.28 L588.27 293.16 L588.12 292.06 L587.95 290.99 L587.80 289.97 L587.69 289.01 L587.63 288.14 L587.64 287.35 L587.75 286.68 L587.94 286.10 L588.19 285.60 L588.49 285.16 L588.84 284.79 L589.23 284.50 L589.67 284.29 L590.14 284.16 L590.65 284.11 L591.18 284.15 L591.74 284.27 L592.34 284.50 L592.99 284.85 L593.69 285.30 L594.43 285.84 L595.20 286.45 L595.98 287.12 L596.78 287.82 L597.57 288.55 L598.35 289.29 L599.12 290.03 L599.87 290.79 L600.61 291.63 L601.35 292.52 L602.09 293.44 L602.84 294.38 L603.60 295.33 L604.36 296.25 L605.14 297.15 L605.94 298.00 L606.76 298.78 L607.60 299.50 L608.47 300.19 L609.35 300.85 L610.24 301.48 L611.15 302.09 L612.06 302.68 L612.98 303.24 L613.90 303.80 L614.83 304.33 L615.75 304.86 L616.68 305.39 L617.63 305.94 L618.59 306.47 L619.56 307.00 L620.53 307.50 L621.49 307.97 L622.44 308.39 L623.36 308.75 L624.26 309.05 L625.12 309.27 L625.94 309.42 L626.74 309.50 L627.52 309.54 L628.28 309.51 L629.02 309.44 L629.75 309.32 L630.45 309.16 L631.14 308.95 L631.82 308.69 L632.49 308.41 L633.14 308.07 L633.77 307.69 L634.39 307.26 L634.99 306.79 L635.58 306.27 L636.15 305.72 L636.71 305.12 L637.25 304.49 L637.79 303.83 L638.31 303.14 L638.84 302.39 L639.39 301.58 L639.94 300.71 L640.48 299.80 L641.00 298.86 L641.49 297.91 L641.93 296.96 L642.30 296.02 L642.61 295.11 L642.82 294.25 L642.94 293.39 L642.96 292.53 L642.90 291.66 L642.79 290.80 L642.62 289.96 L642.43 289.13 L642.22 288.35 L642.01 287.60 L641.81 286.91 L641.64 286.27 L641.48 285.69 L641.30 285.14 L641.10 284.64 L640.90 284.17 L640.69 283.74 L640.49 283.35 L640.30 283.00 L640.13 282.70 L639.99 282.43 L639.88 282.21 M588.98 310.18 L588.82 310.03 L588.60 309.89 L588.35 309.74 L588.06 309.56 L587.76 309.34 L587.44 309.06 L587.12 308.70 L586.81 308.24 L586.52 307.67 L586.26 306.98 L586.00 306.12 L585.73 305.10 L585.45 303.96 L585.17 302.71 L584.91 301.40 L584.66 300.04 L584.45 298.68 L584.27 297.33 L584.14 296.03 L584.07 294.80 L584.06 293.59 L584.10 292.34 L584.19 291.06 L584.31 289.78 L584.47 288.53 L584.64 287.32 L584.84 286.19 L585.04 285.14 L585.25 284.22 L585.45 283.44 L585.63 282.78 L585.80 282.22 L585.95 281.76 L586.11 281.38 L586.29 281.09 L586.51 280.87 L586.78 280.73 L587.11 280.66 L587.51 280.64 L588.01 280.69 L588.61 280.81 L589.31 281.01 L590.09 281.28 L590.94 281.63 L591.83 282.04 L592.75 282.52 L593.68 283.05 L594.60 283.63 L595.50 284.25 L596.36 284.92 L597.18 285.65 L598.00 286.48 L598.81 287.38 L599.63 288.34 L600.44 289.33 L601.25 290.36 L602.07 291.38 L602.89 292.40 L603.72 293.39 L604.56 294.34 L605.40 295.27 L606.25 296.22 L607.09 297.18 L607.94 298.14 L608.80 299.09 L609.66 300.01 L610.53 300.90 L611.41 301.74 L612.29 302.52 L613.18 303.23 L614.09 303.89 L615.04 304.53 L615.99 305.14 L616.96 305.71 L617.93 306.23 L618.89 306.69 L619.84 307.08 L620.76 307.39 L621.64 307.61 L622.48 307.74 L623.28 307.74 L624.03 307.62 L624.74 307.40 L625.44 307.10 L626.11 306.73 L626.78 306.32 L627.44 305.89 L628.11 305.45 L628.79 305.02 L629.49 304.62 L630.23 304.25 L631.01 303.89 L631.81 303.53 L632.62 303.16 L633.42 302.78 L634.20 302.36 L634.95 301.91 L635.64 301.42 L636.25 300.87 L636.79 300.26 L637.24 299.58 L637.63 298.84 L637.96 298.04 L638.23 297.20 L638.47 296.33 L638.66 295.42 L638.83 294.51 L638.98 293.58 L639.12 292.66 L639.25 291.76 L639.37 290.82 L639.47 289.83 L639.55 288.80 L639.60 287.75 L639.64 286.71 L639.64 285.69 L639.62 284.72 L639.58 283.82 L639.50 283.02 L639.40 282.33 L639.24 281.75 L639.01 281.26 L638.74 280.84 L638.44 280.49 L638.12 280.20 L637.80 279.95 L637.49 279.75 L637.22 279.56 L636.99 279.40 L636.82 279.25" fill="none" stroke="#ff0000" stroke-width="0.75" stroke-linejoin="round" stroke-linecap="round"/>
<path d="M574.47 309.87 L574.88 309.61 L575.42 309.27 L576.05 308.86 L576.76 308.41 L577.52 307.92 L578.33 307.41 L579.14 306.89 L579.95 306.38 L580.73 305.88 L581.46 305.41 L582.16 304.96 L582.87 304.51 L583.58 304.05 L584.30 303.59 L585.01 303.13 L585.72 302.67 L586.42 302.22 L587.11 301.79 L587.79 301.36 L588.45 300.95 L589.11 300.55 L589.76 300.14 L590.40 299.73 L591.04 299.33 L591.67 298.94 L592.29 298.58 L592.89 298.23 L593.47 297.91 L594.03 297.63 L594.57 297.38 L595.10 297.16 L595.65 296.95 L596.20 296.75 L596.74 296.58 L597.24 296.44 L597.71 296.34 L598.13 296.28 L598.48 296.29 L598.76 296.35 L598.94 296.49 L599.02 296.71 L599.01 297.01 L598.92 297.38 L598.76 297.81 L598.56 298.28 L598.31 298.78 L598.04 299.31 L597.75 299.86 L597.46 300.41 L597.19 300.95 L596.90 301.53 L596.55 302.19 L596.16 302.89 L595.75 303.62 L595.33 304.35 L594.92 305.06 L594.54 305.73 L594.20 306.32 L593.91 306.82 L593.69 307.20 M575.34 311.66 L575.76 311.39 L576.29 311.05 L576.92 310.65 L577.63 310.19 L578.40 309.70 L579.20 309.19 L580.01 308.67 L580.82 308.16 L581.60 307.66 L582.33 307.20 L583.04 306.75 L583.74 306.29 L584.46 305.83 L585.17 305.37 L585.88 304.91 L586.59 304.46 L587.29 304.01 L587.98 303.57 L588.66 303.15 L589.32 302.74 L589.98 302.33 L590.65 301.92 L591.32 301.52 L591.98 301.12 L592.63 300.73 L593.26 300.36 L593.86 300.01 L594.43 299.70 L594.96 299.41 L595.44 299.17 L595.90 298.94 L596.35 298.72 L596.78 298.51 L597.18 298.32 L597.55 298.16 L597.86 298.05 L598.13 298.00 L598.33 298.01 L598.46 298.10 L598.50 298.28 L598.45 298.55 L598.30 298.93 L598.07 299.39 L597.78 299.92 L597.44 300.51 L597.05 301.12 L596.65 301.76 L596.24 302.40 L595.83 303.03 L595.44 303.63 L595.04 304.24 L594.58 304.92 L594.09 305.63 L593.58 306.36 L593.07 307.08 L592.57 307.78 L592.10 308.43 L591.69 309.01 L591.34 309.50 L591.07 309.87 M576.21 308.09 L576.63 307.82 L577.16 307.47 L577.80 307.05 L578.51 306.58 L579.27 306.08 L580.07 305.56 L580.89 305.04 L581.70 304.53 L582.48 304.06 L583.21 303.63 L583.91 303.24 L584.62 302.87 L585.33 302.52 L586.04 302.18 L586.76 301.84 L587.46 301.51 L588.16 301.17 L588.86 300.82 L589.53 300.45 L590.20 300.06 L590.86 299.63 L591.53 299.16 L592.21 298.66 L592.88 298.15 L593.53 297.63 L594.16 297.14 L594.77 296.67 L595.33 296.25 L595.85 295.89 L596.32 295.60 L596.74 295.37 L597.15 295.18 L597.52 295.03 L597.87 294.92 L598.17 294.85 L598.43 294.82 L598.65 294.83 L598.81 294.89 L598.90 295.00 L598.94 295.15 L598.89 295.37 L598.76 295.66 L598.56 296.02 L598.31 296.42 L598.01 296.85 L597.68 297.32 L597.33 297.79 L596.98 298.27 L596.64 298.73 L596.32 299.17 L595.99 299.62 L595.62 300.10 L595.22 300.61 L594.81 301.13 L594.40 301.65 L594.01 302.14 L593.64 302.60 L593.31 303.01 L593.03 303.36 L592.82 303.63 M577.96 310.76 L578.38 310.49 L578.93 310.13 L579.57 309.70 L580.30 309.22 L581.08 308.70 L581.88 308.17 L582.70 307.65 L583.50 307.15 L584.26 306.70 L584.95 306.30 L585.60 305.97 L586.23 305.69 L586.85 305.44 L587.46 305.21 L588.07 304.99 L588.67 304.77 L589.26 304.54 L589.86 304.28 L590.46 303.98 L591.07 303.63 L591.71 303.20 L592.38 302.68 L593.07 302.10 L593.77 301.48 L594.46 300.87 L595.12 300.28 L595.74 299.74 L596.30 299.28 L596.79 298.93 L597.19 298.72 L597.51 298.65 L597.77 298.68 L597.98 298.80 L598.13 298.99 L598.23 299.25 L598.28 299.56 L598.29 299.89 L598.25 300.25 L598.18 300.61 L598.06 300.95 L597.88 301.33 L597.59 301.77 L597.23 302.27 L596.81 302.79 L596.37 303.32 L595.92 303.84 L595.50 304.33 L595.11 304.77 L594.80 305.14 L594.57 305.41 M574.47 308.98 L574.77 308.84 L575.15 308.67 L575.60 308.49 L576.10 308.27 L576.65 308.03 L577.23 307.76 L577.84 307.45 L578.47 307.11 L579.09 306.73 L579.71 306.30 L580.34 305.81 L581.01 305.25 L581.71 304.62 L582.42 303.96 L583.15 303.27 L583.88 302.57 L584.61 301.88 L585.33 301.22 L586.03 300.61 L586.70 300.06 L587.36 299.56 L588.01 299.07 L588.66 298.61 L589.30 298.17 L589.92 297.75 L590.54 297.35 L591.14 296.98 L591.72 296.64 L592.28 296.33 L592.82 296.05 L593.34 295.78 L593.86 295.53 L594.37 295.29 L594.86 295.08 L595.33 294.90 L595.78 294.76 L596.19 294.66 L596.57 294.62 L596.90 294.63 L597.19 294.71 L597.43 294.87 L597.64 295.11 L597.82 295.42 L597.96 295.78 L598.06 296.19 L598.13 296.61 L598.17 297.05 L598.17 297.48 L598.13 297.90 L598.06 298.28 L597.93 298.65 L597.72 299.05 L597.45 299.46 L597.14 299.87 L596.81 300.28 L596.47 300.67 L596.15 301.04 L595.85 301.36 L595.61 301.63 L595.44 301.84" fill="none" stroke="#0000ff" stroke-width="0.75" stroke-linejoin="round" stroke-linecap="round"/>
<path d="M658.60 156.00 L661.00 156.00 L661.00 200.40 L658.60 200.40" fill="none" stroke="#555" stroke-width="0.75" />
<text transform="translate(672.3,178.40) rotate(-90)" font-size="8" text-anchor="middle" fill="#141414">Word planning</text>
<text transform="translate(681.0,178.40) rotate(-90)" font-size="8" text-anchor="middle" fill="#141414">subspace</text>
<path d="M658.60 273.60 L661.00 273.60 L661.00 317.60 L658.60 317.60" fill="none" stroke="#555" stroke-width="0.75" />
<text transform="translate(672.3,295.80) rotate(-90)" font-size="8" text-anchor="middle" fill="#141414">Word production</text>
<text transform="translate(681.0,295.80) rotate(-90)" font-size="8" text-anchor="middle" fill="#141414">subspace</text>
</svg>
</body></html>
